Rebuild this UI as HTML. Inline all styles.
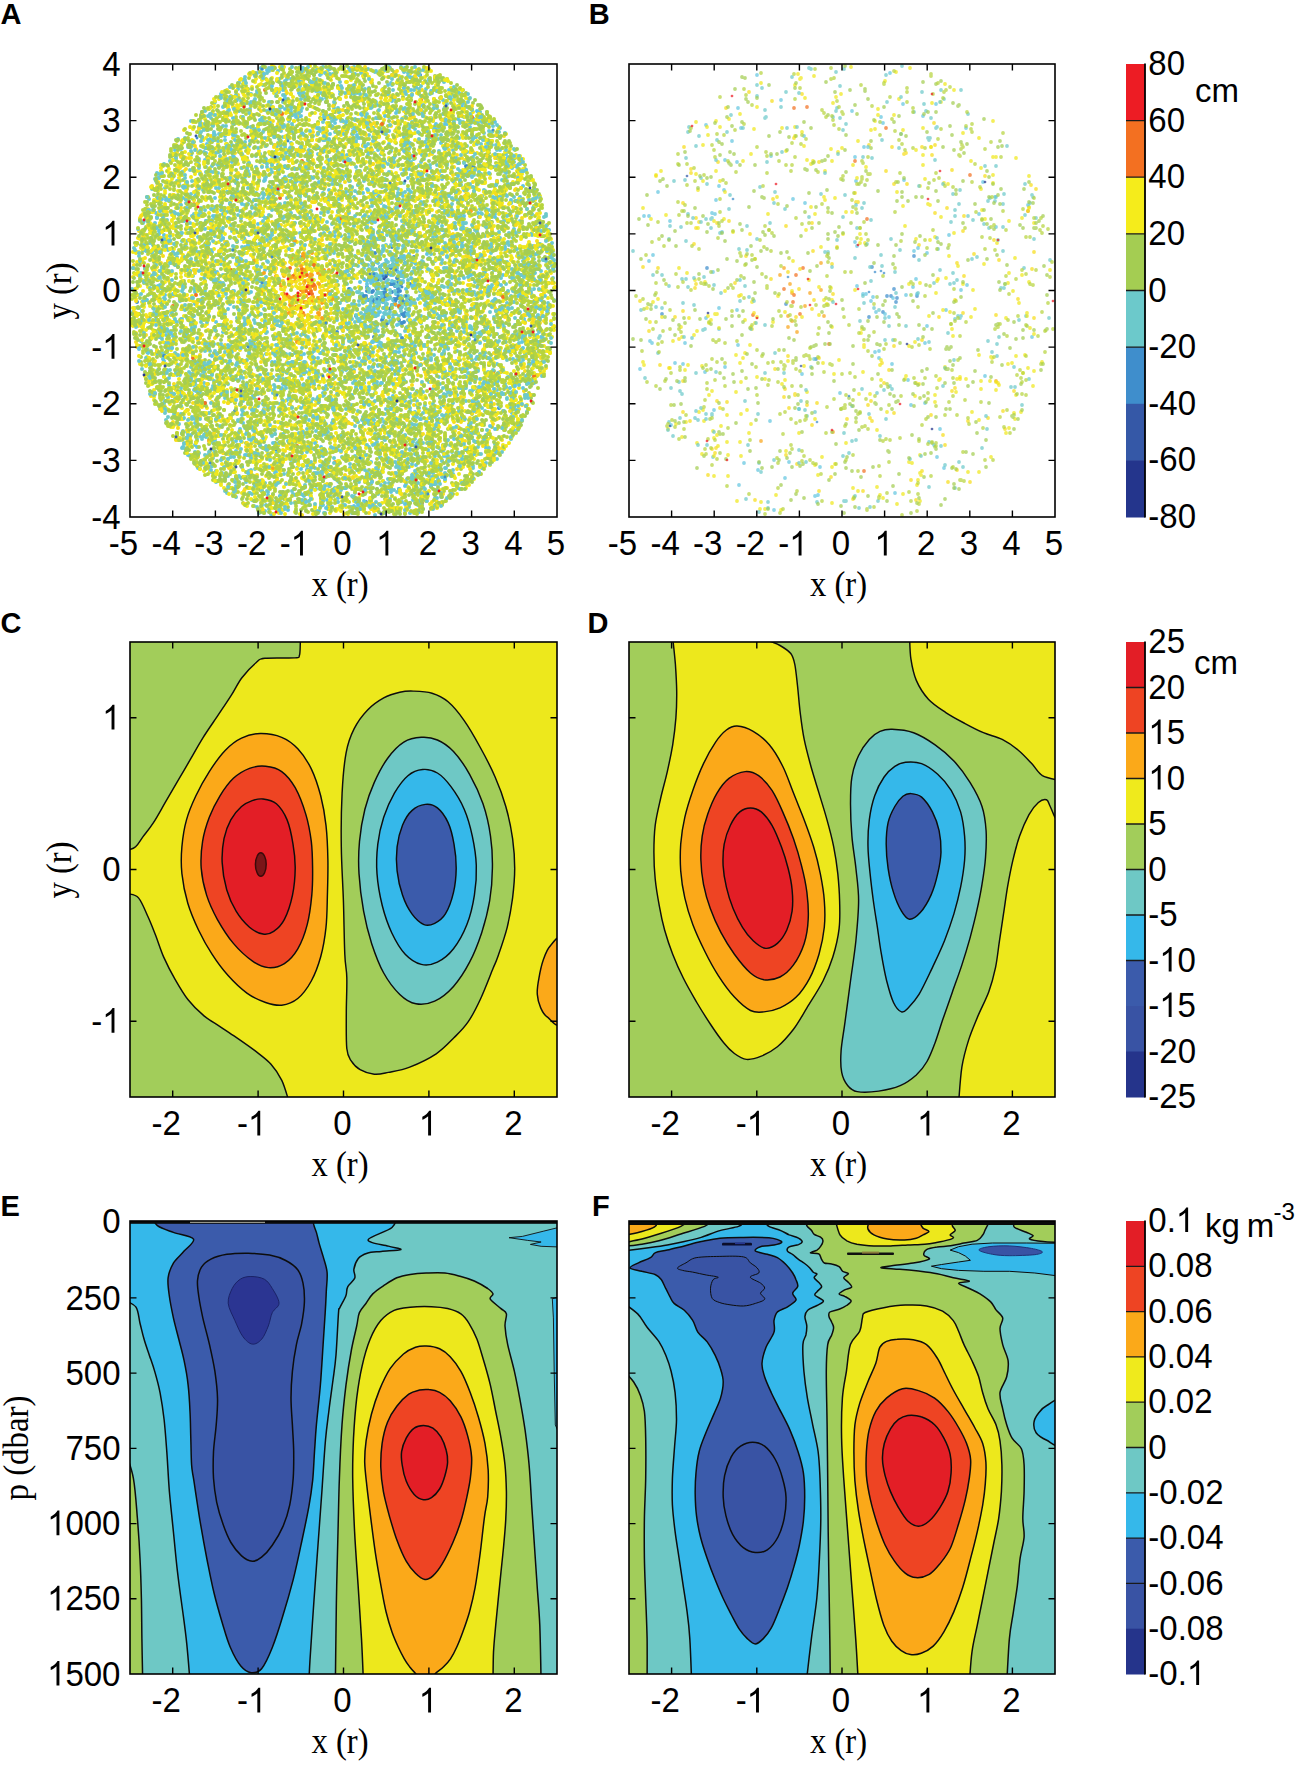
<!DOCTYPE html>
<html><head><meta charset="utf-8"><title>figure</title>
<style>html,body{margin:0;padding:0;background:#fff}svg{display:block}text{fill:#000}</style>
</head><body>
<svg width="1299" height="1769" viewBox="0 0 1299 1769">
<rect width="1299" height="1769" fill="#fff"/>
<filter id="sb" x="-2%" y="-2%" width="104%" height="104%"><feGaussianBlur stdDeviation="0.55"/></filter><g filter="url(#sb)"><path d="M265,90h0m156,10h0m-119,61h0m-22,37h0m-73,58h0m83,12h0m19,1h0m-78,1h0m72,0h0m-24,13h0m97,2h0m-61,2h0m-4,4h0m1,3h0m-3,5h0m2,2h0m-20,2h0m-118,3h0m123,1h0m-1,1h0m6,4h0m2,1h0m67,43h0m-168,23h0m257,49h0m-162,18h0m125,57h0" stroke="#F37021" stroke-width="4.0" stroke-linecap="round" fill="none"/>
<path d="M448,116h0m-79,6h0m-77,136h0m13,5h0m-2,7h0m21,0h0m5,0h0m-11,3h0m-7,1h0m1,1h0m24,0h0m-60,1h0m8,0h0m17,0h0m-1,3h0m9,2h0m-18,2h0m13,0h0m9,2h0m-32,1h0m27,0h0m7,1h0m-19,9h0m10,0h0m7,1h0m5,1h0m2,2h0m-7,1h0m-9,1h0m2,0h0m18,0h0m-16,1h0m14,0h0m-30,2h0m-6,8h0m32,0h0m1,0h0m-15,2h0m15,0h0m-10,1h0m19,1h0m-103,4h0m95,2h0m113,3h0m-141,17h0m-19,21h0m62,98h0" stroke="#F9A51C" stroke-width="4.0" stroke-linecap="round" fill="none"/>
<path d="M324,119h0m72,11h0m-115,53h0m112,5h0m-70,20h0m-104,18h0m179,19h0m-6,2h0m-17,6h0m39,4h0m-10,1h0m-5,1h0m6,4h0m-32,2h0m7,2h0m21,7h0m-27,2h0m10,2h0m10,4h0m4,0h0m-8,2h0m2,0h0m18,0h0m-15,2h0m-28,1h0m10,2h0m-10,2h0m33,0h0m-28,1h0m10,1h0m1,2h0m-17,1h0m0,1h0m28,2h0m2,0h0m14,0h0m-42,1h0m33,2h0m3,0h0m-9,2h0m-4,4h0m-35,8h0m26,4h0m22,2h0m17,0h0m-84,10h0m37,5h0m36,1h0m89,70h0m-100,81h0m-33,13h0" stroke="#3F8ECC" stroke-width="4.0" stroke-linecap="round" fill="none"/>
<path d="M303,68h0m41,0h0m5,0h0m56,0h0m-77,2h0m-25,1h0m4,0h0m-50,2h0m76,1h0m22,0h0m59,3h0m-171,3h0m42,5h0m44,1h0m32,0h0m-21,5h0m92,0h0m-128,6h0m22,1h0m69,1h0m56,0h0m-40,1h0m-157,1h0m-2,2h0m128,2h0m-92,1h0m135,0h0m35,0h0m4,0h0m-182,2h0m129,0h0m-170,3h0m62,0h0m39,0h0m-39,5h0m-3,1h0m38,2h0m122,0h0m16,0h0m-214,1h0m173,1h0m46,0h0m-245,3h0m96,0h0m117,0h0m-228,3h0m251,0h0m-138,1h0m168,0h0m-244,1h0m133,2h0m-98,1h0m1,1h0m65,2h0m-132,1h0m88,0h0m-30,1h0m-33,4h0m191,2h0m-234,1h0m156,1h0m-114,1h0m89,0h0m-47,1h0m75,0h0m44,0h0m96,0h0m-216,1h0m-115,2h0m44,0h0m73,0h0m135,0h0m73,0h0m-132,2h0m-186,1h0m78,1h0m47,0h0m-116,1h0m99,0h0m160,0h0m-55,1h0m-108,1h0m153,0h0m56,0h0m12,0h0m-300,1h0m262,1h0m35,0h0m-300,1h0m275,2h0m-146,2h0m12,1h0m163,1h0m-290,1h0m148,1h0m63,0h0m82,0h0m-155,3h0m114,0h0m-2,1h0m12,2h0m-11,1h0m-185,2h0m-126,1h0m124,1h0m60,0h0m99,0h0m-235,1h0m52,0h0m260,0h0m-222,1h0m200,0h0m-225,1h0m-93,2h0m253,0h0m37,1h0m54,1h0m-141,1h0m-198,1h0m145,2h0m80,0h0m-68,2h0m-18,1h0m-17,1h0m-67,1h0m139,1h0m25,0h0m66,0h0m68,0h0m-40,1h0m23,0h0m-337,1h0m32,0h0m17,0h0m42,1h0m-108,1h0m130,0h0m32,1h0m53,2h0m-44,2h0m81,3h0m-256,1h0m268,1h0m-39,1h0m-235,2h0m46,1h0m61,2h0m32,0h0m89,0h0m-21,1h0m-223,4h0m44,0h0m279,1h0m-308,1h0m234,0h0m-131,1h0m55,0h0m0,2h0m225,2h0m-210,1h0m128,0h0m10,0h0m-3,1h0m86,0h0m-167,3h0m63,1h0m-281,1h0m57,0h0m181,0h0m-67,1h0m6,0h0m50,0h0m52,0h0m-142,1h0m91,1h0m50,0h0m71,0h0m-133,1h0m-210,1h0m214,0h0m14,0h0m8,1h0m67,2h0m-245,1h0m127,0h0m-202,1h0m138,0h0m-67,1h0m146,1h0m151,0h0m-151,2h0m13,0h0m20,0h0m-163,5h0m115,2h0m176,0h0m-139,2h0m87,0h0m-78,1h0m-31,1h0m22,0h0m-16,2h0m-164,1h0m166,0h0m176,0h0m-158,1h0m-157,1h0m115,0h0m14,0h0m14,0h0m38,0h0m127,1h0m-31,1h0m38,0h0m-166,1h0m59,1h0m-79,1h0m34,1h0m49,0h0m-67,1h0m9,0h0m21,0h0m-31,1h0m-1,1h0m-5,1h0m16,0h0m110,0h0m-103,1h0m-196,2h0m150,0h0m-93,2h0m139,1h0m3,0h0m-30,1h0m4,0h0m9,0h0m17,0h0m-32,1h0m67,0h0m19,0h0m-90,1h0m11,0h0m21,2h0m-245,1h0m335,0h0m-122,1h0m16,0h0m16,0h0m93,0h0m-35,2h0m-224,1h0m111,0h0m108,0h0m-236,1h0m35,0h0m179,1h0m-68,1h0m-224,1h0m283,1h0m-218,2h0m36,0h0m183,0h0m8,0h0m-28,1h0m16,0h0m-51,1h0m19,0h0m64,1h0m-73,1h0m25,0h0m5,0h0m38,0h0m47,0h0m-297,1h0m168,0h0m79,0h0m8,0h0m-255,1h0m253,0h0m-48,1h0m-14,1h0m-251,2h0m208,1h0m182,1h0m-392,2h0m247,0h0m-2,1h0m0,0h0m-207,2h0m218,0h0m141,0h0m-180,1h0m26,0h0m45,0h0m55,1h0m-288,1h0m205,0h0m34,0h0m97,1h0m-113,2h0m107,0h0m-327,1h0m25,0h0m194,0h0m-145,1h0m97,0h0m59,0h0m-161,1h0m-8,4h0m112,0h0m93,0h0m-265,1h0m280,0h0m-94,2h0m30,0h0m-185,1h0m252,1h0m-300,1h0m222,0h0m49,0h0m67,1h0m-164,1h0m19,0h0m-185,2h0m161,0h0m100,1h0m-124,1h0m35,0h0m21,1h0m114,0h0m-111,1h0m-205,1h0m112,0h0m104,0h0m-176,1h0m24,0h0m154,1h0m-14,1h0m160,0h0m-151,1h0m128,0h0m-196,1h0m-173,1h0m204,0h0m46,3h0m143,0h0m-172,1h0m-210,1h0m59,0h0m50,0h0m38,0h0m64,3h0m-50,1h0m195,1h0m4,1h0m-353,1h0m108,1h0m249,1h0m-242,1h0m20,0h0m198,0h0m25,0h0m12,0h0m-321,1h0m25,1h0m140,0h0m-9,2h0m31,0h0m-233,2h0m143,0h0m44,0h0m-39,1h0m135,0h0m3,0h0m9,0h0m-147,1h0m160,0h0m-39,1h0m59,3h0m-222,1h0m110,0h0m-22,1h0m30,1h0m-77,1h0m41,0h0m-164,1h0m238,1h0m67,0h0m-310,1h0m178,0h0m170,0h0m-251,1h0m213,0h0m-327,1h0m55,0h0m61,0h0m41,1h0m187,0h0m-319,4h0m108,0h0m54,0h0m141,0h0m-264,1h0m-33,1h0m312,0h0m-239,1h0m95,0h0m-176,1h0m66,0h0m152,0h0m54,0h0m-112,1h0m-99,1h0m140,0h0m50,0h0m-47,1h0m-221,2h0m132,0h0m-20,1h0m18,0h0m100,1h0m39,0h0m-178,3h0m14,0h0m9,0h0m-4,3h0m215,0h0m0,0h0m-60,1h0m-176,1h0m55,1h0m91,1h0m-167,1h0m172,0h0m97,1h0m-79,2h0m-30,1h0m11,0h0m-203,3h0m210,0h0m40,0h0m2,1h0m49,2h0m-192,2h0m6,0h0m109,3h0m-43,2h0m122,1h0m-38,1h0m-289,1h0m278,0h0m-274,3h0m125,1h0m-81,1h0m5,1h0m138,0h0m-181,1h0m18,1h0m204,1h0m57,1h0m-118,2h0m-119,1h0m45,0h0m-87,2h0m22,0h0m74,0h0m28,0h0m-13,1h0m28,0h0m-122,2h0m124,0h0m159,0h0m-311,1h0m112,1h0m20,0h0m8,0h0m117,0h0m14,0h0m-212,3h0m38,1h0m161,0h0m-164,2h0m142,0h0m-33,1h0m-162,2h0m144,1h0m27,0h0m49,0h0m-219,4h0m53,0h0m41,0h0m87,1h0m-211,1h0m284,0h0m-104,1h0m-162,2h0m217,1h0m46,0h0m-257,1h0m92,1h0m56,0h0m45,0h0m7,1h0m-98,3h0m59,3h0m16,8h0m12,2h0m-128,1h0m108,0h0m-156,1h0m-2,1h0m108,3h0m-3,1h0m16,0h0m18,0h0m-92,2h0m47,0h0m86,0h0m-115,2h0m91,3h0m-61,1h0m64,3h0m31,0h0m-161,1h0m26,0h0m106,0h0m-75,1h0m65,1h0" stroke="#62C6E0" stroke-width="4.0" stroke-linecap="round" fill="none"/>
<path d="M272,66h0m57,1h0m5,2h0m-43,3h0m12,0h0m44,0h0m-61,4h0m102,1h0m-107,1h0m72,0h0m-36,1h0m-14,2h0m25,4h0m-17,1h0m0,0h0m-67,3h0m77,0h0m113,0h0m-12,1h0m-5,3h0m-179,2h0m226,0h0m-233,1h0m159,0h0m33,1h0m-106,4h0m117,4h0m-65,1h0m27,0h0m-161,2h0m153,0h0m-101,2h0m53,0h0m46,1h0m-52,1h0m-52,1h0m4,0h0m-8,1h0m52,1h0m-33,1h0m137,2h0m53,1h0m-103,1h0m-90,1h0m-100,1h0m255,0h0m-247,2h0m76,0h0m137,0h0m54,0h0m-105,1h0m-16,1h0m28,0h0m-125,1h0m41,0h0m21,1h0m-81,2h0m21,1h0m94,1h0m-122,1h0m9,0h0m195,1h0m-102,1h0m-41,1h0m102,0h0m-109,1h0m184,0h0m37,0h0m-238,1h0m73,0h0m60,1h0m-78,1h0m-135,1h0m168,0h0m148,2h0m7,0h0m-130,1h0m-94,1h0m35,0h0m21,1h0m125,0h0m-227,3h0m124,1h0m11,0h0m-62,1h0m91,0h0m-188,1h0m210,0h0m49,0h0m3,0h0m-296,1h0m21,0h0m222,0h0m-247,2h0m146,0h0m41,0h0m97,0h0m-121,1h0m8,0h0m-155,2h0m273,0h0m-117,1h0m-15,2h0m127,0h0m46,0h0m-229,1h0m37,0h0m66,0h0m76,0h0m-204,1h0m273,0h0m-304,1h0m133,0h0m22,0h0m46,1h0m-198,1h0m30,0h0m247,0h0m-214,1h0m33,0h0m65,0h0m72,0h0m-277,1h0m101,0h0m17,1h0m183,0h0m-247,1h0m74,0h0m100,0h0m68,0h0m-91,1h0m55,0h0m80,0h0m-253,1h0m110,0h0m134,0h0m-298,1h0m120,0h0m31,0h0m100,0h0m-260,1h0m264,0h0m-95,2h0m-111,1h0m114,0h0m62,0h0m-93,1h0m-120,1h0m73,0h0m135,0h0m28,0h0m-102,1h0m129,2h0m-113,2h0m-178,1h0m106,0h0m159,0h0m18,0h0m-325,1h0m165,0h0m-160,1h0m54,0h0m114,0h0m112,0h0m97,1h0m-243,1h0m225,0h0m-166,1h0m110,2h0m-1,1h0m-20,1h0m3,0h0m25,0h0m-279,1h0m-18,2h0m63,0h0m85,0h0m20,0h0m35,0h0m109,0h0m-279,1h0m120,0h0m26,1h0m-44,3h0m156,0h0m-281,1h0m312,0h0m17,1h0m17,0h0m-117,1h0m116,0h0m-264,3h0m11,0h0m119,2h0m-204,1h0m176,0h0m53,0h0m-249,1h0m50,0h0m82,0h0m155,0h0m63,1h0m-110,1h0m-21,1h0m31,1h0m32,0h0m62,0h0m-259,1h0m189,0h0m48,0h0m41,1h0m-303,1h0m84,1h0m176,0h0m-168,1h0m27,0h0m152,0h0m-55,1h0m-189,1h0m180,0h0m-167,1h0m212,1h0m-306,1h0m67,0h0m61,0h0m13,0h0m-84,2h0m28,0h0m194,0h0m26,0h0m-210,1h0m12,0h0m168,0h0m84,0h0m-120,1h0m-130,1h0m33,0h0m-100,1h0m74,0h0m45,0h0m80,0h0m-150,1h0m-19,1h0m64,0h0m144,0h0m-308,1h0m-2,1h0m404,0h0m-225,1h0m-54,1h0m231,0h0m-61,1h0m-193,1h0m26,0h0m275,0h0m-269,1h0m-52,1h0m286,0h0m-345,2h0m256,0h0m82,0h0m-213,1h0m19,0h0m241,0h0m-230,1h0m-166,1h0m337,0h0m20,0h0m17,0h0m-335,1h0m357,0h0m-289,1h0m39,0h0m162,0h0m-206,1h0m34,0h0m55,0h0m67,2h0m-109,1h0m139,1h0m53,6h0m-220,1h0m24,0h0m162,0h0m-305,1h0m319,0h0m-267,1h0m67,0h0m205,0h0m67,0h0m-270,1h0m14,0h0m149,0h0m12,0h0m-179,1h0m203,0h0m-313,1h0m23,1h0m146,0h0m-31,2h0m45,0h0m-194,1h0m28,0h0m16,0h0m123,0h0m-24,1h0m10,0h0m-97,1h0m261,0h0m30,0h0m-45,1h0m-172,1h0m12,0h0m28,0h0m157,0h0m-342,1h0m87,0h0m80,0h0m37,0h0m-53,1h0m16,0h0m-172,1h0m136,2h0m-127,1h0m27,1h0m135,1h0m-14,1h0m205,0h0m-43,1h0m-272,2h0m317,0h0m-212,1h0m7,0h0m28,0h0m223,0h0m-235,1h0m-173,1h0m18,0h0m5,0h0m322,0h0m-283,1h0m127,0h0m190,1h0m-288,1h0m94,0h0m149,1h0m39,0h0m36,0h0m-222,1h0m4,1h0m178,0h0m-331,1h0m11,0h0m61,1h0m39,0h0m46,1h0m-140,2h0m305,0h0m25,0h0m-290,1h0m71,0h0m193,0h0m-344,1h0m140,0h0m29,0h0m224,1h0m-361,3h0m116,0h0m187,0h0m48,0h0m-246,3h0m10,0h0m-7,1h0m170,0h0m-184,1h0m6,0h0m215,1h0m-361,1h0m26,0h0m82,0h0m87,0h0m123,0h0m-246,2h0m298,0h0m-372,1h0m207,0h0m139,0h0m-203,1h0m258,1h0m-226,1h0m155,0h0m-251,1h0m112,0h0m122,0h0m61,0h0m-225,1h0m176,0h0m85,0h0m-402,1h0m96,0h0m307,0h0m-248,1h0m14,0h0m229,0h0m-263,1h0m22,0h0m-140,1h0m82,0h0m2,0h0m291,0h0m-168,1h0m-56,1h0m-36,1h0m18,0h0m-84,2h0m40,1h0m-112,2h0m49,0h0m128,0h0m100,0h0m20,0h0m-264,1h0m155,0h0m-178,1h0m28,0h0m188,0h0m163,1h0m-228,1h0m217,0h0m28,0h0m-86,1h0m-305,1h0m158,0h0m135,0h0m-191,1h0m53,0h0m136,0h0m-145,1h0m-87,1h0m329,0h0m-125,1h0m-105,1h0m132,0h0m-293,1h0m103,0h0m11,0h0m60,0h0m67,0h0m-96,1h0m226,0h0m-275,1h0m37,0h0m-49,2h0m22,0h0m5,0h0m224,1h0m49,0h0m-304,1h0m45,0h0m212,1h0m-69,1h0m84,0h0m-324,1h0m94,0h0m4,0h0m-74,1h0m62,0h0m30,0h0m73,0h0m78,0h0m-278,1h0m58,0h0m303,1h0m-377,1h0m90,0h0m50,0h0m22,0h0m3,0h0m100,0h0m37,0h0m75,0h0m-215,1h0m56,0h0m168,0h0m-270,2h0m31,0h0m131,0h0m26,0h0m-192,1h0m26,0h0m29,0h0m-153,1h0m50,0h0m212,0h0m-4,1h0m43,0h0m-257,1h0m189,0h0m-204,1h0m86,0h0m206,0h0m-292,1h0m36,1h0m66,0h0m252,0h0m-387,1h0m55,0h0m119,0h0m27,0h0m52,0h0m65,0h0m-95,1h0m21,0h0m-182,1h0m304,0h0m-171,1h0m80,0h0m107,1h0m-390,1h0m4,0h0m84,0h0m11,0h0m2,0h0m-79,1h0m245,0h0m8,0h0m21,0h0m23,0h0m-246,1h0m42,1h0m190,0h0m-186,1h0m10,0h0m147,1h0m54,0h0m-332,2h0m251,0h0m132,2h0m-358,1h0m353,0h0m-340,1h0m172,0h0m39,0h0m81,2h0m27,0h0m-300,1h0m231,0h0m50,0h0m-122,1h0m130,0h0m-319,1h0m118,0h0m-125,1h0m137,0h0m31,0h0m69,0h0m-217,3h0m265,0h0m-123,1h0m72,0h0m107,0h0m-359,1h0m282,0h0m47,0h0m-234,2h0m115,0h0m43,1h0m-104,1h0m-128,1h0m319,0h0m-279,1h0m-19,1h0m35,0h0m284,0h0m1,0h0m-223,1h0m204,0h0m-179,1h0m99,0h0m-83,1h0m14,0h0m-143,1h0m43,0h0m161,1h0m-87,1h0m4,0h0m170,0h0m-318,1h0m89,0h0m19,0h0m52,0h0m6,0h0m-179,1h0m314,1h0m-20,1h0m-278,1h0m22,3h0m113,0h0m-62,1h0m242,0h0m-270,1h0m98,0h0m-103,1h0m258,0h0m30,1h0m-333,1h0m184,0h0m44,0h0m-223,3h0m252,0h0m-143,1h0m14,0h0m98,1h0m35,2h0m-247,1h0m137,1h0m-69,1h0m179,0h0m-228,1h0m41,0h0m78,0h0m-112,2h0m41,0h0m62,2h0m47,0h0m38,0h0m31,0h0m-245,1h0m177,0h0m-33,1h0m-153,1h0m192,0h0m20,1h0m50,0h0m-99,1h0m-60,1h0m10,1h0m75,1h0m-49,1h0m181,1h0m-260,1h0m264,0h0m-30,1h0m-130,1h0m130,0h0m-187,1h0m108,1h0m12,0h0m29,1h0m-221,1h0m172,1h0m86,0h0m-169,1h0m43,1h0m41,1h0m-191,1h0m194,0h0m10,0h0m43,1h0m-127,2h0m153,0h0m-78,1h0m42,0h0m-106,1h0m77,2h0m-172,1h0m62,0h0m60,0h0m-124,1h0m42,0h0m166,1h0m20,0h0m-40,1h0m-25,3h0m38,0h0m-173,2h0m88,0h0m93,0h0m-85,2h0m65,0h0m-156,3h0m174,2h0m-13,1h0m2,0h0m-107,1h0m-90,1h0m195,1h0m-118,1h0m85,0h0m1,1h0m56,0h0m-202,1h0m165,1h0m-78,1h0m103,0h0m16,0h0m-66,2h0m16,1h0m1,0h0m41,0h0m-195,2h0m168,3h0m-107,2h0m12,0h0m-26,1h0m79,2h0m-90,1h0m26,0h0m62,0h0m-57,1h0m14,1h0m108,1h0m-6,1h0m-15,1h0m-47,3h0m-25,1h0m-42,1h0" stroke="#F6DD1B" stroke-width="4.0" stroke-linecap="round" fill="none"/>
<path d="M310,66h0m-36,1h0m43,1h0m25,1h0m15,0h0m-85,1h0m88,0h0m57,0h0m-54,1h0m42,0h0m14,0h0m6,0h0m-88,1h0m46,0h0m-134,2h0m6,1h0m8,0h0m1,0h0m130,1h0m5,0h0m-112,1h0m82,0h0m56,0h0m-163,1h0m10,0h0m-16,1h0m40,0h0m2,1h0m33,0h0m20,0h0m21,0h0m-50,1h0m91,1h0m-129,1h0m20,1h0m-45,1h0m177,0h0m-201,1h0m4,0h0m43,0h0m-30,1h0m41,0h0m48,0h0m59,0h0m-82,1h0m87,0h0m46,0h0m-93,1h0m58,0h0m-68,1h0m0,0h0m60,1h0m-160,1h0m26,1h0m58,1h0m14,0h0m-16,1h0m94,0h0m38,1h0m-235,1h0m66,0h0m38,0h0m8,1h0m47,0h0m80,0h0m-252,1h0m5,0h0m8,0h0m130,0h0m-57,1h0m85,0h0m13,0h0m22,0h0m-130,1h0m64,0h0m5,0h0m88,0h0m-60,1h0m38,0h0m19,1h0m-230,1h0m240,0h0m-217,1h0m62,0h0m-55,1h0m22,0h0m189,0h0m4,0h0m-245,1h0m19,0h0m80,0h0m-85,1h0m45,0h0m-39,1h0m228,0h0m-256,1h0m131,0h0m10,1h0m-123,1h0m45,0h0m121,0h0m75,0h0m8,0h0m-243,1h0m85,0h0m69,0h0m22,0h0m42,0h0m5,0h0m-160,1h0m28,0h0m37,0h0m-148,1h0m122,0h0m33,0h0m-140,1h0m55,0h0m100,0h0m109,0h0m-287,1h0m49,0h0m12,0h0m75,0h0m12,0h0m75,0h0m65,0h0m-122,1h0m81,0h0m32,0h0m4,1h0m-215,1h0m39,0h0m-115,1h0m100,0h0m73,0h0m-152,1h0m51,0h0m78,0h0m-135,1h0m109,0h0m9,0h0m50,0h0m-138,1h0m68,0h0m45,0h0m113,0h0m-110,1h0m26,0h0m49,0h0m-149,1h0m1,0h0m162,0h0m13,0h0m-267,1h0m147,0h0m35,0h0m41,0h0m19,0h0m-33,1h0m41,0h0m-247,1h0m11,0h0m97,0h0m127,0h0m-70,1h0m24,0h0m116,0h0m-269,1h0m2,0h0m27,0h0m14,0h0m123,0h0m-54,1h0m34,0h0m4,0h0m47,0h0m-171,1h0m68,0h0m17,0h0m71,0h0m37,0h0m-222,1h0m3,0h0m81,0h0m51,0h0m24,0h0m121,0h0m-235,1h0m70,0h0m149,0h0m-212,1h0m119,0h0m50,0h0m43,0h0m-205,1h0m51,0h0m14,1h0m58,0h0m36,0h0m-257,1h0m66,0h0m34,0h0m155,0h0m43,0h0m-282,1h0m53,0h0m11,0h0m60,0h0m62,0h0m26,0h0m-24,1h0m65,0h0m21,0h0m-93,1h0m-122,1h0m213,0h0m15,0h0m0,0h0m-308,1h0m36,0h0m45,0h0m223,0h0m-310,1h0m27,0h0m204,0h0m-199,1h0m147,0h0m88,0h0m1,0h0m44,0h0m19,0h0m-329,1h0m2,0h0m125,0h0m-89,1h0m31,0h0m80,0h0m176,0h0m-226,1h0m91,0h0m14,0h0m48,0h0m80,0h0m-314,1h0m24,0h0m76,0h0m57,0h0m66,0h0m1,0h0m-161,1h0m41,0h0m82,0h0m-197,1h0m32,0h0m141,0h0m37,0h0m-110,1h0m58,0h0m134,0h0m-52,1h0m18,0h0m-131,1h0m114,0h0m3,0h0m-247,1h0m31,0h0m212,0h0m-88,1h0m70,0h0m36,0h0m-252,1h0m95,0h0m103,0h0m63,0h0m-179,1h0m84,0h0m87,0h0m67,0h0m12,0h0m-350,1h0m58,0h0m158,0h0m76,0h0m-236,1h0m8,0h0m284,0h0m-243,1h0m88,0h0m15,0h0m93,0h0m-255,1h0m9,0h0m86,0h0m92,0h0m46,0h0m47,0h0m-273,1h0m46,0h0m120,0h0m-231,1h0m4,0h0m14,0h0m231,0h0m-131,1h0m115,0h0m18,0h0m99,0h0m-225,1h0m-76,1h0m31,0h0m6,0h0m74,0h0m187,0h0m-277,1h0m149,0h0m21,0h0m79,0h0m-288,1h0m2,0h0m16,0h0m129,0h0m124,0h0m-279,1h0m13,0h0m83,0h0m44,0h0m26,0h0m-188,1h0m84,0h0m72,0h0m5,0h0m91,0h0m7,0h0m58,0h0m-308,1h0m4,0h0m6,1h0m35,0h0m21,0h0m169,0h0m27,0h0m54,0h0m-308,1h0m4,0h0m18,0h0m131,0h0m86,0h0m-187,1h0m0,0h0m210,0h0m21,0h0m-22,1h0m-261,1h0m31,0h0m123,0h0m116,0h0m31,0h0m10,0h0m-286,2h0m327,0h0m-364,1h0m138,0h0m108,0h0m-255,1h0m28,0h0m67,0h0m118,0h0m4,0h0m15,0h0m123,0h0m-316,1h0m16,0h0m4,1h0m30,0h0m7,0h0m176,0h0m97,0h0m-357,1h0m15,0h0m29,0h0m30,0h0m6,0h0m43,0h0m96,0h0m-185,1h0m46,0h0m140,0h0m32,0h0m-215,1h0m1,0h0m18,0h0m4,0h0m45,0h0m38,0h0m108,0h0m34,0h0m54,0h0m-283,1h0m108,0h0m54,0h0m81,0h0m31,0h0m-301,1h0m58,0h0m105,0h0m133,0h0m-187,1h0m3,0h0m40,0h0m67,0h0m88,0h0m-348,1h0m20,0h0m89,0h0m17,0h0m201,0h0m9,0h0m11,0h0m-192,1h0m55,0h0m11,0h0m4,0h0m116,0h0m-252,1h0m240,0h0m-220,1h0m21,0h0m88,0h0m11,0h0m12,0h0m34,0h0m40,0h0m12,0h0m-311,1h0m61,0h0m153,0h0m113,0h0m-187,1h0m75,0h0m17,0h0m-236,1h0m121,0h0m146,0h0m91,0h0m-304,1h0m22,0h0m96,0h0m56,0h0m22,0h0m15,0h0m9,0h0m34,1h0m41,0h0m-365,1h0m112,0h0m76,0h0m103,0h0m14,0h0m72,0h0m4,0h0m-304,1h0m231,0h0m-198,1h0m7,0h0m0,0h0m80,0h0m25,0h0m102,0h0m-150,1h0m174,0h0m-305,1h0m50,0h0m41,0h0m101,0h0m9,0h0m63,0h0m-186,1h0m74,0h0m189,0h0m1,0h0m-374,1h0m31,0h0m24,0h0m115,0h0m7,0h0m88,0h0m105,0h0m-188,1h0m153,0h0m5,0h0m-237,1h0m86,0h0m89,0h0m49,0h0m3,0h0m-347,1h0m74,0h0m36,0h0m15,0h0m106,0h0m139,0h0m9,0h0m-298,1h0m95,0h0m86,0h0m19,0h0m3,0h0m-251,1h0m42,0h0m79,0h0m47,0h0m21,0h0m-38,1h0m49,0h0m29,0h0m48,0h0m36,0h0m27,0h0m-338,1h0m73,0h0m22,0h0m104,0h0m158,0h0m-397,1h0m217,0h0m13,0h0m12,0h0m121,0h0m-364,1h0m30,0h0m26,0h0m329,0h0m-341,1h0m48,0h0m10,0h0m5,0h0m88,0h0m3,0h0m27,0h0m103,0h0m20,0h0m-291,1h0m103,0h0m78,0h0m23,0h0m76,0h0m8,0h0m-347,1h0m17,0h0m6,0h0m56,0h0m49,0h0m44,0h0m-172,1h0m24,0h0m86,0h0m54,0h0m31,0h0m14,0h0m4,0h0m29,0h0m33,0h0m29,0h0m60,0h0m34,0h0m-375,1h0m9,0h0m96,0h0m12,0h0m26,0h0m101,0h0m-235,1h0m56,0h0m26,0h0m34,0h0m57,1h0m128,0h0m42,0h0m-365,1h0m18,0h0m44,0h0m8,0h0m41,0h0m193,0h0m-303,1h0m12,0h0m24,0h0m6,0h0m147,0h0m64,0h0m116,0h0m-300,1h0m22,0h0m26,0h0m40,0h0m59,0h0m15,0h0m27,0h0m-215,1h0m173,0h0m94,0h0m59,0h0m-355,1h0m100,0h0m28,0h0m31,0h0m126,0h0m39,0h0m12,0h0m35,0h0m-361,1h0m15,0h0m18,0h0m-22,1h0m25,0h0m138,0h0m75,0h0m43,0h0m57,0h0m-332,1h0m102,0h0m9,0h0m64,0h0m169,0h0m-208,1h0m220,0h0m-388,1h0m63,0h0m22,0h0m30,0h0m174,0h0m15,0h0m-278,1h0m64,0h0m41,0h0m148,0h0m93,0h0m9,0h0m7,0h0m-354,1h0m63,0h0m15,0h0m12,0h0m126,0h0m3,0h0m44,0h0m-284,1h0m21,0h0m74,0h0m85,0h0m27,0h0m2,0h0m13,0h0m12,0h0m85,0h0m-325,1h0m24,0h0m2,0h0m186,0h0m3,0h0m142,0h0m-365,1h0m20,0h0m24,0h0m98,0h0m37,0h0m-200,1h0m326,0h0m30,0h0m-354,1h0m204,0h0m31,0h0m176,0h0m-382,1h0m150,0h0m37,0h0m120,0h0m-222,1h0m214,0h0m11,0h0m17,0h0m-332,1h0m55,0h0m25,0h0m53,0h0m232,0h0m-227,1h0m158,0h0m33,0h0m14,0h0m-361,1h0m18,0h0m27,0h0m85,0h0m173,0h0m29,0h0m-219,1h0m59,0h0m4,0h0m8,0h0m100,0h0m98,0h0m-109,1h0m38,0h0m-310,1h0m47,0h0m30,0h0m32,0h0m31,0h0m156,0h0m12,0h0m2,0h0m66,0h0m2,0h0m10,0h0m-376,1h0m65,0h0m38,0h0m184,0h0m-272,1h0m83,0h0m181,0h0m62,0h0m-223,1h0m57,0h0m61,0h0m-239,1h0m130,0h0m120,0h0m-273,1h0m195,0h0m119,0h0m6,0h0m94,0h0m-386,1h0m41,0h0m117,0h0m78,0h0m104,0h0m37,0h0m-314,1h0m256,0h0m70,0h0m-380,1h0m72,0h0m160,0h0m81,0h0m-206,1h0m32,0h0m29,0h0m173,0h0m6,0h0m-310,1h0m283,0h0m-166,1h0m125,0h0m-152,1h0m20,0h0m175,0h0m-310,1h0m23,0h0m91,0h0m2,0h0m183,0h0m9,0h0m8,0h0m13,0h0m-371,1h0m174,0h0m84,0h0m87,0h0m-294,1h0m22,0h0m77,0h0m24,0h0m185,0h0m6,0h0m9,0h0m-321,1h0m91,0h0m31,0h0m164,0h0m-254,1h0m78,0h0m24,0h0m36,0h0m55,0h0m-226,1h0m9,0h0m0,0h0m81,0h0m26,0h0m111,0h0m110,0h0m11,1h0m-333,1h0m18,0h0m82,0h0m119,0h0m43,0h0m64,0h0m-305,1h0m41,0h0m46,0h0m3,0h0m100,0h0m18,0h0m40,0h0m-170,1h0m160,0h0m29,0h0m-179,1h0m122,0h0m-279,1h0m47,0h0m96,0h0m30,0h0m37,0h0m58,0h0m11,0h0m15,0h0m-113,1h0m4,0h0m123,0h0m4,0h0m75,0h0m-401,1h0m27,0h0m9,0h0m125,0h0m245,0h0m-349,1h0m102,0h0m54,0h0m134,0h0m33,0h0m-313,1h0m2,0h0m127,0h0m145,0h0m13,0h0m-341,1h0m301,0h0m74,0h0m-352,1h0m111,0h0m5,0h0m24,0h0m132,0h0m2,0h0m-304,1h0m336,0h0m40,0h0m-373,1h0m80,0h0m-4,1h0m69,0h0m32,0h0m34,0h0m74,0h0m94,0h0m-384,1h0m40,0h0m81,0h0m21,0h0m-126,1h0m55,0h0m18,0h0m37,0h0m57,0h0m164,0h0m-257,1h0m70,0h0m9,0h0m120,0h0m25,0h0m91,0h0m-360,1h0m70,1h0m266,0h0m-390,1h0m124,0h0m2,0h0m30,0h0m146,0h0m80,0h0m-249,1h0m-12,1h0m37,0h0m215,0h0m-340,1h0m18,0h0m37,1h0m74,0h0m237,0h0m-396,1h0m27,0h0m43,0h0m10,0h0m40,0h0m194,0h0m5,0h0m37,0h0m48,0h0m-226,1h0m17,0h0m95,0h0m37,1h0m24,0h0m-284,1h0m256,0h0m21,0h0m-350,1h0m23,0h0m9,0h0m310,0h0m53,0h0m-340,1h0m26,0h0m60,0h0m10,0h0m-56,1h0m42,0h0m61,0h0m176,0h0m-354,1h0m1,0h0m81,0h0m209,0h0m30,0h0m27,0h0m43,0h0m-412,1h0m153,0h0m222,0h0m-358,1h0m156,0h0m6,0h0m30,0h0m100,0h0m23,0h0m73,0h0m-212,1h0m77,0h0m97,0h0m-341,1h0m108,0h0m223,0h0m20,0h0m-241,1h0m7,0h0m15,0h0m45,0h0m93,0h0m54,0h0m58,0h0m-230,1h0m129,0h0m48,0h0m-289,1h0m6,0h0m3,0h0m57,0h0m59,0h0m-142,1h0m12,0h0m151,0h0m190,0h0m6,0h0m9,0h0m-353,1h0m78,0h0m71,0h0m-106,1h0m69,0h0m12,0h0m210,0h0m11,0h0m-289,1h0m184,0h0m10,0h0m26,0h0m-253,1h0m233,0h0m9,0h0m-270,1h0m144,0h0m93,0h0m45,0h0m21,0h0m44,1h0m-303,1h0m20,0h0m36,0h0m171,0h0m36,0h0m17,0h0m-160,1h0m118,0h0m-331,1h0m54,0h0m66,0h0m5,0h0m77,0h0m64,0h0m-275,1h0m47,0h0m97,0h0m-107,1h0m83,0h0m51,0h0m19,0h0m-61,1h0m9,0h0m57,0h0m4,0h0m172,0h0m14,0h0m-358,1h0m159,0h0m144,0h0m9,0h0m24,0h0m-367,1h0m36,0h0m93,0h0m73,0h0m194,0h0m-339,1h0m115,0h0m2,0h0m14,0h0m29,0h0m189,0h0m12,0h0m-378,1h0m8,0h0m58,0h0m226,0h0m-308,1h0m93,0h0m46,0h0m236,0h0m-325,1h0m144,0h0m-133,1h0m76,0h0m18,0h0m34,0h0m104,0h0m26,0h0m14,0h0m-349,1h0m151,0h0m27,0h0m134,0h0m-169,1h0m10,0h0m17,0h0m30,0h0m5,0h0m186,0h0m-389,1h0m148,0h0m22,1h0m93,0h0m122,0h0m23,0h0m-398,1h0m71,0h0m185,0h0m145,0h0m-397,1h0m251,0h0m96,0h0m-335,1h0m25,0h0m133,0h0m160,0h0m20,0h0m-262,1h0m48,0h0m10,0h0m58,0h0m55,0h0m50,0h0m16,0h0m-281,1h0m307,0h0m-184,1h0m145,0h0m50,0h0m28,0h0m-221,1h0m102,0h0m-238,1h0m133,0h0m15,0h0m70,0h0m122,0h0m22,0h0m-307,1h0m192,0h0m31,0h0m39,0h0m27,0h0m-341,1h0m44,0h0m58,0h0m139,0h0m84,0h0m8,0h0m-177,1h0m106,0h0m79,0h0m-362,1h0m4,0h0m16,0h0m99,0h0m15,0h0m84,0h0m52,0h0m8,0h0m85,0h0m8,0h0m-226,1h0m101,0h0m62,0h0m11,0h0m-287,2h0m103,0h0m153,0h0m4,0h0m-192,1h0m22,0h0m19,0h0m109,0h0m22,0h0m69,0h0m4,0h0m-379,1h0m57,0h0m14,0h0m11,0h0m36,0h0m3,0h0m54,0h0m113,0h0m66,0h0m52,0h0m-406,1h0m82,0h0m47,0h0m52,0h0m148,0h0m18,0h0m-295,1h0m311,0h0m-315,1h0m204,0h0m127,0h0m31,0h0m-400,1h0m9,0h0m14,0h0m12,0h0m24,0h0m71,0h0m46,0h0m203,0h0m-341,1h0m6,0h0m348,0h0m-13,1h0m23,0h0m-388,1h0m23,0h0m243,0h0m122,0h0m-396,1h0m113,0h0m237,0h0m-335,1h0m55,0h0m74,0h0m184,0h0m29,0h0m-324,1h0m97,0h0m105,0h0m79,0h0m-321,1h0m18,0h0m55,0h0m69,0h0m95,0h0m139,0h0m-225,1h0m190,0h0m-107,1h0m32,0h0m31,0h0m20,0h0m29,0h0m-180,1h0m92,1h0m-251,1h0m92,0h0m47,0h0m120,0h0m43,0h0m-212,1h0m30,0h0m195,0h0m25,0h0m42,0h0m-370,1h0m177,0h0m19,0h0m73,0h0m89,0h0m-35,1h0m-297,1h0m273,0h0m-239,1h0m31,0h0m128,0h0m57,0h0m-127,1h0m56,0h0m92,0h0m3,0h0m37,0h0m19,0h0m-345,1h0m211,0h0m9,1h0m-241,1h0m239,0h0m32,0h0m13,0h0m74,0h0m-282,1h0m132,0h0m91,0h0m49,0h0m-323,1h0m106,0h0m11,0h0m76,0h0m96,0h0m37,0h0m-354,1h0m33,0h0m133,0h0m167,0h0m-232,1h0m120,0h0m96,0h0m-325,1h0m4,0h0m210,0h0m8,0h0m119,0h0m24,0h0m0,0h0m-264,1h0m49,0h0m173,0h0m-262,1h0m1,0h0m25,0h0m28,0h0m29,0h0m22,0h0m2,0h0m71,0h0m42,0h0m-275,1h0m38,0h0m23,0h0m23,0h0m59,0h0m45,0h0m56,0h0m114,0h0m-136,1h0m19,0h0m78,0h0m42,0h0m2,0h0m-319,1h0m122,0h0m59,0h0m-212,1h0m128,0h0m19,0h0m9,0h0m25,0h0m86,0h0m88,0h0m-298,1h0m42,0h0m72,0h0m34,0h0m111,0h0m31,0h0m-316,1h0m101,0h0m126,0h0m37,0h0m60,0h0m-297,1h0m23,0h0m3,0h0m249,0h0m-256,1h0m64,0h0m52,0h0m156,0h0m-353,1h0m57,0h0m24,0h0m128,0h0m85,0h0m-234,1h0m131,0h0m58,0h0m47,0h0m-215,1h0m267,0h0m-354,1h0m73,0h0m23,0h0m22,0h0m90,0h0m-139,1h0m141,0h0m119,0h0m-143,1h0m66,0h0m14,0h0m58,0h0m12,0h0m-318,1h0m11,0h0m43,0h0m117,0h0m77,0h0m71,0h0m25,0h0m-295,1h0m124,0h0m43,0h0m76,0h0m20,0h0m2,0h0m11,0h0m-289,1h0m29,0h0m45,0h0m100,0h0m151,0h0m-42,1h0m20,0h0m14,0h0m-371,1h0m152,0h0m39,0h0m75,0h0m11,0h0m33,0h0m24,0h0m-278,1h0m7,0h0m114,0h0m67,0h0m34,0h0m-264,1h0m19,0h0m80,0h0m117,0h0m39,0h0m67,0h0m1,0h0m-308,1h0m109,0h0m159,0h0m32,0h0m30,0h0m3,0h0m-314,1h0m32,0h0m51,0h0m197,0h0m-253,1h0m163,0h0m-141,1h0m15,0h0m7,0h0m34,0h0m85,0h0m38,0h0m-260,1h0m178,0h0m171,0h0m-355,1h0m0,0h0m288,0h0m9,0h0m10,0h0m56,0h0m-204,1h0m14,0h0m107,0h0m63,0h0m-326,1h0m55,0h0m63,0h0m31,0h0m34,0h0m144,0h0m3,0h0m3,0h0m-307,1h0m35,0h0m69,0h0m38,0h0m164,0h0m-351,1h0m93,0h0m194,0h0m-101,1h0m164,0h0m-327,2h0m252,0h0m15,0h0m-249,1h0m7,0h0m8,0h0m43,0h0m29,0h0m98,0h0m30,0h0m80,0h0m-314,1h0m22,0h0m60,0h0m113,0h0m12,0h0m-216,1h0m110,0h0m53,0h0m38,0h0m25,0h0m35,0h0m26,0h0m17,0h0m35,0h0m-266,1h0m44,0h0m4,0h0m220,0h0m-172,1h0m160,0h0m-298,1h0m190,0h0m-213,1h0m60,0h0m40,0h0m21,0h0m86,0h0m-133,1h0m64,0h0m43,0h0m-148,1h0m5,0h0m5,0h0m39,0h0m58,0h0m21,0h0m88,0h0m9,0h0m51,0h0m26,0h0m-257,1h0m8,0h0m10,0h0m22,0h0m43,0h0m0,0h0m46,0h0m49,0h0m31,0h0m-279,1h0m75,0h0m73,0h0m-54,1h0m23,0h0m27,0h0m40,0h0m-168,1h0m44,0h0m57,0h0m7,0h0m76,0h0m23,0h0m94,0h0m-296,1h0m69,0h0m37,0h0m110,0h0m9,0h0m13,0h0m70,0h0m-349,1h0m32,0h0m8,0h0m62,0h0m2,0h0m20,0h0m32,0h0m6,0h0m55,0h0m40,0h0m11,0h0m19,0h0m-239,1h0m60,0h0m56,0h0m1,0h0m135,0h0m-139,1h0m84,0h0m57,0h0m-278,1h0m37,0h0m94,0h0m39,0h0m42,0h0m-167,1h0m63,0h0m69,0h0m83,0h0m18,0h0m-264,1h0m114,0h0m-65,1h0m122,0h0m60,0h0m-144,1h0m50,0h0m25,0h0m-128,1h0m99,0h0m9,0h0m104,0h0m14,0h0m-270,1h0m20,0h0m5,0h0m192,0h0m-150,1h0m28,0h0m192,0h0m-79,1h0m33,0h0m-200,1h0m222,0h0m26,0h0m-306,1h0m118,0h0m35,1h0m30,0h0m38,0h0m59,0h0m23,0h0m-243,1h0m12,0h0m62,0h0m153,0h0m-97,1h0m28,0h0m98,0h0m-208,1h0m148,0h0m49,0h0m-182,1h0m30,0h0m98,0h0m70,0h0m-314,1h0m155,0h0m54,0h0m33,0h0m-208,1h0m129,0h0m118,0h0m18,0h0m-223,1h0m22,0h0m18,0h0m80,0h0m-109,1h0m14,0h0m32,0h0m182,0h0m-221,1h0m21,0h0m-54,1h0m17,0h0m52,0h0m71,0h0m78,0h0m7,0h0m2,0h0m-225,1h0m21,0h0m59,0h0m9,0h0m74,0h0m-201,1h0m108,0h0m-94,1h0m49,0h0m81,0h0m33,0h0m17,0h0m36,0h0m30,0h0m-284,1h0m3,0h0m236,0h0m31,0h0m16,0h0m-210,1h0m39,0h0m58,0h0m23,0h0m67,0h0m-246,1h0m33,0h0m42,0h0m138,0h0m45,0h0m-172,1h0m10,0h0m120,0h0m11,0h0m-212,1h0m40,0h0m90,0h0m5,0h0m3,0h0m114,0h0m-271,1h0m75,0h0m60,1h0m1,0h0m53,0h0m90,0h0m-227,1h0m115,1h0m19,0h0m94,0h0m-252,1h0m43,0h0m6,0h0m97,0h0m76,0h0m11,0h0m-250,1h0m53,0h0m41,0h0m46,0h0m83,0h0m53,0h0m-264,1h0m35,0h0m10,0h0m108,0h0m89,0h0m-198,2h0m7,1h0m61,0h0m95,0h0m-172,1h0m12,0h0m1,0h0m99,0h0m52,0h0m-221,1h0m13,0h0m32,0h0m126,0h0m62,0h0m3,0h0m-208,1h0m3,0h0m16,0h0m121,0h0m-50,1h0m-105,1h0m4,0h0m48,0h0m11,0h0m133,0h0m14,0h0m32,0h0m-15,1h0m8,0h0m-239,1h0m53,0h0m38,0h0m110,0h0m-68,1h0m25,0h0m62,0h0m-97,1h0m23,0h0m35,0h0m17,0h0m-107,1h0m39,0h0m78,0h0m50,0h0m3,0h0m-241,2h0m60,0h0m4,0h0m126,0h0m4,0h0m18,0h0m-191,1h0m-33,2h0m241,0h0m-241,1h0m171,0h0m62,0h0m3,0h0m9,0h0m-198,1h0m32,0h0m56,0h0m-97,1h0m3,0h0m62,0h0m84,0h0m-184,1h0m13,0h0m11,0h0m197,0h0m21,0h0m-144,2h0m6,0h0m112,0h0m-75,1h0m74,0h0m-203,1h0m134,0h0m-137,1h0m101,0h0m13,0h0m40,0h0m32,0h0m-112,1h0m-34,1h0m10,0h0m3,0h0m62,0h0m57,1h0m-124,1h0m78,1h0m36,0h0m-74,1h0m-53,1h0m9,0h0m24,0h0m22,1h0m31,0h0m43,0h0m-12,1h0m-113,1h0m88,0h0m9,0h0m-27,2h0m38,0h0m-40,1h0m34,0h0m17,0h0m42,0h0m-87,1h0m75,0h0m-159,1h0m18,0h0m115,0h0m-57,1h0m62,0h0m-63,1h0m49,0h0m8,0h0m-58,1h0m28,0h0m36,0h0m-141,1h0m36,0h0m60,1h0m-7,1h0" stroke="#F0E81A" stroke-width="4.0" stroke-linecap="round" fill="none"/>
<path d="M300,67h0m8,0h0m46,0h0m4,0h0m43,0h0m-139,2h0m8,0h0m13,0h0m47,0h0m38,0h0m-51,1h0m48,0h0m-96,1h0m46,0h0m-48,2h0m23,0h0m46,0h0m25,0h0m-40,1h0m-1,1h0m72,0h0m16,1h0m-129,3h0m8,0h0m4,0h0m138,0h0m1,1h0m-145,1h0m25,0h0m30,1h0m86,0h0m18,0h0m-163,1h0m11,0h0m41,1h0m-70,1h0m129,0h0m-84,1h0m113,0h0m-111,1h0m28,0h0m78,0h0m38,0h0m-85,1h0m35,0h0m30,0h0m-196,1h0m45,0h0m136,0h0m7,0h0m23,1h0m-18,1h0m6,0h0m13,0h0m-171,1h0m-22,1h0m64,0h0m24,0h0m6,0h0m6,0h0m75,0h0m-131,1h0m39,0h0m11,0h0m79,0h0m-194,1h0m49,0h0m92,0h0m-147,2h0m76,0h0m57,1h0m-108,1h0m46,0h0m21,0h0m121,1h0m-71,1h0m88,0h0m-232,1h0m98,0h0m44,0h0m64,2h0m13,0h0m-146,1h0m-57,1h0m27,0h0m11,1h0m184,0h0m-164,1h0m32,0h0m4,0h0m67,0h0m-155,1h0m157,1h0m14,0h0m-216,1h0m62,0h0m3,0h0m30,0h0m23,0h0m25,0h0m74,0h0m56,1h0m2,0h0m-270,2h0m86,0h0m147,0h0m-150,1h0m69,0h0m-154,1h0m121,0h0m-39,1h0m36,0h0m7,0h0m56,0h0m75,0h0m-253,1h0m51,0h0m189,1h0m-235,1h0m67,0h0m51,0h0m21,0h0m4,0h0m-96,1h0m26,0h0m52,0h0m-18,1h0m42,0h0m47,0h0m10,0h0m47,0h0m13,0h0m-214,1h0m1,0h0m202,0h0m-190,1h0m88,0h0m85,0h0m35,0h0m-205,1h0m62,0h0m94,0h0m-217,1h0m188,0h0m-160,1h0m36,0h0m6,0h0m59,0h0m3,1h0m18,0h0m36,1h0m6,0h0m40,1h0m18,0h0m-192,1h0m19,0h0m20,0h0m33,0h0m-139,1h0m81,0h0m40,0h0m4,0h0m160,0h0m-181,1h0m130,0h0m36,0h0m21,0h0m-286,1h0m2,0h0m199,0h0m-205,1h0m154,0h0m42,0h0m30,0h0m7,0h0m14,0h0m-185,1h0m190,0h0m30,0h0m-185,1h0m61,0h0m58,0h0m-246,1h0m70,0h0m105,0h0m121,0h0m-303,1h0m32,0h0m69,0h0m50,0h0m106,0h0m-210,1h0m82,0h0m16,0h0m2,0h0m16,0h0m-123,1h0m132,0h0m6,0h0m86,0h0m48,0h0m-245,1h0m111,0h0m132,1h0m1,0h0m-211,1h0m111,0h0m39,0h0m53,0h0m-288,1h0m39,0h0m42,0h0m11,0h0m168,0h0m2,0h0m37,0h0m4,0h0m-267,1h0m48,0h0m8,0h0m46,0h0m117,0h0m19,0h0m-279,1h0m37,1h0m33,0h0m27,0h0m159,0h0m3,0h0m9,0h0m-275,1h0m56,0h0m72,1h0m69,0h0m75,0h0m-253,1h0m97,0h0m40,0h0m54,0h0m48,0h0m-240,1h0m1,0h0m4,0h0m15,0h0m29,0h0m27,0h0m192,0h0m-251,1h0m158,0h0m35,0h0m-236,1h0m145,0h0m63,0h0m94,0h0m31,0h0m-273,1h0m114,0h0m21,0h0m54,0h0m4,0h0m86,0h0m-240,1h0m140,0h0m-138,1h0m3,0h0m176,0h0m20,0h0m-241,1h0m224,0h0m40,0h0m-88,1h0m6,0h0m10,0h0m75,0h0m-116,1h0m7,0h0m18,0h0m105,0h0m-343,1h0m200,0h0m-106,1h0m121,0h0m26,0h0m10,0h0m93,0h0m-206,1h0m139,0h0m-283,1h0m50,0h0m7,0h0m167,0h0m91,0h0m-201,1h0m22,0h0m130,0h0m7,0h0m4,0h0m43,0h0m-272,1h0m105,0h0m81,0h0m21,0h0m64,0h0m29,0h0m3,0h0m-309,1h0m61,0h0m126,0h0m99,0h0m2,0h0m-252,1h0m5,0h0m40,0h0m25,0h0m0,0h0m12,0h0m128,0h0m-181,1h0m30,0h0m2,0h0m5,0h0m98,0h0m52,0h0m-268,1h0m276,0h0m-272,1h0m16,0h0m38,0h0m30,0h0m64,0h0m118,0h0m6,0h0m40,0h0m-300,1h0m7,0h0m219,0h0m47,0h0m-322,1h0m120,0h0m110,1h0m15,0h0m-76,1h0m148,0h0m-304,1h0m133,0h0m126,0h0m-184,1h0m21,0h0m26,0h0m215,0h0m-242,1h0m31,0h0m34,0h0m201,0h0m-195,1h0m49,0h0m69,0h0m-122,1h0m1,0h0m-177,1h0m21,0h0m87,0h0m85,0h0m15,0h0m-63,1h0m71,0h0m82,0h0m-248,1h0m198,0h0m-98,1h0m172,0h0m35,0h0m-352,1h0m224,0h0m111,0h0m-182,2h0m196,0h0m-345,1h0m51,0h0m32,0h0m-96,1h0m123,0h0m76,0h0m16,0h0m-164,1h0m264,0h0m17,0h0m51,0h0m-317,1h0m55,0h0m82,0h0m98,0h0m32,0h0m43,0h0m-300,1h0m10,0h0m34,0h0m13,0h0m89,0h0m53,0h0m-171,1h0m102,0h0m44,0h0m-211,1h0m108,0h0m137,0h0m-177,1h0m15,0h0m25,0h0m30,0h0m177,0h0m-237,1h0m79,0h0m134,0h0m-182,1h0m39,0h0m15,0h0m34,0h0m53,0h0m-154,1h0m40,0h0m47,0h0m94,0h0m-319,1h0m110,0h0m204,0h0m-226,1h0m134,0h0m1,0h0m7,0h0m-83,1h0m102,0h0m60,0h0m-162,1h0m-11,1h0m52,0h0m14,0h0m57,0h0m122,0h0m-282,1h0m56,0h0m102,0h0m16,0h0m-241,1h0m75,0h0m-95,1h0m143,0h0m136,0h0m7,0h0m-294,1h0m62,0h0m9,1h0m1,0h0m58,0h0m-48,1h0m67,0h0m88,0h0m90,0h0m6,0h0m-281,1h0m0,0h0m8,0h0m276,0h0m-72,1h0m41,0h0m12,0h0m-299,1h0m3,0h0m53,0h0m284,0h0m-256,1h0m133,0h0m56,0h0m43,0h0m-293,1h0m57,0h0m162,0h0m48,0h0m21,0h0m13,0h0m-332,1h0m106,0h0m11,0h0m85,0h0m124,0h0m37,0h0m-209,1h0m116,0h0m113,0h0m-389,1h0m17,0h0m195,0h0m110,0h0m65,0h0m-316,1h0m92,0h0m64,0h0m-217,2h0m29,0h0m16,0h0m51,1h0m147,0h0m110,0h0m-372,1h0m223,0h0m120,0h0m-348,1h0m21,0h0m36,0h0m100,0h0m155,0h0m48,0h0m-272,2h0m304,0h0m-359,1h0m25,0h0m63,0h0m11,0h0m44,0h0m92,0h0m31,0h0m-287,2h0m35,1h0m10,0h0m19,0h0m108,0h0m87,0h0m-195,1h0m17,0h0m28,0h0m175,0h0m36,0h0m-243,1h0m157,0h0m-117,1h0m243,0h0m-334,1h0m119,0h0m49,0h0m62,0h0m98,0h0m-246,1h0m205,0h0m48,0h0m15,0h0m7,0h0m-289,1h0m71,0h0m153,0h0m59,0h0m-362,1h0m45,0h0m203,0h0m67,0h0m38,0h0m-325,1h0m203,0h0m32,0h0m-282,1h0m11,0h0m68,0h0m26,0h0m9,0h0m210,0h0m25,0h0m-258,1h0m135,0h0m84,0h0m-309,1h0m37,0h0m89,0h0m-91,1h0m20,0h0m185,0h0m-108,1h0m66,0h0m64,0h0m94,0h0m-358,1h0m26,0h0m18,0h0m1,0h0m357,0h0m-251,1h0m153,0h0m51,0h0m35,0h0m-265,1h0m111,0h0m-180,1h0m27,0h0m86,0h0m59,0h0m0,0h0m34,0h0m14,0h0m107,0h0m-377,1h0m80,0h0m6,0h0m127,0h0m56,0h0m37,0h0m6,0h0m37,0h0m-371,1h0m130,0h0m184,0h0m39,0h0m-342,1h0m20,0h0m106,0h0m219,0h0m26,0h0m1,0h0m-182,1h0m92,0h0m23,0h0m92,0h0m-159,1h0m164,0h0m6,0h0m-416,1h0m20,0h0m42,0h0m77,0h0m104,0h0m-228,1h0m68,0h0m25,0h0m63,0h0m-119,1h0m220,0h0m62,0h0m67,0h0m-339,1h0m79,0h0m115,0h0m2,0h0m-256,1h0m150,0h0m38,0h0m74,0h0m8,0h0m74,0h0m-306,1h0m56,0h0m68,0h0m-62,1h0m138,0h0m52,0h0m68,0h0m30,0h0m25,0h0m-400,1h0m39,0h0m5,1h0m28,0h0m124,0h0m108,0h0m-189,1h0m155,0h0m13,0h0m31,0h0m32,0h0m25,0h0m-333,1h0m49,0h0m149,0h0m24,0h0m11,0h0m84,0h0m-135,1h0m14,0h0m56,0h0m-264,1h0m43,0h0m16,1h0m158,0h0m142,0h0m-369,1h0m80,0h0m90,0h0m20,0h0m194,0h0m-390,1h0m65,0h0m34,0h0m119,0h0m138,0h0m-272,1h0m149,0h0m13,0h0m6,0h0m33,0h0m55,0h0m-340,1h0m1,0h0m206,0h0m46,0h0m5,0h0m118,0h0m-337,1h0m40,0h0m24,0h0m165,0h0m64,0h0m23,0h0m-247,1h0m70,0h0m104,0h0m40,0h0m-267,1h0m42,0h0m66,0h0m20,0h0m53,0h0m-257,1h0m271,0h0m56,0h0m-324,1h0m126,0h0m71,0h0m35,0h0m17,0h0m92,0h0m-345,1h0m46,0h0m37,0h0m153,0h0m10,0h0m17,0h0m-210,1h0m30,0h0m16,0h0m101,0h0m4,0h0m36,0h0m27,0h0m62,0h0m13,0h0m-342,1h0m20,0h0m189,0h0m198,0h0m-270,1h0m237,0h0m39,0h0m-393,1h0m211,0h0m102,0h0m-329,2h0m115,0h0m190,0h0m-54,1h0m-175,1h0m278,0h0m49,0h0m-200,1h0m159,0h0m-323,1h0m36,0h0m176,0h0m4,0h0m93,0h0m-113,1h0m5,1h0m60,0h0m4,0h0m-66,1h0m34,0h0m-284,1h0m32,0h0m19,0h0m11,0h0m6,0h0m150,0h0m180,0h0m4,0h0m-329,2h0m17,0h0m12,0h0m186,0h0m34,0h0m2,0h0m11,0h0m-272,1h0m174,0h0m105,0h0m46,0h0m11,0h0m-282,1h0m176,0h0m8,0h0m66,0h0m26,0h0m6,0h0m-381,1h0m91,0h0m89,0h0m16,0h0m16,0h0m36,0h0m28,0h0m-39,1h0m89,0h0m45,0h0m-367,1h0m26,0h0m180,0h0m128,0h0m23,0h0m34,0h0m-173,1h0m-208,1h0m63,0h0m135,0h0m17,0h0m3,1h0m-235,1h0m94,0h0m152,0h0m161,0h0m-374,1h0m202,0h0m20,0h0m-158,1h0m121,0h0m35,0h0m11,0h0m15,0h0m88,0h0m-249,1h0m242,0h0m41,0h0m-307,1h0m146,0h0m18,0h0m47,0h0m-56,1h0m14,0h0m66,0h0m45,0h0m-276,2h0m157,0h0m-263,1h0m70,0h0m275,0h0m-106,1h0m28,0h0m3,0h0m100,0h0m-152,1h0m8,0h0m6,0h0m61,0h0m-290,1h0m231,0h0m36,0h0m51,0h0m0,0h0m46,0h0m-338,1h0m22,0h0m54,0h0m246,0h0m-336,1h0m292,0h0m-195,1h0m136,0h0m21,0h0m29,0h0m-81,1h0m17,0h0m15,0h0m41,0h0m109,0h0m-289,1h0m119,0h0m6,0h0m56,0h0m10,0h0m-217,1h0m210,0h0m1,0h0m60,0h0m39,0h0m-346,1h0m50,0h0m2,0h0m5,0h0m175,0h0m-144,1h0m85,0h0m-115,1h0m9,0h0m83,0h0m71,0h0m-275,1h0m115,0h0m17,0h0m23,0h0m82,0h0m-193,1h0m30,0h0m38,0h0m100,0h0m10,0h0m111,0h0m29,0h0m30,0h0m-354,1h0m20,0h0m64,0h0m94,0h0m15,0h0m24,0h0m13,0h0m9,0h0m91,0h0m-349,1h0m17,0h0m22,0h0m84,0h0m124,0h0m-260,1h0m64,0h0m20,0h0m161,0h0m29,0h0m102,0h0m-253,1h0m115,0h0m-151,1h0m39,0h0m82,0h0m116,0h0m8,0h0m17,0h0m-222,1h0m184,0h0m-283,1h0m74,0h0m135,0h0m64,0h0m110,0h0m-362,1h0m116,0h0m-140,1h0m2,0h0m239,0h0m52,0h0m36,0h0m-226,1h0m63,0h0m-64,1h0m95,0h0m78,0h0m40,0h0m-319,1h0m83,0h0m254,0h0m21,0h0m-276,1h0m49,0h0m10,0h0m95,0h0m4,0h0m90,0h0m27,0h0m8,0h0m5,0h0m-374,1h0m75,0h0m149,0h0m157,0h0m-292,2h0m277,0h0m-335,1h0m97,0h0m167,0h0m18,0h0m49,0h0m-76,1h0m1,0h0m24,0h0m-217,1h0m4,0h0m49,0h0m-130,1h0m365,0h0m-392,1h0m60,0h0m59,0h0m156,0h0m-181,1h0m141,0h0m14,0h0m-119,1h0m47,0h0m14,0h0m74,0h0m58,0h0m16,0h0m-254,1h0m32,0h0m73,0h0m28,0h0m-192,2h0m56,0h0m37,0h0m13,0h0m39,0h0m195,0h0m36,1h0m-220,1h0m35,0h0m68,0h0m-280,1h0m16,0h0m43,0h0m19,0h0m3,0h0m82,0h0m9,0h0m25,0h0m109,0h0m48,0h0m-338,1h0m58,0h0m7,0h0m161,0h0m2,0h0m80,0h0m-313,1h0m3,0h0m10,0h0m98,0h0m39,0h0m59,0h0m0,0h0m24,0h0m90,0h0m45,0h0m-247,1h0m7,0h0m154,0h0m36,0h0m45,0h0m-116,1h0m4,0h0m21,0h0m-241,1h0m108,0h0m-123,1h0m208,0h0m135,0h0m-375,1h0m213,0h0m33,0h0m104,0h0m-196,1h0m190,0h0m-296,1h0m53,0h0m80,0h0m46,0h0m38,0h0m20,0h0m5,0h0m36,0h0m35,0h0m27,0h0m-310,1h0m180,0h0m52,0h0m77,0h0m-341,1h0m51,0h0m49,0h0m0,0h0m63,0h0m31,0h0m5,0h0m67,0h0m-113,1h0m92,0h0m-288,1h0m22,0h0m31,0h0m142,0h0m186,0h0m-322,1h0m170,0h0m-176,1h0m89,0h0m12,0h0m-103,1h0m251,0h0m-248,1h0m98,0h0m123,1h0m-266,1h0m345,0h0m-353,1h0m28,0h0m137,0h0m18,0h0m-144,1h0m61,0h0m80,0h0m98,0h0m60,0h0m-325,1h0m155,0h0m-125,1h0m12,0h0m17,0h0m46,0h0m48,0h0m215,0h0m-351,1h0m-16,1h0m67,0h0m70,0h0m164,0h0m77,0h0m-333,1h0m109,0h0m121,0h0m13,0h0m14,0h0m42,0h0m-185,2h0m75,0h0m58,0h0m-290,1h0m1,0h0m30,0h0m3,0h0m39,0h0m106,0h0m103,0h0m-234,1h0m47,0h0m34,0h0m3,0h0m57,0h0m-69,1h0m91,0h0m45,0h0m-227,1h0m9,0h0m87,0h0m62,0h0m29,0h0m20,1h0m92,0h0m-317,2h0m21,0h0m15,0h0m54,0h0m-63,1h0m157,0h0m85,0h0m36,0h0m-308,1h0m72,0h0m36,0h0m177,0h0m7,0h0m7,0h0m-278,1h0m17,0h0m201,0h0m20,0h0m41,0h0m-205,1h0m219,0h0m-292,1h0m10,0h0m187,0h0m28,0h0m42,0h0m-223,1h0m183,0h0m-224,1h0m103,0h0m21,0h0m0,0h0m52,0h0m77,0h0m62,0h0m-364,1h0m4,1h0m170,0h0m133,0h0m39,0h0m17,0h0m-346,1h0m156,0h0m-155,1h0m50,0h0m71,0h0m1,0h0m28,0h0m12,0h0m42,0h0m140,0h0m-287,1h0m29,0h0m36,0h0m4,0h0m25,0h0m9,0h0m35,0h0m149,0h0m1,0h0m12,0h0m-122,1h0m87,0h0m-291,2h0m44,0h0m168,0h0m6,0h0m49,0h0m-155,1h0m167,0h0m-273,1h0m6,0h0m199,0h0m43,0h0m-266,1h0m61,0h0m147,0h0m38,0h0m42,0h0m-123,1h0m65,0h0m26,0h0m-227,1h0m88,0h0m31,0h0m17,0h0m126,0h0m-223,1h0m19,0h0m-100,1h0m94,0h0m33,0h0m89,0h0m20,0h0m9,0h0m40,0h0m23,0h0m29,0h0m-259,1h0m122,0h0m12,0h0m40,0h0m8,0h0m-2,1h0m79,0h0m-26,1h0m-106,1h0m113,0h0m35,0h0m-362,1h0m44,0h0m185,0h0m55,0h0m-275,1h0m7,0h0m63,0h0m141,0h0m-143,1h0m18,0h0m-29,1h0m65,0h0m10,0h0m95,0h0m43,0h0m-276,1h0m195,0h0m14,0h0m58,0h0m-251,1h0m57,1h0m27,0h0m114,0h0m38,0h0m19,0h0m21,0h0m49,0h0m-204,1h0m50,0h0m109,0h0m-106,2h0m69,0h0m12,0h0m-127,1h0m20,0h0m32,0h0m73,0h0m-94,1h0m32,0h0m-126,1h0m124,0h0m63,0h0m-231,2h0m116,0h0m148,0h0m-149,1h0m40,0h0m51,0h0m42,0h0m50,0h0m-121,1h0m-107,1h0m243,0h0m-231,1h0m-81,2h0m8,0h0m261,0h0m38,0h0m-336,1h0m20,0h0m8,0h0m31,0h0m35,0h0m34,0h0m70,0h0m58,0h0m45,0h0m-279,1h0m11,0h0m276,0h0m-135,1h0m47,0h0m69,0h0m-164,1h0m183,0h0m-232,1h0m127,0h0m45,0h0m-11,1h0m96,0h0m-331,1h0m52,0h0m128,0h0m43,0h0m-115,1h0m124,0h0m-109,1h0m74,0h0m-193,1h0m91,0h0m4,0h0m69,0h0m69,0h0m6,0h0m-233,1h0m305,0h0m-128,1h0m63,0h0m31,0h0m-195,1h0m10,0h0m-15,1h0m108,0h0m25,0h0m43,0h0m41,0h0m-296,1h0m199,0h0m58,0h0m-198,1h0m24,0h0m12,0h0m15,0h0m-104,1h0m192,0h0m-185,2h0m20,0h0m62,0h0m30,0h0m10,0h0m185,0h0m-303,1h0m0,0h0m103,0h0m136,0h0m-39,1h0m6,0h0m10,0h0m-207,1h0m31,0h0m11,0h0m167,0h0m-97,1h0m27,0h0m8,0h0m93,0h0m14,0h0m-210,1h0m90,0h0m82,0h0m23,0h0m-234,1h0m9,0h0m112,0h0m54,0h0m-97,1h0m203,0h0m3,0h0m-90,1h0m-78,1h0m113,0h0m17,0h0m-232,1h0m22,0h0m28,0h0m21,0h0m13,0h0m14,0h0m-34,1h0m195,0h0m-136,1h0m-41,1h0m29,0h0m-132,1h0m227,0h0m40,0h0m-249,1h0m216,0h0m-233,1h0m90,0h0m18,0h0m9,0h0m26,0h0m123,0h0m-218,1h0m122,0h0m6,0h0m54,0h0m-186,1h0m190,0h0m-192,1h0m87,0h0m-126,1h0m66,0h0m38,1h0m67,0h0m52,0h0m-149,1h0m168,0h0m1,0h0m27,0h0m-53,1h0m23,0h0m-222,1h0m11,0h0m14,0h0m198,0h0m-14,1h0m5,0h0m-206,1h0m5,0h0m175,0h0m-81,1h0m53,0h0m50,0h0m7,0h0m27,0h0m-48,1h0m-164,1h0m78,0h0m17,0h0m-139,1h0m143,0h0m76,0h0m-178,1h0m8,0h0m124,0h0m74,0h0m-57,1h0m28,0h0m2,0h0m-131,1h0m151,0h0m-25,1h0m-62,2h0m20,0h0m28,0h0m-46,1h0m6,0h0m9,0h0m-31,1h0m82,0h0m-212,1h0m67,0h0m86,0h0m-144,1h0m92,0h0m10,0h0m61,0h0m-170,1h0m128,0h0m-103,1h0m41,0h0m55,0h0m30,0h0m37,0h0m-120,1h0m15,0h0m20,1h0m105,2h0m-91,1h0m46,0h0m24,0h0m-162,1h0m13,0h0m40,0h0m54,1h0m62,0h0m-146,1h0m5,0h0m76,0h0m20,0h0m26,0h0m-111,1h0m4,0h0m104,0h0m-153,2h0m16,0h0m0,0h0m14,0h0m67,0h0m75,0h0m17,0h0m-178,2h0m94,0h0m19,0h0m6,0h0m33,0h0m-140,2h0m-4,2h0m52,0h0m82,1h0m20,0h0m-160,1h0m65,0h0m28,0h0m3,0h0m-84,1h0m2,0h0m43,0h0m59,1h0" stroke="#6CC9CB" stroke-width="4.0" stroke-linecap="round" fill="none"/>
<path d="M347,66h0m-72,2h0m21,0h0m35,0h0m59,0h0m-84,1h0m46,0h0m30,0h0m-109,1h0m130,0h0m-91,1h0m-20,1h0m29,0h0m-66,1h0m123,0h0m-124,1h0m163,0h0m-135,1h0m25,0h0m7,0h0m39,0h0m5,0h0m8,0h0m14,0h0m-76,1h0m131,0h0m-153,1h0m107,0h0m51,0h0m-134,1h0m45,0h0m13,0h0m79,0h0m-135,1h0m74,0h0m60,1h0m-150,1h0m67,0h0m66,0h0m12,0h0m-169,1h0m48,0h0m5,0h0m66,0h0m20,0h0m3,0h0m-172,1h0m53,0h0m32,0h0m74,0h0m-131,1h0m21,0h0m9,0h0m37,0h0m85,0h0m10,0h0m-147,1h0m11,0h0m71,0h0m42,0h0m33,0h0m-200,1h0m135,0h0m41,0h0m-87,1h0m-94,1h0m81,0h0m-66,1h0m4,0h0m53,0h0m57,0h0m7,0h0m14,0h0m-57,1h0m49,1h0m8,0h0m22,0h0m34,0h0m-81,1h0m1,0h0m13,0h0m47,0h0m6,0h0m-76,1h0m52,0h0m65,0h0m-102,1h0m21,0h0m77,0h0m-162,1h0m24,0h0m58,0h0m80,0h0m2,0h0m-18,1h0m-227,1h0m2,0h0m38,0h0m49,0h0m43,0h0m16,0h0m36,0h0m46,0h0m-210,1h0m100,0h0m18,0h0m35,0h0m33,0h0m24,0h0m-161,1h0m52,0h0m94,0h0m-174,1h0m26,0h0m113,0h0m-163,1h0m57,0h0m70,0h0m12,0h0m83,0h0m-211,1h0m30,0h0m50,0h0m-102,1h0m4,0h0m18,0h0m8,0h0m92,0h0m118,0h0m8,0h0m-86,1h0m1,0h0m27,0h0m-116,1h0m10,0h0m25,0h0m21,0h0m64,0h0m59,0h0m-187,1h0m53,0h0m13,0h0m109,0h0m-255,1h0m83,0h0m95,0h0m39,0h0m-131,1h0m67,0h0m23,0h0m42,0h0m25,0h0m28,0h0m-223,1h0m48,0h0m10,0h0m155,0h0m-255,1h0m24,0h0m125,0h0m26,0h0m26,0h0m14,0h0m-195,1h0m7,0h0m79,0h0m23,0h0m100,0h0m7,0h0m-251,1h0m133,0h0m64,0h0m18,0h0m45,0h0m-106,1h0m0,0h0m33,0h0m55,0h0m1,1h0m34,0h0m8,0h0m-286,1h0m58,0h0m72,0h0m151,0h0m-231,1h0m89,0h0m119,0h0m22,0h0m-240,1h0m93,0h0m0,0h0m102,0h0m15,0h0m39,0h0m-239,1h0m69,0h0m20,0h0m87,0h0m62,0h0m-199,1h0m83,0h0m68,0h0m11,0h0m-239,1h0m85,0h0m8,0h0m170,0h0m14,0h0m-274,1h0m13,0h0m216,0h0m-226,1h0m15,0h0m11,0h0m-45,1h0m47,0h0m117,0h0m6,0h0m7,0h0m19,0h0m-191,1h0m29,0h0m25,0h0m47,0h0m44,0h0m50,0h0m22,0h0m30,0h0m-240,1h0m1,0h0m102,0h0m67,0h0m39,0h0m-74,1h0m88,0h0m-236,1h0m2,0h0m2,0h0m44,0h0m0,0h0m30,0h0m56,0h0m15,0h0m135,0h0m-279,1h0m17,0h0m115,0h0m90,0h0m2,0h0m16,0h0m9,0h0m29,0h0m-264,1h0m18,0h0m107,0h0m112,0h0m19,0h0m-248,1h0m38,0h0m206,0h0m-99,1h0m14,0h0m22,0h0m-116,1h0m114,0h0m46,0h0m7,0h0m-271,1h0m39,0h0m26,0h0m87,0h0m25,0h0m55,0h0m-230,1h0m44,0h0m38,0h0m32,0h0m35,0h0m134,0h0m33,0h0m-231,1h0m14,0h0m201,0h0m-243,1h0m29,0h0m13,0h0m139,0h0m71,0h0m-223,1h0m24,0h0m-53,1h0m22,0h0m58,0h0m28,0h0m20,0h0m70,0h0m8,0h0m17,0h0m3,0h0m28,0h0m-285,2h0m65,0h0m26,0h0m0,0h0m6,0h0m63,0h0m72,0h0m5,0h0m-143,1h0m99,0h0m35,0h0m29,0h0m33,0h0m-321,1h0m10,0h0m18,0h0m206,0h0m53,0h0m7,0h0m-236,1h0m57,0h0m65,0h0m44,0h0m-158,1h0m102,0h0m1,0h0m81,0h0m12,0h0m-41,1h0m-195,1h0m8,0h0m16,0h0m76,0h0m21,0h0m8,0h0m49,0h0m15,0h0m108,0h0m-332,1h0m40,0h0m36,0h0m97,0h0m0,0h0m24,0h0m69,0h0m43,0h0m-307,1h0m1,0h0m24,0h0m24,0h0m11,0h0m52,0h0m26,0h0m52,0h0m15,0h0m6,0h0m91,0h0m19,0h0m-293,1h0m72,0h0m19,0h0m16,0h0m18,0h0m25,0h0m43,0h0m62,0h0m-178,1h0m37,0h0m32,0h0m-136,1h0m92,0h0m10,0h0m62,0h0m-182,1h0m38,0h0m84,0h0m6,0h0m76,0h0m-213,1h0m73,0h0m8,0h0m24,0h0m192,0h0m-219,1h0m25,0h0m62,0h0m42,0h0m8,0h0m18,0h0m24,0h0m38,0h0m-307,1h0m112,0h0m44,0h0m74,0h0m75,0h0m13,0h0m-326,1h0m128,0h0m146,0h0m54,0h0m-330,1h0m27,0h0m10,0h0m1,0h0m159,0h0m43,0h0m43,0h0m14,0h0m22,0h0m30,0h0m-307,1h0m53,0h0m23,0h0m70,0h0m16,0h0m19,0h0m12,0h0m5,0h0m30,0h0m12,0h0m19,0h0m12,0h0m32,0h0m-235,1h0m51,0h0m62,0h0m7,0h0m-224,1h0m61,0h0m24,0h0m161,0h0m51,0h0m7,0h0m24,0h0m-239,1h0m32,0h0m132,0h0m7,0h0m6,0h0m12,0h0m35,0h0m-245,1h0m22,0h0m61,0h0m43,0h0m65,0h0m29,0h0m14,0h0m-174,1h0m44,0h0m4,0h0m56,0h0m25,0h0m26,0h0m30,0h0m-161,1h0m172,0h0m19,0h0m-297,1h0m158,0h0m110,0h0m-322,1h0m52,0h0m31,0h0m110,0h0m16,0h0m32,0h0m70,0h0m20,0h0m-267,1h0m51,0h0m2,0h0m44,0h0m-54,1h0m32,0h0m3,0h0m69,0h0m37,0h0m12,0h0m19,0h0m25,0h0m3,0h0m-147,1h0m10,0h0m187,0h0m-188,1h0m40,0h0m126,0h0m23,0h0m-212,1h0m118,0h0m-105,1h0m174,0h0m8,0h0m9,0h0m-287,1h0m77,0h0m60,0h0m83,0h0m11,0h0m-240,1h0m43,0h0m5,0h0m9,0h0m18,0h0m20,0h0m67,0h0m72,0h0m8,0h0m36,0h0m-344,1h0m137,0h0m53,0h0m-52,1h0m63,0h0m125,0h0m49,0h0m-256,1h0m27,0h0m7,0h0m46,0h0m-153,1h0m35,0h0m5,0h0m53,0h0m23,0h0m6,0h0m43,0h0m15,0h0m149,0h0m-328,1h0m81,0h0m64,0h0m19,0h0m68,0h0m70,0h0m-322,1h0m36,0h0m25,0h0m115,0h0m106,0h0m-302,1h0m52,0h0m21,0h0m9,0h0m45,0h0m-84,1h0m36,0h0m28,0h0m52,0h0m138,0h0m57,0h0m-350,1h0m135,0h0m1,0h0m92,0h0m6,0h0m13,0h0m83,0h0m-268,1h0m29,0h0m36,0h0m23,0h0m194,0h0m3,0h0m-285,1h0m237,0h0m41,0h0m-333,1h0m18,0h0m13,0h0m176,0h0m3,0h0m29,0h0m23,0h0m-150,1h0m3,0h0m156,0h0m-287,1h0m157,0h0m6,0h0m92,0h0m97,0h0m11,0h0m-284,1h0m36,0h0m23,0h0m28,0h0m114,0h0m88,0h0m-369,1h0m135,0h0m99,0h0m61,0h0m6,0h0m79,0h0m-284,1h0m49,0h0m37,0h0m10,0h0m77,0h0m28,0h0m50,0h0m-300,1h0m8,0h0m8,0h0m9,0h0m45,0h0m255,0h0m-315,1h0m103,0h0m126,0h0m8,0h0m-293,1h0m27,0h0m2,0h0m70,0h0m7,0h0m78,0h0m58,0h0m29,0h0m19,0h0m8,0h0m69,0h0m-347,1h0m46,0h0m81,0h0m139,1h0m28,0h0m-292,1h0m109,0h0m60,0h0m40,0h0m23,0h0m-178,1h0m98,0h0m2,0h0m16,0h0m40,0h0m-204,1h0m7,0h0m18,0h0m60,0h0m5,0h0m49,0h0m72,0h0m63,0h0m21,0h0m-323,1h0m36,0h0m5,0h0m24,0h0m19,0h0m13,0h0m40,0h0m14,0h0m16,0h0m78,0h0m6,0h0m27,0h0m17,0h0m13,0h0m32,0h0m-341,1h0m12,0h0m51,0h0m18,0h0m196,0h0m81,0h0m1,0h0m17,0h0m-386,1h0m7,0h0m98,0h0m14,0h0m8,0h0m150,0h0m18,0h0m69,0h0m-223,1h0m79,0h0m8,0h0m17,0h0m44,0h0m-248,1h0m114,0h0m17,0h0m178,0h0m28,0h0m-291,1h0m26,0h0m78,0h0m107,0h0m15,0h0m40,0h0m-292,1h0m44,0h0m19,0h0m6,0h0m20,0h0m9,0h0m25,0h0m116,0h0m78,0h0m-156,1h0m82,0h0m33,0h0m-247,1h0m267,0h0m12,0h0m-370,1h0m42,0h0m141,0h0m142,0h0m11,0h0m39,0h0m-297,1h0m151,0h0m17,0h0m66,0h0m8,0h0m-235,1h0m28,0h0m79,0h0m75,0h0m82,0h0m-171,1h0m50,0h0m53,0h0m103,0h0m-129,1h0m99,0h0m-355,1h0m36,0h0m17,0h0m159,0h0m-192,1h0m14,0h0m76,0h0m92,0h0m30,0h0m-229,1h0m55,0h0m57,0h0m29,0h0m102,0h0m14,0h0m30,0h0m4,0h0m17,0h0m-247,1h0m32,0h0m51,0h0m52,0h0m3,0h0m0,0h0m41,0h0m56,0h0m17,0h0m31,0h0m-346,1h0m48,0h0m73,0h0m15,0h0m25,0h0m1,0h0m7,0h0m24,0h0m50,0h0m127,0h0m-177,1h0m10,0h0m4,0h0m71,0h0m33,0h0m-120,1h0m2,0h0m106,0h0m43,0h0m-326,1h0m44,0h0m35,0h0m143,0h0m138,0h0m18,0h0m-361,1h0m105,0h0m74,0h0m47,0h0m37,0h0m50,0h0m9,0h0m7,0h0m-366,1h0m152,0h0m21,0h0m18,0h0m24,0h0m31,0h0m30,0h0m20,0h0m99,0h0m-372,1h0m102,0h0m83,0h0m179,0h0m-262,1h0m129,0h0m17,0h0m70,0h0m21,0h0m10,0h0m27,0h0m-328,1h0m13,0h0m27,0h0m27,0h0m39,0h0m6,0h0m14,0h0m159,0h0m-343,1h0m114,0h0m37,0h0m73,0h0m33,0h0m42,0h0m37,0h0m11,0h0m-311,1h0m131,0h0m4,0h0m9,0h0m5,0h0m26,0h0m26,0h0m1,0h0m10,0h0m101,0h0m-350,1h0m15,0h0m17,0h0m25,0h0m52,0h0m13,0h0m128,0h0m57,0h0m62,0h0m12,0h0m-385,1h0m14,0h0m33,0h0m69,0h0m6,0h0m32,0h0m2,0h0m1,0h0m39,0h0m83,1h0m7,0h0m-284,1h0m85,0h0m26,0h0m46,0h0m86,0h0m73,0h0m-316,1h0m38,0h0m65,0h0m154,0h0m23,0h0m80,0h0m-272,1h0m69,0h0m12,0h0m50,0h0m112,0h0m-325,1h0m19,0h0m27,0h0m4,0h0m77,0h0m60,0h0m50,0h0m66,0h0m-170,1h0m18,0h0m0,0h0m82,0h0m6,0h0m1,0h0m23,0h0m39,0h0m9,0h0m48,0h0m-338,1h0m21,0h0m18,0h0m62,0h0m88,0h0m2,0h0m36,0h0m75,0h0m41,0h0m4,0h0m-320,1h0m56,0h0m84,0h0m109,0h0m43,0h0m-224,1h0m71,0h0m118,0h0m85,0h0m-122,1h0m8,0h0m3,0h0m15,0h0m17,0h0m-317,1h0m111,0h0m22,0h0m67,0h0m90,0h0m-278,1h0m73,0h0m27,0h0m37,0h0m103,0h0m70,0h0m38,0h0m-377,1h0m71,0h0m150,0h0m103,0h0m19,0h0m-341,1h0m10,0h0m218,0h0m93,0h0m80,0h0m-357,1h0m27,0h0m68,0h0m63,0h0m35,0h0m30,0h0m31,0h0m106,0h0m-387,1h0m4,0h0m5,0h0m102,0h0m99,0h0m51,0h0m71,0h0m5,0h0m-239,1h0m97,0h0m20,0h0m52,0h0m52,0h0m9,0h0m15,0h0m46,0h0m-395,1h0m24,0h0m34,0h0m2,0h0m43,0h0m154,0h0m22,0h0m23,0h0m34,0h0m64,0h0m-381,1h0m18,0h0m10,0h0m13,0h0m96,0h0m22,0h0m16,0h0m24,0h0m30,0h0m32,0h0m119,0h0m-404,1h0m87,0h0m29,0h0m4,0h0m89,0h0m11,0h0m72,0h0m16,0h0m16,0h0m41,0h0m-273,1h0m35,0h0m175,0h0m25,0h0m4,0h0m51,0h0m-286,1h0m1,0h0m287,0h0m24,0h0m-409,1h0m57,0h0m20,0h0m44,0h0m96,0h0m4,0h0m4,0h0m5,0h0m68,0h0m87,0h0m-316,1h0m107,0h0m20,0h0m4,0h0m47,0h0m70,0h0m65,0h0m8,0h0m-376,1h0m62,0h0m16,0h0m318,0h0m-287,1h0m52,0h0m56,0h0m-152,1h0m41,0h0m28,0h0m34,0h0m32,0h0m54,0h0m13,0h0m17,0h0m-178,1h0m1,0h0m16,0h0m-42,1h0m24,0h0m42,0h0m56,0h0m45,0h0m24,0h0m-269,1h0m12,0h0m83,0h0m21,0h0m-107,1h0m20,0h0m53,0h0m167,0h0m56,0h0m-324,1h0m14,0h0m311,0h0m67,0h0m-361,1h0m79,0h0m3,0h0m87,0h0m82,0h0m106,0h0m1,0h0m21,0h0m-353,1h0m167,0h0m29,0h0m14,0h0m148,0h0m-361,1h0m116,0h0m46,0h0m48,0h0m7,0h0m39,0h0m31,0h0m44,0h0m-361,1h0m47,0h0m179,0h0m6,0h0m73,0h0m3,0h0m37,0h0m14,0h0m-282,1h0m32,0h0m42,0h0m3,0h0m4,0h0m29,0h0m174,0h0m-337,1h0m80,0h0m83,0h0m58,0h0m50,0h0m-323,1h0m72,0h0m13,0h0m66,0h0m85,0h0m46,0h0m33,0h0m38,0h0m36,0h0m-343,1h0m30,0h0m1,0h0m1,0h0m15,0h0m151,0h0m142,0h0m9,0h0m-284,1h0m9,0h0m26,0h0m7,0h0m59,0h0m206,0h0m-365,1h0m39,0h0m113,0h0m45,0h0m32,0h0m23,0h0m7,0h0m59,0h0m8,0h0m-142,1h0m31,0h0m27,0h0m61,0h0m-254,1h0m22,0h0m2,0h0m105,0h0m166,0h0m-380,1h0m73,0h0m10,0h0m110,0h0m8,0h0m106,0h0m1,0h0m58,0h0m6,0h0m-291,1h0m86,0h0m17,0h0m18,0h0m7,0h0m101,0h0m-317,1h0m309,0h0m63,0h0m28,0h0m-412,1h0m33,0h0m61,0h0m-61,1h0m51,0h0m37,0h0m9,0h0m134,0h0m24,0h0m11,0h0m39,0h0m1,0h0m14,0h0m-261,1h0m4,0h0m292,0h0m19,0h0m-357,1h0m21,0h0m10,0h0m2,0h0m63,0h0m64,0h0m171,0h0m-377,1h0m15,0h0m9,0h0m52,0h0m39,0h0m9,0h0m12,0h0m279,0h0m-337,1h0m19,0h0m32,0h0m11,0h0m105,0h0m77,0h0m79,0h0m10,0h0m-371,1h0m7,0h0m160,0h0m32,0h0m11,0h0m30,0h0m30,0h0m50,0h0m19,0h0m-179,1h0m82,0h0m9,0h0m49,0h0m45,0h0m-308,1h0m200,0h0m0,0h0m21,0h0m-251,1h0m223,0h0m20,0h0m-237,1h0m15,0h0m149,0h0m58,0h0m26,0h0m46,0h0m18,0h0m26,0h0m-364,1h0m61,0h0m32,0h0m1,0h0m101,0h0m8,0h0m10,0h0m117,0h0m-332,1h0m109,0h0m152,0h0m28,0h0m11,0h0m5,0h0m21,0h0m12,0h0m-169,1h0m91,0h0m6,0h0m57,0h0m65,0h0m-79,1h0m15,0h0m28,0h0m11,0h0m-93,1h0m38,0h0m-207,1h0m11,0h0m72,0h0m6,0h0m82,0h0m8,0h0m51,0h0m-159,1h0m93,0h0m-221,1h0m26,0h0m172,0h0m20,0h0m-255,1h0m190,0h0m30,0h0m71,0h0m2,0h0m-323,1h0m198,0h0m9,0h0m79,0h0m11,0h0m-257,1h0m22,0h0m160,0h0m9,0h0m-188,1h0m37,0h0m105,0h0m17,0h0m7,0h0m65,0h0m26,0h0m11,0h0m45,0h0m27,0h0m-354,1h0m51,0h0m111,0h0m40,0h0m62,0h0m101,0h0m-374,1h0m80,0h0m23,0h0m116,0h0m77,0h0m2,0h0m85,0h0m1,0h0m-395,1h0m117,0h0m73,0h0m35,0h0m28,0h0m28,0h0m-276,1h0m54,0h0m15,0h0m205,0h0m24,0h0m23,0h0m2,0h0m4,0h0m-208,1h0m63,0h0m115,0h0m38,0h0m-326,1h0m13,0h0m46,0h0m62,0h0m95,0h0m112,0h0m11,0h0m3,0h0m-346,1h0m30,0h0m65,0h0m73,0h0m47,0h0m25,0h0m58,0h0m27,0h0m39,0h0m-385,1h0m15,0h0m7,0h0m22,0h0m96,0h0m59,0h0m63,0h0m78,0h0m60,0h0m3,0h0m-359,1h0m149,0h0m78,0h0m25,0h0m44,0h0m-24,1h0m2,0h0m2,0h0m-261,1h0m5,0h0m134,0h0m107,0h0m53,0h0m30,0h0m4,0h0m-363,1h0m40,0h0m187,0h0m24,0h0m62,0h0m26,0h0m0,0h0m1,0h0m28,0h0m-198,1h0m7,0h0m22,0h0m9,0h0m71,0h0m14,0h0m52,0h0m36,0h0m-409,1h0m37,0h0m15,0h0m7,0h0m2,0h0m24,0h0m10,0h0m6,0h0m163,0h0m10,0h0m115,0h0m-269,1h0m27,0h0m79,0h0m65,0h0m76,0h0m23,0h0m-387,1h0m44,0h0m139,0h0m24,0h0m25,0h0m31,0h0m61,0h0m41,0h0m36,0h0m-393,1h0m6,0h0m11,0h0m55,0h0m43,0h0m7,0h0m36,0h0m125,0h0m-299,1h0m114,0h0m190,0h0m2,0h0m18,0h0m1,0h0m25,0h0m16,0h0m21,0h0m33,0h0m-390,1h0m17,0h0m117,0h0m25,0h0m5,0h0m43,0h0m48,0h0m75,0h0m15,0h0m21,0h0m-364,1h0m23,0h0m351,0h0m-346,1h0m43,0h0m44,0h0m175,0h0m6,0h0m-311,1h0m168,0h0m24,0h0m77,0h0m76,0h0m40,0h0m-398,1h0m136,0h0m99,0h0m61,0h0m-296,1h0m56,0h0m64,0h0m56,0h0m47,0h0m15,0h0m2,0h0m105,0h0m-108,1h0m17,0h0m52,0h0m6,0h0m66,0h0m-235,1h0m121,0h0m50,0h0m1,0h0m81,0h0m-372,1h0m1,0h0m1,0h0m187,0h0m3,0h0m2,0h0m1,0h0m1,0h0m10,0h0m25,0h0m48,0h0m14,0h0m22,0h0m8,0h0m30,0h0m39,0h0m-406,1h0m190,0h0m68,0h0m8,0h0m21,0h0m58,0h0m30,0h0m16,0h0m-311,1h0m45,0h0m12,0h0m19,0h0m12,0h0m58,0h0m9,0h0m32,0h0m11,0h0m49,0h0m11,0h0m-324,1h0m3,0h0m74,0h0m119,0h0m135,0h0m45,0h0m-383,1h0m16,0h0m45,0h0m22,0h0m79,0h0m203,0h0m4,0h0m-361,1h0m190,0h0m7,0h0m31,0h0m70,0h0m82,0h0m-359,1h0m14,0h0m222,0h0m14,0h0m40,0h0m-340,1h0m24,0h0m28,0h0m54,0h0m54,0h0m69,0h0m169,0h0m11,0h0m-374,1h0m15,0h0m26,0h0m137,0h0m50,0h0m54,0h0m-289,1h0m23,0h0m121,0h0m17,0h0m42,0h0m71,0h0m24,0h0m14,0h0m6,0h0m24,0h0m11,0h0m-339,1h0m12,0h0m28,0h0m36,0h0m28,0h0m88,0h0m59,0h0m51,0h0m16,0h0m19,0h0m-363,1h0m50,0h0m9,0h0m56,0h0m15,0h0m99,0h0m81,0h0m24,0h0m27,0h0m-224,1h0m4,0h0m64,0h0m170,0h0m-375,1h0m227,0h0m133,0h0m4,0h0m-224,1h0m83,0h0m19,0h0m104,0h0m29,0h0m16,0h0m-190,1h0m40,0h0m-193,1h0m54,0h0m6,0h0m42,0h0m24,0h0m170,0h0m-258,1h0m54,0h0m236,0h0m-356,1h0m196,0h0m22,0h0m68,0h0m17,0h0m24,0h0m43,0h0m-386,1h0m84,0h0m172,0h0m1,0h0m46,0h0m33,0h0m21,0h0m4,0h0m27,0h0m-381,1h0m9,0h0m190,0h0m25,0h0m3,0h0m-221,1h0m21,0h0m20,0h0m63,0h0m109,0h0m157,0h0m12,0h0m-235,1h0m21,0h0m79,0h0m60,0h0m32,0h0m29,0h0m15,0h0m-320,1h0m16,0h0m10,0h0m5,0h0m93,0h0m117,0h0m6,1h0m57,0h0m9,0h0m-396,1h0m1,0h0m3,0h0m6,0h0m124,0h0m86,0h0m3,0h0m21,0h0m92,0h0m23,0h0m4,0h0m22,0h0m-318,1h0m16,0h0m120,0h0m94,0h0m30,0h0m15,0h0m-337,1h0m98,0h0m32,0h0m141,0h0m-167,1h0m28,0h0m8,0h0m6,0h0m35,0h0m2,0h0m11,0h0m5,0h0m21,0h0m88,0h0m31,0h0m43,0h0m2,0h0m-256,1h0m121,0h0m27,0h0m22,0h0m52,0h0m36,0h0m-397,1h0m16,0h0m8,0h0m66,0h0m20,0h0m58,0h0m41,0h0m48,0h0m72,0h0m53,0h0m10,0h0m-271,1h0m52,0h0m135,0h0m38,0h0m-307,1h0m37,0h0m5,0h0m56,0h0m107,0h0m125,0h0m-360,1h0m20,0h0m35,0h0m10,0h0m27,0h0m38,0h0m62,0h0m35,0h0m16,0h0m35,0h0m18,0h0m14,0h0m59,0h0m-274,1h0m0,0h0m76,0h0m76,0h0m16,0h0m34,0h0m-306,1h0m50,0h0m13,0h0m34,0h0m107,0h0m38,0h0m159,0h0m-276,1h0m7,0h0m69,0h0m50,0h0m9,0h0m43,0h0m12,0h0m18,0h0m55,0h0m-301,1h0m118,0h0m147,0h0m-341,1h0m52,0h0m62,0h0m25,0h0m103,0h0m27,0h0m20,0h0m30,0h0m50,0h0m-310,1h0m7,0h0m76,0h0m59,0h0m3,0h0m4,0h0m13,0h0m29,0h0m36,0h0m-223,1h0m35,0h0m54,0h0m42,0h0m72,0h0m99,0h0m-309,1h0m39,0h0m182,0h0m11,0h0m-281,1h0m37,0h0m1,0h0m21,0h0m0,0h0m7,0h0m58,0h0m177,0h0m-296,1h0m15,0h0m26,0h0m26,0h0m27,0h0m14,0h0m5,0h0m263,0h0m-359,1h0m21,0h0m11,0h0m105,0h0m7,0h0m46,0h0m71,0h0m23,0h0m29,0h0m0,0h0m-349,1h0m76,0h0m19,0h0m24,0h0m17,0h0m5,0h0m64,0h0m25,0h0m69,0h0m18,0h0m39,0h0m-336,1h0m195,0h0m83,0h0m30,0h0m-325,1h0m23,0h0m7,0h0m34,0h0m37,0h0m16,0h0m17,0h0m66,0h0m4,0h0m34,0h0m-64,1h0m27,0h0m15,0h0m107,0h0m64,0h0m-285,1h0m151,0h0m0,0h0m36,0h0m36,0h0m16,0h0m10,0h0m45,0h0m-393,1h0m40,0h0m50,0h0m11,0h0m139,0h0m22,0h0m18,0h0m45,0h0m-286,1h0m82,0h0m51,0h0m38,0h0m82,0h0m50,0h0m14,0h0m26,0h0m-309,1h0m62,0h0m47,0h0m15,0h0m3,0h0m82,0h0m-175,1h0m18,0h0m108,0h0m112,0h0m-228,1h0m1,0h0m142,0h0m79,0h0m15,0h0m9,0h0m7,0h0m-357,1h0m30,0h0m152,0h0m60,0h0m80,0h0m-340,1h0m23,0h0m78,0h0m11,0h0m41,0h0m88,0h0m50,0h0m-150,1h0m17,0h0m53,0h0m3,0h0m155,0h0m-324,1h0m104,0h0m4,0h0m6,0h0m9,0h0m81,0h0m92,0h0m2,0h0m-274,1h0m9,0h0m46,0h0m22,0h0m27,0h0m82,0h0m46,0h0m19,0h0m23,0h0m9,0h0m-324,1h0m72,0h0m13,0h0m84,0h0m132,0h0m-318,1h0m14,0h0m87,0h0m32,0h0m44,0h0m-99,1h0m6,0h0m74,0h0m19,0h0m10,0h0m12,0h0m65,0h0m15,0h0m68,0h0m-345,1h0m42,0h0m14,0h0m23,0h0m71,0h0m41,0h0m128,0h0m-317,1h0m17,0h0m39,0h0m7,0h0m28,0h0m42,0h0m123,0h0m24,0h0m-151,1h0m65,0h0m29,0h0m23,0h0m-226,1h0m219,0h0m84,0h0m30,0h0m-342,1h0m2,0h0m16,0h0m1,0h0m7,0h0m46,0h0m4,0h0m14,0h0m41,0h0m56,0h0m-196,1h0m58,0h0m34,0h0m55,0h0m40,0h0m21,0h0m79,0h0m-210,1h0m163,0h0m6,0h0m24,0h0m-214,1h0m47,0h0m85,0h0m1,0h0m148,0h0m-303,1h0m35,0h0m173,0h0m126,0h0m-235,1h0m40,0h0m14,0h0m28,0h0m105,0h0m-235,1h0m8,0h0m62,0h0m10,0h0m40,0h0m18,0h0m6,0h0m61,0h0m-276,1h0m54,0h0m32,0h0m41,0h0m130,0h0m-265,1h0m162,0h0m30,0h0m30,0h0m-140,1h0m83,0h0m-120,1h0m97,0h0m38,0h0m19,0h0m107,0h0m4,0h0m19,0h0m12,0h0m2,0h0m-308,1h0m47,0h0m81,0h0m32,0h0m151,0h0m-337,1h0m28,0h0m8,0h0m119,0h0m193,0h0m-199,1h0m65,0h0m97,0h0m-313,1h0m146,0h0m96,0h0m-244,1h0m197,0h0m28,0h0m79,0h0m-254,1h0m12,0h0m18,0h0m31,0h0m94,0h0m22,0h0m24,0h0m4,0h0m-217,1h0m-37,1h0m136,0h0m14,0h0m41,0h0m43,0h0m-205,1h0m43,0h0m7,0h0m45,0h0m81,0h0m2,0h0m0,0h0m113,0h0m-289,1h0m46,0h0m12,0h0m-51,1h0m1,0h0m5,0h0m55,0h0m101,0h0m33,0h0m97,0h0m-250,1h0m113,0h0m22,0h0m131,0h0m4,0h0m-258,1h0m46,0h0m25,0h0m15,0h0m37,0h0m58,0h0m65,0h0m-341,1h0m38,0h0m104,0h0m42,0h0m50,0h0m2,0h0m21,0h0m45,0h0m-268,1h0m22,0h0m23,0h0m94,0h0m27,0h0m71,0h0m20,0h0m40,0h0m-243,1h0m96,0h0m8,0h0m122,0h0m-236,1h0m40,0h0m34,0h0m46,0h0m152,0h0m-247,1h0m105,0h0m-145,1h0m62,0h0m106,0h0m81,0h0m36,0h0m-352,1h0m3,0h0m112,0h0m2,0h0m32,0h0m84,0h0m44,0h0m37,0h0m32,0h0m-257,1h0m62,0h0m102,0h0m49,0h0m7,0h0m7,0h0m37,0h0m-309,1h0m182,0h0m42,0h0m-231,1h0m107,0h0m28,0h0m35,0h0m117,0h0m14,0h0m-211,1h0m18,0h0m29,0h0m128,0h0m5,0h0m-207,1h0m141,0h0m4,0h0m14,0h0m-220,1h0m64,0h0m0,0h0m100,0h0m5,0h0m129,0h0m-152,1h0m8,0h0m151,0h0m-245,1h0m18,0h0m27,0h0m-41,1h0m138,0h0m5,0h0m6,0h0m10,0h0m82,0h0m-302,1h0m65,0h0m50,0h0m18,0h0m51,0h0m1,0h0m94,0h0m-265,1h0m205,0h0m16,0h0m24,0h0m-154,1h0m138,0h0m1,0h0m13,0h0m13,0h0m-290,1h0m97,0h0m30,0h0m16,0h0m10,0h0m108,0h0m35,0h0m-258,1h0m8,0h0m102,0h0m13,0h0m23,0h0m55,0h0m-253,1h0m7,0h0m26,0h0m14,0h0m138,0h0m23,0h0m-195,1h0m23,0h0m52,0h0m30,0h0m127,0h0m-98,1h0m81,0h0m6,0h0m23,0h0m14,0h0m-186,1h0m3,0h0m32,0h0m110,0h0m88,0h0m-277,1h0m29,0h0m29,0h0m14,0h0m22,0h0m71,0h0m37,0h0m10,0h0m53,0h0m-273,1h0m7,0h0m3,0h0m191,0h0m-185,1h0m118,0h0m15,0h0m38,0h0m15,0h0m32,0h0m14,0h0m-188,1h0m35,0h0m35,0h0m-106,1h0m17,0h0m0,0h0m48,0h0m58,0h0m64,0h0m11,0h0m64,0h0m9,0h0m-202,1h0m41,0h0m17,0h0m31,0h0m76,0h0m28,0h0m-227,1h0m68,0h0m42,0h0m55,0h0m11,0h0m53,0h0m-308,1h0m68,0h0m22,0h0m30,0h0m77,0h0m7,0h0m-183,1h0m10,0h0m31,0h0m74,0h0m36,0h0m80,0h0m-225,1h0m15,0h0m20,0h0m126,0h0m-192,1h0m47,0h0m165,0h0m20,0h0m12,0h0m45,0h0m-184,1h0m29,0h0m82,0h0m-186,1h0m145,0h0m97,0h0m-267,1h0m8,0h0m62,0h0m27,0h0m204,0h0m-25,1h0m2,0h0m3,0h0m18,0h0m-174,1h0m48,0h0m61,0h0m0,0h0m63,0h0m-265,1h0m45,0h0m62,0h0m15,0h0m7,0h0m17,0h0m49,0h0m7,0h0m66,0h0m0,0h0m-285,1h0m110,0h0m11,0h0m60,0h0m28,0h0m37,0h0m13,0h0m3,0h0m-250,1h0m19,0h0m110,0h0m132,0h0m-231,1h0m33,0h0m42,0h0m170,0h0m-291,1h0m1,0h0m162,0h0m2,0h0m13,0h0m98,0h0m-109,1h0m16,0h0m-156,1h0m7,0h0m7,0h0m40,0h0m21,0h0m10,0h0m41,0h0m38,0h0m7,0h0m41,0h0m-232,1h0m103,0h0m2,0h0m71,0h0m97,0h0m-272,1h0m104,0h0m90,0h0m22,0h0m9,0h0m1,0h0m-112,1h0m100,0h0m-223,1h0m6,0h0m123,0h0m5,0h0m8,0h0m20,0h0m41,0h0m38,0h0m-133,1h0m15,0h0m7,0h0m30,0h0m9,0h0m30,0h0m-168,1h0m15,1h0m43,0h0m32,0h0m30,0h0m-52,1h0m4,0h0m38,0h0m75,0h0m-167,1h0m13,0h0m31,0h0m180,0h0m4,0h0m-225,1h0m15,0h0m69,0h0m31,0h0m-147,1h0m6,0h0m171,0h0m24,0h0m-206,1h0m21,0h0m7,0h0m3,0h0m4,0h0m112,0h0m105,0h0m-253,2h0m23,0h0m55,0h0m16,0h0m14,0h0m49,0h0m19,0h0m23,0h0m-191,1h0m128,0h0m44,0h0m21,0h0m15,0h0m35,0h0m5,0h0m-253,1h0m1,0h0m72,0h0m16,0h0m66,0h0m25,0h0m15,0h0m-45,1h0m72,0h0m23,0h0m-192,1h0m159,0h0m39,0h0m-239,1h0m10,0h0m4,0h0m11,0h0m20,0h0m36,0h0m61,0h0m41,0h0m-97,1h0m2,0h0m-80,2h0m10,0h0m58,0h0m16,0h0m25,0h0m4,0h0m3,0h0m33,0h0m45,0h0m7,0h0m-207,1h0m1,0h0m80,0h0m61,0h0m-139,1h0m61,0h0m25,0h0m14,0h0m43,0h0m88,0h0m-205,1h0m72,0h0m121,0h0m-191,1h0m138,0h0m-120,1h0m1,0h0m2,0h0m96,0h0m8,0h0m-105,1h0m49,0h0m86,0h0m-172,1h0m52,0h0m8,0h0m16,0h0m2,0h0m24,0h0m58,0h0m7,0h0m41,0h0m-80,1h0m49,0h0m-163,1h0m123,0h0m-122,1h0m16,1h0m45,0h0m50,0h0m-124,1h0m37,0h0m111,0h0m-105,1h0m15,0h0m65,0h0m1,0h0m-115,1h0m46,1h0m1,0h0m-21,1h0m14,0h0m6,0h0m56,0h0m8,0h0m41,0h0m3,0h0m5,0h0m-85,1h0m49,0h0m19,0h0m44,0h0m-166,1h0m133,0h0m-131,2h0m10,0h0m-18,1h0m6,0h0m146,0h0m9,0h0m2,0h0m-105,1h0m95,0h0m-111,1h0m85,1h0m20,0h0m-156,1h0m17,0h0m37,0h0m-19,1h0m109,1h0" stroke="#A4CD52" stroke-width="4.0" stroke-linecap="round" fill="none"/>
<path d="M360,67h0m-87,1h0m139,0h0m-122,1h0m23,0h0m38,0h0m4,0h0m7,0h0m44,0h0m23,0h0m-110,1h0m38,0h0m7,0h0m-52,1h0m68,0h0m7,0h0m23,0h0m10,0h0m8,0h0m-138,1h0m2,0h0m53,0h0m49,0h0m-131,1h0m28,1h0m10,0h0m52,0h0m29,0h0m-48,1h0m30,0h0m63,0h0m13,0h0m-131,1h0m33,0h0m4,0h0m6,0h0m43,0h0m43,0h0m-150,1h0m10,0h0m51,0h0m-100,1h0m104,0h0m82,0h0m-169,1h0m31,0h0m7,0h0m26,0h0m27,0h0m78,0h0m-142,1h0m-16,1h0m43,0h0m92,0h0m-167,1h0m24,0h0m41,0h0m-14,1h0m65,0h0m11,0h0m28,0h0m-157,1h0m117,0h0m43,0h0m15,0h0m-148,1h0m44,0h0m2,0h0m84,0h0m-154,1h0m92,0h0m11,0h0m3,0h0m-95,1h0m59,0h0m3,0h0m-51,1h0m3,0h0m44,0h0m120,0h0m6,0h0m1,0h0m-176,1h0m11,0h0m7,0h0m27,0h0m14,0h0m22,0h0m52,0h0m-30,1h0m94,0h0m-161,1h0m10,0h0m36,0h0m97,0h0m13,0h0m-229,1h0m160,0h0m-48,2h0m37,0h0m34,0h0m7,0h0m33,0h0m-228,1h0m99,0h0m10,0h0m43,0h0m17,0h0m53,0h0m-188,1h0m75,0h0m76,0h0m-193,1h0m9,0h0m8,0h0m178,0h0m30,0h0m-193,1h0m67,0h0m38,0h0m87,0h0m-143,1h0m65,0h0m45,0h0m62,0h0m-172,1h0m30,1h0m101,0h0m-182,1h0m170,0h0m18,0h0m2,0h0m-101,1h0m22,0h0m-38,1h0m38,0h0m53,0h0m-168,1h0m48,0h0m9,0h0m2,0h0m8,0h0m-91,1h0m92,0h0m61,0h0m1,1h0m20,0h0m9,0h0m18,0h0m26,0h0m-175,1h0m199,0h0m-260,1h0m183,0h0m0,0h0m21,0h0m20,0h0m23,0h0m24,0h0m-207,1h0m46,0h0m29,0h0m40,0h0m38,0h0m27,0h0m-240,1h0m37,0h0m128,0h0m10,0h0m26,0h0m17,0h0m8,0h0m14,0h0m-218,1h0m38,0h0m53,0h0m-114,1h0m11,0h0m0,0h0m124,0h0m15,0h0m12,0h0m32,0h0m18,0h0m12,0h0m22,0h0m-201,1h0m15,0h0m140,0h0m35,0h0m-219,1h0m25,0h0m22,0h0m160,0h0m5,0h0m6,0h0m-58,1h0m23,0h0m1,0h0m11,0h0m36,0h0m3,0h0m0,0h0m-226,1h0m169,0h0m79,0h0m5,0h0m-266,1h0m13,0h0m18,0h0m15,0h0m0,0h0m61,0h0m120,0h0m28,0h0m12,0h0m-274,1h0m7,0h0m26,0h0m196,0h0m10,0h0m-153,1h0m40,0h0m111,0h0m30,0h0m-201,1h0m66,0h0m50,0h0m22,0h0m74,0h0m-276,1h0m2,0h0m98,0h0m153,0h0m-189,1h0m47,0h0m54,0h0m34,0h0m68,0h0m-277,1h0m35,0h0m21,0h0m40,0h0m0,0h0m104,0h0m-202,1h0m52,0h0m30,0h0m17,0h0m44,0h0m115,0h0m0,0h0m22,0h0m-174,1h0m54,0h0m22,0h0m17,0h0m2,0h0m-213,1h0m7,0h0m6,0h0m236,0h0m46,0h0m10,0h0m-296,1h0m72,0h0m5,0h0m8,0h0m45,0h0m147,0h0m-248,1h0m114,0h0m96,0h0m-222,1h0m5,0h0m198,0h0m49,0h0m-174,1h0m29,0h0m20,0h0m35,0h0m57,0h0m-242,1h0m72,0h0m27,0h0m30,0h0m71,0h0m13,0h0m19,0h0m25,0h0m9,0h0m9,0h0m-272,1h0m70,0h0m0,0h0m5,0h0m15,0h0m28,0h0m42,0h0m5,0h0m18,0h0m64,0h0m-224,1h0m21,0h0m13,0h0m4,0h0m9,0h0m82,0h0m25,0h0m23,0h0m8,0h0m-200,1h0m0,0h0m34,0h0m9,0h0m4,0h0m15,0h0m31,0h0m92,0h0m7,0h0m37,0h0m-216,1h0m39,0h0m18,0h0m34,0h0m67,0h0m29,0h0m23,0h0m16,0h0m44,0h0m-289,1h0m92,0h0m13,0h0m39,0h0m-144,1h0m60,0h0m172,0h0m21,0h0m-116,1h0m25,0h0m3,0h0m66,1h0m55,0h0m-311,1h0m7,0h0m9,0h0m28,0h0m183,0h0m31,0h0m57,0h0m5,0h0m-287,1h0m1,0h0m86,0h0m-19,1h0m29,0h0m89,0h0m9,0h0m103,0h0m-316,1h0m35,0h0m12,0h0m24,0h0m22,0h0m22,0h0m46,0h0m71,0h0m4,0h0m30,0h0m7,0h0m-291,1h0m15,0h0m91,0h0m0,0h0m22,0h0m8,0h0m65,0h0m38,0h0m39,0h0m-243,1h0m224,0h0m14,0h0m19,0h0m-290,1h0m67,0h0m18,0h0m40,0h0m56,0h0m23,0h0m66,0h0m11,0h0m34,0h0m-190,1h0m79,0h0m7,0h0m84,0h0m-300,1h0m43,0h0m23,0h0m86,0h0m148,0h0m-241,1h0m9,0h0m65,0h0m183,0h0m2,0h0m26,0h0m-344,1h0m75,0h0m97,0h0m83,0h0m39,0h0m17,0h0m-270,1h0m1,0h0m16,0h0m83,0h0m102,0h0m-214,1h0m231,0h0m-256,1h0m133,0h0m1,0h0m-136,1h0m8,0h0m129,0h0m40,0h0m4,0h0m30,0h0m98,0h0m15,0h0m6,0h0m-288,1h0m28,0h0m39,0h0m129,0h0m13,0h0m-163,1h0m33,0h0m17,0h0m16,0h0m162,0h0m-280,1h0m21,0h0m17,0h0m75,0h0m15,0h0m33,0h0m64,0h0m33,0h0m36,0h0m-305,1h0m45,0h0m79,0h0m36,0h0m5,0h0m124,0h0m34,0h0m-245,1h0m60,0h0m40,0h0m5,0h0m139,0h0m-305,1h0m8,0h0m104,0h0m71,0h0m53,0h0m22,0h0m-295,1h0m13,0h0m37,0h0m42,0h0m31,0h0m62,0h0m29,0h0m55,0h0m10,0h0m32,0h0m24,0h0m-220,1h0m42,0h0m109,0h0m15,0h0m37,0h0m-315,1h0m7,0h0m8,0h0m136,0h0m1,0h0m1,0h0m3,0h0m134,0h0m16,0h0m-288,1h0m148,0h0m51,0h0m4,0h0m67,0h0m32,0h0m5,0h0m19,0h0m-362,1h0m155,0h0m1,0h0m24,0h0m49,0h0m48,0h0m-235,1h0m22,0h0m157,0h0m38,0h0m63,0h0m4,0h0m1,0h0m2,0h0m-217,1h0m4,0h0m15,0h0m36,0h0m36,0h0m60,0h0m-217,1h0m43,0h0m50,0h0m2,0h0m162,0h0m34,0h0m-325,1h0m172,0h0m18,0h0m60,0h0m12,0h0m-270,1h0m111,0h0m24,0h0m22,0h0m121,0h0m-103,1h0m8,0h0m68,0h0m45,0h0m9,0h0m-49,1h0m11,0h0m36,0h0m15,0h0m-314,1h0m121,0h0m15,0h0m34,0h0m117,0h0m32,0h0m24,0h0m-274,1h0m29,0h0m58,0h0m84,0h0m70,0h0m-320,1h0m3,0h0m8,0h0m63,0h0m14,0h0m101,0h0m25,0h0m47,0h0m25,0h0m-133,1h0m48,0h0m59,0h0m25,0h0m83,0h0m-301,1h0m108,0h0m19,0h0m-138,1h0m124,0h0m39,0h0m18,0h0m120,0h0m-322,1h0m21,0h0m19,0h0m40,0h0m34,0h0m20,0h0m64,0h0m44,0h0m38,0h0m-296,1h0m51,0h0m14,0h0m37,0h0m3,0h0m55,0h0m39,0h0m32,0h0m49,0h0m68,0h0m-363,1h0m13,0h0m106,0h0m95,0h0m38,0h0m44,0h0m-274,1h0m25,0h0m14,0h0m174,0h0m18,0h0m30,0h0m7,0h0m79,0h0m-311,1h0m72,0h0m26,0h0m13,0h0m35,0h0m43,0h0m19,0h0m16,0h0m-227,1h0m2,0h0m66,0h0m104,0h0m99,0h0m2,0h0m12,0h0m24,0h0m-369,1h0m23,0h0m5,0h0m95,0h0m151,0h0m60,0h0m-293,1h0m6,0h0m3,0h0m82,0h0m152,0h0m21,0h0m-313,1h0m152,0h0m37,0h0m97,0h0m15,0h0m22,0h0m35,0h0m-356,1h0m2,0h0m5,0h0m9,0h0m4,0h0m13,0h0m114,0h0m12,0h0m33,0h0m75,0h0m9,0h0m13,0h0m-269,1h0m35,0h0m42,0h0m16,0h0m5,0h0m3,0h0m25,0h0m136,0h0m93,0h0m-333,1h0m197,0h0m63,0h0m18,0h0m-265,1h0m35,0h0m41,0h0m96,0h0m39,0h0m105,0h0m-283,1h0m20,0h0m34,0h0m7,0h0m42,0h0m69,0h0m31,0h0m29,0h0m22,0h0m-310,1h0m52,0h0m11,0h0m82,0h0m78,0h0m17,0h0m78,0h0m-334,1h0m110,0h0m59,0h0m6,0h0m77,0h0m44,0h0m-167,1h0m198,0h0m6,0h0m26,0h0m-382,1h0m1,0h0m9,0h0m65,0h0m17,0h0m2,0h0m101,0h0m45,0h0m77,0h0m5,0h0m10,0h0m-166,1h0m1,0h0m33,0h0m50,0h0m83,0h0m6,0h0m-281,1h0m43,0h0m67,0h0m16,0h0m57,0h0m23,0h0m7,0h0m34,0h0m71,0h0m-189,1h0m72,0h0m29,0h0m71,0h0m-190,1h0m20,0h0m13,0h0m1,0h0m12,0h0m65,0h0m20,0h0m36,0h0m-323,1h0m11,0h0m70,0h0m29,0h0m4,0h0m62,0h0m-182,1h0m7,0h0m173,0h0m38,0h0m2,0h0m73,0h0m63,0h0m-319,1h0m218,0h0m27,0h0m-289,1h0m112,0h0m15,0h0m21,0h0m82,0h0m58,0h0m58,0h0m49,0h0m-330,1h0m199,0h0m6,0h0m9,0h0m18,0h0m3,0h0m25,0h0m8,0h0m21,0h0m33,0h0m2,0h0m-374,1h0m42,0h0m4,0h0m74,0h0m11,0h0m111,0h0m89,0h0m-308,1h0m39,0h0m13,0h0m42,0h0m46,0h0m190,0h0m27,0h0m-397,1h0m152,0h0m25,0h0m5,0h0m17,0h0m39,0h0m-140,1h0m47,0h0m51,0h0m135,0h0m17,0h0m-345,1h0m12,0h0m3,0h0m38,0h0m13,0h0m148,0h0m23,0h0m101,0h0m-253,1h0m48,0h0m86,0h0m22,0h0m26,0h0m13,0h0m89,0h0m-274,1h0m62,0h0m75,0h0m39,0h0m23,0h0m4,0h0m17,0h0m40,0h0m28,0h0m-327,1h0m52,0h0m4,0h0m28,0h0m18,0h0m1,0h0m91,0h0m-240,1h0m16,0h0m46,0h0m92,0h0m12,0h0m131,0h0m31,0h0m23,0h0m-361,1h0m102,0h0m35,0h0m3,0h0m109,0h0m89,0h0m49,0h0m-311,1h0m106,0h0m42,0h0m38,0h0m121,0h0m-380,1h0m225,0h0m6,0h0m81,0h0m25,0h0m-208,1h0m65,0h0m118,0h0m1,0h0m33,0h0m-336,1h0m36,0h0m12,0h0m69,0h0m3,0h0m53,0h0m22,0h0m30,0h0m88,0h0m-308,1h0m46,0h0m217,0h0m-206,1h0m95,0h0m30,0h0m0,0h0m62,0h0m106,0h0m-305,1h0m9,0h0m4,0h0m21,0h0m127,0h0m20,0h0m130,0h0m11,0h0m-328,1h0m14,0h0m54,0h0m31,0h0m61,0h0m18,0h0m63,0h0m-292,1h0m113,0h0m47,0h0m4,0h0m36,0h0m38,0h0m31,0h0m62,0h0m6,0h0m56,0h0m-392,1h0m4,0h0m79,0h0m38,0h0m85,0h0m29,0h0m28,0h0m10,0h0m57,0h0m-339,1h0m3,0h0m164,0h0m160,0h0m25,0h0m30,0h0m-274,1h0m9,0h0m108,0h0m44,0h0m9,0h0m63,0h0m11,0h0m27,0h0m12,0h0m-382,1h0m26,0h0m51,0h0m29,0h0m106,0h0m135,0h0m42,0h0m2,0h0m-403,1h0m17,0h0m4,0h0m70,0h0m70,0h0m135,0h0m38,0h0m-333,1h0m77,0h0m40,0h0m49,0h0m37,0h0m63,0h0m28,0h0m54,0h0m-301,1h0m62,0h0m6,0h0m47,0h0m5,0h0m102,0h0m106,0h0m18,0h0m-243,1h0m2,0h0m56,0h0m26,0h0m41,0h0m68,0h0m-236,1h0m141,0h0m6,0h0m60,0h0m69,0h0m-374,1h0m28,0h0m158,0h0m13,0h0m52,0h0m21,0h0m47,0h0m19,0h0m22,0h0m-336,1h0m112,0h0m20,0h0m19,0h0m74,0h0m22,0h0m46,0h0m-240,1h0m132,0h0m19,0h0m56,0h0m33,0h0m-322,1h0m56,0h0m148,0h0m20,0h0m-149,1h0m32,0h0m16,0h0m243,0h0m-348,1h0m34,0h0m60,0h0m23,0h0m10,0h0m81,0h0m9,0h0m165,0h0m0,0h0m-356,1h0m9,0h0m53,0h0m41,0h0m72,0h0m126,0h0m23,0h0m-374,1h0m49,0h0m36,0h0m88,0h0m56,0h0m98,0h0m-332,1h0m16,0h0m16,0h0m23,0h0m3,0h0m21,0h0m11,0h0m33,0h0m9,0h0m50,0h0m95,0h0m55,0h0m33,0h0m-316,1h0m19,0h0m109,0h0m6,0h0m12,0h0m75,0h0m7,0h0m18,0h0m65,0h0m-312,1h0m7,0h0m254,0h0m103,0h0m-373,1h0m74,0h0m77,0h0m107,0h0m18,0h0m2,0h0m-217,1h0m75,0h0m23,0h0m209,0h0m1,0h0m-349,1h0m75,0h0m5,0h0m25,0h0m30,0h0m103,0h0m39,0h0m47,0h0m17,0h0m-316,1h0m1,0h0m55,0h0m101,0h0m118,0h0m6,0h0m-346,1h0m6,0h0m47,0h0m108,0h0m6,0h0m14,0h0m106,0h0m12,0h0m-44,1h0m3,0h0m97,0h0m10,0h0m21,0h0m-392,1h0m8,0h0m116,0h0m154,0h0m-267,1h0m17,0h0m62,0h0m85,0h0m148,0h0m32,0h0m-357,1h0m76,0h0m19,0h0m191,0h0m-244,1h0m26,0h0m70,0h0m12,0h0m7,0h0m57,0h0m55,0h0m34,0h0m83,0h0m-382,1h0m113,0h0m25,0h0m5,0h0m3,0h0m179,0h0m5,0h0m25,0h0m-302,1h0m142,0h0m29,0h0m31,0h0m-223,1h0m53,0h0m87,0h0m112,0h0m35,0h0m-152,1h0m60,0h0m89,0h0m75,0h0m-387,1h0m45,0h0m82,0h0m200,0h0m19,0h0m-329,1h0m1,0h0m4,0h0m3,0h0m43,0h0m19,0h0m30,0h0m0,0h0m104,0h0m-66,1h0m48,0h0m154,0h0m5,0h0m-269,1h0m24,0h0m6,0h0m166,0h0m31,0h0m17,0h0m13,0h0m-341,1h0m1,0h0m52,0h0m45,0h0m16,0h0m33,0h0m104,0h0m17,0h0m52,0h0m-309,1h0m23,0h0m148,0h0m49,0h0m2,0h0m55,0h0m20,0h0m4,0h0m23,0h0m-333,1h0m47,0h0m43,0h0m239,0h0m11,0h0m-263,1h0m93,0h0m12,0h0m36,0h0m23,0h0m62,0h0m26,0h0m11,0h0m21,0h0m-395,1h0m19,0h0m118,0h0m-125,1h0m93,0h0m18,0h0m239,0h0m14,0h0m10,0h0m-325,1h0m32,0h0m1,0h0m1,0h0m6,0h0m25,0h0m60,0h0m19,0h0m31,0h0m116,0h0m1,0h0m-317,1h0m21,0h0m83,0h0m11,0h0m130,0h0m38,0h0m14,0h0m-304,1h0m88,0h0m55,0h0m23,0h0m33,0h0m138,0h0m25,0h0m-390,1h0m208,0h0m39,0h0m86,0h0m67,0h0m-358,1h0m94,0h0m119,0h0m118,0h0m23,0h0m-187,1h0m77,0h0m12,0h0m67,0h0m7,0h0m7,0h0m8,0h0m-333,1h0m36,0h0m148,0h0m61,0h0m14,0h0m-239,1h0m242,0h0m44,0h0m16,0h0m7,0h0m24,0h0m-311,1h0m59,0h0m51,0h0m3,0h0m189,0h0m-331,1h0m73,0h0m138,0h0m75,0h0m65,0h0m-395,1h0m1,0h0m80,0h0m218,0h0m35,0h0m22,0h0m16,0h0m4,0h0m-288,1h0m250,0h0m28,0h0m13,0h0m-355,1h0m170,0h0m106,0h0m64,0h0m-377,1h0m36,0h0m88,0h0m61,0h0m79,0h0m39,0h0m95,0h0m-379,1h0m7,0h0m0,0h0m61,0h0m-58,1h0m72,0h0m30,0h0m196,0h0m63,0h0m-314,1h0m0,0h0m24,0h0m79,0h0m193,0h0m-360,1h0m59,0h0m49,0h0m150,0h0m17,0h0m2,0h0m49,0h0m-268,1h0m33,0h0m9,0h0m79,0h0m80,0h0m23,0h0m116,0h0m-313,1h0m2,0h0m269,0h0m-221,1h0m0,0h0m95,0h0m136,0h0m20,0h0m-384,1h0m17,0h0m3,0h0m66,0h0m100,0h0m146,0h0m-328,1h0m50,0h0m11,0h0m25,0h0m168,0h0m-198,1h0m20,0h0m260,0h0m23,0h0m-367,1h0m53,0h0m27,0h0m23,0h0m5,0h0m208,0h0m-336,1h0m42,0h0m82,0h0m11,0h0m55,0h0m121,0h0m56,0h0m-322,1h0m30,0h0m69,0h0m20,0h0m34,0h0m18,0h0m-74,1h0m20,0h0m216,0h0m15,0h0m5,0h0m-349,1h0m30,0h0m16,0h0m29,0h0m45,0h0m15,0h0m4,0h0m24,0h0m19,0h0m46,0h0m29,0h0m112,0h0m-397,1h0m5,0h0m45,0h0m140,0h0m161,0h0m10,0h0m23,0h0m-358,1h0m63,0h0m19,0h0m161,0h0m40,0h0m7,0h0m39,0h0m-311,1h0m15,0h0m35,0h0m28,0h0m163,0h0m-231,1h0m24,0h0m33,0h0m199,0h0m31,0h0m26,0h0m2,0h0m6,0h0m7,0h0m-81,1h0m-312,1h0m125,0h0m215,0h0m-128,1h0m59,0h0m31,0h0m10,0h0m24,0h0m48,0h0m-386,1h0m70,0h0m34,0h0m89,0h0m2,0h0m12,0h0m4,0h0m168,0h0m-349,1h0m72,0h0m47,0h0m125,0h0m14,0h0m70,0h0m48,0h0m2,0h0m-387,1h0m46,0h0m36,0h0m8,0h0m5,0h0m17,0h0m17,0h0m42,0h0m44,0h0m5,0h0m33,0h0m45,0h0m-238,1h0m15,0h0m190,0h0m29,0h0m15,0h0m1,0h0m-226,1h0m251,0h0m6,0h0m25,0h0m6,0h0m13,0h0m-199,1h0m18,0h0m100,0h0m31,0h0m-341,1h0m33,0h0m55,0h0m40,0h0m129,0h0m-248,1h0m42,0h0m15,0h0m113,0h0m5,0h0m4,0h0m169,0h0m-375,1h0m12,0h0m102,0h0m39,0h0m36,0h0m48,0h0m171,0h0m7,0h0m-411,1h0m15,0h0m61,0h0m50,0h0m16,0h0m62,0h0m183,0h0m3,0h0m-330,1h0m38,0h0m51,0h0m53,0h0m6,0h0m152,0h0m3,0h0m16,0h0m-300,1h0m59,0h0m61,0h0m91,0h0m20,0h0m18,0h0m74,0h0m-356,1h0m3,0h0m89,0h0m82,0h0m119,0h0m16,0h0m33,0h0m1,0h0m14,0h0m-414,1h0m33,0h0m2,0h0m39,0h0m214,0h0m29,0h0m105,0h0m-374,1h0m89,0h0m33,0h0m28,0h0m94,0h0m17,0h0m-167,1h0m26,0h0m58,0h0m127,0h0m-311,1h0m65,0h0m95,0h0m31,0h0m68,0h0m-164,1h0m46,0h0m9,0h0m18,0h0m139,0h0m-317,1h0m62,0h0m1,0h0m17,0h0m22,0h0m22,0h0m187,0h0m43,0h0m2,0h0m17,0h0m-405,1h0m45,0h0m14,0h0m4,0h0m127,0h0m49,0h0m11,0h0m127,0h0m-244,1h0m90,0h0m-192,1h0m18,0h0m58,0h0m199,0h0m-224,1h0m9,0h0m65,0h0m78,0h0m6,0h0m-135,1h0m8,0h0m27,0h0m70,0h0m22,0h0m112,0h0m75,0h0m-352,1h0m50,0h0m115,0h0m66,0h0m116,0h0m-406,1h0m2,0h0m13,0h0m35,0h0m16,0h0m44,0h0m93,0h0m11,0h0m75,0h0m63,0h0m14,0h0m25,0h0m-397,1h0m26,0h0m204,0h0m11,0h0m-195,1h0m57,0h0m1,0h0m17,0h0m24,0h0m55,0h0m41,0h0m43,0h0m105,0h0m-268,1h0m31,0h0m17,0h0m34,0h0m103,0h0m41,0h0m8,0h0m31,0h0m30,0h0m-392,1h0m29,0h0m189,0h0m44,0h0m31,0h0m53,0h0m30,0h0m-382,1h0m70,0h0m19,0h0m92,0h0m141,0h0m-126,1h0m10,0h0m60,0h0m10,0h0m72,0h0m13,0h0m1,0h0m-148,1h0m44,0h0m34,0h0m59,0h0m9,0h0m-345,1h0m78,0h0m9,0h0m2,0h0m22,0h0m22,0h0m24,0h0m51,0h0m86,0h0m23,0h0m21,0h0m20,0h0m21,0h0m-342,1h0m93,0h0m12,0h0m67,0h0m29,0h0m72,0h0m-242,1h0m55,0h0m24,0h0m106,0h0m20,0h0m-270,1h0m12,0h0m24,0h0m34,0h0m233,0h0m33,0h0m43,0h0m-311,1h0m100,0h0m50,0h0m115,0h0m-358,1h0m24,0h0m49,0h0m18,0h0m18,0h0m11,0h0m2,0h0m89,0h0m81,0h0m3,0h0m4,0h0m0,0h0m51,0h0m38,0h0m3,0h0m-300,1h0m128,0h0m71,0h0m-296,1h0m1,0h0m28,0h0m100,0h0m56,0h0m70,0h0m0,0h0m-198,1h0m12,0h0m25,0h0m25,0h0m48,0h0m165,0h0m3,0h0m-306,1h0m180,0h0m12,0h0m7,0h0m81,0h0m47,0h0m5,0h0m31,0h0m-124,1h0m115,0h0m6,0h0m3,0h0m-369,1h0m23,0h0m108,0h0m43,0h0m55,0h0m22,0h0m2,0h0m100,0h0m15,0h0m-342,1h0m8,0h0m53,0h0m106,0h0m-79,1h0m25,0h0m9,0h0m47,0h0m1,0h0m186,0h0m-326,1h0m103,0h0m194,0h0m5,0h0m22,0h0m-244,1h0m26,0h0m66,0h0m70,0h0m6,0h0m-284,1h0m28,0h0m126,0h0m13,0h0m115,0h0m79,0h0m-382,1h0m68,0h0m19,0h0m9,0h0m19,0h0m204,0h0m25,0h0m37,0h0m3,0h0m-346,1h0m204,0h0m16,0h0m59,0h0m8,0h0m33,0h0m-241,1h0m52,0h0m63,0h0m30,0h0m14,0h0m34,0h0m32,0h0m0,0h0m0,0h0m-322,1h0m56,0h0m95,0h0m89,0h0m-245,1h0m228,0h0m39,0h0m103,0h0m-364,1h0m6,0h0m21,0h0m21,0h0m25,0h0m183,0h0m-289,1h0m5,0h0m86,0h0m78,0h0m10,0h0m87,0h0m11,0h0m112,0h0m-388,1h0m162,0h0m6,0h0m73,0h0m26,0h0m-225,1h0m2,0h0m38,0h0m54,0h0m7,0h0m2,0h0m65,0h0m117,0h0m-331,1h0m12,0h0m2,0h0m6,0h0m106,0h0m217,0h0m-160,1h0m139,0h0m-254,1h0m25,0h0m106,0h0m86,0h0m70,0h0m-317,1h0m98,0h0m63,0h0m90,0h0m49,0h0m-319,1h0m40,0h0m56,0h0m73,0h0m11,0h0m1,0h0m110,0h0m22,0h0m54,0h0m-318,1h0m74,0h0m52,0h0m22,0h0m28,0h0m8,0h0m13,0h0m20,0h0m-206,1h0m1,0h0m6,0h0m33,0h0m31,0h0m2,0h0m83,0h0m17,0h0m14,0h0m-173,1h0m145,0h0m4,0h0m141,0h0m-280,1h0m60,0h0m55,0h0m10,0h0m70,0h0m-258,1h0m105,0h0m13,0h0m29,0h0m95,0h0m63,0h0m53,0h0m-327,1h0m3,0h0m21,0h0m36,0h0m1,0h0m4,0h0m121,0h0m133,0h0m-348,1h0m162,0h0m106,0h0m64,0h0m17,0h0m-165,1h0m19,0h0m73,0h0m-261,1h0m16,0h0m251,0h0m-303,1h0m42,0h0m22,0h0m37,0h0m19,0h0m145,0h0m23,0h0m21,0h0m21,0h0m28,0h0m-372,1h0m34,0h0m14,0h0m63,0h0m30,0h0m70,0h0m105,0h0m17,0h0m-333,1h0m64,0h0m2,0h0m31,0h0m78,0h0m2,0h0m44,0h0m-186,1h0m79,0h0m23,0h0m2,0h0m38,0h0m11,0h0m0,0h0m50,0h0m42,0h0m5,0h0m27,0h0m27,0h0m11,0h0m11,0h0m13,0h0m-347,1h0m8,0h0m26,0h0m128,0h0m155,0h0m30,0h0m-319,1h0m90,0h0m10,0h0m81,0h0m64,0h0m33,0h0m-231,1h0m34,0h0m91,0h0m44,0h0m13,0h0m23,0h0m-276,1h0m82,0h0m31,0h0m141,0h0m8,0h0m46,0h0m22,0h0m-356,1h0m5,0h0m60,0h0m86,0h0m22,0h0m133,0h0m-295,1h0m5,0h0m11,0h0m74,0h0m79,0h0m11,0h0m135,0h0m-314,1h0m29,0h0m4,0h0m101,0h0m3,0h0m20,0h0m76,0h0m51,0h0m46,0h0m-334,1h0m41,0h0m77,0h0m103,0h0m63,0h0m30,0h0m1,0h0m-311,1h0m11,0h0m25,0h0m157,0h0m22,0h0m-233,1h0m94,0h0m148,0h0m23,0h0m22,0h0m38,0h0m-323,1h0m97,0h0m32,0h0m42,0h0m30,0h0m5,0h0m95,0h0m46,0h0m10,0h0m18,0h0m-374,1h0m51,0h0m21,0h0m140,0h0m68,0h0m63,0h0m7,0h0m9,0h0m-324,1h0m86,0h0m201,0h0m7,0h0m15,0h0m12,0h0m14,0h0m6,0h0m-359,1h0m18,0h0m11,0h0m11,0h0m30,0h0m1,0h0m38,0h0m12,0h0m27,0h0m179,0h0m-306,1h0m103,0h0m82,0h0m112,0h0m-327,1h0m229,0h0m23,0h0m18,0h0m7,0h0m15,0h0m22,0h0m7,0h0m-256,1h0m54,0h0m24,0h0m20,0h0m-165,1h0m41,0h0m63,0h0m149,0h0m35,0h0m48,0h0m-295,1h0m89,0h0m55,0h0m55,0h0m56,0h0m-301,1h0m62,0h0m83,0h0m61,0h0m8,0h0m4,0h0m18,0h0m-157,1h0m83,0h0m30,0h0m42,0h0m73,0h0m38,0h0m18,0h0m14,0h0m-376,1h0m200,0h0m15,0h0m101,0h0m48,0h0m-325,1h0m44,0h0m17,0h0m97,0h0m131,0h0m-202,1h0m55,0h0m97,0h0m16,0h0m20,0h0m30,0h0m25,0h0m-364,1h0m3,0h0m33,0h0m94,0h0m13,0h0m71,0h0m-203,1h0m20,0h0m1,0h0m50,0h0m96,0h0m34,0h0m23,0h0m27,0h0m68,0h0m-332,1h0m57,0h0m177,0h0m58,0h0m-265,1h0m37,0h0m230,0h0m19,0h0m-302,1h0m3,0h0m20,0h0m4,0h0m155,0h0m43,0h0m52,0h0m20,0h0m35,0h0m-198,1h0m16,0h0m133,0h0m34,0h0m-180,1h0m26,0h0m48,0h0m30,0h0m89,0h0m-264,1h0m8,0h0m25,0h0m24,0h0m77,0h0m12,0h0m6,0h0m83,0h0m-242,1h0m44,0h0m66,0h0m52,0h0m2,0h0m13,0h0m116,0h0m-328,1h0m27,0h0m32,0h0m25,0h0m5,0h0m34,0h0m112,0h0m22,0h0m71,0h0m-232,1h0m171,0h0m14,0h0m35,0h0m11,0h0m-202,1h0m22,0h0m23,0h0m8,0h0m32,0h0m24,0h0m70,0h0m-227,1h0m185,0h0m16,0h0m34,0h0m-291,1h0m45,0h0m136,0h0m18,0h0m17,0h0m-222,2h0m138,0h0m30,0h0m0,0h0m32,0h0m64,0h0m39,0h0m-192,1h0m4,0h0m61,0h0m58,0h0m64,0h0m4,0h0m-321,1h0m7,0h0m28,0h0m31,0h0m89,0h0m123,0h0m11,0h0m-306,1h0m27,0h0m33,0h0m74,0h0m70,0h0m128,0h0m-275,1h0m18,0h0m52,0h0m29,0h0m140,0h0m33,0h0m13,0h0m-220,1h0m33,0h0m141,0h0m-152,1h0m-116,1h0m90,0h0m156,0h0m49,0h0m21,0h0m-127,1h0m40,0h0m0,0h0m73,0h0m7,0h0m-305,1h0m10,0h0m194,0h0m22,0h0m-176,1h0m32,0h0m73,0h0m24,0h0m68,0h0m16,0h0m-286,1h0m52,0h0m164,0h0m72,0h0m1,0h0m1,0h0m43,0h0m-306,1h0m28,0h0m118,0h0m-173,1h0m27,0h0m9,0h0m5,0h0m117,0h0m22,0h0m98,0h0m4,0h0m-288,1h0m51,0h0m10,0h0m53,0h0m9,0h0m75,0h0m20,0h0m10,0h0m10,0h0m6,0h0m6,0h0m35,0h0m-266,1h0m53,0h0m67,0h0m14,0h0m11,0h0m118,0h0m32,0h0m-305,1h0m68,0h0m37,0h0m66,0h0m25,0h0m17,0h0m4,0h0m28,0h0m9,0h0m71,0h0m-283,1h0m74,0h0m124,0h0m70,0h0m-201,1h0m68,0h0m2,0h0m34,0h0m11,0h0m3,0h0m7,0h0m49,0h0m-278,1h0m6,0h0m86,0h0m73,0h0m47,0h0m82,0h0m-298,1h0m9,0h0m32,0h0m30,0h0m0,0h0m33,0h0m17,0h0m83,0h0m96,0h0m-296,1h0m28,0h0m61,0h0m50,0h0m97,0h0m42,0h0m-218,1h0m33,0h0m25,0h0m112,0h0m76,0h0m-280,1h0m22,0h0m147,0h0m99,0h0m-263,1h0m38,0h0m18,0h0m114,0h0m52,0h0m-224,1h0m73,0h0m8,0h0m3,0h0m6,0h0m49,0h0m79,0h0m-220,1h0m52,0h0m3,0h0m38,0h0m1,0h0m110,0h0m-217,1h0m17,0h0m134,0h0m61,0h0m-187,1h0m153,0h0m8,0h0m74,0h0m22,0h0m-151,1h0m50,0h0m10,0h0m1,0h0m-100,1h0m36,0h0m135,0h0m2,0h0m20,0h0m-266,1h0m30,0h0m106,0h0m72,0h0m5,0h0m60,0h0m-243,1h0m14,0h0m50,0h0m60,0h0m21,0h0m18,0h0m62,0h0m-262,1h0m40,0h0m110,0h0m27,0h0m13,0h0m-112,1h0m2,0h0m51,0h0m-109,1h0m51,0h0m40,0h0m100,0h0m23,0h0m19,0h0m-228,1h0m18,0h0m8,0h0m4,0h0m21,0h0m51,0h0m95,0h0m50,0h0m-162,1h0m21,0h0m27,0h0m5,0h0m40,0h0m3,0h0m23,0h0m37,0h0m-275,1h0m69,0h0m4,0h0m25,0h0m148,0h0m-262,1h0m113,0h0m55,0h0m43,0h0m42,0h0m19,0h0m-160,1h0m152,0h0m-257,1h0m11,0h0m45,0h0m71,0h0m74,0h0m33,0h0m26,0h0m-263,1h0m9,0h0m23,0h0m34,0h0m27,0h0m72,0h0m38,0h0m24,0h0m-112,1h0m24,0h0m104,0h0m-244,1h0m106,0h0m83,0h0m43,0h0m4,0h0m3,0h0m23,0h0m10,0h0m16,0h0m-243,1h0m22,0h0m47,0h0m19,0h0m30,0h0m18,0h0m-170,1h0m136,0h0m77,0h0m-162,1h0m7,0h0m60,0h0m4,0h0m131,0h0m-179,1h0m25,0h0m33,0h0m6,0h0m-14,1h0m0,0h0m7,0h0m35,0h0m8,0h0m22,0h0m-78,1h0m103,0h0m-216,1h0m141,0h0m35,0h0m6,0h0m4,0h0m3,0h0m0,0h0m49,0h0m-243,1h0m13,0h0m5,0h0m115,0h0m140,0h0m-276,1h0m66,1h0m38,0h0m20,0h0m100,0h0m6,0h0m1,0h0m10,0h0m-12,1h0m-157,1h0m66,0h0m21,0h0m4,0h0m0,0h0m12,0h0m20,0h0m20,0h0m47,0h0m-147,1h0m26,0h0m45,0h0m8,0h0m3,0h0m20,0h0m1,0h0m-210,1h0m69,0h0m75,0h0m10,0h0m-145,1h0m194,0h0m0,0h0m23,0h0m28,0h0m-230,1h0m38,0h0m1,0h0m4,0h0m18,0h0m67,0h0m41,0h0m9,0h0m7,0h0m0,1h0m30,0h0m-189,1h0m1,0h0m67,0h0m15,0h0m70,0h0m5,1h0m2,0h0m-185,1h0m27,0h0m65,0h0m127,1h0m-228,1h0m20,0h0m4,0h0m17,0h0m75,0h0m21,0h0m1,0h0m24,0h0m23,0h0m32,0h0m12,0h0m-188,1h0m41,0h0m41,0h0m6,0h0m-36,1h0m39,0h0m-86,1h0m175,0h0m-212,1h0m97,0h0m20,0h0m11,0h0m59,0h0m-176,1h0m6,0h0m8,0h0m23,0h0m13,0h0m6,0h0m6,0h0m29,0h0m-76,1h0m58,0h0m64,0h0m-89,1h0m23,0h0m98,0h0m-138,1h0m1,0h0m111,0h0m22,0h0m38,0h0m-209,1h0m29,0h0m81,0h0m1,0h0m97,0h0m-120,1h0m90,0h0m-165,1h0m75,0h0m14,0h0m13,0h0m1,0h0m26,0h0m-113,1h0m7,0h0m56,0h0m12,0h0m52,0h0m21,0h0m26,0h0m-191,1h0m116,0h0m18,0h0m1,0h0m16,0h0m14,0h0m6,0h0m20,0h0m-142,1h0m45,0h0m88,0h0m5,0h0m1,0h0m-200,1h0m19,0h0m24,0h0m18,0h0m83,1h0m49,0h0m6,1h0m-136,1h0m-2,1h0m37,0h0m8,0h0m11,0h0m77,0h0m-134,1h0m39,0h0m32,0h0m16,0h0m7,0h0m-116,1h0m15,0h0m65,0h0m17,0h0m19,0h0m-12,2h0m29,0h0m1,0h0m-68,2h0m58,0h0m-11,1h0" stroke="#B7D43E" stroke-width="4.0" stroke-linecap="round" fill="none"/>
<path d="M282,114h0m129,1h0m61,2h0m-90,7h0m-164,95h0m123,0h0m-38,38h0m11,8h0m-12,4h0m5,6h0m-14,1h0m20,8h0m1,1h0m-6,1h0m4,0h0m-11,4h0m5,1h0m3,2h0m-25,1h0m-88,1h0m307,2h0m-104,9h0m-85,2h0m-121,50h0m300,15h0m41,3h0m-329,27h0" stroke="#F37021" stroke-width="4.0" stroke-linecap="round" fill="none"/>
<path d="M420,75h0m46,91h0m7,1h0m-82,101h0m-2,5h0m-3,3h0m11,2h0m-28,1h0m7,0h0m3,0h0m22,5h0m-52,5h0m49,0h0m-25,2h0m12,1h0m7,0h0m-9,1h0m-19,3h0m22,0h0m14,1h0m-22,1h0m5,0h0m15,0h0m-24,2h0m5,0h0m-6,1h0m-236,1h0m246,0h0m23,1h0m-14,2h0m-2,4h0m15,4h0m-3,1h0m2,2h0m-21,2h0m16,2h0m3,3h0m0,15h0m-238,18h0m71,55h0m41,38h0" stroke="#3F8ECC" stroke-width="4.0" stroke-linecap="round" fill="none"/>
<path d="M194,204h0m277,7h0m-164,28h0m-12,2h0m9,5h0m8,7h0m-9,1h0m1,3h0m-49,4h0m51,1h0m-23,4h0m18,0h0m4,4h0m27,2h0m-68,1h0m57,2h0m-18,1h0m-12,1h0m19,0h0m-15,1h0m0,3h0m10,0h0m4,0h0m-20,3h0m30,0h0m-15,4h0m6,0h0m-8,1h0m13,0h0m-12,2h0m-42,1h0m42,0h0m26,0h0m0,1h0m-29,2h0m-14,1h0m3,1h0m5,0h0m10,0h0m-13,1h0m28,0h0m14,1h0m-75,1h0m137,4h0m-105,1h0m11,4h0m19,0h0m-31,4h0m11,3h0m22,2h0m-18,7h0m-4,2h0m42,0h0m-52,1h0m7,14h0m-88,99h0m64,27h0" stroke="#F9A51C" stroke-width="4.0" stroke-linecap="round" fill="none"/>
<path d="M365,67h0m-13,1h0m5,0h0m70,0h0m-65,2h0m2,0h0m33,1h0m-32,1h0m31,0h0m-29,2h0m-117,1h0m142,0h0m-60,1h0m83,0h0m-15,2h0m16,0h0m-176,2h0m62,1h0m69,1h0m43,1h0m-10,6h0m-118,2h0m116,0h0m-124,1h0m46,0h0m-37,1h0m62,0h0m35,0h0m-93,1h0m55,3h0m49,0h0m-14,1h0m60,0h0m-79,2h0m-132,1h0m190,2h0m-187,1h0m-5,2h0m105,0h0m139,0h0m-124,2h0m-5,2h0m78,0h0m-160,1h0m143,0h0m-124,1h0m58,0h0m-39,1h0m-96,2h0m23,0h0m26,0h0m209,0h0m-47,2h0m-86,1h0m83,0h0m-184,1h0m135,0h0m47,0h0m41,0h0m-8,1h0m-169,1h0m85,0h0m35,1h0m-33,1h0m14,0h0m91,0h0m-248,1h0m82,0h0m99,0h0m-70,1h0m43,0h0m20,1h0m-108,2h0m10,0h0m-94,1h0m-15,1h0m142,0h0m-2,1h0m19,0h0m-30,1h0m-44,2h0m97,1h0m130,0h0m-285,1h0m293,0h0m-100,1h0m-171,1h0m57,0h0m104,0h0m-127,1h0m38,0h0m114,1h0m-157,1h0m139,1h0m-61,2h0m-65,1h0m173,0h0m-253,1h0m70,0h0m98,0h0m66,0h0m-155,1h0m71,0h0m141,0h0m-186,1h0m-104,1h0m101,1h0m34,0h0m41,0h0m77,0h0m-146,1h0m27,0h0m4,0h0m-99,2h0m13,0h0m72,1h0m30,0h0m82,0h0m-207,2h0m262,0h0m8,0h0m-314,1h0m5,1h0m309,0h0m-287,1h0m12,0h0m289,0h0m-275,1h0m79,0h0m189,0h0m-303,1h0m26,0h0m64,0h0m151,2h0m-133,1h0m66,0h0m-68,1h0m33,0h0m55,0h0m-163,1h0m285,0h0m-123,1h0m-212,1h0m-2,1h0m8,0h0m185,1h0m54,1h0m-187,2h0m37,0h0m164,0h0m-179,1h0m193,1h0m12,0h0m53,1h0m-150,1h0m147,0h0m-98,1h0m105,0h0m-290,1h0m167,0h0m-75,1h0m-109,1h0m282,0h0m-152,1h0m128,0h0m-315,1h0m20,1h0m60,0h0m159,0h0m30,0h0m-219,1h0m-11,2h0m85,0h0m59,1h0m180,0h0m-216,1h0m-36,1h0m246,0h0m-329,1h0m32,0h0m247,0h0m-162,1h0m27,1h0m10,0h0m155,0h0m-272,1h0m113,0h0m160,0h0m-323,1h0m109,0h0m183,1h0m7,0h0m9,0h0m-56,1h0m-238,1h0m230,0h0m118,0h0m-209,1h0m30,0h0m23,0h0m-67,3h0m3,0h0m65,0h0m58,0h0m-240,1h0m70,0h0m30,0h0m183,0h0m-206,1h0m86,1h0m159,0h0m-189,1h0m171,0h0m-242,1h0m24,0h0m26,0h0m203,0h0m-332,1h0m47,0h0m1,0h0m135,0h0m31,0h0m0,0h0m-151,1h0m159,2h0m64,0h0m-30,1h0m50,1h0m-141,1h0m153,0h0m38,0h0m-280,1h0m-116,1h0m161,0h0m178,1h0m42,1h0m-11,2h0m-239,2h0m74,0h0m197,0h0m-251,1h0m-144,2h0m133,0h0m13,0h0m222,0h0m-90,1h0m23,0h0m-278,1h0m156,0h0m149,0h0m-265,1h0m309,0h0m16,0h0m-322,1h0m105,0h0m173,0h0m13,0h0m-354,1h0m185,0h0m-197,1h0m196,0h0m34,0h0m98,0h0m-226,1h0m-44,1h0m254,2h0m37,1h0m-208,1h0m-119,1h0m337,0h0m-354,1h0m131,0h0m38,0h0m17,0h0m127,0h0m-268,1h0m87,0h0m46,0h0m43,0h0m172,1h0m-330,1h0m128,0h0m115,0h0m-284,1h0m5,0h0m112,0h0m170,0h0m-133,1h0m-52,1h0m199,1h0m8,0h0m60,0h0m-36,1h0m-329,2h0m-12,1h0m95,0h0m179,0h0m-213,1h0m222,0h0m11,0h0m36,0h0m19,0h0m-244,4h0m222,0h0m-322,1h0m303,0h0m2,0h0m-215,1h0m19,0h0m-127,1h0m10,0h0m27,0h0m133,1h0m-173,1h0m11,0h0m372,0h0m-357,1h0m53,0h0m109,0h0m-188,1h0m157,0h0m51,0h0m10,0h0m-199,1h0m124,0h0m185,0h0m-336,2h0m163,1h0m170,0h0m9,0h0m-192,1h0m-8,1h0m-130,1h0m337,0h0m17,0h0m16,0h0m-361,1h0m39,0h0m102,0h0m21,0h0m-132,1h0m90,1h0m-80,1h0m11,0h0m6,0h0m88,0h0m-82,1h0m39,0h0m28,1h0m258,0h0m-188,1h0m-179,2h0m102,0h0m42,0h0m166,0h0m-184,1h0m6,1h0m124,0h0m37,0h0m14,0h0m-200,1h0m28,0h0m11,0h0m210,0h0m-240,1h0m4,0h0m201,1h0m55,0h0m-269,1h0m17,0h0m-104,1h0m140,0h0m132,0h0m-164,2h0m25,0h0m100,0h0m-166,1h0m36,0h0m2,0h0m193,1h0m-247,1h0m80,0h0m-6,1h0m128,0h0m-217,1h0m38,1h0m188,0h0m71,0h0m-231,1h0m24,1h0m219,0h0m-356,1h0m236,0h0m104,0h0m-241,1h0m37,0h0m-165,1h0m77,0h0m43,0h0m35,0h0m225,0h0m-347,1h0m97,0h0m-100,1h0m-50,1h0m28,0h0m160,0h0m-128,1h0m86,0h0m14,0h0m5,0h0m152,0h0m-256,1h0m31,0h0m78,0h0m-25,1h0m191,1h0m36,1h0m-236,1h0m14,1h0m8,0h0m201,0h0m-314,1h0m111,0h0m21,0h0m112,0h0m-254,2h0m312,0h0m-349,1h0m167,0h0m-94,1h0m75,1h0m-131,1h0m21,0h0m119,0h0m8,0h0m9,0h0m159,0h0m57,0h0m2,0h0m16,0h0m-395,2h0m169,0h0m140,0h0m8,0h0m11,0h0m30,0h0m-187,1h0m-9,1h0m224,0h0m-368,2h0m84,0h0m284,0h0m-207,1h0m174,0h0m-347,1h0m71,0h0m80,0h0m39,0h0m95,0h0m46,0h0m41,0h0m-278,1h0m44,0h0m25,0h0m-182,1h0m9,0h0m162,0h0m145,0h0m-312,1h0m134,0h0m90,0h0m176,0h0m-237,2h0m157,0h0m-193,1h0m39,0h0m236,0h0m-197,1h0m118,4h0m-259,1h0m-66,1h0m317,0h0m-199,1h0m24,0h0m150,0h0m-228,1h0m15,0h0m-17,2h0m82,0h0m23,0h0m-133,1h0m358,0h0m-392,1h0m31,0h0m92,0h0m-57,1h0m97,0h0m10,0h0m56,0h0m5,1h0m-203,1h0m5,0h0m53,0h0m260,0h0m9,0h0m-207,1h0m16,0h0m56,0h0m-222,1h0m276,0h0m2,0h0m6,0h0m96,0h0m-330,1h0m158,0h0m-35,1h0m79,0h0m-154,1h0m-78,1h0m71,0h0m150,0h0m51,0h0m-65,1h0m-182,1h0m312,0h0m2,1h0m-280,2h0m133,0h0m-11,1h0m-154,1h0m79,0h0m38,0h0m240,0h0m-386,3h0m47,0h0m42,0h0m82,1h0m-30,1h0m10,0h0m141,0h0m-277,1h0m137,1h0m170,0h0m-298,1h0m162,0h0m89,0h0m94,1h0m-137,1h0m153,1h0m-76,1h0m-39,2h0m5,0h0m6,0h0m64,0h0m-74,1h0m-221,1h0m123,1h0m210,0h0m-319,1h0m111,0h0m44,1h0m119,0h0m6,0h0m-147,1h0m22,0h0m150,0h0m-304,1h0m82,0h0m97,0h0m85,0h0m30,0h0m-217,3h0m-96,1h0m51,0h0m142,0h0m-187,1h0m128,0h0m28,0h0m-214,1h0m263,0h0m75,0h0m-53,1h0m-177,1h0m2,0h0m11,0h0m43,0h0m-96,1h0m85,0h0m44,0h0m117,1h0m-167,2h0m183,0h0m11,0h0m34,0h0m-342,2h0m271,0h0m77,2h0m-357,1h0m13,0h0m197,0h0m-148,1h0m226,0h0m-244,2h0m242,0h0m-227,1h0m257,0h0m-312,1h0m219,0h0m-13,1h0m-155,1h0m216,0h0m29,0h0m-275,1h0m324,1h0m-321,1h0m108,0h0m-59,2h0m32,0h0m23,0h0m141,0h0m16,0h0m-301,1h0m358,0h0m-331,1h0m305,0h0m-143,1h0m99,0h0m61,0h0m-273,2h0m235,0h0m9,1h0m-186,1h0m40,0h0m-38,2h0m-66,1h0m239,0h0m-289,1h0m8,0h0m148,0h0m160,0h0m-151,1h0m61,0h0m40,0h0m-219,1h0m11,0h0m74,0h0m141,1h0m7,0h0m-112,1h0m80,0h0m-262,1h0m185,0h0m141,0h0m-55,1h0m-76,2h0m11,0h0m-195,1h0m123,1h0m-94,1h0m175,0h0m107,1h0m-312,2h0m37,0h0m154,0h0m91,0h0m-36,1h0m-143,3h0m5,0h0m5,0h0m188,1h0m5,0h0m-293,1h0m145,0h0m-159,1h0m326,0h0m-37,1h0m-209,1h0m137,0h0m82,0h0m-228,1h0m11,0h0m-71,1h0m161,0h0m-99,2h0m38,0h0m142,0h0m54,0h0m-237,1h0m5,0h0m125,0h0m5,0h0m1,0h0m61,1h0m56,1h0m-253,1h0m48,0h0m-43,1h0m42,1h0m26,0h0m-96,1h0m162,0h0m-151,2h0m254,0h0m2,0h0m-279,1h0m1,0h0m193,0h0m-207,1h0m56,0h0m240,1h0m-145,2h0m77,0h0m-187,1h0m188,0h0m-144,1h0m184,0h0m-69,1h0m-194,1h0m94,0h0m-25,1h0m132,0h0m79,0h0m-155,2h0m141,2h0m-190,2h0m-29,1h0m56,1h0m20,0h0m67,1h0m47,0h0m-161,1h0m69,2h0m26,0h0m-22,1h0m-58,1h0m-18,1h0m127,1h0m-77,3h0m-53,2h0m-1,1h0m83,2h0m105,0h0m-217,2h0m93,0h0m-1,1h0m88,0h0m-153,5h0m52,0h0m64,0h0m-1,3h0m46,2h0m-159,1h0m167,0h0m-196,1h0m128,0h0m34,3h0m-42,1h0m27,0h0m-20,1h0m-108,1h0m114,0h0m-3,1h0" stroke="#F6DD1B" stroke-width="4.0" stroke-linecap="round" fill="none"/>
<path d="M389,67h0m-128,1h0m46,1h0m-40,1h0m11,1h0m126,1h0m-140,2h0m155,0h0m28,5h0m-203,1h0m0,2h0m57,0h0m90,1h0m-119,3h0m11,0h0m58,0h0m63,2h0m-121,2h0m128,0h0m-93,1h0m-42,1h0m23,1h0m-78,1h0m30,0h0m161,1h0m-81,1h0m-46,2h0m34,0h0m135,1h0m-138,1h0m76,1h0m-177,1h0m208,3h0m-200,2h0m62,2h0m192,2h0m-81,2h0m-35,1h0m24,2h0m-89,1h0m171,0h0m-234,1h0m198,0h0m15,2h0m-255,1h0m155,1h0m149,0h0m-225,1h0m65,0h0m101,1h0m9,0h0m-26,2h0m-102,2h0m2,1h0m27,0h0m88,0h0m2,0h0m-228,1h0m148,1h0m-54,2h0m-88,1h0m116,0h0m14,0h0m62,1h0m70,2h0m-126,3h0m-149,1h0m132,0h0m-96,2h0m54,0h0m119,0h0m22,1h0m-67,2h0m62,0h0m-109,1h0m168,0h0m-256,2h0m178,0h0m90,0h0m-266,1h0m251,0h0m-158,1h0m79,0h0m-198,2h0m75,2h0m18,0h0m114,1h0m-179,1h0m287,2h0m-213,1h0m21,0h0m-97,2h0m-34,2h0m50,0h0m270,1h0m-293,2h0m70,2h0m114,0h0m-5,1h0m122,0h0m-37,3h0m-317,1h0m200,0h0m94,0h0m-124,1h0m69,0h0m31,1h0m16,0h0m9,0h0m-294,1h0m235,1h0m110,0h0m-281,1h0m28,1h0m153,0h0m-99,2h0m-114,3h0m-20,2h0m209,1h0m-116,2h0m90,0h0m96,0h0m68,1h0m-156,1h0m-13,1h0m-167,1h0m177,0h0m-141,2h0m147,0h0m70,0h0m51,1h0m-209,1h0m-129,1h0m92,1h0m257,0h0m-75,1h0m85,0h0m-43,1h0m33,1h0m-281,1h0m12,0h0m97,0h0m-118,1h0m204,0h0m-238,3h0m209,0h0m-248,3h0m92,0h0m238,2h0m-255,1h0m149,0h0m12,0h0m-192,2h0m21,0h0m2,0h0m249,0h0m-78,1h0m109,0h0m-338,1h0m30,2h0m129,0h0m-110,1h0m116,0h0m51,0h0m-33,1h0m28,0h0m7,0h0m-164,1h0m280,0h0m-289,1h0m252,0h0m-175,3h0m152,0h0m-151,1h0m31,0h0m151,0h0m-324,1h0m67,0h0m168,1h0m-214,1h0m52,0h0m330,0h0m-168,3h0m23,2h0m-173,2h0m21,0h0m26,0h0m17,0h0m7,0h0m89,0h0m35,0h0m44,4h0m-49,1h0m-204,1h0m47,0h0m4,0h0m-124,1h0m112,0h0m143,0h0m121,0h0m-307,1h0m335,0h0m-354,1h0m59,0h0m199,1h0m61,1h0m-361,1h0m24,0h0m-16,1h0m305,0h0m-284,1h0m39,0h0m253,0h0m-84,2h0m46,0h0m-61,2h0m38,0h0m-177,1h0m220,0h0m-54,1h0m-152,1h0m121,1h0m24,0h0m9,0h0m105,0h0m-103,2h0m-35,1h0m53,0h0m102,3h0m-166,1h0m0,1h0m-161,3h0m157,0h0m50,0h0m-36,1h0m-146,1h0m185,0h0m85,0h0m-111,1h0m17,1h0m80,0h0m-126,1h0m36,0h0m22,0h0m127,0h0m-151,1h0m-134,1h0m166,0h0m53,0h0m-249,1h0m149,0h0m10,0h0m1,1h0m41,0h0m124,0h0m-173,1h0m4,0h0m1,0h0m20,0h0m-32,1h0m-140,1h0m194,2h0m87,0h0m26,0h0m-369,1h0m229,0h0m25,0h0m-28,3h0m22,0h0m-55,1h0m116,0h0m-41,1h0m12,0h0m-195,1h0m109,0h0m136,0h0m-111,1h0m51,0h0m-255,1h0m176,0h0m47,0h0m124,0h0m-355,1h0m54,1h0m163,0h0m19,0h0m117,0h0m7,0h0m-2,1h0m-133,1h0m-19,1h0m7,0h0m10,0h0m45,0h0m62,0h0m46,1h0m-147,1h0m-133,1h0m115,0h0m7,0h0m24,0h0m-36,1h0m78,0h0m-287,1h0m56,0h0m12,0h0m124,0h0m195,1h0m-179,1h0m166,1h0m-152,1h0m-156,1h0m36,0h0m110,0h0m166,0h0m-40,1h0m-134,1h0m181,0h0m-88,1h0m-87,1h0m12,0h0m23,1h0m-242,1h0m199,0h0m14,0h0m-184,1h0m15,0h0m200,0h0m-26,1h0m6,0h0m-24,1h0m-183,1h0m267,1h0m-307,1h0m33,0h0m184,0h0m128,1h0m-346,1h0m104,1h0m-24,1h0m176,0h0m-27,2h0m-209,1h0m270,0h0m-194,1h0m-78,1h0m370,2h0m-358,1h0m16,1h0m73,0h0m-94,1h0m371,0h0m-364,1h0m103,0h0m265,1h0m-53,3h0m56,0h0m-403,1h0m231,1h0m1,0h0m102,0h0m30,0h0m17,0h0m-357,1h0m247,0h0m68,0h0m-230,1h0m175,1h0m-43,1h0m18,0h0m15,0h0m12,0h0m19,0h0m-223,1h0m180,0h0m-264,1h0m33,0h0m273,0h0m78,0h0m-384,1h0m273,0h0m-136,1h0m6,2h0m117,0h0m-251,1h0m172,0h0m96,0h0m-233,2h0m221,0h0m-192,1h0m50,0h0m26,2h0m-125,1h0m313,0h0m-246,2h0m45,1h0m258,1h0m-83,1h0m-59,1h0m-185,1h0m102,1h0m61,0h0m-169,2h0m192,0h0m75,0h0m-139,1h0m71,1h0m46,0h0m-157,2h0m122,0h0m-43,1h0m28,0h0m93,0h0m-311,1h0m83,0h0m188,0h0m49,0h0m-293,1h0m249,0h0m-284,2h0m22,1h0m307,2h0m-190,1h0m176,0h0m-144,1h0m41,0h0m148,0h0m-219,1h0m-116,1h0m321,1h0m-36,1h0m-282,1h0m164,0h0m149,0h0m13,0h0m-266,1h0m24,0h0m43,0h0m1,0h0m169,0h0m-220,1h0m173,0h0m23,1h0m-238,1h0m11,0h0m-64,1h0m323,0h0m-280,1h0m281,0h0m-171,6h0m-167,1h0m307,0h0m-108,3h0m150,3h0m-243,1h0m62,0h0m0,1h0m-10,1h0m-6,7h0m100,0h0m45,0h0m1,0h0m-67,2h0m-87,1h0m14,0h0m39,0h0m6,0h0m-35,2h0m106,0h0m-196,1h0m-47,3h0m187,0h0m86,0h0m21,0h0m-250,3h0m255,0h0m-13,1h0m-179,2h0m98,0h0m-79,3h0m67,1h0m65,3h0m-203,1h0m-15,1h0m5,0h0m52,1h0m-20,1h0m42,0h0m117,0h0m-83,1h0m26,0h0m-180,1h0m37,0h0m-49,2h0m172,1h0m99,0h0m32,0h0m-76,1h0m56,0h0m-244,2h0m274,1h0m-261,1h0m165,1h0m74,0h0m-286,1h0m59,0h0m22,0h0m-19,1h0m152,0h0m-21,2h0m-153,1h0m-2,3h0m190,3h0m-204,1h0m30,1h0m156,0h0m48,1h0m-145,1h0m6,1h0m-59,3h0m27,0h0m13,0h0m41,2h0m88,0h0m15,2h0m13,2h0m-73,3h0m-43,4h0m76,0h0m-70,2h0m9,0h0m-109,1h0m81,0h0m19,0h0m125,0h0m-95,1h0m-64,4h0m121,0h0m29,0h0m-183,1h0m12,1h0m24,0h0m38,1h0m-31,1h0m53,3h0m-58,1h0m99,2h0m-47,1h0m-37,1h0m33,0h0m-28,2h0m59,5h0m25,0h0" stroke="#62C6E0" stroke-width="4.0" stroke-linecap="round" fill="none"/>
<path d="M280,67h0m4,0h0m58,1h0m83,0h0m-81,1h0m-46,1h0m63,0h0m-52,1h0m10,0h0m30,0h0m82,0h0m-178,1h0m69,0h0m4,0h0m-49,1h0m52,1h0m37,0h0m44,0h0m-47,2h0m-103,1h0m124,0h0m51,0h0m-106,1h0m-88,1h0m36,0h0m130,0h0m40,0h0m-185,1h0m5,0h0m10,0h0m168,0h0m-30,1h0m33,0h0m-193,1h0m65,0h0m26,0h0m1,0h0m50,0h0m-153,1h0m57,0h0m122,0h0m-162,1h0m154,0h0m-103,1h0m8,0h0m35,0h0m-59,1h0m33,0h0m30,1h0m-21,1h0m-91,1h0m29,0h0m4,0h0m23,0h0m37,0h0m18,0h0m79,0h0m23,0h0m-233,1h0m98,0h0m57,0h0m80,0h0m-226,1h0m39,0h0m-53,1h0m147,0h0m-126,1h0m84,0h0m27,0h0m95,0h0m-158,1h0m40,0h0m72,0h0m-159,1h0m0,0h0m7,0h0m67,0h0m-73,1h0m116,0h0m89,0h0m-215,1h0m80,0h0m15,0h0m-13,1h0m69,0h0m-106,1h0m60,0h0m63,0h0m31,0h0m-190,1h0m146,0h0m64,0h0m-239,1h0m74,1h0m79,0h0m53,0h0m43,0h0m-220,1h0m56,0h0m80,0h0m-139,1h0m63,0h0m79,0h0m36,0h0m-193,1h0m146,0h0m37,0h0m-170,1h0m119,0h0m-98,1h0m13,0h0m26,0h0m90,0h0m70,0h0m-249,1h0m28,0h0m131,0h0m24,0h0m-27,1h0m98,0h0m-166,1h0m35,1h0m77,0h0m-123,1h0m2,0h0m162,0h0m-215,1h0m-23,1h0m5,0h0m33,0h0m59,0h0m161,0h0m8,0h0m-265,1h0m17,0h0m79,0h0m33,0h0m106,0h0m-245,1h0m136,0h0m-114,1h0m16,0h0m97,0h0m126,0h0m-96,1h0m12,0h0m22,0h0m27,0h0m-225,1h0m77,0h0m6,0h0m33,0h0m155,1h0m2,0h0m-80,1h0m35,0h0m35,0h0m21,0h0m-296,1h0m39,1h0m173,0h0m-87,1h0m45,0h0m54,0h0m33,0h0m-246,1h0m68,1h0m57,0h0m22,0h0m8,0h0m60,0h0m-161,1h0m106,0h0m67,0h0m22,0h0m30,0h0m-157,1h0m17,0h0m2,0h0m3,0h0m0,0h0m49,0h0m-39,1h0m10,0h0m4,0h0m-100,1h0m35,0h0m91,0h0m29,0h0m23,0h0m-199,1h0m48,0h0m135,0h0m59,0h0m-219,1h0m125,0h0m11,0h0m-120,1h0m125,0h0m51,0h0m-92,1h0m31,0h0m7,0h0m-95,1h0m87,0h0m1,0h0m57,0h0m-209,2h0m126,0h0m-173,1h0m117,0h0m140,0h0m-162,1h0m33,0h0m-151,1h0m9,0h0m120,0h0m78,0h0m12,0h0m49,0h0m33,0h0m2,0h0m-293,1h0m43,0h0m98,0h0m6,0h0m10,0h0m100,0h0m42,0h0m-207,1h0m110,0h0m35,0h0m-98,1h0m45,0h0m-151,1h0m66,0h0m54,0h0m25,0h0m53,0h0m5,0h0m32,0h0m-106,1h0m3,0h0m65,0h0m51,0h0m25,0h0m-259,1h0m73,1h0m139,0h0m30,0h0m-245,1h0m12,2h0m28,0h0m9,0h0m198,0h0m-256,1h0m63,0h0m60,0h0m115,0h0m-225,1h0m28,0h0m31,0h0m27,0h0m118,0h0m18,0h0m25,0h0m17,0h0m-323,1h0m88,0h0m6,0h0m5,0h0m61,0h0m40,0h0m-209,1h0m16,0h0m21,0h0m49,0h0m20,0h0m81,0h0m15,0h0m34,0h0m-112,1h0m156,0h0m40,0h0m7,0h0m16,0h0m-303,1h0m29,0h0m200,0h0m78,0h0m-275,1h0m270,0h0m-339,1h0m7,0h0m39,0h0m60,0h0m37,0h0m28,0h0m95,0h0m62,0h0m-321,1h0m60,0h0m3,0h0m253,0h0m-326,1h0m98,0h0m21,0h0m-44,1h0m21,0h0m-65,1h0m3,0h0m119,0h0m32,0h0m3,0h0m18,0h0m15,0h0m-101,1h0m54,0h0m-143,1h0m34,0h0m94,0h0m52,0h0m11,0h0m18,0h0m12,0h0m59,0h0m24,0h0m-311,1h0m53,0h0m30,0h0m55,0h0m70,0h0m81,0h0m11,0h0m2,0h0m-317,1h0m80,0h0m10,0h0m9,0h0m8,0h0m81,0h0m71,0h0m-19,1h0m20,0h0m69,0h0m-350,1h0m119,0h0m23,0h0m9,0h0m64,0h0m115,0h0m14,0h0m-336,1h0m113,0h0m191,0h0m9,0h0m14,0h0m27,0h0m-291,1h0m36,0h0m183,0h0m34,0h0m33,0h0m-357,1h0m174,0h0m130,0h0m-265,1h0m191,0h0m0,0h0m-222,1h0m76,0h0m83,0h0m10,0h0m2,0h0m56,0h0m123,0h0m-338,1h0m14,0h0m141,0h0m8,0h0m12,0h0m23,0h0m143,0h0m-278,1h0m10,0h0m1,0h0m161,0h0m-82,1h0m35,0h0m-178,1h0m185,0h0m61,0h0m25,0h0m21,0h0m38,0h0m-349,2h0m56,0h0m71,0h0m2,0h0m0,0h0m72,0h0m26,0h0m13,0h0m23,0h0m18,0h0m65,1h0m2,0h0m13,0h0m-338,1h0m93,0h0m-118,1h0m16,0h0m19,0h0m117,0h0m54,0h0m79,1h0m27,0h0m3,0h0m-282,1h0m1,0h0m120,0h0m4,0h0m30,1h0m99,0h0m2,0h0m8,0h0m-301,1h0m92,0h0m18,0h0m65,0h0m54,0h0m32,0h0m-276,1h0m52,0h0m98,0h0m171,0h0m0,0h0m-203,1h0m23,0h0m60,0h0m111,0h0m42,0h0m-275,1h0m157,0h0m52,0h0m38,0h0m27,0h0m-296,1h0m15,0h0m178,0h0m78,0h0m-314,1h0m167,0h0m44,0h0m-182,1h0m157,0h0m133,0h0m19,0h0m-338,1h0m105,0h0m6,0h0m84,0h0m33,0h0m31,0h0m68,0h0m-247,1h0m190,0h0m22,0h0m11,0h0m-270,1h0m41,0h0m5,0h0m179,0h0m-50,1h0m20,0h0m27,0h0m115,0h0m5,0h0m-365,1h0m31,0h0m14,0h0m149,0h0m17,0h0m-48,1h0m47,0h0m82,0h0m-242,1h0m161,0h0m80,0h0m34,0h0m-343,1h0m37,0h0m12,0h0m31,0h0m35,0h0m19,0h0m30,0h0m171,0h0m1,0h0m0,0h0m-168,1h0m27,0h0m36,0h0m27,0h0m-194,1h0m258,0h0m16,0h0m5,0h0m-204,1h0m107,0h0m35,0h0m61,0h0m11,0h0m20,0h0m-365,1h0m232,0h0m6,0h0m-131,1h0m25,0h0m32,0h0m109,0h0m7,0h0m3,0h0m20,0h0m32,0h0m-190,1h0m23,0h0m34,0h0m59,0h0m109,0h0m0,0h0m-238,1h0m114,0h0m47,0h0m-282,1h0m268,0h0m31,0h0m-212,1h0m22,0h0m-51,1h0m-69,1h0m133,0h0m8,0h0m102,0h0m18,0h0m1,0h0m19,0h0m18,0h0m-314,1h0m3,0h0m6,0h0m104,0h0m187,0h0m-254,1h0m13,0h0m320,0h0m-304,1h0m157,0h0m38,0h0m7,0h0m-254,1h0m89,0h0m-59,1h0m114,0h0m74,0h0m15,0h0m17,0h0m28,0h0m1,0h0m64,0h0m9,0h0m-329,1h0m2,0h0m49,0h0m84,0h0m208,0h0m-365,1h0m7,0h0m112,0h0m16,0h0m41,0h0m46,0h0m-248,1h0m41,0h0m129,0h0m115,0h0m56,0h0m-166,1h0m33,0h0m57,0h0m6,0h0m87,0h0m3,0h0m30,0h0m-271,1h0m75,0h0m93,0h0m11,0h0m-218,1h0m38,0h0m20,0h0m22,0h0m5,0h0m8,0h0m21,0h0m41,0h0m30,0h0m-254,1h0m91,0h0m43,0h0m60,0h0m9,0h0m60,0h0m68,0h0m27,0h0m-344,1h0m37,0h0m77,0h0m171,0h0m-265,1h0m22,0h0m92,0h0m144,0h0m-167,1h0m168,0h0m41,0h0m-307,1h0m28,0h0m122,0h0m21,0h0m-209,1h0m24,0h0m147,0h0m60,0h0m-75,1h0m89,0h0m8,0h0m-235,1h0m31,0h0m54,0h0m283,0h0m-178,1h0m14,0h0m35,0h0m-244,1h0m176,0h0m65,0h0m-253,1h0m84,0h0m136,0h0m23,0h0m27,0h0m-195,1h0m26,0h0m248,0h0m40,0h0m-272,1h0m262,0h0m6,0h0m12,0h0m-328,1h0m20,0h0m186,0h0m30,0h0m83,0h0m0,0h0m-282,1h0m2,0h0m49,0h0m100,0h0m114,0h0m-355,1h0m76,0h0m66,0h0m3,0h0m40,0h0m123,0h0m0,0h0m4,0h0m-211,1h0m44,0h0m193,0h0m17,0h0m-337,1h0m10,0h0m60,0h0m25,0h0m54,0h0m170,0h0m-319,1h0m257,0h0m-278,1h0m51,0h0m145,0h0m-160,1h0m280,0h0m0,0h0m-109,1h0m58,0h0m31,0h0m-323,1h0m56,0h0m36,0h0m37,0h0m58,0h0m23,0h0m68,0h0m124,0h0m4,0h0m-239,1h0m75,0h0m7,0h0m135,0h0m-373,1h0m8,0h0m70,0h0m59,0h0m135,0h0m8,0h0m11,0h0m-297,1h0m65,0h0m46,0h0m19,0h0m10,0h0m23,0h0m46,0h0m16,0h0m60,0h0m60,0h0m16,0h0m26,0h0m2,0h0m-387,1h0m10,0h0m17,0h0m15,0h0m29,0h0m63,0h0m259,0h0m8,0h0m-379,1h0m78,0h0m6,0h0m43,0h0m144,0h0m5,0h0m112,0h0m-402,1h0m70,0h0m36,0h0m69,0h0m23,0h0m91,0h0m-301,1h0m345,0h0m-348,1h0m45,0h0m8,0h0m58,0h0m50,0h0m61,0h0m-42,1h0m-143,1h0m10,0h0m14,0h0m5,0h0m49,0h0m226,0h0m-207,1h0m186,0h0m45,0h0m-38,1h0m35,0h0m-298,1h0m122,0h0m190,0h0m-369,1h0m34,0h0m293,0h0m58,0h0m-347,1h0m76,0h0m58,0h0m98,0h0m23,0h0m-259,1h0m105,0h0m17,0h0m8,0h0m32,0h0m76,0h0m63,0h0m-341,1h0m158,0h0m40,0h0m17,0h0m49,0h0m151,0h0m-373,1h0m27,0h0m41,0h0m10,0h0m163,0h0m29,0h0m-232,1h0m19,0h0m117,0h0m156,0h0m-361,1h0m47,0h0m31,0h0m55,0h0m174,0h0m14,0h0m-244,1h0m125,0h0m147,0h0m21,0h0m-361,1h0m72,0h0m36,0h0m52,0h0m148,0h0m-280,1h0m69,0h0m66,0h0m15,0h0m103,0h0m24,0h0m91,0h0m-328,1h0m47,0h0m2,0h0m2,0h0m32,0h0m0,0h0m3,0h0m198,0h0m-298,1h0m312,0h0m-360,1h0m25,0h0m124,0h0m-174,1h0m51,0h0m46,0h0m11,0h0m270,0h0m-276,1h0m122,0h0m74,0h0m-301,1h0m14,0h0m7,0h0m75,0h0m68,0h0m133,0h0m-261,1h0m15,0h0m20,0h0m120,0h0m152,0h0m9,0h0m19,0h0m35,0h0m-352,1h0m3,0h0m17,0h0m20,0h0m18,0h0m30,0h0m22,0h0m27,0h0m4,0h0m15,0h0m88,0h0m115,0h0m-324,1h0m99,0h0m208,0h0m-321,1h0m3,0h0m88,0h0m21,0h0m27,0h0m8,0h0m62,0h0m-260,1h0m92,0h0m12,0h0m14,0h0m269,0h0m-232,1h0m11,0h0m-143,1h0m60,0h0m4,0h0m43,0h0m40,0h0m89,0h0m4,0h0m11,0h0m-294,1h0m66,0h0m64,0h0m144,0h0m-210,1h0m108,0h0m214,0h0m23,0h0m-119,1h0m118,0h0m-306,1h0m28,0h0m62,0h0m139,0h0m-147,1h0m9,0h0m12,0h0m144,0h0m-340,1h0m211,0h0m137,0h0m59,0h0m-418,1h0m20,0h0m17,0h0m73,0h0m56,0h0m124,0h0m-208,1h0m45,0h0m17,0h0m56,0h0m7,0h0m76,0h0m12,0h0m20,0h0m92,0h0m-277,1h0m7,0h0m10,0h0m137,0h0m64,0h0m18,0h0m-305,1h0m70,0h0m-46,1h0m54,0h0m-140,1h0m39,0h0m41,0h0m267,0h0m17,0h0m23,0h0m-360,1h0m98,0h0m8,0h0m13,0h0m177,0h0m39,0h0m-318,1h0m7,0h0m84,0h0m33,0h0m179,0h0m43,0h0m16,0h0m-319,1h0m107,1h0m-1,1h0m-109,1h0m47,0h0m28,0h0m54,0h0m125,0h0m62,0h0m-338,1h0m66,0h0m20,0h0m15,0h0m167,0h0m-307,1h0m34,0h0m78,0h0m65,0h0m152,0h0m-346,1h0m22,0h0m63,0h0m11,0h0m16,0h0m177,0h0m10,0h0m-297,1h0m23,0h0m52,0h0m91,0h0m21,0h0m89,0h0m27,1h0m26,0h0m-260,1h0m65,0h0m136,0h0m34,0h0m-298,1h0m11,0h0m100,0h0m39,0h0m-156,1h0m12,0h0m96,0h0m32,0h0m19,0h0m2,0h0m62,0h0m63,0h0m-297,1h0m1,0h0m135,0h0m9,0h0m2,0h0m17,0h0m17,0h0m42,0h0m-222,1h0m57,0h0m91,0h0m31,0h0m18,0h0m-137,1h0m26,0h0m-62,1h0m51,0h0m73,0h0m153,0h0m71,0h0m-248,1h0m15,0h0m38,0h0m15,0h0m191,0h0m-298,1h0m133,0h0m147,0h0m-361,1h0m12,0h0m403,0h0m-119,1h0m8,0h0m69,0h0m-349,1h0m77,0h0m63,0h0m-141,1h0m1,0h0m63,1h0m15,0h0m68,0h0m53,0h0m89,0h0m26,0h0m-286,1h0m11,0h0m1,0h0m69,0h0m31,0h0m-144,1h0m69,0h0m118,0h0m49,0h0m16,0h0m9,0h0m28,0h0m40,0h0m-355,1h0m15,0h0m7,0h0m16,0h0m12,0h0m43,0h0m23,0h0m40,0h0m155,0h0m-294,1h0m24,0h0m58,0h0m55,0h0m135,0h0m102,0h0m-379,1h0m52,0h0m256,0h0m67,0h0m-383,1h0m1,0h0m139,0h0m33,0h0m31,0h0m-172,1h0m194,0h0m104,0h0m-333,1h0m10,0h0m62,0h0m93,0h0m1,0h0m255,0h0m-412,1h0m87,0h0m1,0h0m228,0h0m42,0h0m53,0h0m-369,1h0m2,0h0m103,0h0m20,0h0m135,0h0m23,0h0m24,0h0m-249,1h0m52,0h0m25,0h0m10,0h0m-183,1h0m168,0h0m6,0h0m108,0h0m113,0h0m-329,1h0m52,0h0m22,0h0m22,0h0m158,0h0m76,0h0m-388,1h0m7,0h0m96,0h0m52,0h0m49,0h0m131,0h0m-262,1h0m4,0h0m30,0h0m93,0h0m117,0h0m-328,1h0m9,0h0m84,0h0m16,0h0m4,0h0m19,0h0m175,0h0m73,0h0m-360,1h0m94,0h0m69,0h0m-171,1h0m78,0h0m101,0h0m9,0h0m10,0h0m44,0h0m9,0h0m-162,1h0m71,0h0m15,0h0m119,0h0m64,0h0m25,0h0m-386,1h0m312,0h0m24,0h0m-306,1h0m206,0h0m-246,1h0m87,0h0m57,0h0m132,0h0m-86,1h0m110,0h0m-279,1h0m104,0h0m70,0h0m18,0h0m103,0h0m-224,1h0m45,0h0m85,0h0m163,0h0m4,0h0m-294,1h0m28,0h0m69,0h0m68,0h0m94,0h0m-359,1h0m104,0h0m98,0h0m88,0h0m-222,1h0m39,0h0m263,0h0m-132,1h0m66,0h0m-295,1h0m54,0h0m77,0h0m19,0h0m72,0h0m29,0h0m58,0h0m80,0h0m-114,1h0m63,0h0m-244,1h0m28,0h0m6,0h0m116,0h0m15,0h0m-87,1h0m182,0h0m10,0h0m3,0h0m34,0h0m-357,1h0m138,0h0m196,0h0m-165,1h0m8,0h0m183,0h0m-19,1h0m-360,1h0m2,0h0m20,0h0m118,0h0m66,0h0m65,0h0m96,0h0m-399,1h0m122,0h0m25,0h0m11,0h0m51,0h0m25,0h0m69,0h0m59,0h0m-335,1h0m11,0h0m19,0h0m59,0h0m124,0h0m64,0h0m-294,1h0m31,0h0m90,0h0m18,0h0m22,0h0m104,0h0m45,0h0m44,0h0m-157,1h0m34,1h0m-42,1h0m27,0h0m-144,1h0m103,0h0m17,0h0m12,0h0m17,0h0m39,0h0m46,0h0m12,0h0m-291,1h0m25,0h0m11,0h0m90,0h0m59,0h0m1,0h0m47,0h0m80,0h0m27,0h0m21,0h0m-397,1h0m107,0h0m55,0h0m142,0h0m97,0h0m-253,1h0m55,0h0m116,0h0m-313,1h0m41,0h0m120,0h0m36,0h0m-128,1h0m31,0h0m65,0h0m31,0h0m197,0h0m-332,1h0m70,0h0m256,0h0m-272,1h0m36,0h0m46,0h0m62,0h0m5,0h0m6,0h0m28,0h0m6,0h0m-210,1h0m244,0h0m-272,1h0m88,0h0m138,0h0m106,0h0m-393,1h0m31,0h0m14,0h0m49,0h0m37,0h0m31,0h0m56,0h0m-193,1h0m194,0h0m83,0h0m36,0h0m29,0h0m16,0h0m-296,1h0m33,0h0m19,0h0m19,0h0m140,0h0m44,0h0m-319,1h0m313,0h0m-87,1h0m43,0h0m56,0h0m-335,1h0m31,0h0m100,0h0m19,0h0m32,0h0m9,0h0m99,0h0m-226,1h0m33,0h0m62,0h0m34,0h0m18,0h0m4,0h0m23,0h0m119,0h0m-375,1h0m7,0h0m26,0h0m23,0h0m87,0h0m51,0h0m156,0h0m39,0h0m-309,1h0m28,0h0m69,0h0m1,0h0m-35,1h0m3,0h0m5,0h0m11,0h0m1,0h0m92,0h0m-176,1h0m83,0h0m16,0h0m76,0h0m67,0h0m-138,1h0m180,0h0m-360,1h0m3,0h0m41,0h0m103,0h0m101,0h0m-105,1h0m37,0h0m-130,1h0m2,0h0m42,0h0m151,0h0m-176,1h0m60,0h0m54,0h0m33,0h0m108,0h0m-300,1h0m50,0h0m8,0h0m21,0h0m67,0h0m53,0h0m14,0h0m9,0h0m79,0h0m15,0h0m30,0h0m-313,1h0m43,0h0m-29,1h0m28,0h0m44,0h0m8,0h0m67,0h0m24,0h0m123,0h0m-296,1h0m24,0h0m243,0h0m-102,1h0m-205,1h0m13,0h0m19,0h0m4,0h0m20,0h0m30,0h0m46,0h0m34,0h0m32,0h0m0,0h0m-207,1h0m15,0h0m125,0h0m29,0h0m5,0h0m-111,1h0m13,0h0m172,0h0m27,0h0m28,0h0m-276,1h0m41,0h0m83,0h0m15,0h0m61,0h0m17,0h0m8,0h0m4,0h0m30,0h0m-15,1h0m80,0h0m-276,1h0m31,0h0m-99,1h0m65,0h0m5,0h0m150,0h0m78,0h0m12,0h0m-332,1h0m155,0h0m202,0h0m-276,1h0m21,0h0m60,0h0m183,0h0m22,0h0m-347,1h0m9,0h0m41,0h0m81,0h0m64,0h0m33,0h0m-136,1h0m16,0h0m-80,1h0m171,0h0m34,0h0m11,0h0m100,0h0m-206,1h0m69,0h0m106,0h0m-206,1h0m44,0h0m36,1h0m77,0h0m11,0h0m23,0h0m16,0h0m-306,1h0m73,0h0m24,0h0m29,0h0m29,0h0m37,0h0m-207,1h0m122,0h0m37,0h0m26,0h0m143,0h0m34,0h0m-315,1h0m180,0h0m-208,1h0m123,0h0m110,0h0m14,0h0m7,0h0m25,0h0m14,0h0m-106,1h0m53,0h0m-220,1h0m166,0h0m42,0h0m33,0h0m11,0h0m-269,1h0m71,0h0m24,0h0m32,0h0m41,0h0m56,0h0m20,0h0m21,0h0m60,0h0m-22,1h0m4,0h0m18,0h0m-335,2h0m161,0h0m29,0h0m31,0h0m1,0h0m-222,1h0m2,0h0m49,0h0m93,0h0m13,0h0m93,0h0m29,0h0m-247,1h0m182,0h0m33,0h0m0,0h0m33,0h0m59,0h0m-293,1h0m97,0h0m64,0h0m67,0h0m11,0h0m-23,1h0m-163,1h0m94,0h0m-51,1h0m-133,1h0m155,0h0m34,0h0m-87,1h0m1,0h0m4,0h0m5,0h0m10,0h0m123,0h0m49,0h0m-252,1h0m18,0h0m2,0h0m17,0h0m76,0h0m55,0h0m59,0h0m60,0h0m-344,1h0m80,0h0m154,0h0m14,0h0m-173,1h0m144,0h0m37,0h0m20,0h0m1,0h0m17,0h0m4,0h0m2,0h0m40,0h0m-192,1h0m48,0h0m52,0h0m-165,1h0m136,1h0m-166,1h0m15,0h0m22,0h0m46,0h0m-121,1h0m71,0h0m4,0h0m73,0h0m12,0h0m37,0h0m43,0h0m50,0h0m-279,1h0m82,0h0m13,0h0m86,0h0m50,0h0m40,0h0m-252,2h0m17,0h0m15,0h0m91,0h0m92,0h0m12,0h0m57,1h0m10,0h0m-332,1h0m31,0h0m4,0h0m103,0h0m30,0h0m13,0h0m110,0h0m12,0h0m10,0h0m-263,1h0m35,0h0m48,1h0m28,0h0m117,0h0m-197,1h0m29,0h0m4,0h0m-84,1h0m14,0h0m75,0h0m112,0h0m-215,1h0m106,0h0m61,0h0m88,0h0m9,0h0m49,0h0m-230,1h0m102,0h0m-142,1h0m44,0h0m75,0h0m-167,1h0m103,0h0m14,0h0m95,0h0m40,0h0m9,0h0m21,0h0m33,0h0m-274,1h0m152,0h0m81,0h0m-251,1h0m6,0h0m1,0h0m145,0h0m88,0h0m-162,1h0m1,0h0m37,0h0m18,0h0m-25,1h0m70,0h0m1,0h0m29,0h0m-203,1h0m100,0h0m166,0h0m-185,1h0m10,0h0m35,0h0m146,0h0m-305,1h0m47,0h0m24,0h0m143,0h0m27,0h0m6,0h0m35,0h0m2,0h0m21,0h0m-297,1h0m210,0h0m-175,1h0m137,0h0m27,0h0m5,0h0m-35,1h0m4,0h0m66,0h0m26,0h0m-190,1h0m-18,1h0m1,0h0m46,0h0m64,0h0m47,0h0m-129,1h0m5,0h0m148,0h0m-157,1h0m81,0h0m56,0h0m23,0h0m57,0h0m-267,1h0m32,0h0m1,0h0m23,0h0m15,0h0m22,0h0m63,0h0m79,0h0m-209,1h0m-47,1h0m32,0h0m0,0h0m199,0h0m-240,1h0m25,0h0m12,0h0m65,1h0m4,0h0m7,1h0m95,0h0m7,0h0m51,1h0m17,0h0m-224,1h0m127,0h0m-183,1h0m67,0h0m30,0h0m33,0h0m-87,1h0m37,0h0m69,0h0m81,0h0m-220,1h0m81,0h0m17,0h0m67,0h0m27,0h0m-43,1h0m24,0h0m-49,1h0m43,0h0m-161,1h0m82,0h0m21,0h0m151,0h0m-193,1h0m79,1h0m98,0h0m-210,1h0m58,1h0m10,0h0m24,0h0m119,0h0m-144,1h0m99,0h0m23,0h0m-6,1h0m-212,1h0m48,0h0m102,0h0m18,0h0m78,0h0m-82,1h0m53,0h0m-170,1h0m24,0h0m3,1h0m10,0h0m123,0h0m-97,1h0m128,0h0m16,0h0m-55,1h0m-130,1h0m105,0h0m-157,1h0m18,0h0m104,0h0m-92,1h0m40,0h0m34,0h0m2,0h0m-28,1h0m5,0h0m10,0h0m75,0h0m-146,1h0m70,0h0m83,0h0m22,0h0m-167,1h0m120,0h0m-140,1h0m158,0h0m-171,1h0m15,0h0m62,0h0m151,0h0m-96,1h0m-50,1h0m111,0h0m6,0h0m13,0h0m-186,1h0m15,0h0m71,0h0m83,0h0m-54,1h0m-119,1h0m35,0h0m26,0h0m-51,1h0m4,0h0m65,0h0m106,0h0m-94,1h0m5,0h0m-10,1h0m45,1h0m-136,1h0m41,0h0m143,0h0m9,0h0m-1,1h0m-191,1h0m23,0h0m72,0h0m-70,2h0m43,0h0m78,0h0m5,0h0m3,0h0m-71,1h0m6,0h0m-59,1h0m6,0h0m106,0h0m17,0h0m1,0h0m-66,1h0m-71,1h0m9,1h0m51,0h0m-56,1h0m11,0h0m15,0h0m0,0h0m13,0h0" stroke="#F0E81A" stroke-width="4.0" stroke-linecap="round" fill="none"/>
<path d="M263,66h0m19,1h0m10,0h0m31,0h0m92,0h0m-146,1h0m3,0h0m10,0h0m123,0h0m-55,2h0m35,0h0m38,0h0m-121,1h0m49,0h0m25,0h0m43,0h0m-44,1h0m-50,1h0m83,0h0m-78,1h0m89,1h0m-164,1h0m-10,1h0m18,0h0m147,0h0m-147,1h0m138,0h0m11,0h0m-96,1h0m53,0h0m23,0h0m-147,1h0m54,1h0m12,1h0m1,0h0m1,0h0m-74,1h0m7,0h0m79,0h0m-36,1h0m65,1h0m34,0h0m-88,1h0m-70,1h0m112,1h0m-43,1h0m52,0h0m14,0h0m-93,1h0m121,0h0m21,0h0m-157,1h0m59,0h0m121,0h0m-32,1h0m-101,1h0m155,0h0m-158,1h0m53,0h0m6,0h0m26,0h0m2,0h0m18,0h0m62,0h0m-185,1h0m18,0h0m65,0h0m-90,1h0m145,0h0m33,0h0m-4,1h0m-229,1h0m249,0h0m-243,2h0m3,0h0m7,0h0m4,1h0m10,1h0m4,0h0m14,0h0m2,0h0m12,0h0m51,0h0m42,0h0m92,0h0m-5,1h0m-219,1h0m6,0h0m127,1h0m-153,1h0m149,0h0m-82,1h0m178,0h0m-98,1h0m63,0h0m3,0h0m-203,1h0m57,0h0m112,0h0m41,0h0m-215,1h0m45,0h0m105,0h0m18,0h0m75,0h0m-244,1h0m179,0h0m-127,1h0m11,0h0m48,0h0m148,0h0m-238,1h0m50,0h0m-88,1h0m65,0h0m91,0h0m46,0h0m9,0h0m48,0h0m-255,1h0m109,0h0m99,1h0m-180,1h0m81,0h0m7,0h0m35,0h0m40,0h0m73,0h0m2,0h0m-218,1h0m113,0h0m3,0h0m-32,1h0m8,0h0m47,0h0m-203,1h0m1,1h0m132,0h0m11,0h0m117,0h0m26,0h0m-219,1h0m187,0h0m9,0h0m11,0h0m-241,1h0m28,0h0m106,0h0m93,0h0m17,0h0m-272,1h0m87,0h0m-92,1h0m190,0h0m20,0h0m87,0h0m-284,1h0m0,0h0m13,0h0m106,0h0m161,0h0m-246,1h0m36,0h0m156,0h0m-120,1h0m49,0h0m-114,1h0m22,0h0m47,0h0m58,0h0m-177,1h0m55,0h0m32,1h0m19,0h0m71,0h0m46,0h0m62,0h0m-288,1h0m62,0h0m155,0h0m74,0h0m-174,2h0m35,0h0m33,0h0m-186,1h0m33,0h0m71,0h0m131,0h0m-221,1h0m22,0h0m88,0h0m-122,1h0m72,0h0m83,0h0m47,0h0m71,0h0m-210,1h0m23,0h0m6,0h0m64,0h0m101,0h0m-273,1h0m233,0h0m8,0h0m11,0h0m35,0h0m-265,1h0m5,0h0m22,0h0m94,0h0m119,0h0m35,0h0m-203,1h0m93,0h0m-180,1h0m213,0h0m19,0h0m-57,2h0m109,0h0m-196,1h0m122,0h0m1,0h0m-177,1h0m1,0h0m38,0h0m-75,1h0m54,0h0m56,0h0m126,0h0m30,0h0m2,0h0m-254,1h0m7,0h0m233,1h0m69,0h0m-319,1h0m94,0h0m72,0h0m136,0h0m9,0h0m-315,1h0m30,0h0m12,0h0m200,1h0m-147,1h0m-44,1h0m68,0h0m185,0h0m-197,1h0m44,0h0m119,0h0m-241,1h0m36,0h0m258,0h0m5,0h0m-343,1h0m109,0h0m-109,1h0m159,0h0m59,0h0m-195,1h0m28,0h0m39,0h0m18,0h0m64,0h0m0,1h0m2,0h0m34,0h0m89,0h0m-129,1h0m146,0h0m-96,1h0m112,0h0m17,0h0m-274,1h0m209,0h0m6,0h0m-197,1h0m240,0h0m13,0h0m-302,1h0m54,0h0m175,0h0m-162,1h0m98,0h0m8,0h0m106,0h0m11,0h0m-252,1h0m6,0h0m44,0h0m50,0h0m161,0h0m-318,1h0m89,0h0m11,0h0m-20,1h0m196,1h0m-115,1h0m81,0h0m0,0h0m80,0h0m3,0h0m-342,1h0m90,0h0m117,0h0m116,0h0m-343,1h0m56,0h0m28,0h0m127,0h0m133,0h0m-347,1h0m41,0h0m49,0h0m170,0h0m2,0h0m-236,1h0m242,0h0m-138,1h0m34,0h0m23,0h0m-35,1h0m18,0h0m13,0h0m91,0h0m39,0h0m-314,1h0m27,0h0m45,0h0m83,0h0m52,0h0m-210,1h0m74,0h0m194,0h0m-39,1h0m2,0h0m74,0h0m42,0h0m-310,1h0m93,0h0m1,0h0m5,0h0m59,0h0m103,0h0m-266,1h0m108,0h0m-59,1h0m96,1h0m5,0h0m133,0h0m38,0h0m-168,1h0m18,0h0m103,0h0m35,0h0m-218,1h0m154,0h0m-249,1h0m88,0h0m24,0h0m57,0h0m121,0h0m-274,1h0m20,0h0m179,1h0m10,0h0m-22,1h0m42,0h0m106,0h0m-60,1h0m-247,1h0m17,0h0m102,0h0m59,0h0m6,0h0m31,0h0m14,0h0m-193,1h0m88,0h0m47,0h0m-135,1h0m1,1h0m36,0h0m50,0h0m22,0h0m103,0h0m-280,1h0m38,0h0m73,0h0m9,0h0m82,0h0m110,0h0m-360,1h0m264,0h0m82,0h0m21,0h0m-356,1h0m8,0h0m26,0h0m71,0h0m5,0h0m184,0h0m43,0h0m41,0h0m4,0h0m-201,1h0m117,0h0m77,0h0m-364,1h0m17,0h0m70,0h0m185,0h0m88,0h0m-12,1h0m5,0h0m-120,1h0m19,0h0m59,0h0m-294,1h0m44,0h0m71,0h0m-21,1h0m172,0h0m-207,1h0m40,1h0m87,0h0m12,0h0m2,1h0m12,0h0m20,0h0m-240,1h0m23,0h0m51,0h0m153,0h0m37,0h0m91,0h0m-322,1h0m208,0h0m108,0h0m-378,1h0m4,0h0m68,0h0m51,0h0m180,0h0m-292,1h0m40,0h0m111,0h0m86,0h0m18,0h0m30,0h0m-117,1h0m10,0h0m54,0h0m23,0h0m14,0h0m19,0h0m-273,1h0m116,0h0m30,0h0m28,0h0m132,0h0m-303,1h0m354,0h0m14,0h0m-347,1h0m39,0h0m69,0h0m141,0h0m5,0h0m-98,1h0m26,0h0m19,0h0m107,0h0m10,0h0m-233,1h0m16,0h0m64,0h0m95,0h0m-296,1h0m52,0h0m14,0h0m12,0h0m0,0h0m24,0h0m18,0h0m27,0h0m147,0h0m4,0h0m-123,1h0m101,1h0m-295,1h0m258,0h0m102,0h0m-177,1h0m176,0h0m34,0h0m-361,1h0m14,0h0m105,0h0m143,0h0m28,0h0m-188,1h0m54,0h0m12,0h0m42,0h0m21,0h0m56,0h0m26,0h0m-72,1h0m55,0h0m-118,1h0m49,0h0m31,0h0m21,0h0m91,0h0m-179,1h0m18,0h0m48,0h0m4,0h0m26,0h0m23,0h0m-329,1h0m66,0h0m98,0h0m2,0h0m-106,1h0m297,0h0m-115,1h0m43,0h0m2,0h0m24,0h0m-246,1h0m34,0h0m156,0h0m107,0h0m-184,1h0m43,0h0m92,0h0m7,0h0m22,0h0m-317,1h0m142,0h0m6,0h0m104,0h0m-275,1h0m247,0h0m-134,1h0m100,0h0m15,0h0m29,0h0m76,0h0m-223,1h0m167,0h0m19,0h0m-106,1h0m25,0h0m78,0h0m-217,1h0m136,0h0m-207,1h0m151,0h0m63,0h0m19,0h0m-176,1h0m46,0h0m127,0h0m-225,1h0m1,0h0m12,0h0m31,0h0m24,0h0m126,0h0m183,0h0m-178,1h0m38,0h0m3,0h0m45,0h0m-245,1h0m165,0h0m65,0h0m6,0h0m-271,1h0m52,0h0m68,0h0m36,0h0m40,0h0m121,0h0m-347,1h0m149,0h0m12,0h0m157,0h0m47,0h0m-343,1h0m217,0h0m20,0h0m60,0h0m-256,1h0m157,0h0m93,0h0m14,0h0m20,0h0m-93,1h0m-109,1h0m41,0h0m54,0h0m145,0h0m-394,1h0m57,0h0m19,0h0m22,0h0m92,0h0m5,0h0m185,0h0m-369,1h0m35,0h0m15,0h0m221,0h0m54,0h0m-311,1h0m212,0h0m18,0h0m-251,1h0m39,0h0m156,0h0m108,0h0m49,0h0m47,0h0m-363,1h0m256,0h0m105,0h0m-185,1h0m130,0h0m49,0h0m23,0h0m-106,1h0m72,0h0m-334,1h0m365,0h0m-171,1h0m1,0h0m21,0h0m123,0h0m-350,1h0m50,0h0m180,0h0m9,0h0m80,0h0m41,0h0m-141,1h0m49,0h0m13,0h0m21,0h0m67,0h0m11,0h0m-414,1h0m76,0h0m21,0h0m9,0h0m227,0h0m73,0h0m-278,1h0m186,0h0m10,0h0m-294,1h0m193,0h0m42,0h0m17,0h0m77,0h0m-146,1h0m31,0h0m9,0h0m131,0h0m-368,1h0m19,0h0m160,0h0m185,0h0m9,0h0m6,0h0m-278,1h0m115,0h0m14,0h0m4,0h0m1,0h0m3,0h0m-216,1h0m243,0h0m-288,1h0m12,0h0m129,0h0m90,0h0m33,0h0m23,0h0m24,0h0m1,0h0m103,0h0m-175,1h0m3,0h0m52,0h0m84,0h0m41,0h0m-366,1h0m195,0h0m88,0h0m-310,1h0m12,0h0m27,0h0m342,0h0m-308,1h0m3,0h0m176,0h0m-258,1h0m104,0h0m132,0h0m127,0h0m1,0h0m17,0h0m-380,1h0m104,0h0m215,0h0m-125,1h0m89,0h0m83,0h0m-369,1h0m249,0h0m50,0h0m48,0h0m-233,1h0m111,0h0m27,0h0m64,0h0m56,0h0m-365,1h0m98,0h0m195,0h0m49,0h0m11,0h0m-264,1h0m31,0h0m180,0h0m20,0h0m55,0h0m-386,1h0m24,0h0m41,0h0m3,0h0m154,0h0m11,0h0m7,0h0m20,0h0m71,0h0m-222,1h0m3,0h0m77,0h0m-193,1h0m271,0h0m60,0h0m-252,1h0m20,0h0m22,0h0m135,0h0m51,1h0m-291,1h0m64,0h0m227,0h0m69,0h0m-325,1h0m66,0h0m136,0h0m45,0h0m-259,1h0m82,0h0m111,0h0m101,0h0m12,0h0m-339,1h0m11,0h0m200,0h0m8,1h0m170,0h0m-316,1h0m167,0h0m98,0h0m-306,1h0m213,0h0m64,0h0m49,0h0m5,0h0m-156,1h0m2,0h0m19,0h0m93,0h0m10,0h0m-102,1h0m2,0h0m9,0h0m38,0h0m-287,1h0m43,0h0m42,0h0m104,0h0m46,1h0m30,1h0m2,0h0m12,0h0m12,0h0m1,0h0m-97,1h0m-144,1h0m1,0h0m73,0h0m110,0h0m13,0h0m18,0h0m21,0h0m14,0h0m-277,1h0m211,0h0m55,0h0m-285,1h0m53,0h0m178,0h0m-234,1h0m59,0h0m145,0h0m12,0h0m134,0h0m-114,1h0m27,0h0m-66,1h0m72,0h0m3,0h0m20,0h0m99,0h0m-203,1h0m21,0h0m27,0h0m7,0h0m24,0h0m-225,1h0m73,0h0m101,0h0m33,0h0m14,0h0m19,0h0m-48,1h0m50,0h0m-262,1h0m69,0h0m136,0h0m105,0h0m17,0h0m49,0h0m7,0h0m-276,1h0m96,0h0m33,0h0m101,0h0m6,0h0m4,0h0m-358,1h0m317,0h0m-296,1h0m10,0h0m54,0h0m99,0h0m30,0h0m18,0h0m72,0h0m-91,1h0m34,0h0m95,0h0m-149,1h0m24,0h0m19,0h0m44,0h0m86,0h0m-348,1h0m102,0h0m87,0h0m-229,1h0m24,0h0m69,0h0m36,0h0m124,0h0m11,0h0m132,0h0m-154,1h0m19,0h0m49,0h0m11,0h0m-260,1h0m182,0h0m24,0h0m46,0h0m85,0h0m13,0h0m-179,1h0m117,0h0m56,0h0m-180,1h0m82,0h0m32,0h0m44,0h0m25,0h0m-365,1h0m177,0h0m8,0h0m179,0h0m-390,1h0m7,0h0m8,0h0m229,0h0m1,0h0m21,0h0m-274,1h0m134,0h0m3,0h0m112,0h0m-189,1h0m119,0h0m-38,1h0m93,0h0m144,0h0m-172,1h0m156,0h0m48,0h0m-395,1h0m88,0h0m33,0h0m88,0h0m77,0h0m10,0h0m-172,1h0m104,0h0m86,0h0m5,0h0m-339,1h0m38,0h0m21,0h0m20,0h0m126,0h0m25,0h0m41,0h0m91,0h0m6,0h0m-312,1h0m272,0h0m6,0h0m-137,1h0m15,0h0m101,0h0m37,0h0m-294,1h0m23,0h0m35,0h0m201,0h0m-283,1h0m13,0h0m194,0h0m20,0h0m69,1h0m17,0h0m58,0h0m-395,1h0m16,0h0m137,0h0m7,1h0m145,0h0m32,0h0m-98,1h0m27,0h0m65,1h0m48,0h0m-364,1h0m149,0h0m121,0h0m17,0h0m-249,1h0m138,0h0m208,0h0m8,0h0m-389,1h0m79,0h0m33,0h0m202,0h0m-123,1h0m132,0h0m-195,1h0m59,0h0m0,0h0m150,0h0m-84,1h0m83,0h0m-330,1h0m135,0h0m78,0h0m70,0h0m68,0h0m32,0h0m-346,1h0m4,0h0m12,0h0m31,0h0m91,0h0m104,0h0m-219,1h0m49,0h0m59,0h0m88,0h0m17,0h0m1,0h0m4,0h0m-22,1h0m19,0h0m-250,1h0m16,0h0m46,0h0m116,0h0m-134,1h0m4,0h0m61,0h0m97,0h0m-252,1h0m21,0h0m280,0h0m-114,1h0m23,0h0m141,0h0m1,0h0m-294,1h0m10,0h0m130,0h0m99,0h0m65,0h0m-136,1h0m-180,1h0m56,0h0m46,0h0m174,0h0m-252,1h0m69,0h0m79,0h0m77,0h0m-264,1h0m8,0h0m42,0h0m47,0h0m66,0h0m5,1h0m65,0h0m60,0h0m13,0h0m-171,1h0m164,0h0m-257,1h0m149,0h0m62,0h0m58,0h0m-145,1h0m81,0h0m98,1h0m-384,1h0m194,0h0m29,0h0m3,0h0m30,0h0m-197,1h0m12,0h0m83,0h0m11,0h0m1,0h0m9,0h0m13,0h0m70,0h0m147,0h0m-348,1h0m8,0h0m4,0h0m29,0h0m51,0h0m2,0h0m44,0h0m64,0h0m13,0h0m-261,1h0m78,0h0m-50,1h0m58,0h0m124,0h0m60,0h0m109,0h0m-147,1h0m-191,1h0m66,0h0m94,0h0m22,0h0m9,0h0m-39,1h0m109,0h0m-310,1h0m67,0h0m80,0h0m174,0h0m-293,1h0m176,0h0m147,0h0m-210,1h0m92,0h0m103,0h0m-274,1h0m40,0h0m43,0h0m15,0h0m3,0h0m1,0h0m36,0h0m-175,1h0m9,0h0m140,0h0m152,0h0m30,0h0m-307,1h0m10,1h0m11,0h0m-63,1h0m377,0h0m-285,1h0m38,0h0m56,0h0m33,0h0m3,0h0m2,0h0m72,0h0m-295,1h0m93,0h0m66,0h0m-99,1h0m26,0h0m27,0h0m20,0h0m192,0h0m5,0h0m-202,1h0m2,0h0m124,0h0m112,0h0m-229,1h0m117,0h0m128,0h0m-83,1h0m-135,1h0m156,0h0m18,0h0m-269,1h0m9,0h0m146,0h0m19,0h0m47,0h0m43,0h0m22,0h0m22,0h0m-281,1h0m28,0h0m20,0h0m9,0h0m74,0h0m142,0h0m-188,1h0m-85,1h0m29,0h0m81,0h0m13,0h0m137,0h0m-325,1h0m105,0h0m157,0h0m18,0h0m3,0h0m-268,2h0m173,0h0m103,1h0m-301,1h0m56,0h0m221,0h0m68,0h0m-361,1h0m261,0h0m35,0h0m59,0h0m-336,1h0m163,0h0m107,0h0m47,0h0m11,0h0m-56,1h0m79,0h0m2,0h0m-346,1h0m0,0h0m63,0h0m202,0h0m-36,1h0m30,0h0m45,0h0m-96,1h0m118,0h0m21,0h0m-215,1h0m4,0h0m74,0h0m116,0h0m-271,1h0m99,0h0m-52,1h0m92,0h0m99,0h0m-155,1h0m44,0h0m78,0h0m-277,1h0m139,0h0m188,0h0m-329,1h0m56,0h0m22,0h0m23,0h0m259,0h0m-153,1h0m25,0h0m31,0h0m-244,1h0m77,0h0m9,0h0m251,0h0m8,0h0m-234,2h0m-127,1h0m181,0h0m45,0h0m83,0h0m-308,1h0m76,0h0m10,0h0m3,0h0m24,0h0m55,0h0m182,0h0m-253,1h0m95,0h0m101,0h0m15,0h0m30,0h0m14,0h0m-254,1h0m171,0h0m92,0h0m-246,1h0m142,0h0m-58,1h0m72,1h0m5,0h0m4,0h0m-133,1h0m103,0h0m-224,1h0m27,0h0m86,0h0m208,0h0m-83,1h0m-238,1h0m3,0h0m5,0h0m16,0h0m101,0h0m148,0h0m12,0h0m-311,1h0m22,0h0m50,0h0m95,0h0m32,0h0m9,0h0m24,0h0m124,0h0m-284,1h0m19,1h0m110,0h0m17,0h0m42,0h0m-231,1h0m86,0h0m190,0h0m-292,1h0m185,0h0m5,0h0m43,0h0m-142,1h0m145,0h0m3,0h0m18,0h0m82,0h0m-298,1h0m135,0h0m50,0h0m-153,1h0m204,0h0m-211,1h0m257,0h0m-195,1h0m20,0h0m89,0h0m18,0h0m-235,1h0m8,0h0m46,0h0m215,0h0m19,0h0m-304,1h0m71,0h0m62,0h0m161,0h0m-238,1h0m8,0h0m81,0h0m147,0h0m-293,1h0m117,0h0m89,0h0m-142,1h0m29,0h0m8,0h0m43,0h0m145,0h0m-283,1h0m16,0h0m17,0h0m71,0h0m113,0h0m-201,1h0m68,0h0m69,0h0m120,0h0m-260,1h0m5,0h0m124,0h0m181,0h0m-324,1h0m66,0h0m10,0h0m209,0h0m-270,1h0m47,0h0m235,0h0m-99,1h0m63,0h0m-192,1h0m218,0h0m-125,1h0m64,0h0m17,0h0m29,0h0m17,0h0m-263,1h0m66,0h0m149,0h0m-244,1h0m280,0h0m-204,1h0m113,0h0m44,0h0m29,0h0m4,0h0m-35,1h0m-107,1h0m23,0h0m-147,1h0m79,0h0m70,0h0m156,0h0m-175,1h0m-47,1h0m143,0h0m18,0h0m-192,1h0m86,0h0m19,0h0m-132,1h0m193,0h0m50,0h0m-222,1h0m25,0h0m204,0h0m-201,1h0m223,0h0m-276,1h0m161,0h0m38,0h0m7,0h0m-88,1h0m95,0h0m17,0h0m-204,1h0m3,0h0m146,0h0m-129,1h0m-23,1h0m134,0h0m37,0h0m9,0h0m54,0h0m-241,1h0m49,0h0m150,0h0m-219,1h0m94,0h0m117,0h0m37,0h0m-61,1h0m7,0h0m-193,1h0m1,0h0m131,0h0m73,0h0m24,0h0m-73,1h0m54,0h0m78,0h0m-164,1h0m0,0h0m71,0h0m-185,1h0m95,0h0m13,0h0m140,0h0m-191,1h0m60,0h0m67,0h0m-131,1h0m46,0h0m65,0h0m24,0h0m3,0h0m42,0h0m-234,2h0m146,0h0m8,0h0m88,0h0m-38,1h0m-93,1h0m45,0h0m-51,1h0m2,0h0m58,0h0m20,0h0m33,0h0m16,0h0m34,0h0m-157,1h0m90,1h0m-43,1h0m6,0h0m-9,1h0m47,0h0m-68,1h0m66,0h0m62,0h0m-248,1h0m182,0h0m5,0h0m-179,1h0m76,1h0m-74,1h0m11,0h0m93,0h0m-61,1h0m107,0h0m33,0h0m44,0h0m-176,1h0m83,0h0m71,0h0m-164,1h0m105,0h0m50,0h0m-195,1h0m19,0h0m70,0h0m-97,1h0m112,0h0m-36,1h0m42,0h0m78,0h0m-100,1h0m101,0h0m-114,1h0m30,0h0m50,0h0m3,0h0m-159,1h0m27,0h0m5,0h0m67,0h0m-66,1h0m-18,1h0m171,0h0m20,0h0m-138,2h0m49,1h0m-116,1h0m0,0h0m118,0h0m87,0h0m-4,1h0m10,0h0m-136,1h0m-9,1h0m7,1h0m14,0h0m95,0h0m9,0h0m-89,1h0m-23,2h0m104,0h0m-153,1h0m44,0h0m11,0h0m2,0h0m22,0h0m28,0h0m7,0h0m42,0h0m-168,1h0m115,0h0m72,0h0m-156,1h0m47,0h0m38,0h0m-14,1h0m-71,1h0m75,0h0m73,0h0m-154,1h0m126,0h0m-48,2h0m-93,1h0m17,0h0m44,0h0" stroke="#6CC9CB" stroke-width="4.0" stroke-linecap="round" fill="none"/>
<path d="M358,66h0m-95,1h0m78,0h0m83,0h0m-125,1h0m89,0h0m13,0h0m-95,1h0m16,0h0m17,0h0m0,0h0m23,0h0m44,0h0m13,0h0m-136,1h0m52,0h0m18,0h0m13,0h0m5,0h0m33,0h0m-69,1h0m38,0h0m15,0h0m-128,1h0m155,0h0m12,0h0m-177,1h0m34,0h0m5,1h0m90,0h0m-52,1h0m9,1h0m8,0h0m10,0h0m-52,1h0m100,0h0m35,0h0m-138,1h0m38,0h0m46,0h0m23,0h0m15,0h0m1,0h0m-108,1h0m25,0h0m74,0h0m-160,2h0m149,0h0m10,0h0m23,0h0m-163,1h0m84,0h0m53,0h0m4,0h0m19,1h0m6,0h0m13,0h0m-166,1h0m4,0h0m4,0h0m7,0h0m93,0h0m11,0h0m13,0h0m-152,1h0m41,0h0m-17,1h0m2,1h0m3,0h0m30,0h0m25,0h0m27,0h0m9,0h0m43,0h0m-143,1h0m22,0h0m2,0h0m2,0h0m21,0h0m108,0h0m20,0h0m-141,1h0m121,0h0m-181,1h0m32,0h0m7,0h0m19,0h0m12,0h0m105,0h0m-209,1h0m17,0h0m3,0h0m63,0h0m46,0h0m3,0h0m2,0h0m25,0h0m17,0h0m-175,1h0m213,0h0m2,0h0m-181,1h0m69,0h0m102,0h0m25,0h0m-149,1h0m11,1h0m52,0h0m15,0h0m13,0h0m63,0h0m4,0h0m-239,1h0m231,0h0m-130,1h0m-65,1h0m47,0h0m45,0h0m-123,1h0m12,0h0m122,0h0m93,0h0m-103,1h0m18,0h0m38,0h0m16,0h0m-197,1h0m5,0h0m29,0h0m107,0h0m38,0h0m27,0h0m10,0h0m-216,1h0m145,0h0m6,0h0m58,0h0m-227,1h0m42,0h0m4,0h0m27,0h0m17,0h0m-77,1h0m18,0h0m17,0h0m147,0h0m2,0h0m21,0h0m-162,1h0m101,0h0m1,0h0m-126,1h0m7,0h0m5,0h0m24,0h0m30,0h0m43,0h0m22,0h0m12,0h0m9,0h0m57,0h0m-198,1h0m155,0h0m-202,1h0m109,1h0m35,0h0m48,0h0m71,0h0m-227,1h0m32,0h0m1,0h0m11,0h0m50,0h0m-102,1h0m128,1h0m103,0h0m20,0h0m-267,1h0m3,0h0m45,0h0m162,0h0m30,0h0m-214,1h0m80,0h0m25,0h0m27,0h0m41,0h0m-223,1h0m136,0h0m135,0h0m-247,1h0m168,0h0m64,0h0m1,0h0m24,0h0m-108,1h0m28,0h0m43,0h0m31,0h0m-270,1h0m16,0h0m32,0h0m16,0h0m12,0h0m29,0h0m42,0h0m44,0h0m-149,1h0m186,0h0m65,0h0m-295,1h0m24,0h0m1,0h0m59,0h0m81,0h0m52,0h0m70,0h0m-280,1h0m10,0h0m18,0h0m3,0h0m1,0h0m6,0h0m35,0h0m123,0h0m23,0h0m-229,1h0m30,0h0m21,0h0m114,0h0m60,0h0m0,0h0m3,0h0m5,0h0m-222,1h0m6,0h0m24,0h0m31,0h0m83,0h0m61,0h0m51,0h0m12,0h0m-229,1h0m1,0h0m12,0h0m2,0h0m39,0h0m60,0h0m81,0h0m-169,1h0m37,0h0m43,0h0m134,0h0m-268,1h0m27,0h0m69,0h0m35,0h0m89,0h0m17,0h0m8,0h0m4,0h0m-260,1h0m61,1h0m20,0h0m3,0h0m66,0h0m22,0h0m5,0h0m-199,1h0m23,0h0m87,0h0m53,0h0m57,0h0m21,0h0m49,0h0m2,0h0m-206,1h0m5,0h0m3,0h0m8,0h0m82,0h0m18,0h0m0,0h0m17,0h0m79,0h0m-242,1h0m28,0h0m37,0h0m30,0h0m47,0h0m84,0h0m15,0h0m-257,1h0m9,0h0m2,0h0m53,0h0m65,0h0m9,0h0m15,0h0m46,0h0m59,0h0m-209,1h0m190,0h0m-274,1h0m156,0h0m18,0h0m87,0h0m28,0h0m-258,1h0m24,0h0m177,0h0m55,0h0m14,0h0m-244,1h0m11,0h0m153,0h0m82,0h0m-255,1h0m51,0h0m195,0h0m-296,1h0m187,0h0m1,0h0m11,0h0m70,0h0m9,0h0m-146,1h0m24,0h0m25,0h0m37,0h0m30,0h0m-198,1h0m2,0h0m103,0h0m22,0h0m-12,1h0m76,0h0m-175,1h0m224,0h0m-214,1h0m16,0h0m22,0h0m26,0h0m6,0h0m49,0h0m37,0h0m38,0h0m33,0h0m13,0h0m6,0h0m-203,1h0m-119,1h0m57,0h0m97,0h0m35,0h0m24,0h0m21,0h0m10,0h0m-251,1h0m20,0h0m28,0h0m88,0h0m26,0h0m109,0h0m-249,1h0m122,0h0m19,0h0m46,0h0m-167,1h0m13,0h0m-8,1h0m181,0h0m47,0h0m5,0h0m-178,1h0m143,0h0m46,0h0m-248,1h0m125,0h0m12,0h0m5,0h0m30,0h0m27,0h0m-189,1h0m38,0h0m237,0h0m-327,1h0m46,0h0m111,0h0m68,0h0m32,0h0m15,0h0m-213,1h0m16,0h0m106,0h0m117,0h0m0,0h0m31,0h0m-259,1h0m21,0h0m28,0h0m94,0h0m70,0h0m16,0h0m-199,1h0m19,0h0m108,0h0m-225,1h0m103,0h0m71,0h0m0,0h0m45,0h0m35,0h0m2,0h0m-152,1h0m54,0h0m37,0h0m36,0h0m85,0h0m-302,1h0m160,0h0m80,0h0m7,0h0m14,0h0m60,0h0m-324,1h0m30,0h0m115,0h0m23,0h0m110,0h0m-216,1h0m7,0h0m94,0h0m4,0h0m139,0h0m2,0h0m6,0h0m-328,1h0m43,0h0m266,0h0m0,0h0m-319,1h0m55,0h0m286,0h0m-277,1h0m119,0h0m120,0h0m29,0h0m-328,1h0m73,0h0m61,0h0m29,0h0m-106,1h0m48,0h0m20,0h0m91,0h0m17,0h0m13,0h0m6,0h0m13,0h0m-196,1h0m34,0h0m174,0h0m47,0h0m-305,1h0m30,0h0m52,0h0m192,0h0m-211,1h0m149,0h0m113,0h0m-344,1h0m48,0h0m109,0h0m38,0h0m126,0h0m3,0h0m6,0h0m-327,1h0m145,0h0m36,0h0m13,0h0m71,0h0m-236,1h0m9,0h0m38,0h0m29,0h0m61,0h0m13,0h0m22,0h0m56,0h0m17,0h0m-104,1h0m58,0h0m68,0h0m53,0h0m-304,1h0m24,0h0m11,0h0m72,0h0m58,0h0m4,0h0m-211,1h0m20,0h0m7,0h0m55,0h0m27,0h0m3,0h0m56,0h0m9,0h0m3,0h0m16,0h0m26,0h0m9,0h0m56,0h0m-299,1h0m5,0h0m36,0h0m7,0h0m132,0h0m49,0h0m86,0h0m20,0h0m5,0h0m-295,1h0m24,0h0m68,0h0m3,0h0m8,0h0m20,0h0m2,0h0m55,0h0m49,0h0m84,0h0m-187,1h0m94,0h0m-228,1h0m48,0h0m32,0h0m17,0h0m70,0h0m10,0h0m29,0h0m15,0h0m6,0h0m14,0h0m38,0h0m-274,1h0m16,0h0m51,0h0m18,0h0m53,0h0m19,0h0m9,0h0m6,0h0m10,0h0m28,0h0m7,0h0m24,0h0m-253,1h0m0,0h0m183,0h0m97,0h0m25,0h0m-222,1h0m10,0h0m185,0h0m3,0h0m-305,1h0m39,0h0m43,0h0m102,0h0m11,1h0m98,0h0m67,0h0m-375,1h0m61,0h0m4,0h0m154,0h0m3,0h0m13,0h0m47,0h0m-263,1h0m43,0h0m119,0h0m21,0h0m0,0h0m18,0h0m28,0h0m-241,1h0m129,0h0m24,0h0m183,0h0m-299,1h0m49,0h0m26,0h0m16,0h0m65,0h0m33,0h0m34,0h0m-221,1h0m37,0h0m258,0h0m-346,1h0m154,0h0m26,0h0m96,0h0m21,0h0m14,0h0m52,0h0m-338,1h0m30,0h0m87,0h0m10,0h0m108,0h0m4,0h0m0,0h0m79,0h0m4,0h0m30,0h0m-324,1h0m15,0h0m1,0h0m17,0h0m4,0h0m40,0h0m58,0h0m146,0h0m47,0h0m-354,1h0m16,0h0m80,0h0m22,0h0m60,0h0m70,0h0m13,0h0m43,0h0m38,0h0m-279,1h0m8,0h0m98,0h0m20,0h0m-210,1h0m60,0h0m34,0h0m3,0h0m47,0h0m17,0h0m151,0h0m2,0h0m54,0h0m-355,1h0m1,0h0m6,0h0m109,0h0m124,0h0m76,0h0m-301,1h0m13,0h0m71,0h0m56,0h0m44,0h0m83,0h0m17,0h0m7,0h0m-320,1h0m33,0h0m120,0h0m2,0h0m51,0h0m26,0h0m-96,1h0m68,0h0m35,0h0m142,0h0m-360,1h0m55,0h0m13,0h0m51,0h0m76,0h0m4,0h0m4,0h0m29,0h0m62,0h0m-274,1h0m11,0h0m47,0h0m212,0h0m-326,1h0m117,0h0m9,0h0m247,0h0m-252,1h0m25,0h0m67,0h0m120,0h0m16,0h0m28,0h0m-371,1h0m202,0h0m43,0h0m4,0h0m20,0h0m-249,1h0m6,0h0m144,0h0m17,0h0m69,0h0m1,0h0m75,0h0m4,0h0m-222,1h0m19,0h0m3,0h0m68,0h0m94,0h0m14,0h0m-180,1h0m15,0h0m2,0h0m8,0h0m42,0h0m28,0h0m28,0h0m10,0h0m26,0h0m99,0h0m-382,1h0m9,0h0m78,0h0m24,0h0m23,0h0m47,0h0m49,0h0m0,0h0m31,0h0m-224,1h0m21,0h0m59,0h0m-133,1h0m144,0h0m92,0h0m1,0h0m38,0h0m30,0h0m85,0h0m-345,1h0m90,0h0m25,0h0m40,0h0m5,0h0m15,0h0m14,0h0m21,0h0m5,0h0m36,0h0m74,0h0m-365,1h0m35,0h0m127,0h0m29,0h0m45,0h0m12,0h0m26,0h0m7,0h0m18,0h0m-260,1h0m0,0h0m44,0h0m49,0h0m94,0h0m78,0h0m6,0h0m1,0h0m10,0h0m50,0h0m-140,1h0m14,0h0m82,0h0m-314,1h0m6,0h0m38,0h0m41,0h0m41,0h0m18,0h0m167,0h0m53,0h0m-323,1h0m39,0h0m39,0h0m36,0h0m15,0h0m42,0h0m41,0h0m90,0h0m-318,1h0m-2,1h0m51,0h0m115,0h0m-200,1h0m38,0h0m28,0h0m3,0h0m145,0h0m51,0h0m4,0h0m43,0h0m-242,1h0m3,0h0m136,0h0m45,0h0m56,0h0m-74,1h0m-179,1h0m9,0h0m85,0h0m9,0h0m111,0h0m8,0h0m30,0h0m19,0h0m58,0h0m-360,1h0m25,0h0m231,0h0m71,0h0m46,0h0m-387,1h0m7,0h0m28,0h0m5,0h0m3,0h0m41,0h0m2,0h0m17,0h0m29,0h0m42,0h0m10,0h0m38,0h0m105,0h0m45,0h0m0,0h0m-385,1h0m119,0h0m151,0h0m14,0h0m-280,1h0m66,0h0m72,0h0m22,0h0m32,0h0m42,0h0m25,0h0m118,0h0m13,0h0m-343,1h0m42,0h0m3,0h0m23,0h0m56,0h0m207,0h0m9,0h0m-402,1h0m0,0h0m14,0h0m173,0h0m23,0h0m84,0h0m5,0h0m71,0h0m-267,1h0m39,0h0m39,0h0m33,0h0m9,0h0m-192,1h0m32,0h0m17,0h0m68,0h0m62,0h0m6,0h0m165,0h0m-377,1h0m34,0h0m76,0h0m98,0h0m96,0h0m58,0h0m9,0h0m-358,1h0m148,0h0m0,0h0m2,0h0m82,0h0m40,0h0m-257,1h0m50,0h0m44,0h0m17,0h0m9,0h0m203,0h0m-350,1h0m68,0h0m3,0h0m69,0h0m57,0h0m95,0h0m55,0h0m6,0h0m28,0h0m26,0h0m-403,1h0m146,0h0m8,0h0m24,0h0m7,0h0m98,0h0m16,0h0m20,0h0m2,0h0m0,0h0m-225,1h0m88,0h0m117,0h0m29,0h0m6,0h0m58,0h0m3,0h0m-366,1h0m41,0h0m65,0h0m23,0h0m53,0h0m59,0h0m22,0h0m-286,1h0m79,0h0m42,0h0m27,0h0m8,0h0m69,0h0m48,0h0m45,0h0m3,0h0m74,0h0m-405,1h0m14,0h0m168,0h0m138,0h0m-282,1h0m53,0h0m27,0h0m42,0h0m31,0h0m126,0h0m8,0h0m21,0h0m8,0h0m-236,1h0m19,0h0m156,0h0m3,0h0m38,0h0m16,0h0m-349,1h0m101,0h0m3,0h0m28,0h0m128,0h0m6,0h0m10,0h0m4,0h0m61,0h0m-350,1h0m40,0h0m31,0h0m153,0h0m57,0h0m68,0h0m18,0h0m-309,1h0m60,0h0m167,0h0m54,0h0m-249,1h0m65,0h0m103,0h0m4,0h0m26,0h0m7,0h0m56,0h0m24,0h0m-309,1h0m58,0h0m12,0h0m121,0h0m52,0h0m7,0h0m33,0h0m-343,1h0m58,0h0m118,0h0m32,0h0m24,0h0m140,0h0m15,0h0m22,0h0m-365,1h0m4,0h0m56,0h0m88,0h0m145,0h0m6,0h0m16,0h0m49,0h0m-360,1h0m53,0h0m57,0h0m14,0h0m5,0h0m48,0h0m-189,1h0m15,0h0m40,0h0m19,0h0m0,0h0m95,0h0m16,0h0m4,0h0m55,0h0m69,0h0m-301,1h0m11,0h0m1,0h0m6,0h0m18,0h0m48,0h0m5,0h0m18,0h0m34,0h0m26,0h0m29,0h0m127,0h0m13,0h0m-346,1h0m28,0h0m101,0h0m13,0h0m142,0h0m65,0h0m-337,1h0m1,0h0m78,0h0m98,0h0m160,0h0m-337,1h0m12,0h0m6,0h0m48,0h0m112,0h0m151,0h0m-367,1h0m235,0h0m70,0h0m67,0h0m-253,1h0m78,0h0m32,0h0m24,0h0m98,0h0m-347,1h0m28,0h0m138,0h0m18,0h0m159,0h0m37,0h0m-370,1h0m3,0h0m54,0h0m39,0h0m47,0h0m104,0h0m103,0h0m29,0h0m-374,1h0m12,0h0m109,0h0m7,0h0m231,0h0m-242,1h0m120,0h0m54,0h0m8,0h0m-340,1h0m72,0h0m13,0h0m57,0h0m6,0h0m169,0h0m19,0h0m-267,1h0m133,0h0m169,0h0m20,0h0m8,0h0m-388,1h0m53,0h0m102,0h0m44,0h0m117,0h0m3,0h0m31,0h0m-266,1h0m78,0h0m159,0h0m-267,1h0m26,0h0m21,0h0m26,0h0m67,0h0m201,0h0m7,0h0m-392,1h0m168,0h0m5,0h0m227,0h0m-400,1h0m35,0h0m13,0h0m120,0h0m20,0h0m131,0h0m58,0h0m-384,1h0m92,0h0m83,0h0m73,0h0m55,0h0m43,0h0m-155,1h0m131,0h0m46,0h0m-368,1h0m20,0h0m18,0h0m49,0h0m7,0h0m41,0h0m80,0h0m32,0h0m14,0h0m58,0h0m30,0h0m30,0h0m-279,1h0m185,0h0m8,0h0m6,0h0m11,0h0m-311,1h0m20,0h0m2,0h0m64,0h0m54,0h0m36,0h0m2,0h0m7,0h0m21,0h0m8,0h0m30,0h0m32,0h0m19,0h0m67,0h0m-340,1h0m22,0h0m22,0h0m29,0h0m123,0h0m72,0h0m25,0h0m67,0h0m-384,1h0m179,0h0m93,0h0m67,0h0m29,0h0m-323,1h0m25,0h0m17,0h0m14,0h0m7,0h0m37,0h0m148,0h0m-290,1h0m103,0h0m84,0h0m115,0h0m27,0h0m52,0h0m15,0h0m-396,1h0m88,0h0m2,0h0m13,0h0m119,0h0m2,0h0m125,0h0m35,0h0m15,0h0m-393,1h0m11,0h0m4,0h0m57,0h0m47,0h0m57,0h0m23,0h0m-212,1h0m14,0h0m82,0h0m76,0h0m34,0h0m151,0h0m35,0h0m-386,1h0m188,0h0m143,0h0m42,0h0m-207,1h0m20,0h0m3,0h0m144,0h0m4,0h0m-302,1h0m151,0h0m93,0h0m23,0h0m56,0h0m6,0h0m28,0h0m7,0h0m-370,1h0m17,0h0m65,0h0m27,0h0m197,0h0m1,0h0m-302,1h0m21,0h0m47,0h0m36,0h0m61,0h0m-207,1h0m81,0h0m70,0h0m37,0h0m48,0h0m81,0h0m26,0h0m45,0h0m20,0h0m-349,1h0m18,0h0m14,0h0m11,0h0m168,0h0m66,0h0m-312,1h0m6,0h0m50,0h0m3,0h0m325,0h0m-349,1h0m8,0h0m233,0h0m13,0h0m1,1h0m18,0h0m44,0h0m15,0h0m-379,1h0m26,0h0m68,0h0m14,0h0m182,0h0m63,0h0m-369,1h0m32,0h0m36,0h0m58,0h0m9,0h0m-59,1h0m21,0h0m8,0h0m20,0h0m89,0h0m88,0h0m81,0h0m-367,1h0m2,0h0m9,0h0m302,0h0m-309,1h0m47,0h0m12,0h0m32,0h0m25,0h0m1,0h0m64,0h0m1,0h0m87,0h0m31,0h0m15,0h0m3,0h0m-340,1h0m2,0h0m103,0h0m212,0h0m-293,1h0m24,0h0m32,0h0m19,0h0m12,0h0m54,0h0m209,0h0m9,0h0m19,0h0m-399,1h0m121,0h0m9,0h0m6,0h0m33,0h0m-160,1h0m10,0h0m26,0h0m28,0h0m3,0h0m138,0h0m51,0h0m28,0h0m36,0h0m18,0h0m41,0h0m-391,1h0m89,0h0m39,0h0m-62,1h0m51,0h0m44,0h0m29,0h0m26,0h0m87,0h0m76,0h0m14,0h0m-278,1h0m28,0h0m41,0h0m116,0h0m5,0h0m91,0h0m-298,1h0m23,0h0m27,0h0m17,0h0m66,0h0m76,0h0m92,0h0m-239,1h0m219,0h0m6,0h0m-191,1h0m81,0h0m55,0h0m73,0h0m-392,1h0m100,0h0m210,0h0m8,0h0m33,0h0m56,0h0m-273,1h0m30,0h0m12,0h0m222,0h0m-359,1h0m172,0h0m74,0h0m36,0h0m13,0h0m-286,1h0m20,0h0m58,0h0m69,0h0m49,0h0m49,0h0m48,0h0m41,0h0m-350,1h0m19,0h0m58,0h0m28,0h0m66,0h0m172,0h0m26,0h0m-66,1h0m-335,1h0m51,0h0m31,0h0m18,0h0m39,0h0m138,0h0m24,0h0m8,0h0m63,0h0m-263,1h0m41,0h0m102,0h0m60,0h0m27,0h0m-318,1h0m2,0h0m1,0h0m22,0h0m32,0h0m113,0h0m108,0h0m0,0h0m35,0h0m-317,1h0m79,0h0m111,0h0m102,0h0m25,0h0m77,0h0m-289,1h0m20,0h0m248,0h0m-48,1h0m-260,1h0m52,0h0m35,0h0m60,0h0m17,0h0m35,0h0m42,0h0m-265,1h0m38,0h0m44,0h0m67,0h0m76,0h0m40,0h0m-124,1h0m25,0h0m31,0h0m84,0h0m-343,1h0m5,0h0m9,0h0m5,0h0m5,0h0m25,0h0m16,0h0m4,0h0m162,0h0m24,0h0m90,0h0m25,0h0m37,0h0m-413,1h0m4,0h0m327,0h0m54,0h0m-384,1h0m135,0h0m220,0h0m9,0h0m20,0h0m20,0h0m-406,1h0m49,0h0m107,0h0m26,0h0m12,0h0m57,0h0m9,0h0m58,0h0m27,0h0m69,0h0m-378,1h0m3,0h0m126,0h0m116,0h0m3,0h0m40,0h0m31,0h0m33,0h0m-385,1h0m17,0h0m67,0h0m82,0h0m197,0h0m2,0h0m-317,1h0m48,0h0m20,0h0m79,0h0m79,0h0m4,0h0m20,0h0m31,0h0m11,0h0m64,0h0m-364,1h0m158,0h0m13,0h0m8,0h0m68,0h0m13,0h0m97,0h0m-381,1h0m140,0h0m58,0h0m79,0h0m4,0h0m-273,1h0m65,0h0m10,0h0m257,0h0m13,0h0m43,0h0m-371,1h0m75,0h0m5,0h0m32,0h0m5,0h0m41,0h0m23,0h0m12,0h0m18,0h0m164,0h0m-390,1h0m50,0h0m46,0h0m27,0h0m42,0h0m67,0h0m20,0h0m9,0h0m23,0h0m-235,1h0m32,0h0m63,0h0m45,0h0m1,0h0m2,0h0m15,0h0m21,0h0m26,0h0m78,0h0m-244,1h0m30,0h0m112,0h0m53,0h0m-269,1h0m17,0h0m8,0h0m49,0h0m29,0h0m75,0h0m100,0h0m7,0h0m36,0h0m-144,1h0m94,0h0m48,0h0m-336,1h0m31,0h0m100,0h0m43,0h0m84,0h0m-76,1h0m-203,1h0m130,0h0m66,0h0m4,0h0m18,0h0m4,0h0m75,0h0m7,0h0m44,0h0m-311,1h0m6,0h0m82,0h0m20,0h0m134,0h0m16,0h0m36,0h0m48,0h0m-327,1h0m54,0h0m42,0h0m115,1h0m2,0h0m9,0h0m32,0h0m33,0h0m12,0h0m3,0h0m-342,1h0m44,0h0m20,0h0m130,0h0m85,0h0m15,0h0m21,0h0m24,0h0m3,0h0m19,0h0m21,0h0m-371,1h0m126,0h0m4,0h0m12,0h0m146,0h0m2,0h0m24,0h0m-302,1h0m4,0h0m112,0h0m5,0h0m62,0h0m114,0h0m24,0h0m-257,1h0m0,0h0m125,0h0m167,0h0m-381,1h0m19,0h0m187,0h0m45,0h0m61,0h0m28,0h0m-344,1h0m90,0h0m11,0h0m44,0h0m54,0h0m103,0h0m-220,1h0m7,0h0m5,0h0m27,0h0m244,0h0m39,0h0m-370,1h0m6,0h0m7,0h0m13,0h0m129,0h0m3,0h0m38,0h0m56,0h0m11,0h0m25,0h0m-201,1h0m73,0h0m18,0h0m27,0h0m139,0h0m-378,1h0m24,0h0m0,0h0m90,0h0m147,0h0m35,0h0m100,0h0m-373,1h0m117,0h0m15,0h0m58,0h0m54,0h0m45,0h0m-312,1h0m87,0h0m28,0h0m3,0h0m17,0h0m78,0h0m173,0h0m6,0h0m-281,1h0m104,0h0m56,0h0m17,0h0m68,0h0m-312,1h0m66,0h0m74,0h0m31,0h0m37,0h0m14,0h0m-177,1h0m54,0h0m58,0h0m107,0h0m75,0h0m10,0h0m-336,1h0m36,0h0m108,0h0m10,0h0m143,0h0m1,0h0m50,0h0m-374,1h0m76,0h0m91,0h0m23,0h0m104,0h0m75,0h0m-390,1h0m99,0h0m46,0h0m27,0h0m211,0h0m-389,1h0m39,0h0m78,0h0m3,0h0m1,0h0m177,0h0m-300,1h0m81,0h0m289,0h0m-342,1h0m28,0h0m77,0h0m-106,1h0m19,0h0m31,0h0m29,0h0m14,0h0m31,0h0m169,0h0m19,0h0m-303,1h0m6,0h0m65,0h0m28,0h0m20,0h0m74,0h0m81,0h0m-313,1h0m13,0h0m37,0h0m6,0h0m58,0h0m35,0h0m25,0h0m111,0h0m41,0h0m31,0h0m2,0h0m33,0h0m-306,1h0m77,0h0m106,0h0m62,0h0m-296,1h0m19,0h0m13,0h0m18,0h0m2,0h0m0,0h0m32,0h0m39,0h0m237,0h0m-386,1h0m45,0h0m32,0h0m169,0h0m143,0h0m-359,1h0m131,0h0m12,0h0m108,0h0m86,0h0m-365,1h0m28,0h0m19,0h0m24,0h0m4,0h0m5,0h0m16,0h0m2,0h0m32,0h0m21,0h0m26,0h0m5,0h0m52,0h0m-100,1h0m14,0h0m116,0h0m48,0h0m-315,1h0m59,0h0m1,0h0m11,0h0m270,0h0m38,0h0m-284,1h0m19,0h0m35,0h0m42,0h0m38,0h0m30,0h0m76,0h0m47,0h0m-385,1h0m31,0h0m189,0h0m25,0h0m13,0h0m7,0h0m35,0h0m44,0h0m-295,1h0m30,0h0m115,0h0m34,0h0m4,0h0m74,0h0m-137,1h0m69,0h0m36,0h0m25,0h0m0,0h0m49,0h0m34,0h0m-296,1h0m83,0h0m147,0h0m28,0h0m2,0h0m-283,1h0m60,0h0m93,0h0m26,0h0m95,0h0m29,0h0m-183,1h0m10,0h0m49,0h0m1,0h0m137,0h0m-294,1h0m48,0h0m93,0h0m74,0h0m24,0h0m23,0h0m6,0h0m2,0h0m27,0h0m0,0h0m-369,1h0m5,0h0m18,0h0m76,0h0m25,0h0m22,0h0m65,0h0m41,0h0m-257,1h0m133,0h0m8,0h0m138,0h0m13,0h0m12,0h0m42,0h0m2,0h0m13,0h0m-364,1h0m25,0h0m49,0h0m31,0h0m11,0h0m135,0h0m39,0h0m6,0h0m-263,1h0m80,0h0m2,0h0m24,0h0m7,0h0m33,0h0m6,0h0m18,0h0m6,0h0m-180,1h0m126,0h0m-160,1h0m12,0h0m91,0h0m43,0h0m81,0h0m11,0h0m74,0h0m28,0h0m16,0h0m-347,1h0m21,0h0m9,0h0m15,0h0m92,0h0m15,0h0m154,0h0m-302,1h0m1,0h0m35,0h0m10,0h0m44,0h0m49,0h0m138,0h0m100,0h0m-367,1h0m14,0h0m1,0h0m77,0h0m29,0h0m11,0h0m2,0h0m44,0h0m26,0h0m30,0h0m42,0h0m42,0h0m-318,1h0m61,0h0m7,0h0m29,0h0m0,0h0m31,0h0m-59,1h0m63,0h0m124,0h0m36,0h0m-199,1h0m11,0h0m6,0h0m19,0h0m49,0h0m71,0h0m13,0h0m23,0h0m38,0h0m-305,1h0m70,0h0m19,0h0m25,0h0m167,0h0m-263,1h0m34,0h0m174,0h0m6,0h0m43,0h0m7,0h0m-304,1h0m57,0h0m21,0h0m38,0h0m64,0h0m26,0h0m-213,1h0m87,0h0m48,0h0m15,0h0m170,0h0m5,0h0m30,0h0m-338,1h0m2,0h0m114,0h0m86,0h0m27,0h0m0,0h0m38,0h0m43,0h0m-327,1h0m16,0h0m74,0h0m51,0h0m63,0h0m30,0h0m32,0h0m50,0h0m11,0h0m7,0h0m-315,1h0m19,0h0m47,0h0m135,0h0m78,0h0m25,1h0m-227,1h0m141,0h0m52,0h0m3,0h0m17,0h0m30,0h0m-325,1h0m134,0h0m53,0h0m20,0h0m59,0h0m21,0h0m25,0h0m-238,1h0m11,0h0m6,0h0m5,0h0m5,0h0m7,0h0m23,0h0m29,0h0m91,0h0m-270,1h0m31,0h0m30,0h0m2,0h0m55,0h0m168,0h0m-185,1h0m26,0h0m2,0h0m53,0h0m56,0h0m55,0h0m43,0h0m22,0h0m-339,1h0m94,0h0m54,0h0m2,0h0m2,0h0m14,0h0m48,0h0m21,0h0m61,0h0m-161,1h0m122,0h0m43,0h0m-277,1h0m76,0h0m55,0h0m24,0h0m22,0h0m84,0h0m-239,1h0m67,0h0m10,0h0m26,0h0m18,0h0m134,0h0m39,0h0m15,0h0m-359,1h0m30,0h0m74,0h0m34,0h0m11,0h0m2,0h0m22,0h0m12,0h0m79,0h0m-264,1h0m24,0h0m3,0h0m61,0h0m0,0h0m50,0h0m125,0h0m30,0h0m-109,1h0m86,0h0m14,0h0m33,0h0m32,0h0m-323,1h0m184,0h0m50,0h0m32,0h0m26,0h0m-285,1h0m31,0h0m49,0h0m54,0h0m2,0h0m8,0h0m19,0h0m7,0h0m64,0h0m54,0h0m2,0h0m-294,1h0m112,0h0m60,0h0m35,0h0m29,0h0m28,0h0m21,0h0m-303,1h0m81,0h0m26,0h0m114,0h0m47,0h0m9,0h0m49,0h0m-289,1h0m110,0h0m120,0h0m17,0h0m27,0h0m-316,1h0m22,0h0m72,0h0m4,0h0m20,0h0m95,0h0m65,0h0m-276,1h0m94,0h0m12,0h0m20,0h0m85,0h0m6,0h0m64,0h0m51,0h0m4,0h0m-305,1h0m52,0h0m97,0h0m23,0h0m20,0h0m69,0h0m26,0h0m-298,1h0m0,0h0m27,0h0m9,0h0m23,0h0m12,0h0m53,0h0m13,0h0m7,0h0m75,0h0m67,0h0m-316,1h0m84,0h0m4,0h0m5,0h0m43,0h0m208,0h0m-334,1h0m109,0h0m79,0h0m28,0h0m111,0h0m13,0h0m-268,1h0m6,0h0m33,0h0m25,0h0m3,0h0m55,0h0m21,0h0m28,0h0m1,0h0m4,0h0m-195,1h0m20,0h0m14,0h0m145,0h0m17,0h0m-258,1h0m2,0h0m27,0h0m86,0h0m77,0h0m69,0h0m-236,1h0m13,0h0m139,0h0m74,0h0m9,0h0m71,0h0m-244,1h0m37,0h0m18,0h0m12,0h0m197,0h0m-327,1h0m21,0h0m69,0h0m44,0h0m0,0h0m59,0h0m46,0h0m30,0h0m16,0h0m-288,1h0m27,0h0m31,0h0m18,0h0m5,0h0m53,0h0m47,0h0m10,0h0m102,0h0m-242,1h0m45,0h0m67,0h0m56,0h0m3,0h0m8,0h0m10,0h0m37,0h0m-283,1h0m12,0h0m6,0h0m17,0h0m43,0h0m134,0h0m81,0h0m33,0h0m-332,1h0m55,0h0m69,0h0m0,0h0m5,0h0m13,0h0m44,0h0m48,0h0m34,0h0m-209,1h0m23,0h0m72,0h0m16,0h0m4,0h0m66,0h0m71,0h0m2,0h0m-283,1h0m23,0h0m32,0h0m58,0h0m118,0h0m-265,1h0m43,0h0m33,0h0m35,0h0m5,0h0m13,0h0m36,0h0m65,0h0m33,0h0m9,0h0m25,0h0m-189,1h0m20,0h0m6,0h0m96,0h0m76,0h0m28,0h0m-270,1h0m59,0h0m3,0h0m27,0h0m47,0h0m14,0h0m58,0h0m-92,1h0m56,0h0m20,0h0m10,0h0m62,0h0m-322,1h0m32,0h0m45,0h0m138,0h0m7,0h0m3,0h0m-64,1h0m4,0h0m-64,1h0m70,0h0m45,0h0m40,0h0m43,0h0m-245,1h0m225,0h0m-107,1h0m51,0h0m49,0h0m28,0h0m-247,1h0m16,0h0m28,0h0m17,0h0m18,0h0m101,0h0m-208,1h0m25,0h0m7,0h0m19,0h0m20,0h0m20,0h0m22,0h0m-125,1h0m45,0h0m165,0h0m31,0h0m22,0h0m-192,1h0m11,0h0m2,0h0m68,0h0m5,0h0m27,0h0m7,0h0m4,0h0m-114,1h0m34,0h0m82,0h0m34,0h0m2,0h0m1,0h0m31,0h0m18,0h0m-228,1h0m78,0h0m169,0h0m-272,1h0m57,0h0m38,0h0m135,0h0m37,0h0m-291,1h0m22,0h0m8,0h0m73,0h0m63,0h0m84,0h0m27,0h0m11,0h0m-251,1h0m2,0h0m34,0h0m49,0h0m10,0h0m28,0h0m18,0h0m16,0h0m31,0h0m13,0h0m11,0h0m16,0h0m36,0h0m-262,1h0m87,0h0m2,0h0m54,0h0m28,0h0m3,0h0m-218,1h0m83,0h0m110,0h0m85,0h0m-275,1h0m73,0h0m10,0h0m125,0h0m-211,1h0m14,0h0m146,0h0m43,0h0m-199,1h0m27,0h0m76,0h0m43,0h0m108,0h0m2,0h0m19,0h0m-281,1h0m14,0h0m7,0h0m71,0h0m7,0h0m92,0h0m19,0h0m13,0h0m-116,1h0m85,0h0m8,0h0m20,0h0m6,0h0m53,0h0m-234,1h0m14,0h0m55,0h0m51,0h0m11,0h0m55,0h0m-225,1h0m78,0h0m33,0h0m51,0h0m59,0h0m6,0h0m1,0h0m-85,1h0m52,0h0m7,0h0m-204,1h0m5,0h0m169,0h0m103,0h0m-224,1h0m8,0h0m70,0h0m154,0h0m-265,1h0m62,0h0m78,0h0m-75,1h0m65,0h0m19,0h0m-108,1h0m20,0h0m60,0h0m19,0h0m48,0h0m-179,1h0m10,0h0m31,0h0m14,0h0m39,0h0m166,0h0m-78,1h0m27,0h0m4,0h0m-174,1h0m47,0h0m27,0h0m96,0h0m3,0h0m14,0h0m-161,1h0m131,0h0m51,0h0m-250,1h0m47,0h0m21,0h0m61,0h0m-37,1h0m24,0h0m30,0h0m24,0h0m11,0h0m20,0h0m55,0h0m-196,1h0m7,0h0m112,0h0m47,0h0m-234,1h0m23,0h0m18,0h0m21,0h0m45,0h0m12,0h0m42,0h0m44,0h0m34,0h0m-85,1h0m105,0h0m-218,1h0m15,0h0m52,0h0m18,1h0m21,0h0m-128,1h0m15,0h0m-28,1h0m104,0h0m0,0h0m148,0h0m-221,1h0m127,1h0m79,0h0m-196,1h0m30,0h0m3,0h0m21,0h0m6,0h0m31,0h0m17,0h0m56,0h0m34,0h0m-201,1h0m15,0h0m24,0h0m23,0h0m-80,1h0m82,0h0m-10,1h0m28,0h0m50,0h0m27,0h0m-147,1h0m34,0h0m17,0h0m51,0h0m38,0h0m-152,1h0m18,0h0m81,0h0m4,0h0m22,0h0m61,0h0m-29,1h0m3,0h0m38,0h0m-75,1h0m64,0h0m-158,1h0m22,0h0m103,0h0m-154,1h0m6,0h0m1,0h0m42,0h0m71,0h0m60,0h0m-173,1h0m35,0h0m29,0h0m106,0h0m-96,1h0m-103,1h0m26,0h0m31,0h0m31,0h0m50,0h0m14,0h0m38,0h0m-163,1h0m84,0h0m58,0h0m1,0h0m8,0h0m-143,1h0m11,0h0m43,0h0m20,0h0m58,0h0m12,0h0m0,0h0m13,0h0m-137,1h0m55,0h0m70,0h0m-158,1h0m89,0h0m88,0h0m-169,1h0m123,0h0m29,0h0m-118,1h0m99,0h0m2,0h0m-152,1h0m13,0h0m21,0h0m39,0h0m1,0h0m6,0h0m3,0h0m4,0h0m54,1h0m29,0h0m0,0h0m-173,1h0m121,0h0m22,0h0m-135,1h0m26,0h0m17,0h0m46,0h0m21,0h0m59,0h0m-2,1h0m-145,1h0m78,0h0m22,0h0m9,0h0m48,0h0m-68,1h0m36,0h0m7,0h0m-72,1h0m54,0h0m-39,1h0m61,0h0m-103,1h0m41,0h0m9,0h0m56,0h0m8,0h0m-158,1h0m52,0h0m67,0h0m31,0h0m-98,1h0m42,0h0m59,0h0" stroke="#B7D43E" stroke-width="4.0" stroke-linecap="round" fill="none"/>
<path d="M315,66h0m71,0h0m-121,1h0m61,0h0m4,0h0m77,0h0m-86,1h0m22,0h0m41,0h0m1,0h0m-104,1h0m25,0h0m28,0h0m9,0h0m40,0h0m9,1h0m-80,1h0m97,0h0m-112,1h0m2,0h0m9,0h0m8,0h0m96,0h0m-101,1h0m25,0h0m82,0h0m-130,2h0m9,0h0m17,0h0m51,0h0m31,0h0m-140,1h0m5,0h0m32,1h0m58,0h0m-57,1h0m34,0h0m55,0h0m47,0h0m7,0h0m-166,1h0m167,0h0m-118,1h0m78,0h0m17,0h0m2,0h0m-52,1h0m55,0h0m10,0h0m-151,1h0m160,0h0m-166,1h0m13,0h0m93,0h0m-141,1h0m78,0h0m12,0h0m-96,1h0m87,0h0m14,0h0m71,0h0m53,0h0m-152,1h0m27,0h0m-90,1h0m52,0h0m60,1h0m54,0h0m-116,1h0m97,0h0m0,0h0m67,0h0m-184,1h0m41,0h0m39,0h0m100,0h0m-88,1h0m90,0h0m-227,1h0m9,0h0m106,0h0m12,0h0m15,0h0m17,0h0m3,0h0m-123,1h0m58,0h0m-76,1h0m149,0h0m29,0h0m-171,1h0m69,0h0m1,0h0m-65,1h0m17,0h0m26,0h0m29,0h0m90,0h0m33,0h0m-100,1h0m72,0h0m-68,1h0m-134,1h0m6,0h0m82,0h0m22,0h0m19,0h0m2,0h0m13,0h0m92,0h0m-156,1h0m3,0h0m167,0h0m-159,1h0m4,0h0m143,0h0m-209,1h0m18,0h0m6,0h0m33,0h0m15,0h0m46,0h0m24,0h0m-164,1h0m10,0h0m73,0h0m32,0h0m104,0h0m9,0h0m-228,1h0m60,0h0m10,0h0m0,0h0m62,0h0m20,0h0m-55,1h0m19,0h0m6,0h0m126,0h0m-255,1h0m30,0h0m8,0h0m24,0h0m42,0h0m51,0h0m13,0h0m31,0h0m13,0h0m44,0h0m-130,1h0m5,0h0m3,0h0m65,0h0m45,0h0m-265,1h0m91,0h0m20,0h0m45,0h0m35,0h0m51,0h0m1,0h0m7,0h0m5,0h0m22,0h0m-152,1h0m79,0h0m-161,1h0m17,0h0m180,0h0m-226,1h0m59,0h0m18,0h0m51,0h0m1,0h0m40,0h0m-185,1h0m41,0h0m36,0h0m0,0h0m129,0h0m-182,1h0m1,0h0m85,0h0m106,0h0m-127,1h0m145,0h0m-182,1h0m156,0h0m-206,1h0m-3,1h0m88,0h0m90,0h0m15,0h0m73,0h0m-185,1h0m98,0h0m26,0h0m-125,1h0m71,0h0m-126,1h0m29,0h0m102,0h0m58,0h0m16,0h0m37,0h0m3,0h0m-278,1h0m196,0h0m60,0h0m-241,1h0m25,0h0m238,0h0m13,0h0m-244,1h0m6,0h0m149,0h0m97,0h0m-227,1h0m189,0h0m-248,1h0m97,0h0m112,0h0m2,0h0m49,0h0m13,0h0m-271,1h0m45,0h0m17,0h0m27,0h0m33,0h0m109,0h0m43,0h0m-250,1h0m107,0h0m5,0h0m69,0h0m10,0h0m27,0h0m4,0h0m4,0h0m7,0h0m18,0h0m-210,1h0m50,0h0m76,0h0m5,0h0m-193,1h0m55,0h0m25,0h0m4,0h0m185,0h0m-273,1h0m94,0h0m59,0h0m109,0h0m-214,1h0m20,0h0m100,0h0m12,0h0m50,0h0m6,0h0m-65,1h0m69,0h0m50,0h0m-159,1h0m39,0h0m-116,1h0m142,0h0m3,0h0m23,0h0m17,0h0m7,0h0m13,0h0m39,0h0m-211,1h0m178,0h0m-272,1h0m106,0h0m127,0h0m24,0h0m44,0h0m-221,1h0m114,0h0m35,0h0m-215,1h0m4,0h0m135,0h0m9,0h0m79,0h0m39,0h0m-295,1h0m109,0h0m40,0h0m107,0h0m4,0h0m-269,1h0m2,0h0m92,0h0m78,0h0m1,0h0m99,0h0m-259,1h0m49,0h0m3,0h0m11,0h0m29,0h0m38,0h0m45,0h0m145,0h0m-278,1h0m27,0h0m74,0h0m17,0h0m73,0h0m11,0h0m20,0h0m-190,1h0m8,0h0m69,0h0m93,0h0m72,0h0m-221,1h0m95,0h0m33,0h0m-223,1h0m48,0h0m30,0h0m68,0h0m42,0h0m54,0h0m-254,1h0m150,0h0m129,0h0m-282,1h0m15,0h0m1,0h0m22,0h0m132,0h0m8,0h0m38,0h0m30,0h0m86,0h0m-296,1h0m44,0h0m60,0h0m23,0h0m49,0h0m94,0h0m16,0h0m2,0h0m-217,1h0m115,0h0m10,0h0m8,0h0m103,0h0m-339,1h0m251,0h0m-195,1h0m55,0h0m2,0h0m143,0h0m-105,1h0m24,0h0m37,0h0m-158,1h0m58,0h0m81,0h0m18,0h0m60,0h0m-244,1h0m19,0h0m192,0h0m25,0h0m6,0h0m-277,1h0m6,0h0m80,0h0m119,0h0m-123,1h0m12,0h0m18,0h0m23,0h0m2,0h0m4,0h0m16,0h0m50,0h0m-67,1h0m10,0h0m14,0h0m0,0h0m5,0h0m96,0h0m55,0h0m20,0h0m-297,1h0m229,0h0m35,0h0m34,0h0m-328,1h0m53,0h0m72,0h0m10,0h0m66,0h0m7,0h0m32,0h0m19,0h0m26,0h0m-271,1h0m1,0h0m28,0h0m7,0h0m102,0h0m155,0h0m-282,1h0m12,0h0m15,0h0m85,0h0m71,0h0m65,0h0m12,0h0m13,0h0m-295,1h0m50,0h0m24,0h0m36,0h0m14,0h0m97,0h0m33,0h0m-232,1h0m11,0h0m151,0h0m-185,1h0m28,0h0m100,0h0m8,0h0m43,0h0m47,0h0m-248,1h0m4,0h0m17,0h0m4,0h0m34,0h0m114,0h0m5,0h0m58,0h0m4,0h0m23,0h0m20,0h0m-247,1h0m28,0h0m61,0h0m29,0h0m17,0h0m146,0h0m1,0h0m-104,1h0m39,0h0m7,0h0m47,0h0m36,0h0m-313,1h0m26,0h0m195,0h0m-199,1h0m77,0h0m5,0h0m50,0h0m66,0h0m-237,1h0m60,0h0m103,0h0m73,0h0m-218,1h0m14,0h0m38,0h0m9,1h0m1,0h0m2,0h0m6,0h0m76,0h0m-159,1h0m124,0h0m17,0h0m-151,1h0m201,0h0m32,0h0m94,0h0m-253,1h0m1,0h0m141,0h0m77,0h0m14,0h0m-273,1h0m17,0h0m83,0h0m19,0h0m25,0h0m17,0h0m0,0h0m63,0h0m39,0h0m44,0h0m2,0h0m-260,1h0m23,0h0m22,0h0m56,0h0m40,0h0m35,0h0m14,0h0m19,0h0m-238,1h0m117,0h0m-186,1h0m42,0h0m130,0h0m36,0h0m49,0h0m43,0h0m69,0h0m-369,1h0m166,0h0m65,0h0m36,0h0m2,0h0m-191,1h0m25,0h0m21,0h0m55,0h0m84,0h0m88,0h0m-288,1h0m54,0h0m7,0h0m23,0h0m4,0h0m15,0h0m160,0h0m-325,1h0m15,0h0m35,0h0m31,0h0m9,0h0m68,0h0m45,0h0m158,0h0m-347,1h0m102,0h0m8,0h0m33,0h0m11,0h0m12,0h0m38,0h0m45,0h0m0,0h0m7,0h0m50,0h0m51,0h0m-324,1h0m4,0h0m3,0h0m40,0h0m61,0h0m17,0h0m131,0h0m75,0h0m-337,1h0m40,0h0m31,0h0m38,0h0m43,0h0m24,0h0m12,0h0m103,0h0m2,0h0m17,0h0m-231,1h0m26,0h0m124,0h0m16,0h0m57,0h0m34,0h0m-291,1h0m8,0h0m145,0h0m22,0h0m-185,1h0m30,0h0m159,0h0m6,1h0m-185,1h0m70,0h0m72,0h0m38,0h0m31,0h0m79,0h0m-324,1h0m21,0h0m5,0h0m16,0h0m38,0h0m70,0h0m76,0h0m51,0h0m4,0h0m-262,1h0m4,0h0m99,0h0m59,0h0m33,0h0m-177,1h0m24,0h0m54,0h0m69,0h0m117,0h0m7,0h0m17,0h0m5,0h0m-385,1h0m32,0h0m259,0h0m67,0h0m-348,1h0m125,0h0m28,0h0m77,0h0m-204,1h0m7,0h0m13,0h0m27,0h0m72,0h0m40,0h0m15,0h0m16,0h0m28,0h0m5,0h0m15,0h0m33,0h0m-289,1h0m4,0h0m32,0h0m23,0h0m16,0h0m62,0h0m9,0h0m23,0h0m105,0h0m-268,1h0m177,0h0m9,0h0m76,0h0m37,0h0m25,0h0m-276,1h0m1,0h0m22,0h0m7,0h0m225,0h0m21,0h0m-313,1h0m10,0h0m162,0h0m72,0h0m107,0h0m-270,1h0m4,0h0m249,0h0m-301,1h0m83,0h0m153,0h0m10,0h0m25,0h0m30,0h0m4,0h0m-368,1h0m15,0h0m13,0h0m0,0h0m349,0h0m-343,1h0m1,0h0m37,0h0m16,0h0m32,0h0m12,0h0m43,0h0m6,0h0m23,0h0m42,0h0m1,0h0m20,0h0m-274,1h0m3,0h0m62,0h0m199,0h0m-226,1h0m31,0h0m11,0h0m62,0h0m45,0h0m-174,1h0m2,0h0m10,0h0m78,0h0m68,0h0m25,0h0m9,0h0m109,0h0m37,0h0m5,0h0m-307,1h0m55,0h0m153,0h0m14,0h0m51,0h0m60,0h0m-380,1h0m32,0h0m46,0h0m5,0h0m39,0h0m1,0h0m0,0h0m28,0h0m35,0h0m1,0h0m157,0h0m11,0h0m30,0h0m-368,1h0m71,0h0m174,0h0m80,0h0m-266,1h0m20,0h0m128,0h0m39,0h0m47,0h0m28,0h0m-347,1h0m2,0h0m2,0h0m151,0h0m169,0h0m60,0h0m2,0h0m-297,1h0m13,0h0m9,0h0m104,0h0m51,0h0m82,0h0m17,0h0m-365,1h0m145,0h0m-73,1h0m54,0h0m9,0h0m1,0h0m13,0h0m-143,1h0m34,0h0m8,0h0m94,0h0m17,0h0m39,0h0m80,0h0m18,0h0m62,0h0m-214,1h0m8,0h0m1,0h0m33,0h0m21,0h0m31,0h0m54,0h0m19,0h0m-278,1h0m6,0h0m46,0h0m3,0h0m73,0h0m64,0h0m4,0h0m3,0h0m19,0h0m116,0h0m-372,1h0m23,0h0m-15,1h0m34,0h0m94,0h0m11,0h0m80,0h0m73,0h0m99,0h0m-262,1h0m39,0h0m46,0h0m62,0h0m22,0h0m0,0h0m38,0h0m29,0h0m30,0h0m-338,1h0m30,0h0m15,0h0m50,0h0m33,0h0m21,0h0m120,0h0m-287,1h0m17,0h0m29,0h0m40,0h0m2,0h0m89,0h0m44,0h0m78,0h0m-211,1h0m-115,1h0m21,0h0m22,0h0m31,0h0m16,0h0m2,0h0m2,0h0m13,0h0m113,0h0m126,0h0m-339,1h0m11,0h0m65,0h0m144,0h0m15,0h0m7,0h0m27,0h0m19,0h0m68,0h0m-369,1h0m114,0h0m59,0h0m-182,1h0m57,0h0m110,0h0m11,0h0m3,0h0m116,0h0m60,0h0m25,0h0m-283,1h0m39,0h0m54,0h0m25,0h0m22,0h0m1,0h0m18,0h0m29,0h0m14,0h0m24,0h0m64,0h0m4,0h0m-345,1h0m48,0h0m5,0h0m13,0h0m28,0h0m27,0h0m65,0h0m14,0h0m6,0h0m9,0h0m59,0h0m77,0h0m-374,1h0m44,0h0m6,0h0m1,0h0m44,0h0m91,0h0m17,0h0m35,0h0m79,0h0m-346,1h0m37,0h0m10,0h0m20,0h0m48,0h0m134,0h0m-143,1h0m110,0h0m116,0h0m5,0h0m-321,1h0m50,0h0m61,0h0m11,0h0m4,0h0m5,0h0m117,0h0m10,0h0m44,0h0m47,0h0m3,0h0m-370,1h0m17,0h0m224,0h0m11,0h0m16,0h0m37,0h0m13,0h0m17,0h0m5,0h0m30,0h0m-267,1h0m159,0h0m108,0h0m-358,1h0m60,0h0m152,0h0m11,0h0m10,0h0m9,0h0m6,0h0m2,0h0m-259,1h0m32,0h0m27,0h0m8,0h0m77,0h0m6,0h0m183,0h0m-333,1h0m9,0h0m51,0h0m146,0h0m45,0h0m9,0h0m15,0h0m14,0h0m19,0h0m-300,1h0m4,0h0m135,0h0m71,0h0m34,0h0m74,0h0m-306,1h0m31,0h0m55,0h0m63,0h0m64,0h0m47,0h0m62,0h0m-232,1h0m93,0h0m15,0h0m75,0h0m-80,1h0m40,0h0m25,0h0m63,0h0m2,0h0m-344,1h0m81,0h0m70,0h0m44,0h0m31,0h0m4,0h0m5,0h0m32,0h0m58,0h0m21,0h0m12,0h0m31,0h0m-189,1h0m2,0h0m5,0h0m64,0h0m131,0h0m-267,1h0m70,0h0m28,0h0m1,0h0m14,0h0m27,0h0m52,0h0m-286,1h0m2,0h0m23,0h0m1,0h0m42,0h0m69,0h0m11,0h0m35,0h0m132,0h0m35,0h0m-337,1h0m124,0h0m18,0h0m90,0h0m3,0h0m25,0h0m91,0h0m3,0h0m-324,1h0m35,0h0m81,0h0m0,0h0m37,0h0m58,0h0m2,0h0m23,0h0m35,0h0m-348,1h0m8,0h0m37,0h0m13,0h0m73,0h0m33,0h0m66,0h0m1,0h0m24,0h0m53,0h0m3,0h0m34,0h0m34,0h0m25,0h0m-288,1h0m35,0h0m10,0h0m70,0h0m18,0h0m33,0h0m80,0h0m20,0h0m3,0h0m5,0h0m3,0h0m-333,1h0m32,0h0m2,0h0m34,0h0m74,0h0m22,0h0m29,0h0m67,0h0m6,0h0m44,0h0m9,0h0m13,0h0m-369,1h0m83,0h0m14,0h0m11,0h0m51,0h0m9,0h0m3,0h0m9,0h0m41,0h0m61,0h0m-265,1h0m43,0h0m30,0h0m9,0h0m23,0h0m261,0h0m-400,1h0m50,0h0m24,0h0m31,0h0m120,0h0m17,0h0m-183,1h0m45,0h0m49,0h0m41,0h0m20,0h0m154,0h0m23,0h0m-390,1h0m4,0h0m37,0h0m153,0h0m64,0h0m81,0h0m-354,1h0m72,0h0m86,0h0m28,0h0m41,0h0m2,0h0m11,0h0m50,0h0m9,0h0m-289,1h0m183,0h0m14,0h0m6,0h0m44,0h0m78,0h0m13,0h0m-249,1h0m123,0h0m39,0h0m56,0h0m33,0h0m49,0h0m-351,1h0m3,0h0m7,0h0m32,0h0m202,0h0m118,0h0m-297,1h0m99,0h0m68,0h0m68,0h0m12,0h0m35,0h0m-375,1h0m14,0h0m16,0h0m16,0h0m77,0h0m47,0h0m12,0h0m31,0h0m51,0h0m72,0h0m-359,1h0m3,0h0m54,0h0m19,0h0m83,0h0m22,0h0m46,0h0m2,0h0m19,0h0m42,0h0m36,0h0m52,0h0m6,0h0m-373,1h0m37,0h0m57,0h0m105,0h0m116,0h0m0,0h0m26,0h0m44,0h0m-378,1h0m23,0h0m70,0h0m174,0h0m41,0h0m40,0h0m45,0h0m-384,1h0m38,0h0m2,0h0m198,0h0m16,0h0m66,0h0m7,0h0m1,0h0m34,0h0m-388,1h0m136,0h0m113,0h0m117,0h0m32,0h0m3,0h0m-336,1h0m23,0h0m72,0h0m35,0h0m20,0h0m53,0h0m44,0h0m80,0h0m4,0h0m-82,1h0m62,0h0m10,0h0m26,0h0m-381,1h0m43,0h0m21,0h0m38,0h0m93,0h0m80,0h0m17,0h0m8,0h0m64,0h0m-84,1h0m18,0h0m7,0h0m38,0h0m-350,1h0m27,0h0m54,0h0m16,0h0m83,0h0m52,0h0m17,0h0m69,0h0m20,0h0m47,0h0m-342,1h0m28,0h0m25,0h0m149,0h0m-243,1h0m56,0h0m178,0h0m8,0h0m73,0h0m20,0h0m44,0h0m-287,1h0m72,0h0m34,0h0m93,0h0m37,0h0m4,0h0m35,0h0m1,0h0m7,0h0m-363,1h0m343,0h0m-308,1h0m30,0h0m19,0h0m18,0h0m98,0h0m67,0h0m-180,1h0m152,0h0m2,0h0m69,0h0m-346,1h0m10,0h0m43,0h0m249,0h0m36,0h0m5,0h0m11,0h0m26,0h0m-387,1h0m4,0h0m94,0h0m290,0h0m-175,1h0m55,0h0m126,0h0m-380,1h0m4,0h0m228,0h0m-184,1h0m11,0h0m17,0h0m208,0h0m106,0h0m-399,1h0m16,0h0m18,0h0m211,0h0m36,0h0m-220,1h0m20,0h0m33,0h0m-98,1h0m64,0h0m48,0h0m95,0h0m154,0h0m6,0h0m-351,1h0m30,0h0m28,0h0m-61,1h0m32,0h0m259,0h0m61,0h0m-329,1h0m79,0h0m79,0h0m171,0h0m-170,1h0m58,0h0m109,0h0m12,0h0m21,0h0m-413,1h0m66,0h0m151,0h0m125,0h0m28,0h0m-301,1h0m230,0h0m5,0h0m49,0h0m-341,1h0m22,0h0m14,0h0m24,0h0m51,0h0m83,0h0m45,0h0m57,0h0m28,0h0m17,0h0m62,0h0m-406,2h0m376,0h0m-266,1h0m22,0h0m67,0h0m16,0h0m121,0h0m26,0h0m14,0h0m21,0h0m-274,1h0m134,0h0m48,0h0m27,0h0m-325,1h0m2,0h0m28,0h0m4,0h0m85,0h0m65,0h0m47,0h0m73,0h0m-240,1h0m138,0h0m115,0h0m30,0h0m55,0h0m-380,1h0m29,0h0m25,0h0m29,0h0m243,0h0m-298,1h0m16,0h0m120,0h0m206,0h0m-377,1h0m9,0h0m38,0h0m0,0h0m71,0h0m225,0h0m-348,1h0m15,0h0m12,0h0m2,0h0m24,0h0m30,0h0m210,0h0m-244,1h0m36,0h0m90,0h0m148,0h0m37,0h0m-384,1h0m38,0h0m28,0h0m33,0h0m78,0h0m125,0h0m91,0h0m1,0h0m-359,1h0m26,0h0m2,0h0m18,0h0m119,0h0m54,0h0m-234,1h0m29,0h0m92,0h0m38,0h0m40,0h0m6,0h0m76,0h0m-265,1h0m91,0h0m88,0h0m118,0h0m60,0h0m-374,1h0m189,0h0m6,0h0m-26,1h0m116,0h0m2,0h0m11,0h0m-291,1h0m42,0h0m223,0h0m22,0h0m68,0h0m-387,1h0m110,0h0m127,0h0m-216,1h0m20,0h0m20,0h0m72,0h0m72,0h0m82,0h0m78,0h0m-242,1h0m-46,1h0m5,0h0m71,0h0m61,0h0m16,0h0m5,0h0m2,0h0m-227,1h0m80,0h0m115,0h0m80,0h0m55,0h0m67,0h0m-268,1h0m175,0h0m38,0h0m-23,1h0m-326,1h0m0,0h0m251,0h0m-250,1h0m23,0h0m157,0h0m60,0h0m17,0h0m42,0h0m20,0h0m22,0h0m4,0h0m1,0h0m15,0h0m5,0h0m-362,1h0m41,0h0m134,0h0m96,0h0m3,0h0m64,0h0m28,0h0m-346,1h0m7,0h0m158,0h0m57,0h0m3,0h0m78,0h0m46,0h0m30,0h0m-404,1h0m88,0h0m18,0h0m19,0h0m42,0h0m10,0h0m-110,1h0m61,0h0m38,0h0m55,0h0m30,0h0m41,0h0m-277,1h0m32,0h0m33,0h0m26,0h0m19,0h0m39,0h0m26,0h0m188,0h0m-222,1h0m168,0h0m81,0h0m-301,1h0m44,0h0m237,0h0m-346,1h0m11,0h0m3,0h0m6,0h0m56,0h0m4,0h0m72,0h0m215,0h0m-301,1h0m43,0h0m49,0h0m39,0h0m80,0h0m32,0h0m33,0h0m17,0h0m-346,1h0m24,0h0m34,0h0m120,0h0m18,0h0m1,0h0m48,0h0m11,0h0m41,0h0m24,0h0m7,0h0m14,0h0m-335,1h0m32,0h0m170,0h0m42,0h0m88,0h0m-390,1h0m178,0h0m136,0h0m18,0h0m76,0h0m-404,1h0m4,0h0m10,0h0m63,0h0m1,0h0m14,0h0m48,0h0m34,0h0m81,0h0m33,0h0m121,0h0m-365,1h0m89,0h0m59,0h0m50,0h0m120,0h0m10,0h0m-368,1h0m24,0h0m61,0h0m10,0h0m21,0h0m166,0h0m52,0h0m22,0h0m19,0h0m-384,1h0m34,0h0m89,0h0m84,0h0m7,0h0m26,0h0m43,0h0m25,0h0m-287,1h0m86,0h0m15,0h0m17,0h0m162,0h0m11,0h0m-309,1h0m43,0h0m40,0h0m66,0h0m56,0h0m54,0h0m59,0h0m80,0h0m8,0h0m-397,1h0m38,0h0m52,0h0m83,0h0m74,0h0m3,0h0m19,0h0m117,0h0m-349,1h0m47,0h0m2,0h0m34,0h0m137,0h0m12,0h0m15,0h0m22,0h0m12,0h0m10,0h0m1,0h0m28,0h0m27,0h0m-332,1h0m61,0h0m22,0h0m43,0h0m79,0h0m17,0h0m70,0h0m-348,1h0m7,0h0m61,0h0m36,0h0m0,1h0m69,0h0m68,0h0m2,0h0m7,0h0m12,0h0m2,0h0m12,0h0m68,0h0m-298,1h0m24,0h0m71,0h0m203,0h0m4,0h0m50,0h0m-385,1h0m9,0h0m41,0h0m45,0h0m98,0h0m-127,1h0m42,0h0m26,0h0m35,0h0m66,0h0m137,0h0m5,0h0m-347,1h0m23,0h0m41,0h0m31,0h0m46,0h0m13,0h0m25,0h0m26,0h0m1,0h0m22,0h0m21,0h0m-289,1h0m42,0h0m32,0h0m34,0h0m27,0h0m78,0h0m9,0h0m43,0h0m85,0h0m-295,1h0m144,0h0m153,0h0m-339,1h0m61,0h0m76,0h0m54,0h0m110,0h0m10,0h0m26,0h0m-303,1h0m0,0h0m91,0h0m24,0h0m2,0h0m-124,1h0m52,0h0m44,0h0m84,0h0m18,0h0m21,0h0m44,0h0m55,0h0m-344,1h0m69,0h0m8,0h0m98,0h0m17,0h0m165,1h0m15,0h0m-303,1h0m7,0h0m260,0h0m10,0h0m26,0h0m-364,1h0m87,0h0m90,0h0m36,0h0m102,0h0m-296,1h0m28,0h0m221,0h0m43,0h0m-280,1h0m128,0h0m6,0h0m196,0h0m-334,1h0m146,0h0m107,0h0m43,0h0m57,0h0m-283,1h0m0,0h0m69,0h0m16,0h0m76,0h0m1,0h0m-107,1h0m37,0h0m28,0h0m8,0h0m3,0h0m20,0h0m65,0h0m31,0h0m-256,1h0m109,0h0m24,0h0m48,0h0m20,0h0m-288,1h0m103,0h0m4,0h0m7,0h0m20,0h0m77,0h0m30,0h0m56,0h0m18,0h0m-298,1h0m14,0h0m208,0h0m24,0h0m62,0h0m52,0h0m-318,1h0m114,0h0m89,0h0m19,0h0m20,0h0m58,0h0m-378,1h0m77,0h0m32,0h0m46,0h0m34,0h0m9,0h0m68,0h0m14,0h0m3,0h0m42,0h0m67,0h0m-337,1h0m30,0h0m28,0h0m26,0h0m12,0h0m44,0h0m79,0h0m14,0h0m80,0h0m-343,1h0m18,0h0m73,0h0m13,0h0m72,0h0m38,0h0m17,0h0m11,0h0m85,0h0m-261,1h0m154,0h0m133,0h0m-378,1h0m7,0h0m24,0h0m197,0h0m50,0h0m48,0h0m-315,1h0m37,0h0m32,0h0m137,0h0m15,0h0m-230,1h0m6,0h0m240,0h0m11,0h0m88,0h0m14,0h0m5,0h0m7,0h0m5,0h0m-358,1h0m23,0h0m98,0h0m77,0h0m44,0h0m104,0h0m-313,1h0m33,0h0m21,0h0m37,0h0m42,0h0m13,0h0m8,0h0m24,0h0m32,0h0m-260,1h0m54,0h0m10,0h0m41,0h0m87,0h0m6,0h0m3,0h0m9,0h0m15,0h0m52,0h0m30,0h0m16,0h0m36,0h0m-357,1h0m31,0h0m37,0h0m88,0h0m92,0h0m10,0h0m86,0h0m14,0h0m-367,1h0m39,0h0m177,0h0m2,0h0m20,0h0m87,0h0m46,0h0m6,0h0m6,0h0m-363,1h0m24,0h0m9,0h0m34,0h0m84,0h0m100,0h0m10,0h0m7,0h0m56,0h0m27,0h0m-362,1h0m4,0h0m79,0h0m74,0h0m77,0h0m136,0h0m-282,1h0m41,0h0m58,0h0m17,0h0m116,0h0m61,0h0m-376,1h0m25,0h0m35,0h0m64,0h0m7,0h0m162,0h0m12,0h0m-136,1h0m74,0h0m35,0h0m94,0h0m-342,1h0m53,0h0m98,0h0m125,0h0m-81,1h0m39,0h0m107,0h0m-252,1h0m98,0h0m70,0h0m83,0h0m-315,1h0m30,0h0m78,0h0m22,0h0m-150,1h0m46,0h0m144,0h0m27,0h0m73,0h0m-296,1h0m60,0h0m58,0h0m50,0h0m32,0h0m18,0h0m119,0h0m-376,1h0m15,0h0m42,0h0m3,0h0m35,0h0m17,0h0m93,0h0m-99,1h0m75,0h0m55,0h0m46,0h0m76,0h0m-301,1h0m156,0h0m98,0h0m-301,1h0m43,0h0m53,0h0m152,0h0m-133,1h0m14,0h0m49,0h0m92,0h0m7,0h0m97,0h0m-333,1h0m26,0h0m-42,1h0m144,0h0m31,0h0m119,0h0m15,0h0m-300,1h0m4,0h0m20,0h0m135,0h0m10,0h0m38,0h0m-210,1h0m60,0h0m17,0h0m111,0h0m19,0h0m78,0h0m45,0h0m-338,1h0m33,0h0m103,0h0m10,0h0m7,0h0m42,0h0m7,0h0m59,0h0m19,0h0m20,0h0m-328,1h0m11,0h0m6,0h0m125,0h0m-108,1h0m7,0h0m2,0h0m43,0h0m62,0h0m63,0h0m22,0h0m21,0h0m34,0h0m89,0h0m-351,1h0m21,0h0m75,0h0m59,0h0m12,0h0m33,0h0m-219,1h0m79,0h0m153,0h0m26,0h0m-260,1h0m27,0h0m31,0h0m46,0h0m66,0h0m14,0h0m3,0h0m54,0h0m2,0h0m-244,1h0m21,0h0m141,0h0m85,0h0m74,0h0m-289,1h0m300,0h0m-271,1h0m129,0h0m-113,1h0m44,0h0m48,0h0m12,0h0m10,0h0m-82,1h0m111,0h0m53,0h0m-119,1h0m3,0h0m72,0h0m9,0h0m-104,1h0m67,0h0m93,0h0m14,0h0m1,0h0m2,0h0m35,0h0m-304,1h0m32,0h0m28,0h0m12,0h0m29,0h0m190,0h0m24,0h0m11,0h0m-344,1h0m37,0h0m107,0h0m53,0h0m37,0h0m-213,1h0m124,0h0m36,0h0m57,0h0m-164,1h0m109,0h0m-193,1h0m2,0h0m126,0h0m77,0h0m54,0h0m-255,1h0m20,0h0m11,0h0m98,0h0m118,0h0m87,0h0m-332,1h0m63,0h0m53,0h0m68,0h0m50,0h0m80,0h0m-79,1h0m23,0h0m9,0h0m36,0h0m25,0h0m-75,1h0m26,0h0m-281,1h0m34,0h0m30,0h0m7,0h0m6,0h0m45,0h0m6,0h0m86,0h0m56,0h0m-281,1h0m116,0h0m58,0h0m46,0h0m9,0h0m4,0h0m-227,1h0m14,0h0m212,0h0m6,0h0m100,0h0m-306,1h0m19,0h0m6,0h0m93,0h0m9,0h0m18,0h0m50,0h0m-205,1h0m23,0h0m33,0h0m3,0h0m114,0h0m137,0h0m-311,1h0m10,0h0m25,0h0m162,0h0m20,0h0m67,0h0m-225,1h0m1,0h0m3,0h0m72,0h0m53,0h0m39,0h0m-208,1h0m22,0h0m69,0h0m34,0h0m61,0h0m24,0h0m35,0h0m-248,1h0m11,0h0m60,0h0m52,0h0m76,0h0m36,0h0m26,0h0m-196,1h0m2,0h0m149,0h0m-236,1h0m138,0h0m4,0h0m18,0h0m46,0h0m52,0h0m-248,1h0m17,0h0m97,0h0m84,0h0m9,0h0m-218,1h0m67,0h0m43,0h0m86,0h0m33,0h0m23,0h0m20,0h0m-173,1h0m29,0h0m10,0h0m79,0h0m34,0h0m80,0h0m-317,1h0m66,0h0m30,0h0m18,0h0m18,0h0m16,0h0m35,0h0m125,0h0m-292,1h0m73,0h0m99,0h0m88,0h0m12,0h0m15,0h0m-261,1h0m2,0h0m4,0h0m40,0h0m33,0h0m25,0h0m126,0h0m3,0h0m0,0h0m-239,1h0m45,0h0m44,0h0m8,0h0m19,0h0m28,0h0m56,0h0m25,0h0m-158,1h0m59,0h0m87,0h0m-55,1h0m-86,1h0m97,0h0m1,0h0m80,0h0m-223,1h0m87,0h0m2,0h0m6,0h0m6,0h0m109,0h0m-255,1h0m69,0h0m146,0h0m4,0h0m13,0h0m-209,1h0m116,0h0m25,0h0m28,0h0m49,0h0m6,0h0m-16,1h0m-246,1h0m218,0h0m-230,1h0m27,0h0m59,0h0m4,0h0m14,0h0m0,0h0m10,0h0m14,0h0m84,0h0m17,0h0m59,0h0m-151,1h0m46,0h0m36,0h0m-220,1h0m111,0h0m19,0h0m97,0h0m-166,1h0m50,0h0m55,0h0m6,0h0m12,0h0m-130,1h0m61,0h0m16,0h0m54,0h0m65,0h0m26,0h0m-267,1h0m37,0h0m30,0h0m118,0h0m76,0h0m-230,1h0m57,0h0m122,0h0m12,0h0m17,0h0m-236,1h0m12,0h0m39,0h0m65,0h0m32,0h0m148,0h0m6,0h0m-244,1h0m114,0h0m69,0h0m14,0h0m3,0h0m-194,1h0m38,0h0m19,0h0m104,0h0m3,0h0m-69,1h0m55,0h0m6,0h0m-162,1h0m130,0h0m14,0h0m-120,1h0m67,0h0m86,0h0m-232,1h0m93,0h0m69,0h0m50,0h0m41,0h0m-204,1h0m140,0h0m78,0h0m-274,1h0m6,0h0m26,0h0m150,0h0m32,0h0m10,0h0m26,0h0m26,0h0m3,0h0m17,0h0m-277,1h0m61,0h0m18,0h0m32,0h0m55,0h0m85,0h0m-263,1h0m26,0h0m8,0h0m124,0h0m89,0h0m-207,1h0m25,1h0m26,0h0m1,0h0m38,0h0m57,0h0m19,0h0m-202,1h0m185,0h0m-169,1h0m68,0h0m35,0h0m94,0h0m-157,1h0m23,0h0m74,0h0m-6,1h0m80,0h0m17,0h0m-77,1h0m6,0h0m46,0h0m-198,1h0m43,0h0m157,0h0m-196,1h0m145,0h0m-104,1h0m60,0h0m47,0h0m1,0h0m1,0h0m66,0h0m32,0h0m-254,1h0m103,0h0m47,0h0m26,0h0m65,0h0m2,0h0m-212,1h0m2,0h0m17,0h0m17,0h0m13,0h0m11,0h0m11,0h0m55,0h0m-131,1h0m46,0h0m38,0h0m74,0h0m-188,1h0m5,0h0m20,0h0m46,0h0m58,0h0m67,0h0m-170,1h0m10,0h0m59,0h0m22,0h0m20,0h0m-132,1h0m33,0h0m55,0h0m10,0h0m78,0h0m-162,1h0m51,0h0m65,0h0m38,0h0m17,0h0m5,0h0m11,0h0m46,0h0m-132,1h0m38,0h0m89,0h0m-137,1h0m11,0h0m15,0h0m35,0h0m72,0h0m2,0h0m-153,2h0m35,0h0m37,0h0m32,0h0m-178,1h0m26,0h0m41,0h0m33,0h0m24,0h0m-60,1h0m40,0h0m-109,1h0m20,0h0m41,0h0m91,0h0m36,0h0m12,0h0m29,0h0m-236,1h0m188,0h0m21,0h0m-147,1h0m11,0h0m1,0h0m112,0h0m7,0h0m-48,1h0m56,1h0m-183,1h0m29,0h0m33,0h0m30,0h0m29,0h0m62,0h0m14,0h0m-193,1h0m115,0h0m46,0h0m26,0h0m15,0h0m-217,1h0m52,0h0m43,0h0m6,0h0m41,0h0m10,0h0m64,0h0m-76,1h0m69,0h0m-86,1h0m94,0h0m-208,1h0m27,0h0m29,0h0m1,0h0m56,0h0m-92,1h0m25,0h0m71,0h0m64,0h0m-169,1h0m16,0h0m73,0h0m-66,1h0m145,0h0m-12,1h0m29,0h0m-169,1h0m92,0h0m31,0h0m23,0h0m-135,1h0m28,0h0m83,0h0m-131,1h0m6,0h0m8,2h0m45,0h0m12,0h0m-74,1h0m99,0h0m-99,1h0m43,0h0m5,0h0m46,0h0m67,0h0m-123,1h0m10,0h0m25,0h0m56,0h0m5,0h0m-123,1h0m110,0h0m10,0h0m9,0h0m-80,1h0m35,0h0m3,0h0m10,0h0m-41,1h0m57,0h0m14,0h0m4,0h0" stroke="#A4CD52" stroke-width="4.0" stroke-linecap="round" fill="none"/>
<path d="M270,109h0m5,48h0m156,91h0m-185,42h0m225,45h0m-327,40h0m253,26h0m-186,48h0m170,65h0" stroke="#24358C" stroke-width="2.88" stroke-linecap="round" fill="none"/>
<path d="M244,107h0m207,3h0m-203,27h0m166,19h0m-69,6h0m-67,27h0m-89,13h0m211,4h0m-256,14h0m43,1h0m290,39h0m-333,6h0m168,14h0m-32,19h0m135,69h0m-86,9h0m101,12h0m-171,10h0m39,18h0m26,60h0m92,3h0m-57,14h0" stroke="#ED1C24" stroke-width="2.88" stroke-linecap="round" fill="none"/>
<path d="M415,102h0m17,34h0m-234,71h0m119,2h0m-174,64h0m345,8h0m-163,14h0m197,37h0m11,0h0m-296,58h0m294,11h0m-239,55h0m-16,56h0" stroke="#ED1C24" stroke-width="2.88" stroke-linecap="round" fill="none"/>
<path d="M305,104h0m122,67h0m-199,13h0m8,16h0m294,3h0m-152,17h0m162,15h0m-238,38h0m35,0h0m-37,4h0m-12,2h0m19,8h0m-9,6h0m-11,1h0m22,0h0m-11,2h0m0,4h0m3,8h0m227,1h0m-384,37h0m186,23h0m186,5h0m-111,71h0m34,46h0m-76,1h0m-96,6h0" stroke="#ED1C24" stroke-width="2.88" stroke-linecap="round" fill="none"/>
<path d="M283,100h0m163,6h0m-64,26h0m-186,4h0m209,45h0m125,7h0m10,35h0m-345,10h0m63,0h0m-96,7h0m384,19h0m-160,18h0m-2,2h0m147,47h0m-173,19h0m-193,21h0m76,25h0m-65,46h0m240,10h0m-180,20h0m106,30h0" stroke="#3558A7" stroke-width="2.88" stroke-linecap="round" fill="none"/>
<path d="M262,69h0m231,61h0m-296,8h0m91,3h0m102,42h0m-157,67h0m39,7h0m124,13h0m-26,4h0m4,0h0m9,2h0m-121,7h0m132,1h0m8,3h0m-17,2h0m13,3h0m0,4h0m8,0h0m-29,3h0m18,1h0m1,1h0m7,0h0m-77,22h0m61,1h0m88,16h0m-227,7h0m75,29h0m-46,19h0m-36,1h0m119,62h0m-150,5h0m235,14h0m-17,17h0" stroke="#3F8ECC" stroke-width="2.88" stroke-linecap="round" fill="none"/></g>
<g filter="url(#sb)"><path d="M807,107h0m-13,1h0m92,20h0m-31,33h0m115,14h0m58,36h0m-161,8h0m-64,49h0m-7,7h0m-12,14h0m10,6h0m-1,7h0m7,12h0m-47,1h0m76,29h0m35,127h0" stroke="#F37021" stroke-width="3.8" stroke-linecap="round" fill="none" opacity="0.72"/>
<path d="M914,256h0m-42,11h0m-165,1h0m187,21h0m-7,7h0m4,0h0m26,0h0m-20,2h0m-1,4h0m-110,2h0m97,8h0m-221,2h0m207,3h0m-53,42h0" stroke="#3F8ECC" stroke-width="3.8" stroke-linecap="round" fill="none" opacity="0.72"/>
<path d="M821,263h0m-37,5h0m-4,7h0m10,9h0m31,6h0m-29,3h0m18,0h0m-5,13h0m-17,10h0m36,0h0m-32,5h0m-4,6h0m9,5h0m199,49h0m-163,51h0m-72,9h0" stroke="#F9A51C" stroke-width="3.8" stroke-linecap="round" fill="none" opacity="0.72"/>
<path d="M749,92h0m53,2h0m-30,7h0m-46,7h0m208,15h0m-140,15h0m75,7h0m66,0h0m-251,2h0m208,0h0m30,0h0m9,0h0m-25,6h0m-2,1h0m28,1h0m-214,7h0m101,0h0m-128,7h0m261,1h0m-66,1h0m-195,2h0m-35,3h0m329,0h0m-91,8h0m13,0h0m124,1h0m5,4h0m-181,4h0m-82,6h0m83,3h0m2,0h0m-175,1h0m346,4h0m-82,1h0m-12,5h0m29,3h0m-268,2h0m33,3h0m-30,1h0m18,1h0m95,0h0m-26,3h0m-90,2h0m267,3h0m-213,3h0m244,6h0m-300,4h0m225,1h0m-82,2h0m-24,4h0m221,1h0m-60,2h0m-228,2h0m253,4h0m-42,3h0m-125,1h0m-189,3h0m15,1h0m142,1h0m232,0h0m-244,3h0m176,4h0m-193,3h0m167,0h0m-203,4h0m-39,1h0m-1,4h0m104,1h0m34,5h0m-94,2h0m279,3h0m-204,1h0m141,0h0m-315,1h0m172,8h0m-129,2h0m71,2h0m209,0h0m33,2h0m-321,2h0m121,0h0m143,0h0m95,1h0m-282,11h0m-103,2h0m30,8h0m243,1h0m-28,6h0m-106,10h0m31,2h0m63,5h0m-222,2h0m9,3h0m106,1h0m114,1h0m71,9h0m-277,2h0m201,2h0m32,0h0m82,0h0m-43,5h0m-170,1h0m167,2h0m62,0h0m-219,3h0m0,1h0m-11,2h0m-67,4h0m154,0h0m-144,1h0m90,1h0m-10,2h0m61,0h0m-148,3h0m69,0h0m214,3h0m-320,1h0m211,1h0m37,2h0m-61,3h0m118,0h0m-141,1h0m-157,2h0m182,0h0m96,0h0m-156,4h0m193,4h0m-62,6h0m2,10h0m-229,3h0m-4,1h0m3,4h0m71,2h0m11,9h0m160,6h0m-35,1h0m-214,4h0m123,2h0m80,3h0m37,2h0m22,0h0m-151,9h0m44,0h0m-10,8h0m-98,1h0m161,0h0" stroke="#F6DD1B" stroke-width="3.8" stroke-linecap="round" fill="none" opacity="0.72"/>
<path d="M890,73h0m-133,2h0m24,25h0m122,4h0m33,0h0m-198,4h0m114,3h0m71,5h0m-90,1h0m48,0h0m2,6h0m-177,2h0m35,3h0m225,0h0m-162,8h0m-72,5h0m132,6h0m4,0h0m-13,10h0m-130,3h0m12,2h0m167,18h0m-48,1h0m127,1h0m-264,4h0m5,4h0m-66,2h0m338,5h0m-203,2h0m-77,1h0m89,3h0m223,2h0m-316,8h0m3,1h0m264,0h0m-335,2h0m5,0h0m21,5h0m326,6h0m-274,5h0m227,3h0m-94,7h0m2,4h0m61,2h0m20,1h0m-24,2h0m13,2h0m-274,2h0m-4,6h0m64,11h0m203,7h0m-176,1h0m227,5h0m-110,1h0m56,1h0m48,3h0m-98,4h0m3,0h0m51,0h0m-11,1h0m-33,2h0m20,1h0m-22,3h0m-152,7h0m18,2h0m209,0h0m-70,2h0m9,2h0m141,2h0m-137,1h0m-183,1h0m221,8h0m-208,3h0m313,8h0m-382,4h0m2,2h0m33,0h0m240,0h0m-187,2h0m141,6h0m-4,1h0m4,6h0m-204,5h0m8,1h0m209,0h0m-167,3h0m-85,2h0m65,3h0m97,2h0m183,2h0m-77,4h0m-68,13h0m85,10h0m-14,2h0m-59,1h0m-53,3h0m-85,1h0m56,11h0m-99,4h0m269,4h0m-6,16h0m-221,12h0m224,0h0m-148,5h0m-45,1h0m76,4h0m124,1h0m-186,2h0m27,8h0m-46,7h0m156,8h0m-77,2h0m-3,1h0m-41,14h0" stroke="#62C6E0" stroke-width="3.8" stroke-linecap="round" fill="none" opacity="0.72"/>
<path d="M851,67h0m59,1h0m-14,4h0m-98,2h0m16,2h0m-13,2h0m-1,1h0m85,2h0m-124,2h0m184,1h0m-150,1h0m159,5h0m-113,4h0m-5,3h0m-31,1h0m94,1h0m42,3h0m-108,1h0m99,0h0m-175,4h0m121,2h0m-138,5h0m138,1h0m16,0h0m-165,4h0m-13,2h0m159,0h0m118,0h0m-297,1h0m11,5h0m13,0h0m75,0h0m-13,1h0m141,0h0m-169,1h0m121,0h0m-4,1h0m32,0h0m-101,2h0m161,1h0m-255,2h0m87,1h0m184,2h0m-121,3h0m-155,4h0m101,1h0m127,1h0m-89,1h0m-11,1h0m85,1h0m-130,1h0m52,1h0m-87,2h0m172,1h0m70,2h0m3,0h0m20,1h0m-209,2h0m-64,1h0m70,0h0m19,0h0m139,0h0m-160,3h0m42,1h0m70,0h0m-57,2h0m115,1h0m-320,3h0m55,0h0m109,0h0m-129,3h0m-40,1h0m337,0h0m36,1h0m-172,2h0m68,1h0m-222,2h0m17,0h0m224,2h0m49,0h0m-45,1h0m-28,2h0m61,3h0m-283,1h0m27,2h0m172,0h0m-120,5h0m47,0h0m11,1h0m-10,2h0m103,4h0m2,1h0m-27,1h0m-92,1h0m-168,1h0m386,0h0m-47,2h0m46,1h0m-182,1h0m6,0h0m-84,2h0m47,0h0m-149,1h0m275,2h0m81,1h0m-371,1h0m73,0h0m261,0h0m-271,2h0m295,0h0m25,2h0m-129,3h0m-207,2h0m162,0h0m-91,2h0m37,0h0m-73,2h0m221,1h0m-111,1h0m17,0h0m75,3h0m-74,2h0m55,0h0m14,1h0m-70,3h0m5,0h0m132,0h0m-176,4h0m128,9h0m66,2h0m-260,1h0m38,2h0m191,3h0m-26,2h0m-279,2h0m371,2h0m-363,3h0m322,0h0m13,2h0m-76,3h0m-251,2h0m114,0h0m128,1h0m-232,1h0m324,0h0m-109,1h0m88,0h0m-99,1h0m54,0h0m-144,3h0m12,1h0m24,2h0m118,0h0m-248,1h0m67,0h0m221,0h0m-77,2h0m-195,2h0m37,1h0m-120,3h0m166,1h0m8,0h0m-179,2h0m99,0h0m267,1h0m-192,1h0m-180,4h0m328,1h0m-32,1h0m-158,2h0m165,0h0m77,1h0m-312,1h0m2,0h0m102,1h0m-111,1h0m221,0h0m98,0h0m-365,1h0m95,0h0m45,0h0m169,0h0m-282,1h0m317,0h0m-295,2h0m34,0h0m-95,2h0m123,0h0m-64,1h0m46,0h0m196,1h0m-270,3h0m70,0h0m81,0h0m-113,1h0m311,0h0m-168,1h0m90,0h0m-255,2h0m164,2h0m173,1h0m-340,1h0m259,1h0m-271,1h0m-9,4h0m242,1h0m-165,3h0m114,0h0m45,1h0m-45,1h0m-119,6h0m-9,2h0m243,0h0m46,0h0m-9,1h0m-25,1h0m-248,1h0m249,0h0m-153,2h0m42,0h0m-93,1h0m-145,1h0m399,0h0m-302,1h0m83,0h0m189,0h0m-4,1h0m-364,1h0m44,0h0m192,0h0m-178,1h0m102,0h0m141,1h0m-275,1h0m358,0h0m-343,2h0m349,1h0m-171,1h0m160,1h0m-189,1h0m72,2h0m-149,1h0m203,0h0m-195,2h0m140,0h0m35,0h0m17,0h0m9,0h0m-181,1h0m96,0h0m58,0h0m42,1h0m9,0h0m-249,1h0m255,0h0m-214,2h0m137,0h0m80,1h0m34,1h0m-52,3h0m15,1h0m-284,1h0m24,1h0m71,0h0m149,0h0m-97,2h0m11,0h0m-161,1h0m226,0h0m81,0h0m-101,1h0m20,6h0m-232,8h0m44,0h0m-48,2h0m188,0h0m85,0h0m49,0h0m-7,1h0m-273,1h0m-14,1h0m88,4h0m200,0h0m-36,1h0m-275,1h0m-18,1h0m-10,2h0m75,0h0m-30,2h0m288,2h0m-341,1h0m209,1h0m-164,1h0m36,2h0m50,0h0m207,0h0m-289,2h0m-35,2h0m32,1h0m13,4h0m13,0h0m-43,1h0m149,0h0m-128,3h0m68,5h0m-84,3h0m26,1h0m192,0h0m-206,1h0m27,0h0m81,1h0m169,0h0m-82,5h0m3,1h0m-77,1h0m-20,1h0m17,2h0m136,5h0m11,0h0m-59,1h0m-102,2h0m103,0h0m-207,1h0m14,0h0m190,4h0m-1,5h0m-40,2h0m-24,1h0m5,3h0m45,3h0m-127,1h0m104,0h0m-26,2h0m29,1h0m-146,3h0m183,0h0m-159,1h0m71,1h0m65,1h0m-137,5h0m5,0h0m16,1h0" stroke="#F0E81A" stroke-width="3.8" stroke-linecap="round" fill="none" opacity="0.72"/>
<path d="M902,66h0m-93,2h0m2,1h0m33,0h0m-8,3h0m50,3h0m-94,2h0m-35,8h0m83,1h0m-78,2h0m179,2h0m20,0h0m-175,2h0m136,0h0m-123,1h0m-42,3h0m144,1h0m43,2h0m-57,3h0m53,0h0m-16,2h0m-143,3h0m56,1h0m-72,2h0m71,1h0m90,0h0m-12,1h0m54,2h0m-237,1h0m35,2h0m-1,1h0m75,0h0m91,0h0m-85,6h0m-157,3h0m108,0h0m140,0h0m-194,1h0m44,0h0m149,0h0m-93,2h0m-155,2h0m39,0h0m174,2h0m-202,2h0m229,2h0m2,0h0m-213,2h0m165,0h0m47,0h0m-233,6h0m311,0h0m-108,2h0m-117,4h0m56,2h0m-67,2h0m92,1h0m-177,1h0m186,0h0m-156,2h0m219,0h0m-168,2h0m218,4h0m11,0h0m-171,7h0m-124,5h0m-16,2h0m-11,1h0m33,3h0m236,0h0m82,0h0m-106,2h0m-159,1h0m200,3h0m-185,2h0m46,2h0m132,0h0m51,0h0m-274,1h0m115,0h0m187,0h0m-37,2h0m38,0h0m-43,1h0m-2,3h0m7,0h0m-221,2h0m90,0h0m166,0h0m-71,1h0m44,0h0m-147,1h0m6,3h0m-133,1h0m56,0h0m170,1h0m-267,4h0m337,1h0m-70,1h0m13,0h0m-159,1h0m34,0h0m-150,1h0m19,0h0m324,0h0m-330,1h0m5,0h0m160,1h0m102,0h0m-272,2h0m250,0h0m-181,1h0m214,1h0m-314,2h0m77,0h0m-66,1h0m322,0h0m-292,1h0m146,0h0m132,0h0m-269,5h0m217,5h0m-268,1h0m88,0h0m134,0h0m143,0h0m-197,1h0m161,0h0m-312,1h0m181,3h0m-128,5h0m8,1h0m153,0h0m-267,1h0m370,0h0m-178,1h0m3,0h0m53,3h0m96,2h0m-122,1h0m117,1h0m-53,1h0m131,0h0m-168,6h0m-50,1h0m38,0h0m154,1h0m0,0h0m-84,2h0m-45,2h0m58,1h0m-300,2h0m9,0h0m42,2h0m-10,1h0m-12,1h0m4,0h0m271,1h0m-86,1h0m63,2h0m20,0h0m-4,1h0m55,0h0m-291,1h0m-45,1h0m76,0h0m-57,1h0m313,1h0m3,0h0m-283,5h0m175,0h0m22,0h0m-55,3h0m-114,1h0m-9,4h0m14,0h0m79,1h0m-150,1h0m181,0h0m-170,2h0m-38,2h0m239,0h0m-233,1h0m212,0h0m-233,2h0m238,0h0m79,6h0m3,0h0m-76,2h0m75,0h0m89,0h0m-94,1h0m64,1h0m-159,1h0m-104,2h0m9,2h0m124,1h0m17,0h0m-201,3h0m46,0h0m-48,1h0m245,3h0m-288,3h0m24,1h0m315,0h0m-340,1h0m33,0h0m226,1h0m-33,1h0m8,0h0m95,1h0m-59,1h0m68,2h0m-5,8h0m-334,1h0m117,0h0m222,3h0m-183,3h0m140,1h0m-143,7h0m203,0h0m-69,1h0m-229,4h0m-20,1h0m69,0h0m19,0h0m-139,5h0m384,1h0m-350,3h0m211,4h0m53,0h0m68,1h0m4,0h0m-344,1h0m191,1h0m30,0h0m-86,1h0m78,0h0m-204,1h0m197,2h0m-195,1h0m63,7h0m56,0h0m221,4h0m-321,3h0m98,1h0m6,1h0m-109,1h0m119,1h0m-109,2h0m6,0h0m46,0h0m111,0h0m-157,1h0m95,1h0m179,0h0m-306,2h0m15,0h0m11,1h0m180,0h0m-188,1h0m-29,2h0m318,7h0m-319,1h0m46,2h0m130,1h0m-171,3h0m207,0h0m-24,4h0m-4,1h0m77,1h0m-231,3h0m9,0h0m41,0h0m193,1h0m41,2h0m-183,2h0m50,3h0m-6,3h0m78,0h0m-11,3h0m-136,1h0m32,2h0m153,0h0m-200,1h0m40,0h0m146,2h0m18,2h0m-202,5h0m168,15h0m26,1h0m-100,8h0m-109,3h0m98,2h0m2,0h0m32,0h0m-110,1h0m49,0h0m53,5h0m-102,1h0m91,0h0m-100,4h0" stroke="#6CC9CB" stroke-width="3.8" stroke-linecap="round" fill="none" opacity="0.72"/>
<path d="M845,66h0m-103,11h0m3,1h0m196,3h0m-115,1h0m97,0h0m-127,1h0m140,1h0m-167,1h0m26,3h0m-60,1h0m130,0h0m-15,1h0m15,1h0m-30,1h0m-78,6h0m-11,1h0m122,0h0m-120,3h0m205,1h0m-98,2h0m104,0h0m-1,1h0m-230,1h0m156,0h0m44,5h0m8,0h0m-79,2h0m67,0h0m-96,1h0m71,1h0m-172,1h0m257,2h0m-110,1h0m-132,2h0m62,0h0m76,0h0m14,0h0m-179,1h0m17,3h0m218,0h0m-139,2h0m-121,3h0m90,1h0m147,0h0m-26,2h0m-55,1h0m106,0h0m-183,1h0m27,0h0m110,0h0m-117,1h0m82,4h0m129,0h0m-281,1h0m242,0h0m-239,2h0m245,0h0m35,2h0m-59,1h0m55,0h0m-127,1h0m-84,2h0m58,0h0m109,0h0m-269,2h0m45,0h0m234,1h0m-230,1h0m37,0h0m6,0h0m-57,1h0m108,1h0m-3,4h0m-3,1h0m-93,2h0m84,0h0m-83,1h0m-51,1h0m52,0h0m9,0h0m15,0h0m50,4h0m2,1h0m9,0h0m50,1h0m121,0h0m-141,1h0m-146,4h0m11,1h0m278,0h0m-282,1h0m197,0h0m-241,1h0m180,1h0m-183,1h0m303,0h0m-65,1h0m131,0h0m-100,1h0m-70,1h0m134,0h0m-128,1h0m-198,1h0m31,2h0m303,1h0m23,0h0m-197,1h0m129,0h0m-202,1h0m124,0h0m58,0h0m-34,1h0m-93,1h0m147,1h0m-309,1h0m351,0h0m-236,2h0m140,0h0m14,0h0m6,0h0m67,0h0m-225,1h0m133,3h0m11,0h0m30,0h0m91,1h0m-35,1h0m39,0h0m-58,1h0m25,0h0m-213,2h0m-38,1h0m67,0h0m37,0h0m-158,1h0m133,0h0m156,2h0m-300,1h0m121,1h0m27,1h0m25,0h0m-169,3h0m15,0h0m340,0h0m-404,3h0m352,0h0m-9,1h0m57,1h0m-320,2h0m100,0h0m32,0h0m112,0h0m73,0h0m-328,1h0m32,0h0m247,0h0m-339,1h0m372,0h0m-181,2h0m-27,1h0m48,0h0m163,0h0m11,0h0m2,0h0m-42,1h0m-252,1h0m27,0h0m-94,1h0m32,1h0m56,0h0m72,0h0m-113,1h0m121,0h0m-15,1h0m74,0h0m-137,1h0m-103,1h0m112,0h0m27,0h0m37,0h0m82,0h0m-92,3h0m-159,1h0m56,1h0m190,1h0m23,0h0m3,2h0m-75,1h0m12,0h0m18,0h0m-220,1h0m75,0h0m197,2h0m-181,1h0m-6,2h0m26,1h0m-6,1h0m27,0h0m-61,1h0m81,0h0m97,1h0m72,0h0m-103,1h0m-65,2h0m-188,1h0m86,0h0m260,0h0m-235,1h0m216,0h0m-231,1h0m137,2h0m-128,1h0m147,0h0m114,1h0m-190,1h0m227,0h0m-287,1h0m-39,3h0m92,1h0m-153,1h0m54,0h0m-12,2h0m234,1h0m114,0h0m-281,2h0m-22,1h0m-80,2h0m73,0h0m17,2h0m209,0h0m36,0h0m-134,1h0m-159,1h0m220,1h0m-24,2h0m-174,1h0m-15,1h0m287,1h0m-170,1h0m-75,2h0m20,0h0m-120,2h0m256,0h0m136,0h0m-170,2h0m84,0h0m-208,2h0m76,0h0m13,1h0m43,1h0m28,0h0m41,1h0m-306,2h0m3,1h0m232,0h0m-232,4h0m192,0h0m-148,1h0m48,1h0m79,1h0m111,1h0m-36,1h0m-165,2h0m7,0h0m-74,1h0m212,0h0m22,0h0m-215,1h0m-38,1h0m54,0h0m26,0h0m47,0h0m-100,1h0m195,1h0m-125,1h0m85,0h0m56,0h0m130,0h0m-329,1h0m26,1h0m240,0h0m47,0h0m-319,1h0m117,0h0m103,0h0m20,0h0m77,0h0m-264,1h0m99,0h0m196,0h0m-165,1h0m-112,1h0m114,1h0m60,0h0m8,0h0m115,0h0m-24,1h0m11,0h0m12,0h0m-217,3h0m175,1h0m-329,1h0m67,0h0m127,1h0m54,1h0m-134,1h0m234,0h0m-390,1h0m383,0h0m-375,1h0m153,0h0m74,0h0m32,3h0m-75,1h0m5,0h0m47,0h0m-61,1h0m64,0h0m-189,1h0m123,0h0m39,0h0m-42,1h0m136,0h0m4,0h0m59,1h0m-64,1h0m3,0h0m-165,1h0m194,0h0m-231,4h0m16,0h0m109,2h0m-76,2h0m164,0h0m-238,1h0m74,1h0m154,1h0m-132,2h0m-66,1h0m101,0h0m190,0h0m-90,1h0m49,0h0m-299,3h0m109,0h0m-101,1h0m67,0h0m149,0h0m19,0h0m2,0h0m-56,1h0m149,0h0m-299,1h0m180,0h0m53,0h0m-255,2h0m13,1h0m79,0h0m66,0h0m113,3h0m-306,1h0m39,0h0m-58,1h0m96,0h0m142,1h0m-227,1h0m8,0h0m149,0h0m-100,1h0m239,0h0m-58,1h0m30,0h0m9,0h0m-31,1h0m98,0h0m-103,1h0m-117,1h0m167,0h0m-184,1h0m104,0h0m-132,1h0m-96,1h0m88,0h0m106,1h0m36,4h0m23,0h0m104,0h0m-123,2h0m30,0h0m-135,1h0m60,1h0m49,3h0m-91,1h0m89,0h0m30,0h0m-207,1h0m39,0h0m117,0h0m114,0h0m-308,1h0m117,0h0m52,0h0m26,0h0m-202,1h0m179,1h0m61,0h0m-119,2h0m46,1h0m40,0h0m11,0h0m54,0h0m4,0h0m72,1h0m-166,1h0m-44,2h0m48,0h0m154,2h0m-2,1h0m-84,1h0m8,0h0m77,0h0m-157,1h0m-146,1h0m308,0h0m-262,1h0m-81,1h0m9,1h0m292,0h0m-297,1h0m57,0h0m110,1h0m168,5h0m-155,1h0m-140,2h0m83,0h0m30,0h0m145,1h0m-257,1h0m3,0h0m189,1h0m-227,2h0m234,2h0m-39,1h0m106,0h0m-54,3h0m-96,1h0m99,3h0m1,2h0m-186,2h0m30,0h0m108,0h0m1,1h0m77,0h0m-246,1h0m70,0h0m141,0h0m-6,1h0m48,0h0m-269,2h0m143,1h0m-60,1h0m122,0h0m-183,1h0m53,1h0m-20,2h0m86,0h0m-42,2h0m-3,2h0m-28,1h0m20,0h0m81,0h0m113,0h0m-289,1h0m65,0h0m84,0h0m106,0h0m4,1h0m-104,2h0m-17,3h0m64,0h0m-38,3h0m63,0h0m-95,3h0m125,4h0m-173,1h0m112,1h0m61,2h0m5,1h0m-163,5h0m72,2h0m-64,2h0m50,0h0m65,0h0m26,1h0m-154,1h0m96,1h0m30,2h0m-99,1h0m123,1h0m-100,1h0m14,1h0m-87,2h0m76,4h0m67,0h0" stroke="#A4CD52" stroke-width="3.8" stroke-linecap="round" fill="none" opacity="0.72"/>
<path d="M831,68h0m-16,1h0m79,2h0m-133,2h0m33,1h0m137,0h0m0,2h0m-97,2h0m-3,1h0m53,4h0m54,0h0m-54,1h0m-23,1h0m89,2h0m-150,1h0m107,0h0m-163,1h0m202,1h0m-39,2h0m37,0h0m-11,2h0m-187,1h0m-26,2h0m170,0h0m53,1h0m-148,1h0m42,2h0m70,1h0m-155,3h0m120,1h0m-33,1h0m74,1h0m-91,2h0m20,2h0m71,0h0m54,0h0m-143,1h0m19,1h0m-11,2h0m-6,1h0m66,2h0m-59,1h0m-89,4h0m228,0h0m-138,1h0m132,1h0m-275,2h0m148,1h0m102,0h0m30,0h0m-236,1h0m160,1h0m77,1h0m31,1h0m-286,1h0m7,1h0m78,0h0m78,0h0m-74,4h0m132,0h0m-39,1h0m92,2h0m-199,1h0m9,1h0m101,0h0m-190,1h0m250,0h0m-205,2h0m206,0h0m-50,1h0m12,0h0m36,1h0m24,0h0m-271,1h0m191,0h0m-139,2h0m-88,2h0m281,1h0m-192,1h0m193,0h0m-245,1h0m80,0h0m73,0h0m133,0h0m-273,4h0m51,0h0m83,0h0m-48,1h0m49,1h0m-185,1h0m9,0h0m288,0h0m-189,1h0m6,0h0m-98,3h0m97,3h0m-55,1h0m82,0h0m-51,1h0m133,0h0m36,0h0m-68,1h0m2,0h0m-166,1h0m139,1h0m19,1h0m77,1h0m-98,1h0m21,0h0m-139,1h0m144,0h0m67,0h0m-239,1h0m166,1h0m35,0h0m76,0h0m-246,1h0m131,1h0m-170,1h0m76,1h0m182,0h0m8,1h0m27,0h0m-52,1h0m-74,5h0m138,4h0m42,1h0m-314,1h0m132,1h0m-174,2h0m100,2h0m44,0h0m-137,1h0m171,4h0m167,0h0m-341,2h0m321,0h0m0,0h0m-283,1h0m108,0h0m67,0h0m81,0h0m-297,3h0m117,3h0m238,0h0m7,0h0m-59,1h0m-260,2h0m-64,1h0m206,0h0m-177,1h0m4,0h0m118,0h0m-7,1h0m192,1h0m-275,1h0m46,0h0m278,0h0m-52,1h0m-26,1h0m83,1h0m-115,1h0m73,0h0m34,0h0m-307,1h0m39,2h0m270,0h0m-176,1h0m116,3h0m44,0h0m4,0h0m-312,1h0m139,0h0m133,0h0m-331,1h0m101,1h0m108,0h0m57,0h0m-24,1h0m-249,1h0m297,3h0m-285,1h0m28,0h0m72,1h0m73,1h0m90,0h0m-228,1h0m238,0h0m48,0h0m10,1h0m-224,1h0m-31,2h0m-94,2h0m106,0h0m-11,1h0m86,0h0m-38,2h0m0,0h0m-34,1h0m73,3h0m224,0h0m-307,3h0m36,1h0m114,2h0m127,2h0m14,0h0m-191,2h0m6,0h0m-175,2h0m86,0h0m264,0h0m-285,2h0m86,0h0m56,0h0m123,0h0m44,1h0m-351,2h0m317,0h0m-333,3h0m228,0h0m-255,1h0m45,0h0m-35,1h0m38,0h0m209,0h0m92,0h0m25,0h0m-299,1h0m302,0h0m-324,1h0m58,0h0m163,0h0m-252,1h0m152,0h0m-97,1h0m34,0h0m187,1h0m-263,1h0m-35,3h0m123,1h0m230,0h0m-373,2h0m289,0h0m-181,2h0m82,0h0m-183,1h0m313,2h0m-169,1h0m-122,1h0m383,0h0m-174,1h0m-58,1h0m10,0h0m2,0h0m-37,1h0m1,0h0m32,0h0m-23,1h0m117,0h0m-274,2h0m215,0h0m-189,1h0m62,1h0m47,0h0m263,1h0m-88,1h0m-164,2h0m-9,1h0m237,0h0m-174,1h0m114,1h0m-167,2h0m217,0h0m-213,1h0m160,0h0m-299,1h0m53,0h0m257,0h0m34,2h0m-248,1h0m97,0h0m177,0h0m-254,1h0m226,1h0m-179,1h0m-166,1h0m17,0h0m9,0h0m316,0h0m58,0h0m-390,2h0m382,0h0m-364,1h0m193,0h0m-15,1h0m-41,1h0m142,2h0m47,0h0m31,0h0m-325,4h0m6,0h0m145,0h0m31,0h0m-158,1h0m-75,1h0m54,0h0m9,1h0m-67,1h0m228,0h0m33,1h0m-7,2h0m-102,1h0m74,1h0m46,0h0m-173,1h0m22,0h0m-137,1h0m226,0h0m-209,1h0m386,0h0m-239,3h0m-44,1h0m42,0h0m5,0h0m217,0h0m-208,1h0m176,0h0m-282,2h0m98,0h0m148,1h0m-165,1h0m-76,1h0m56,0h0m8,0h0m211,0h0m-267,1h0m43,0h0m25,0h0m37,1h0m211,0h0m-335,1h0m78,0h0m48,0h0m-47,1h0m-105,1h0m76,0h0m28,2h0m12,0h0m-116,1h0m27,0h0m245,0h0m68,0h0m-220,1h0m24,1h0m-153,1h0m179,0h0m173,0h0m-181,1h0m175,1h0m-81,1h0m-81,1h0m-109,1h0m168,0h0m11,0h0m28,0h0m68,0h0m-149,1h0m-157,1h0m54,0h0m257,0h0m-361,1h0m-18,1h0m131,0h0m244,0h0m-315,1h0m180,1h0m-119,1h0m-112,1h0m69,0h0m67,0h0m89,0h0m56,2h0m-230,1h0m221,4h0m94,1h0m-265,1h0m41,0h0m48,0h0m180,0h0m-151,1h0m26,0h0m52,0h0m-33,2h0m-86,1h0m32,0h0m62,0h0m-223,1h0m148,0h0m112,0h0m-16,2h0m32,0h0m-310,3h0m174,0h0m44,0h0m47,1h0m-232,1h0m123,0h0m16,1h0m2,0h0m-122,1h0m118,0h0m166,1h0m-222,2h0m75,0h0m-80,2h0m78,0h0m-172,1h0m259,0h0m12,0h0m-151,1h0m194,1h0m-288,1h0m256,0h0m-177,1h0m15,0h0m120,0h0m-254,1h0m133,0h0m-5,1h0m56,1h0m-60,1h0m-128,1h0m301,0h0m-47,1h0m-255,1h0m178,0h0m20,0h0m-190,1h0m187,0h0m142,0h0m-276,1h0m255,0h0m-299,1h0m184,0h0m-42,4h0m184,0h0m-227,1h0m117,4h0m-221,1h0m29,0h0m178,0h0m-171,1h0m35,0h0m140,0h0m-7,1h0m36,0h0m13,1h0m4,1h0m-8,1h0m-137,1h0m145,1h0m-225,2h0m-6,1h0m87,0h0m10,2h0m161,1h0m-257,2h0m147,1h0m-49,1h0m-27,2h0m-60,1h0m93,1h0m36,0h0m139,0h0m8,0h0m-191,1h0m87,1h0m-111,1h0m35,0h0m3,1h0m20,0h0m-124,1h0m167,1h0m74,1h0m-95,4h0m-37,3h0m59,2h0m51,0h0m29,4h0m1,0h0m3,1h0m-46,2h0m-191,3h0m51,2h0m19,3h0m112,1h0m-22,1h0m-138,1h0m169,0h0m-39,3h0m0,1h0m-57,3h0m89,0h0m8,3h0m-45,3h0m-91,2h0m84,0h0m0,1h0m50,1h0m-137,2h0m-15,1h0m137,1h0" stroke="#B7D43E" stroke-width="3.8" stroke-linecap="round" fill="none" opacity="0.72"/>
<path d="M692,126h0m248,45h0m-82,118h0m-101,29h0" stroke="#ED1C24" stroke-width="2.7359999999999998" stroke-linecap="round" fill="none" opacity="0.72"/>
<path d="M985,182h0m-277,131h0m199,31h0m25,85h0" stroke="#24358C" stroke-width="2.7359999999999998" stroke-linecap="round" fill="none" opacity="0.72"/>
<path d="M932,94h0m-156,90h0m152,15h0m70,41h0m55,61h0m-217,3h0m64,100h0m-68,26h0" stroke="#ED1C24" stroke-width="2.7359999999999998" stroke-linecap="round" fill="none" opacity="0.72"/>
<path d="M732,96h0m126,149h0m-50,34h0m2,26h0m-103,136h0m20,19h0" stroke="#ED1C24" stroke-width="2.7359999999999998" stroke-linecap="round" fill="none" opacity="0.72"/>
<path d="M687,176h0m114,190h0m-131,60h0" stroke="#3558A7" stroke-width="2.7359999999999998" stroke-linecap="round" fill="none" opacity="0.72"/>
<path d="M733,199h0m148,72h0m-6,1h0m9,1h0m-96,4h0m81,15h0m-20,104h0m-32,26h0" stroke="#3F8ECC" stroke-width="2.7359999999999998" stroke-linecap="round" fill="none" opacity="0.72"/></g>
<clipPath id="cpC"><rect x="130" y="642" width="427" height="455"/></clipPath><g clip-path="url(#cpC)"><rect x="130" y="642" width="427" height="455" fill="#EDE81C"/><path d="M300.3,633.5C300.3,635.1 300.4,639.5 300.3,643.2C300.1,646.9 300.3,653.1 299.4,655.6C298.5,658 300.7,657.5 295,657.9C289.2,658.3 271.4,657.5 264.9,658.3C258.4,659 259.9,659.4 256,662.7C252.2,665.9 246,672.3 241.9,677.7C237.7,683.2 235.4,688.9 231.2,695.4C227.1,701.9 221.8,709.6 217.1,716.7C212.3,723.8 207.3,730.8 202.9,737.9C198.5,745 194.6,752.1 190.5,759.2C186.4,766.3 182.2,773.3 178.1,780.4C174,787.5 169.9,794.6 165.7,801.7C161.6,808.7 157.2,817 153.3,822.9C149.5,828.8 145.7,833.1 142.7,837.1C139.8,841.1 138,844.7 135.6,846.8C133.3,849 129.7,849.5 128.5,850L121.5,850.8L121.5,626.8L299.9,626.8Z" fill="#A2CD5A" stroke="none"/><path d="M300.3,633.5C300.3,635.1 300.4,639.5 300.3,643.2C300.1,646.9 300.3,653.1 299.4,655.6C298.5,658 300.7,657.5 295,657.9C289.2,658.3 271.4,657.5 264.9,658.3C258.4,659 259.9,659.4 256,662.7C252.2,665.9 246,672.3 241.9,677.7C237.7,683.2 235.4,688.9 231.2,695.4C227.1,701.9 221.8,709.6 217.1,716.7C212.3,723.8 207.3,730.8 202.9,737.9C198.5,745 194.6,752.1 190.5,759.2C186.4,766.3 182.2,773.3 178.1,780.4C174,787.5 169.9,794.6 165.7,801.7C161.6,808.7 157.2,817 153.3,822.9C149.5,828.8 145.7,833.1 142.7,837.1C139.8,841.1 138,844.7 135.6,846.8C133.3,849 129.7,849.5 128.5,850" fill="none" stroke="#0d0d0d" stroke-width="1.45" stroke-linejoin="round"/><path d="M128.3,893.8C130,894.4 135.3,894.1 138.5,897.9C141.8,901.7 145.1,910.3 147.9,916.5C150.8,922.8 153,928.6 155.6,935.3C158.2,942 160.5,949.7 163.6,956.9C166.8,964 170.3,971.1 174.4,978.2C178.5,985.4 183.1,993.5 188.1,999.8C193,1006.1 198.6,1011.4 204,1015.9C209.3,1020.3 214.6,1023 220,1026.6C225.4,1030.2 230.3,1033.4 236.2,1037.4C242,1041.4 249.1,1046.3 254.9,1050.7C260.7,1055.2 266.5,1059.3 271,1064.2C275.5,1069.2 278.8,1074.4 281.8,1080.3C284.7,1086.3 287.4,1096.7 288.5,1100L288.5,1112.2L121.5,1112.2L121.5,893.8Z" fill="#A2CD5A" stroke="none"/><path d="M128.3,893.8C130,894.4 135.3,894.1 138.5,897.9C141.8,901.7 145.1,910.3 147.9,916.5C150.8,922.8 153,928.6 155.6,935.3C158.2,942 160.5,949.7 163.6,956.9C166.8,964 170.3,971.1 174.4,978.2C178.5,985.4 183.1,993.5 188.1,999.8C193,1006.1 198.6,1011.4 204,1015.9C209.3,1020.3 214.6,1023 220,1026.6C225.4,1030.2 230.3,1033.4 236.2,1037.4C242,1041.4 249.1,1046.3 254.9,1050.7C260.7,1055.2 266.5,1059.3 271,1064.2C275.5,1069.2 278.8,1074.4 281.8,1080.3C284.7,1086.3 287.4,1096.7 288.5,1100" fill="none" stroke="#0d0d0d" stroke-width="1.45" stroke-linejoin="round"/><path d="M260.3,733.5C267,733.4 275.5,734.7 281.7,737.3C288,739.8 292.9,743.5 297.8,748.8C302.8,754.1 307.5,761.1 311.3,768.9C315.1,776.8 318.2,786.4 320.7,795.8C323.1,805.2 324.8,814.6 326,825.3C327.2,836.1 327.7,848.6 327.9,860.2C328.1,871.8 327.7,883.9 327.4,895.1C327.1,906.3 327.1,917 326,927.3C324.9,937.6 323.1,947.9 320.7,956.8C318.2,965.8 315.1,974.1 311.3,981C307.5,987.9 302.8,994.4 297.8,998.5C292.9,1002.5 287.1,1004.5 281.7,1005.2C276.4,1005.8 271.5,1004.5 265.6,1002.5C259.8,1000.5 253.1,997.6 246.9,993.1C240.6,988.6 233.9,982.1 228.1,975.6C222.3,969.2 216.9,961.8 212,954.2C207,946.6 202.6,938.5 198.5,930C194.5,921.5 190.6,912.6 187.8,903.2C185,893.8 182.9,883 181.9,873.6C180.9,864.2 181.1,855.7 181.9,846.8C182.7,837.8 184.1,828.4 186.5,819.9C188.8,811.4 192.1,803.8 195.9,795.8C199.7,787.7 204.4,779.2 209.3,771.6C214.2,764 220,755.7 225.4,750.2C230.8,744.6 235.7,740.8 241.5,738.1C247.3,735.3 253.6,733.6 260.3,733.5Z" fill="#FBA919" stroke="#0d0d0d" stroke-width="1.45" stroke-linejoin="round"/><path d="M265.6,766.3C271,766.8 276.8,768 281.7,771.6C286.7,775.2 291.1,780.6 295.2,787.7C299.2,794.9 303.2,805.6 305.9,814.6C308.6,823.5 310.1,832.5 311.3,841.4C312.4,850.4 312.5,859.3 312.6,868.3C312.7,877.2 312.7,885.7 311.8,895.1C310.9,904.5 309.6,915.7 307.2,924.6C304.9,933.6 301.6,942.3 297.8,948.8C294,955.3 289.3,960.4 284.4,963.6C279.5,966.7 273.7,968 268.3,967.6C263,967.1 258,964.9 252.2,960.9C246.4,956.8 239.3,950.4 233.4,943.4C227.6,936.5 221.8,927.3 217.3,919.3C212.9,911.2 209.3,903.6 206.6,895.1C203.9,886.6 201.9,877.2 201.2,868.3C200.6,859.3 201.2,849.9 202.6,841.4C203.9,832.9 206.4,824.9 209.3,817.3C212.2,809.7 216,802.3 220,795.8C224,789.3 228.5,782.9 233.4,778.3C238.4,773.8 244.2,770.4 249.5,768.4C254.9,766.4 260.3,765.7 265.6,766.3Z" fill="#EE4423" stroke="#0d0d0d" stroke-width="1.45" stroke-linejoin="round"/><path d="M263,799C267,799.5 272.4,800.4 276.4,803.8C280.4,807.3 284.3,813.2 287.1,819.9C289.9,826.7 291.7,836.1 293,844.1C294.4,852.2 295.3,859.8 295.2,868.3C295.1,876.8 294.3,886.6 292.5,895.1C290.7,903.6 287.6,913.2 284.4,919.3C281.3,925.3 277.3,928.9 273.7,931.3C270.1,933.8 267,934.7 263,934C258.9,933.4 254,931.1 249.5,927.3C245.1,923.5 239.9,917.5 236.1,911.2C232.3,905 229.1,897.8 226.7,889.7C224.4,881.7 222.6,871.4 222.2,862.9C221.7,854.4 222.6,845.9 224,838.7C225.5,831.6 227.8,825.3 230.8,819.9C233.7,814.6 237.9,809.7 241.5,806.5C245.1,803.3 248.6,801.9 252.2,800.6C255.8,799.4 258.9,798.5 263,799Z" fill="#E31E26" stroke="#0d0d0d" stroke-width="1.45" stroke-linejoin="round"/><path d="M260.8,852.7C262.1,852.7 263.7,854.3 264.6,856.2C265.5,858.1 266.2,861.5 266.2,864.2C266.2,867 265.5,870.8 264.6,872.8C263.7,874.8 262.1,876.3 260.8,876.3C259.6,876.3 257.9,874.8 257.1,872.8C256.2,870.8 255.4,867 255.4,864.2C255.4,861.5 256.2,858.1 257.1,856.2C257.9,854.3 259.6,852.7 260.8,852.7Z" fill="#7A1518" stroke="#3a0a0a" stroke-width="1.45" stroke-linejoin="round"/><path d="M413.2,691.1C418.6,691.3 426.2,691.5 432,693.2C437.8,695 442.8,697.3 448.1,701.8C453.5,706.4 458.9,713 464.2,720.6C469.6,728.2 475.2,738.1 480.3,747.5C485.5,756.9 490.9,767.2 495.1,777C499.4,786.8 502.9,796.2 505.8,806.5C508.8,816.8 511.1,828.4 512.6,838.7C514,849 514.7,858.4 514.7,868.3C514.7,878.1 513.8,888 512.6,897.8C511.3,907.6 509.6,917.5 507.2,927.3C504.7,937.2 500.2,949.9 497.8,956.8C495.4,963.8 495.7,961.8 492.9,968.8C490,975.9 484.6,990.2 480.5,999C476.4,1007.9 472.5,1015.5 468.1,1021.9C463.7,1028.4 459.2,1032.5 453.9,1037.8C448.6,1043.2 443.5,1048.9 436.2,1053.8C428.8,1058.7 417.6,1064 409.7,1067.1C401.7,1070.2 394.3,1071.2 388.4,1072.4C382.5,1073.6 379,1074.7 374.2,1074.2C369.5,1073.8 363.9,1071.9 360.1,1069.7C356.2,1067.5 353.4,1064.4 351.2,1060.9C349,1057.4 347.6,1056.4 346.8,1048.5C346,1040.5 346.3,1024.9 346.3,1013.1C346.3,1001.3 347.1,987.5 346.8,977.6C346.6,967.8 345.3,967 344.8,954.2C344.2,941.3 344,918.4 343.4,900.5C342.8,882.6 341.5,864.7 341.3,846.8C341,828.9 341.3,808.8 342.1,793.1C342.9,777.4 344.1,763.6 346.1,752.8C348.1,742.1 350.6,735.8 354.2,728.7C357.7,721.5 362.7,715 367.6,709.9C372.5,704.7 378.3,700.8 383.7,697.8C389.1,694.9 394.9,693.3 399.8,692.2C404.7,691.1 407.9,690.9 413.2,691.1Z" fill="#A2CD5A" stroke="#0d0d0d" stroke-width="1.45" stroke-linejoin="round"/><path d="M421.3,737.3C426.9,736.9 432,737.6 437.4,740C442.8,742.3 448.1,745.8 453.5,751.5C458.9,757.2 464.7,765.6 469.6,774.3C474.5,783 479.5,793.6 483,803.8C486.5,814.1 489,825.3 490.5,836.1C492.1,846.8 492.6,857.5 492.4,868.3C492.3,879 491.5,889.7 489.7,900.5C487.9,911.2 485,922.4 481.7,932.7C478.3,943 474.3,953.3 469.6,962.2C464.9,971.2 459.3,979.9 453.5,986.4C447.7,992.9 441,998.2 434.7,1001.1C428.4,1004 421.7,1004.9 415.9,1003.8C410.1,1002.7 405.2,999.6 399.8,994.4C394.4,989.3 388.4,981.5 383.7,973C379,964.5 375,953.7 371.6,943.4C368.3,933.1 365.7,922.8 363.6,911.2C361.5,899.6 359.7,885.3 359,873.6C358.3,862 358.5,852.2 359.5,841.4C360.5,830.7 362.4,819.1 364.9,809.2C367.4,799.4 370.5,790.9 374.3,782.4C378.1,773.9 382.8,764.9 387.7,758.2C392.6,751.5 398.2,745.6 403.8,742.1C409.4,738.6 415.7,737.6 421.3,737.3Z" fill="#6EC8C5" stroke="#0d0d0d" stroke-width="1.45" stroke-linejoin="round"/><path d="M422.6,769.5C427.5,769 432.7,770.2 437.4,773C442.1,775.8 446.3,780.4 450.8,786.4C455.3,792.4 460.7,800.9 464.2,809.2C467.8,817.5 470.3,826.7 472.3,836.1C474.3,845.4 476,855.7 476.3,865.6C476.7,875.4 476,885.3 474.4,895.1C472.9,905 470.4,915.7 466.9,924.6C463.4,933.6 458.4,942.5 453.5,948.8C448.6,955.1 442.8,959.6 437.4,962.2C432,964.8 426.6,965.7 421.3,964.4C415.9,963 410.1,959.4 405.2,954.2C400.2,948.9 395.5,940.7 391.7,932.7C387.9,924.6 384.8,915.7 382.3,905.8C379.9,896 377.7,883.9 377,873.6C376.2,863.3 376.7,853.5 377.8,844.1C378.9,834.7 380.9,825.8 383.7,817.3C386.5,808.8 390.4,800 394.4,793.1C398.5,786.2 403.2,779.6 407.9,775.7C412.6,771.7 417.7,769.9 422.6,769.5Z" fill="#35B8EA" stroke="#0d0d0d" stroke-width="1.45" stroke-linejoin="round"/><path d="M425.3,804.4C429.6,803.9 433.6,804.8 437.4,807.9C441.2,810.9 445.3,816.6 448.1,822.6C450.9,828.7 452.7,836.5 454,844.1C455.4,851.7 456.3,860.2 456.2,868.3C456.1,876.3 455.3,884.8 453.5,892.4C451.7,900 448.6,908.8 445.4,913.9C442.3,919 438.3,921.5 434.7,923.3C431.1,925.1 427.8,926.2 424,924.6C420.2,923.1 415.5,918.8 411.9,913.9C408.3,909 404.9,902.3 402.5,895.1C400,888 398,879 397.1,870.9C396.2,862.9 396.2,854.4 397.1,846.8C398,839.2 400,831.4 402.5,825.3C404.9,819.3 408.1,814 411.9,810.6C415.7,807.1 421.1,804.8 425.3,804.4Z" fill="#3B5BAB" stroke="#0d0d0d" stroke-width="1.45" stroke-linejoin="round"/><path d="M560.9,943.4C559.1,931.1 553,943.4 550.1,946.1C547.2,948.8 545.3,954.2 543.4,959.5C541.5,964.9 539.9,972.5 538.9,978.3C537.8,984.1 536.9,989.5 537.3,994.4C537.6,999.4 539,1004 540.7,1007.9C542.4,1011.7 544.1,1015.2 547.5,1017.2C550.8,1019.3 558.6,1032.2 560.9,1019.9C563.1,1007.6 562.7,955.7 560.9,943.4Z" fill="#FBA919" stroke="#0d0d0d" stroke-width="1.45" stroke-linejoin="round"/></g>
<clipPath id="cpD"><rect x="629" y="642" width="426" height="455"/></clipPath><g clip-path="url(#cpD)"><rect x="629" y="642" width="426" height="455" fill="#A2CD5A"/><path d="M672.7,637.4C673.1,641.9 674.7,655.3 675.4,664.3C676,673.2 676.6,682.1 676.7,691.1C676.8,700 676.6,709 675.9,717.9C675.2,726.9 674.1,735.8 672.7,744.8C671.2,753.7 669.3,762.7 667.3,771.6C665.3,780.6 662.6,789.5 660.6,798.5C658.6,807.4 656.3,816.4 655.2,825.3C654.1,834.3 653.9,843.2 653.9,852.2C653.9,861.1 654.3,870.1 655.2,879C656.1,888 657.7,897.3 659.3,905.8C660.8,914.3 662.4,922 664.6,930C666.9,938.1 669.5,946.1 672.7,954.2C675.8,962.2 679.4,970.3 683.4,978.3C687.4,986.4 692.4,994.9 696.8,1002.5C701.3,1010.1 705.8,1017.2 710.3,1024C714.7,1030.7 719.6,1037.8 723.7,1042.7C727.7,1047.7 730.6,1050.7 734.4,1053.5C738.2,1056.3 742,1058.9 746.5,1059.4C751,1059.8 756.1,1058.3 761.3,1056.2C766.4,1054.1 772,1051.2 777.4,1046.8C782.7,1042.3 788.5,1035.8 793.5,1029.3C798.4,1022.8 802,1015.9 806.9,1007.9C811.8,999.8 818.7,989.5 823,981C827.3,972.5 830.2,965.6 832.9,956.8C835.6,948.1 838,938.1 839.1,928.7C840.2,919.3 839.9,909.6 839.6,900.5C839.4,891.3 838.7,882.6 837.8,873.6C836.8,864.7 835.5,855.7 833.7,846.8C831.9,837.8 829.5,828.9 827,819.9C824.6,811 821.7,802.1 819,793.1C816.3,784.2 813.4,775.2 810.9,766.3C808.5,757.3 806,748.4 804.2,739.4C802.4,730.5 801.3,721.5 800.2,712.6C799.1,703.6 798.4,693.8 797.5,685.7C796.6,677.7 795.9,669.6 794.8,664.3C793.7,658.9 793.2,656.6 790.8,653.5C788.3,650.4 783.8,647.7 780,645.5C776.2,643.2 770.7,641.9 768,640.1C765.3,638.3 764.6,635.6 763.9,634.7L763.9,624L672.7,624Z" fill="#EDE81C" stroke="none"/><path d="M672.7,637.4C673.1,641.9 674.7,655.3 675.4,664.3C676,673.2 676.6,682.1 676.7,691.1C676.8,700 676.6,709 675.9,717.9C675.2,726.9 674.1,735.8 672.7,744.8C671.2,753.7 669.3,762.7 667.3,771.6C665.3,780.6 662.6,789.5 660.6,798.5C658.6,807.4 656.3,816.4 655.2,825.3C654.1,834.3 653.9,843.2 653.9,852.2C653.9,861.1 654.3,870.1 655.2,879C656.1,888 657.7,897.3 659.3,905.8C660.8,914.3 662.4,922 664.6,930C666.9,938.1 669.5,946.1 672.7,954.2C675.8,962.2 679.4,970.3 683.4,978.3C687.4,986.4 692.4,994.9 696.8,1002.5C701.3,1010.1 705.8,1017.2 710.3,1024C714.7,1030.7 719.6,1037.8 723.7,1042.7C727.7,1047.7 730.6,1050.7 734.4,1053.5C738.2,1056.3 742,1058.9 746.5,1059.4C751,1059.8 756.1,1058.3 761.3,1056.2C766.4,1054.1 772,1051.2 777.4,1046.8C782.7,1042.3 788.5,1035.8 793.5,1029.3C798.4,1022.8 802,1015.9 806.9,1007.9C811.8,999.8 818.7,989.5 823,981C827.3,972.5 830.2,965.6 832.9,956.8C835.6,948.1 838,938.1 839.1,928.7C840.2,919.3 839.9,909.6 839.6,900.5C839.4,891.3 838.7,882.6 837.8,873.6C836.8,864.7 835.5,855.7 833.7,846.8C831.9,837.8 829.5,828.9 827,819.9C824.6,811 821.7,802.1 819,793.1C816.3,784.2 813.4,775.2 810.9,766.3C808.5,757.3 806,748.4 804.2,739.4C802.4,730.5 801.3,721.5 800.2,712.6C799.1,703.6 798.4,693.8 797.5,685.7C796.6,677.7 795.9,669.6 794.8,664.3C793.7,658.9 793.2,656.6 790.8,653.5C788.3,650.4 783.8,647.7 780,645.5C776.2,643.2 770.7,641.9 768,640.1C765.3,638.3 764.6,635.6 763.9,634.7" fill="none" stroke="#0d0d0d" stroke-width="1.45" stroke-linejoin="round"/><path d="M737.1,726C741.6,726.2 747.8,728.2 753.2,731.4C758.6,734.5 764.4,739 769.3,744.8C774.2,750.6 778.7,758.2 782.7,766.3C786.8,774.3 789.9,784.2 793.5,793.1C797,802.1 800.8,811 804.2,819.9C807.6,828.9 810.9,837.8 813.6,846.8C816.3,855.7 818.5,864.7 820.3,873.6C822.1,882.6 823.7,891.5 824.3,900.5C825,909.4 825.2,918.4 824.3,927.3C823.4,936.3 821.4,945.7 819,954.2C816.5,962.7 813.4,971.2 809.6,978.3C805.8,985.5 801.1,992.2 796.2,997.1C791.2,1002 785.4,1005.4 780,1007.9C774.7,1010.3 768.9,1011.4 763.9,1011.9C759,1012.3 755.4,1013 750.5,1010.5C745.6,1008.1 739.8,1002.9 734.4,997.1C729,991.3 723.2,983.2 718.3,975.6C713.4,968 709.1,960 704.9,951.5C700.6,943 696.2,933.6 692.8,924.6C689.5,915.7 686.8,906.7 684.8,897.8C682.7,888.8 681.4,879.9 680.7,870.9C680.1,862 680.1,853.1 680.7,844.1C681.4,835.2 682.7,826.2 684.8,817.3C686.8,808.3 689.7,799.4 692.8,790.4C695.9,781.5 699.7,771.6 703.5,763.6C707.3,755.5 711.8,747.7 715.6,742.1C719.4,736.5 722.8,732.7 726.4,730C729.9,727.3 732.6,725.8 737.1,726Z" fill="#FBA919" stroke="#0d0d0d" stroke-width="1.45" stroke-linejoin="round"/><path d="M745.2,771.6C750.1,771.2 754.1,772.5 758.6,775.7C763,778.8 768,784.4 772,790.4C776,796.5 779.2,803.8 782.7,811.9C786.3,819.9 790.3,829.8 793.5,838.7C796.6,847.7 799.3,856.6 801.5,865.6C803.8,874.5 805.8,883.5 806.9,892.4C808,901.4 808.7,910.8 808.2,919.3C807.8,927.8 806.7,935.8 804.2,943.4C801.7,951 797.5,959.3 793.5,964.9C789.4,970.5 785,974.5 780,977C775.1,979.4 768.9,980.3 763.9,979.7C759,979 755.4,977.2 750.5,973C745.6,968.7 739.3,960.9 734.4,954.2C729.5,947.5 725,940.3 721,932.7C717,925.1 713.2,916.6 710.3,908.5C707.3,900.5 705.1,892.4 703.5,884.4C702,876.3 701.1,868.3 700.9,860.2C700.6,852.2 701.1,843.7 702.2,836.1C703.3,828.4 705.1,821.7 707.6,814.6C710,807.4 713.4,799.1 717,793.1C720.5,787.1 724.3,781.9 729,778.3C733.7,774.8 740.2,772.1 745.2,771.6Z" fill="#EE4423" stroke="#0d0d0d" stroke-width="1.45" stroke-linejoin="round"/><path d="M750.5,807.9C754.1,807.9 757.7,809 761.3,811.9C764.8,814.8 768.6,819.5 772,825.3C775.3,831.1 778.7,839.6 781.4,846.8C784.1,853.9 786.3,861.1 788.1,868.3C789.9,875.4 791.5,882.6 792.1,889.7C792.8,896.9 793,904.5 792.1,911.2C791.2,917.9 789.2,924.6 786.8,930C784.3,935.4 780.9,940.4 777.4,943.4C773.8,946.5 769.3,948.7 765.3,948.3C761.3,947.8 757,944.2 753.2,940.7C749.4,937.3 745.8,932.7 742.5,927.3C739.1,922 735.8,915.2 733.1,908.5C730.4,901.8 728,894.2 726.4,887.1C724.7,879.9 723.5,872.7 723.1,865.6C722.8,858.4 723,850.8 724.2,844.1C725.4,837.4 727.8,830.7 730.4,825.3C733,819.9 736.4,814.8 739.8,811.9C743.1,809 746.9,807.9 750.5,807.9Z" fill="#E31E26" stroke="#0d0d0d" stroke-width="1.45" stroke-linejoin="round"/><path d="M909.6,637.4C909.8,641 909.8,651.7 910.9,658.9C912,666 913.4,673.6 916.3,680.4C919.2,687.1 923.4,693.8 928.4,699.2C933.3,704.5 939.8,708.5 945.8,712.6C951.8,716.6 958.3,720 964.6,723.3C970.9,726.7 977.1,730 983.4,732.7C989.6,735.4 996.4,736.5 1002.2,739.4C1008,742.3 1013.4,746.1 1018.3,750.2C1023.2,754.2 1027.7,759.3 1031.7,763.6C1035.7,767.8 1038,772.9 1042.4,775.7C1046.9,778.4 1055.9,779.5 1058.5,780.2L1066.6,780.2L1066.6,624L909.6,624Z" fill="#EDE81C" stroke="none"/><path d="M909.6,637.4C909.8,641 909.8,651.7 910.9,658.9C912,666 913.4,673.6 916.3,680.4C919.2,687.1 923.4,693.8 928.4,699.2C933.3,704.5 939.8,708.5 945.8,712.6C951.8,716.6 958.3,720 964.6,723.3C970.9,726.7 977.1,730 983.4,732.7C989.6,735.4 996.4,736.5 1002.2,739.4C1008,742.3 1013.4,746.1 1018.3,750.2C1023.2,754.2 1027.7,759.3 1031.7,763.6C1035.7,767.8 1038,772.9 1042.4,775.7C1046.9,778.4 1055.9,779.5 1058.5,780.2" fill="none" stroke="#0d0d0d" stroke-width="1.45" stroke-linejoin="round"/><path d="M1058.5,824C1057.7,822.4 1055.1,817.6 1053.7,814.6C1052.3,811.6 1051.2,808.4 1050,806C1048.7,803.5 1048.4,800.4 1046.5,799.8C1044.5,799.2 1041.3,800 1038.4,802.5C1035.5,805 1032.1,809 1029,814.6C1025.9,820.2 1022.3,828.4 1019.6,836.1C1016.9,843.7 1014.9,851.7 1012.9,860.2C1010.9,868.7 1009.1,878.1 1007.5,887.1C1006,896 1004.9,905 1003.5,913.9C1002.2,922.8 1000.8,931.8 999.5,940.7C998.1,949.7 997.3,959.1 995.5,967.6C993.7,976.1 991.7,983.7 988.8,991.7C985.8,999.8 981.4,1007.9 978,1015.9C974.7,1024 971.3,1031.6 968.6,1040.1C965.9,1048.6 963.6,1056.6 961.9,1066.9C960.3,1077.2 959.2,1096 958.7,1101.8L958.7,1115.2L1066.6,1115.2L1066.6,824Z" fill="#EDE81C" stroke="none"/><path d="M1058.5,824C1057.7,822.4 1055.1,817.6 1053.7,814.6C1052.3,811.6 1051.2,808.4 1050,806C1048.7,803.5 1048.4,800.4 1046.5,799.8C1044.5,799.2 1041.3,800 1038.4,802.5C1035.5,805 1032.1,809 1029,814.6C1025.9,820.2 1022.3,828.4 1019.6,836.1C1016.9,843.7 1014.9,851.7 1012.9,860.2C1010.9,868.7 1009.1,878.1 1007.5,887.1C1006,896 1004.9,905 1003.5,913.9C1002.2,922.8 1000.8,931.8 999.5,940.7C998.1,949.7 997.3,959.1 995.5,967.6C993.7,976.1 991.7,983.7 988.8,991.7C985.8,999.8 981.4,1007.9 978,1015.9C974.7,1024 971.3,1031.6 968.6,1040.1C965.9,1048.6 963.6,1056.6 961.9,1066.9C960.3,1077.2 959.2,1096 958.7,1101.8" fill="none" stroke="#0d0d0d" stroke-width="1.45" stroke-linejoin="round"/><path d="M892.1,729.2C897.7,729.4 906.4,730.1 913.6,732.7C920.7,735.3 928.4,740.1 935.1,744.8C941.8,749.5 948,754.6 953.9,760.9C959.7,767.2 965.3,774.8 970,782.4C974.7,790 979.4,798.5 982,806.5C984.7,814.6 985.5,822.2 986.1,830.7C986.6,839.2 986.2,848.6 985.5,857.5C984.9,866.5 983.5,875.4 982,884.4C980.6,893.3 978.7,902.3 976.7,911.2C974.7,920.2 972.4,929.1 970,938.1C967.5,947 964.8,956 961.9,964.9C959,973.9 955.6,982.8 952.5,991.7C949.4,1000.7 946,1010.1 943.1,1018.6C940.2,1027.1 937.7,1035.6 935.1,1042.7C932.4,1049.9 930.1,1056.2 927,1061.5C923.9,1066.9 920.7,1070.9 916.3,1075C911.8,1079 906.4,1083 900.2,1085.7C893.9,1088.4 885.9,1090.1 878.7,1091.1C871.5,1092.1 862.4,1092.5 857.2,1091.6C852.1,1090.7 850.4,1088.9 847.8,1085.7C845.2,1082.5 842.8,1078.1 841.7,1072.3C840.5,1066.5 840.5,1059.3 841.1,1050.8C841.7,1042.3 843.6,1032.9 845.1,1021.3C846.7,1009.6 848.7,994.4 850.5,981C852.3,967.6 854.5,954.2 855.9,940.7C857.2,927.3 858.6,912.6 858.6,900.5C858.6,888.4 857,879 855.9,868.3C854.8,857.5 852.7,846.8 851.9,836.1C851,825.3 850.5,813.7 850.5,803.8C850.5,794 850.5,785 851.9,777C853.2,768.9 855.7,761.8 858.6,755.5C861.5,749.3 865.7,743.4 869.3,739.4C872.9,735.4 876.2,733.1 880,731.4C883.8,729.7 886.5,729 892.1,729.2Z" fill="#6EC8C5" stroke="#0d0d0d" stroke-width="1.45" stroke-linejoin="round"/><path d="M905.5,762.2C910,761.8 916.3,761.6 921.6,763.6C927,765.6 932.8,769.8 937.7,774.3C942.7,778.8 947.4,784.2 951.2,790.4C955,796.7 958.3,804.3 960.6,811.9C962.8,819.5 963.9,828 964.6,836.1C965.3,844.1 965.3,851.7 964.6,860.2C963.9,868.7 962.4,878.1 960.6,887.1C958.8,896 956.5,905 953.9,913.9C951.2,922.8 948,931.8 944.5,940.7C940.9,949.7 936.6,958.6 932.4,967.6C928.1,976.5 923,987.7 919,994.4C914.9,1001.1 911.1,1004.9 908.2,1007.9C905.3,1010.8 904,1012.8 901.5,1011.9C899.1,1011 895.9,1007.6 893.5,1002.5C891,997.3 888.8,989.1 886.7,981C884.7,973 882.9,963.1 881.4,954.2C879.8,945.2 878.7,936.3 877.4,927.3C876,918.4 874.5,909.4 873.3,900.5C872.1,891.5 871,882.6 870.1,873.6C869.2,864.7 868.1,855.7 868,846.8C867.8,837.8 868.2,828.4 869.3,819.9C870.4,811.4 872.2,802.9 874.7,795.8C877.1,788.6 880.7,781.9 884.1,777C887.4,772.1 891.2,768.7 894.8,766.3C898.4,763.8 901.1,762.7 905.5,762.2Z" fill="#35B8EA" stroke="#0d0d0d" stroke-width="1.45" stroke-linejoin="round"/><path d="M910.9,793.6C914,793.8 918.1,794.1 921.6,797.1C925.2,800.2 929.5,806.3 932.4,811.9C935.3,817.5 937.7,824 939.1,830.7C940.5,837.4 941.2,845 941,852.2C940.7,859.3 939.4,866.5 937.7,873.6C936.1,880.8 933.9,888.6 931,895.1C928.1,901.6 923.9,908.5 920.3,912.6C916.7,916.6 912.7,919.5 909.6,919.3C906.4,919 904.2,915.7 901.5,911.2C898.8,906.7 895.7,899.6 893.5,892.4C891.2,885.3 889.3,876.3 888.1,868.3C886.9,860.2 886.2,851.7 886.2,844.1C886.2,836.5 886.7,828.9 888.1,822.6C889.5,816.4 892.3,810.9 894.8,806.5C897.3,802.1 900.2,798.5 902.9,796.3C905.5,794.2 907.8,793.5 910.9,793.6Z" fill="#3B5BAB" stroke="#0d0d0d" stroke-width="1.45" stroke-linejoin="round"/></g>
<clipPath id="cpE"><rect x="130" y="1221" width="427" height="453"/></clipPath><g clip-path="url(#cpE)"><rect x="130" y="1221" width="427" height="453" fill="#6EC8C5"/><path d="M125.4,1451.6C126.7,1456.1 131.4,1467.2 133.4,1478.3C135.4,1489.5 136.3,1505.1 137.4,1518.4C138.5,1531.8 139.4,1545.2 140,1558.5C140.7,1571.9 141.1,1585.3 141.4,1598.6C141.7,1612 141.7,1624.9 141.9,1638.7C142.1,1652.5 142.6,1674.4 142.7,1681.5L120,1681.5L120,1451.6Z" fill="#A2CD5A" stroke="none"/><path d="M125.4,1451.6C126.7,1456.1 131.4,1467.2 133.4,1478.3C135.4,1489.5 136.3,1505.1 137.4,1518.4C138.5,1531.8 139.4,1545.2 140,1558.5C140.7,1571.9 141.1,1585.3 141.4,1598.6C141.7,1612 141.7,1624.9 141.9,1638.7C142.1,1652.5 142.6,1674.4 142.7,1681.5" fill="none" stroke="#0d0d0d" stroke-width="1.5" stroke-linejoin="round"/><path d="M125.4,1300.6C127.1,1301.7 133.6,1303.5 136,1307.2C138.5,1311 138.7,1317.9 140,1323.3C141.4,1328.6 142.5,1334 144.1,1339.3C145.6,1344.7 147.6,1350 149.4,1355.4C151.2,1360.7 153,1365.2 154.7,1371.4C156.5,1377.6 158.5,1384.8 160.1,1392.8C161.6,1400.8 163,1409.7 164.1,1419.5C165.2,1429.3 165.9,1439.6 166.8,1451.6C167.7,1463.6 168.3,1478.3 169.4,1491.7C170.6,1505.1 172.1,1518.4 173.4,1531.8C174.8,1545.2 175.9,1558.5 177.5,1571.9C179,1585.3 181.2,1600 182.8,1612C184.4,1624 185.6,1632.5 186.8,1644.1C188,1655.7 189.5,1675.3 190,1681.5L308.5,1690C308.8,1685 309.1,1675 310,1660C310.9,1645 312.7,1619.2 314,1600C315.3,1580.8 316.7,1563.3 318,1545C319.3,1526.7 320.8,1507.5 322,1490C323.2,1472.5 324.3,1453.3 325.5,1440C326.7,1426.7 327.8,1420 329,1410C330.2,1400 331.8,1389.2 333,1380C334.2,1370.8 335.1,1366.2 336,1355C336.9,1343.8 337.9,1320.8 338.5,1313C339.1,1305.2 338.5,1310.9 339.7,1308C340.9,1305.1 344.6,1299.2 345.9,1295.7C347.2,1292.2 346.2,1289.8 347.7,1286.8C349.2,1283.8 353.8,1281 354.8,1278C355.8,1275 353.3,1272.3 353.9,1269.1C354.5,1265.8 356.1,1261.2 358.3,1258.5C360.5,1255.8 363.4,1254.4 367.2,1253.2C371,1252 375.7,1252 381.3,1251.4C386.9,1250.8 399.6,1250.5 400.8,1249.6C402,1248.7 393.8,1247.7 388.4,1246.1C382.9,1244.5 367.5,1243 368.1,1239.9C368.7,1236.8 387.1,1231.7 392,1227.5C396.9,1223.3 396.4,1217.1 397.3,1215L121.5,1208.9L121.5,1300.6Z" fill="#35B8EA"/><path d="M125.4,1300.6C127.1,1301.7 133.6,1303.5 136,1307.2C138.5,1311 138.7,1317.9 140,1323.3C141.4,1328.6 142.5,1334 144.1,1339.3C145.6,1344.7 147.6,1350 149.4,1355.4C151.2,1360.7 153,1365.2 154.7,1371.4C156.5,1377.6 158.5,1384.8 160.1,1392.8C161.6,1400.8 163,1409.7 164.1,1419.5C165.2,1429.3 165.9,1439.6 166.8,1451.6C167.7,1463.6 168.3,1478.3 169.4,1491.7C170.6,1505.1 172.1,1518.4 173.4,1531.8C174.8,1545.2 175.9,1558.5 177.5,1571.9C179,1585.3 181.2,1600 182.8,1612C184.4,1624 185.6,1632.5 186.8,1644.1C188,1655.7 189.5,1675.3 190,1681.5" fill="none" stroke="#0d0d0d" stroke-width="1.5"/><path d="M308.5,1690C308.8,1685 309.1,1675 310,1660C310.9,1645 312.7,1619.2 314,1600C315.3,1580.8 316.7,1563.3 318,1545C319.3,1526.7 320.8,1507.5 322,1490C323.2,1472.5 324.3,1453.3 325.5,1440C326.7,1426.7 327.8,1420 329,1410C330.2,1400 331.8,1389.2 333,1380C334.2,1370.8 335.1,1366.2 336,1355C336.9,1343.8 337.9,1320.8 338.5,1313C339.1,1305.2 338.5,1310.9 339.7,1308C340.9,1305.1 344.6,1299.2 345.9,1295.7C347.2,1292.2 346.2,1289.8 347.7,1286.8C349.2,1283.8 353.8,1281 354.8,1278C355.8,1275 353.3,1272.3 353.9,1269.1C354.5,1265.8 356.1,1261.2 358.3,1258.5C360.5,1255.8 363.4,1254.4 367.2,1253.2C371,1252 375.7,1252 381.3,1251.4C386.9,1250.8 399.6,1250.5 400.8,1249.6C402,1248.7 393.8,1247.7 388.4,1246.1C382.9,1244.5 367.5,1243 368.1,1239.9C368.7,1236.8 387.1,1231.7 392,1227.5C396.9,1223.3 396.4,1217.1 397.3,1215" fill="none" stroke="#0d0d0d" stroke-width="1.5"/><path d="M152.1,1216.3C153,1217.9 153.9,1223 157.4,1225.7C161,1228.4 167.4,1230.2 173.4,1232.4C179.5,1234.6 191.7,1236 193.5,1239.1C195.3,1242.2 187.5,1247.1 184.1,1251.1C180.8,1255.1 176.1,1258.7 173.4,1263.1C170.8,1267.6 168.8,1272.3 168.1,1277.8C167.4,1283.4 168.5,1289.9 169.4,1296.5C170.3,1303.2 171.9,1310.8 173.4,1317.9C175,1325.1 177,1332.2 178.8,1339.3C180.6,1346.4 182.6,1353.1 184.1,1360.7C185.7,1368.3 187.2,1376.3 188.1,1384.8C189.1,1393.2 189.6,1402.6 190,1411.5C190.5,1420.4 190.5,1429.3 190.8,1438.2C191.1,1447.1 191.1,1458 191.6,1465C192.1,1472 192.4,1471.3 193.8,1480.2C195.1,1489.1 197.5,1505.4 199.6,1518.4C201.8,1531.5 204.4,1546.1 206.8,1558.5C209.3,1571 211.4,1582.4 214.1,1593.3C216.7,1604.2 219.9,1615 222.6,1624C225.3,1633.1 227.3,1640.6 230.4,1647.5C233.4,1654.5 237.3,1661.8 240.8,1666C244.3,1670.2 247.7,1672.2 251.2,1672.7C254.7,1673.1 258.1,1672.9 261.6,1668.7C265.1,1664.5 268.8,1656.3 272.3,1647.5C275.8,1638.8 279.3,1627.6 282.7,1616.3C286.2,1605 290.1,1591.5 293.2,1579.6C296.2,1567.8 298.3,1557.6 300.9,1545.4C303.5,1533.2 307,1517.3 308.9,1506.4C310.9,1495.5 311.7,1489.3 312.7,1480.2C313.6,1471.1 313.9,1460.8 314.5,1451.6C315.2,1442.4 315.4,1436 316.4,1424.9C317.4,1413.7 319.3,1398.1 320.4,1384.8C321.5,1371.4 322.3,1356.7 323.1,1344.7C323.9,1332.6 324.7,1321.5 325.2,1312.6C325.8,1303.7 326,1297.9 326.3,1291.2C326.6,1284.5 327.6,1278.3 327.1,1272.5C326.6,1266.7 324.4,1261.3 323.1,1256.4C321.7,1251.5 320.2,1247.1 319.1,1243.1C318,1239.1 317.3,1235.5 316.4,1232.4C315.5,1229.3 314.3,1227.5 313.7,1224.4C313.2,1221.2 313.1,1215.5 312.9,1213.7L312.9,1203L152.1,1203Z" fill="#3B5BAB" stroke="none"/><path d="M152.1,1216.3C153,1217.9 153.9,1223 157.4,1225.7C161,1228.4 167.4,1230.2 173.4,1232.4C179.5,1234.6 191.7,1236 193.5,1239.1C195.3,1242.2 187.5,1247.1 184.1,1251.1C180.8,1255.1 176.1,1258.7 173.4,1263.1C170.8,1267.6 168.8,1272.3 168.1,1277.8C167.4,1283.4 168.5,1289.9 169.4,1296.5C170.3,1303.2 171.9,1310.8 173.4,1317.9C175,1325.1 177,1332.2 178.8,1339.3C180.6,1346.4 182.6,1353.1 184.1,1360.7C185.7,1368.3 187.2,1376.3 188.1,1384.8C189.1,1393.2 189.6,1402.6 190,1411.5C190.5,1420.4 190.5,1429.3 190.8,1438.2C191.1,1447.1 191.1,1458 191.6,1465C192.1,1472 192.4,1471.3 193.8,1480.2C195.1,1489.1 197.5,1505.4 199.6,1518.4C201.8,1531.5 204.4,1546.1 206.8,1558.5C209.3,1571 211.4,1582.4 214.1,1593.3C216.7,1604.2 219.9,1615 222.6,1624C225.3,1633.1 227.3,1640.6 230.4,1647.5C233.4,1654.5 237.3,1661.8 240.8,1666C244.3,1670.2 247.7,1672.2 251.2,1672.7C254.7,1673.1 258.1,1672.9 261.6,1668.7C265.1,1664.5 268.8,1656.3 272.3,1647.5C275.8,1638.8 279.3,1627.6 282.7,1616.3C286.2,1605 290.1,1591.5 293.2,1579.6C296.2,1567.8 298.3,1557.6 300.9,1545.4C303.5,1533.2 307,1517.3 308.9,1506.4C310.9,1495.5 311.7,1489.3 312.7,1480.2C313.6,1471.1 313.9,1460.8 314.5,1451.6C315.2,1442.4 315.4,1436 316.4,1424.9C317.4,1413.7 319.3,1398.1 320.4,1384.8C321.5,1371.4 322.3,1356.7 323.1,1344.7C323.9,1332.6 324.7,1321.5 325.2,1312.6C325.8,1303.7 326,1297.9 326.3,1291.2C326.6,1284.5 327.6,1278.3 327.1,1272.5C326.6,1266.7 324.4,1261.3 323.1,1256.4C321.7,1251.5 320.2,1247.1 319.1,1243.1C318,1239.1 317.3,1235.5 316.4,1232.4C315.5,1229.3 314.3,1227.5 313.7,1224.4C313.2,1221.2 313.1,1215.5 312.9,1213.7" fill="none" stroke="#0d0d0d" stroke-width="1.5" stroke-linejoin="round"/><path d="M248.3,1253.2C255.4,1253.4 263.4,1253.9 269.6,1255.1C275.9,1256.3 281,1258 285.7,1260.5C290.4,1262.9 294.8,1266 297.7,1269.8C300.6,1273.6 301.9,1277.8 303,1283.2C304.2,1288.5 304.6,1295.2 304.4,1301.9C304.2,1308.6 303,1316.2 301.7,1323.3C300.4,1330.4 297.9,1336.6 296.4,1344.7C294.8,1352.7 293.2,1362.5 292.4,1371.4C291.5,1380.3 291,1389.2 291,1398.1C291,1407 291.9,1416 292.4,1424.9C292.8,1433.8 293.6,1442.7 293.7,1451.6C293.8,1460.5 293.8,1469.4 293.2,1478.3C292.5,1487.2 291.4,1497 289.7,1505.1C288,1513.1 285.9,1519.8 283,1526.4C280.1,1533.1 275.9,1540 272.3,1545.2C268.8,1550.3 265,1554.5 261.6,1557.2C258.3,1559.9 255.6,1561.4 252.3,1561.2C248.9,1561 245.1,1559 241.6,1555.9C238,1552.7 234,1547.8 230.9,1542.5C227.8,1537.1 225.2,1530.5 222.9,1523.8C220.5,1517.1 218.3,1510 216.7,1502.4C215.2,1494.8 214.1,1486.8 213.5,1478.3C213,1469.9 213.1,1460.5 213.5,1451.6C214,1442.7 215.5,1433.8 216.2,1424.9C216.9,1416 217.8,1407 217.5,1398.1C217.3,1389.2 216.2,1380.3 214.9,1371.4C213.5,1362.5 211.5,1353.6 209.5,1344.7C207.5,1335.8 204.6,1326 202.8,1317.9C201.1,1309.9 199.7,1302.8 198.8,1296.5C197.9,1290.3 197.1,1285.4 197.5,1280.5C197.9,1275.6 199.3,1270.7 201.5,1267.1C203.7,1263.6 206.6,1261.3 210.9,1259.1C215.1,1257 220.7,1255.3 226.9,1254.3C233.1,1253.3 241.1,1253.1 248.3,1253.2Z" fill="#3953A4" stroke="#0d0d0d" stroke-width="1.5" stroke-linejoin="round"/><path d="M250.9,1276.5C254.9,1276.5 260.7,1277.2 264.3,1279.2C267.9,1281.2 269.9,1284.5 272.3,1288.5C274.8,1292.5 279,1299.2 279,1303.2C279,1307.2 274.1,1308.8 272.3,1312.6C270.5,1316.4 270.1,1321.5 268.3,1326C266.5,1330.4 264.3,1336.3 261.6,1339.3C259,1342.3 255.4,1344.6 252.3,1344.1C249.2,1343.7 245.8,1340.6 242.9,1336.6C240,1332.7 237.4,1326.2 234.9,1320.6C232.5,1315 228.7,1308.6 228.2,1303.2C227.8,1297.9 230.2,1292.5 232.2,1288.5C234.2,1284.5 237.1,1281.2 240.3,1279.2C243.4,1277.2 246.9,1276.5 250.9,1276.5Z" fill="#2B3592" stroke="#1a2266" stroke-width="1.0" stroke-linejoin="round"/><path d="M335.4,1681.5C335.4,1674.4 335.7,1654.8 335.9,1638.7C336.1,1622.7 336.3,1603.1 336.7,1585.3C337,1567.4 337.6,1549.6 338,1531.8C338.5,1514 338.7,1496.2 339.4,1478.3C340,1460.5 340.9,1440.5 342,1424.9C343.1,1409.3 344.5,1397.2 346,1384.8C347.6,1372.3 349.6,1359.8 351.4,1350C353.2,1340.2 355.4,1332.2 356.7,1326C358.1,1319.7 357.8,1316.4 359.4,1312.6C361,1308.8 363.9,1306.3 366.1,1303.2C368.3,1300.1 369.9,1296.8 372.8,1293.9C375.7,1291 379.4,1288.5 383.4,1285.9C387.5,1283.2 392.4,1279.7 396.8,1277.8C401.3,1275.9 405.3,1275.2 410.2,1274.4C415.1,1273.6 420.4,1273.2 426.2,1273C432,1272.8 439.1,1272.4 444.9,1273C450.7,1273.6 456,1275.2 460.9,1276.5C465.8,1277.8 469.8,1279 474.3,1281C478.8,1283 484.5,1286.4 487.7,1288.5C490.8,1290.7 492.6,1292.1 493,1293.9C493.4,1295.7 489,1296.8 490.3,1299.2C491.7,1301.7 498.3,1306.1 501,1308.6C503.7,1311 505.7,1311 506.4,1313.9C507,1316.8 504.8,1320.8 505,1326C505.3,1331.1 506.1,1337.1 507.7,1344.7C509.3,1352.2 512.4,1362.5 514.4,1371.4C516.4,1380.3 517.9,1388.3 519.7,1398.1C521.5,1407.9 523.5,1419.1 525.1,1430.2C526.6,1441.3 528,1452.5 529.1,1465C530.2,1477.4 530.9,1491.7 531.7,1505.1C532.6,1518.4 533.5,1531.8 534.4,1545.2C535.3,1558.5 536.2,1571.9 537.1,1585.3C538,1598.6 539.1,1609.3 539.8,1625.4C540.4,1641.4 540.9,1672.1 541.1,1681.5Z" fill="#A2CD5A" stroke="none"/><path d="M335.4,1681.5C335.4,1674.4 335.7,1654.8 335.9,1638.7C336.1,1622.7 336.3,1603.1 336.7,1585.3C337,1567.4 337.6,1549.6 338,1531.8C338.5,1514 338.7,1496.2 339.4,1478.3C340,1460.5 340.9,1440.5 342,1424.9C343.1,1409.3 344.5,1397.2 346,1384.8C347.6,1372.3 349.6,1359.8 351.4,1350C353.2,1340.2 355.4,1332.2 356.7,1326C358.1,1319.7 357.8,1316.4 359.4,1312.6C361,1308.8 363.9,1306.3 366.1,1303.2C368.3,1300.1 369.9,1296.8 372.8,1293.9C375.7,1291 379.4,1288.5 383.4,1285.9C387.5,1283.2 392.4,1279.7 396.8,1277.8C401.3,1275.9 405.3,1275.2 410.2,1274.4C415.1,1273.6 420.4,1273.2 426.2,1273C432,1272.8 439.1,1272.4 444.9,1273C450.7,1273.6 456,1275.2 460.9,1276.5C465.8,1277.8 469.8,1279 474.3,1281C478.8,1283 484.5,1286.4 487.7,1288.5C490.8,1290.7 492.6,1292.1 493,1293.9C493.4,1295.7 489,1296.8 490.3,1299.2C491.7,1301.7 498.3,1306.1 501,1308.6C503.7,1311 505.7,1311 506.4,1313.9C507,1316.8 504.8,1320.8 505,1326C505.3,1331.1 506.1,1337.1 507.7,1344.7C509.3,1352.2 512.4,1362.5 514.4,1371.4C516.4,1380.3 517.9,1388.3 519.7,1398.1C521.5,1407.9 523.5,1419.1 525.1,1430.2C526.6,1441.3 528,1452.5 529.1,1465C530.2,1477.4 530.9,1491.7 531.7,1505.1C532.6,1518.4 533.5,1531.8 534.4,1545.2C535.3,1558.5 536.2,1571.9 537.1,1585.3C538,1598.6 539.1,1609.3 539.8,1625.4C540.4,1641.4 540.9,1672.1 541.1,1681.5" fill="none" stroke="#0d0d0d" stroke-width="1.5" stroke-linejoin="round"/><path d="M363.4,1681.5C363.1,1674.4 362.4,1654.8 361.5,1638.7C360.6,1622.7 359.2,1603.1 358.1,1585.3C356.9,1567.4 355.5,1549.6 354.6,1531.8C353.7,1514 352.9,1493.9 352.7,1478.3C352.5,1462.7 352.9,1451.6 353.5,1438.2C354.2,1424.9 355.3,1410.2 356.7,1398.1C358.2,1386.1 359.8,1375.9 362.1,1366.1C364.3,1356.2 367,1346.9 370.1,1339.3C373.2,1331.7 376.8,1325.4 380.8,1320.6C384.8,1315.8 389.2,1312.7 394.1,1310.4C399,1308.2 403.9,1307.9 410.2,1307.2C416.4,1306.6 425.3,1306.5 431.5,1306.7C437.8,1306.9 442.7,1307.4 447.6,1308.6C452.5,1309.8 457.4,1311.5 460.9,1313.9C464.5,1316.4 466.3,1319 469,1323.3C471.6,1327.5 474.5,1333.1 477,1339.3C479.4,1345.6 481.4,1353.1 483.7,1360.7C485.9,1368.3 488.3,1376.3 490.3,1384.8C492.3,1393.2 493.9,1402.6 495.7,1411.5C497.5,1420.4 499.5,1429.3 501,1438.2C502.6,1447.1 504.1,1456.1 505,1465C505.9,1473.9 506.2,1482.8 506.4,1491.7C506.5,1500.6 506.3,1509.5 505.8,1518.4C505.4,1527.3 504.5,1536.3 503.7,1545.2C502.9,1554.1 501.9,1563 501,1571.9C500.1,1580.8 499.2,1589.7 498.3,1598.6C497.5,1607.5 496.5,1616.4 495.7,1625.4C494.9,1634.3 494,1642.7 493.5,1652.1C493.1,1661.4 493.1,1676.6 493,1681.5Z" fill="#EDE81C" stroke="none"/><path d="M363.4,1681.5C363.1,1674.4 362.4,1654.8 361.5,1638.7C360.6,1622.7 359.2,1603.1 358.1,1585.3C356.9,1567.4 355.5,1549.6 354.6,1531.8C353.7,1514 352.9,1493.9 352.7,1478.3C352.5,1462.7 352.9,1451.6 353.5,1438.2C354.2,1424.9 355.3,1410.2 356.7,1398.1C358.2,1386.1 359.8,1375.9 362.1,1366.1C364.3,1356.2 367,1346.9 370.1,1339.3C373.2,1331.7 376.8,1325.4 380.8,1320.6C384.8,1315.8 389.2,1312.7 394.1,1310.4C399,1308.2 403.9,1307.9 410.2,1307.2C416.4,1306.6 425.3,1306.5 431.5,1306.7C437.8,1306.9 442.7,1307.4 447.6,1308.6C452.5,1309.8 457.4,1311.5 460.9,1313.9C464.5,1316.4 466.3,1319 469,1323.3C471.6,1327.5 474.5,1333.1 477,1339.3C479.4,1345.6 481.4,1353.1 483.7,1360.7C485.9,1368.3 488.3,1376.3 490.3,1384.8C492.3,1393.2 493.9,1402.6 495.7,1411.5C497.5,1420.4 499.5,1429.3 501,1438.2C502.6,1447.1 504.1,1456.1 505,1465C505.9,1473.9 506.2,1482.8 506.4,1491.7C506.5,1500.6 506.3,1509.5 505.8,1518.4C505.4,1527.3 504.5,1536.3 503.7,1545.2C502.9,1554.1 501.9,1563 501,1571.9C500.1,1580.8 499.2,1589.7 498.3,1598.6C497.5,1607.5 496.5,1616.4 495.7,1625.4C494.9,1634.3 494,1642.7 493.5,1652.1C493.1,1661.4 493.1,1676.6 493,1681.5" fill="none" stroke="#0d0d0d" stroke-width="1.5" stroke-linejoin="round"/><path d="M426.2,1346C430.2,1346.2 435.6,1346.9 439.6,1348.7C443.6,1350.5 446.7,1352.9 450.2,1356.7C453.8,1360.5 457.6,1365.4 460.9,1371.4C464.3,1377.4 467.4,1385.2 470.3,1392.8C473.2,1400.4 475.9,1408.4 478.3,1416.8C480.8,1425.3 483.3,1434.7 485,1443.6C486.6,1452.5 487.7,1461.4 488.2,1470.3C488.6,1479.2 488.3,1489.3 487.7,1497C487,1504.8 485.7,1507.5 484.5,1516.8C483.2,1526.2 481.7,1541.4 480.2,1553.2C478.6,1565 476.9,1577.9 475.1,1587.7C473.3,1597.5 471.5,1604.6 469.5,1612C467.4,1619.4 464.9,1626.3 462.8,1632C460.7,1637.8 459,1642.3 456.9,1646.7C454.9,1651.2 452.7,1655.4 450.5,1658.8C448.3,1662.1 446,1664.4 443.6,1666.8C441.2,1669.2 438.3,1671 436.1,1672.9C433.9,1674.9 432.7,1677.4 430.2,1678.3C427.7,1679.2 423.4,1679.2 420.9,1678.3C418.3,1677.4 416.8,1674.9 415,1672.9C413.1,1671 411.4,1669.2 409.6,1666.8C407.9,1664.4 406.2,1662.1 404.3,1658.8C402.4,1655.4 400.2,1651.2 398.1,1646.7C396.1,1642.3 394,1637.8 392,1632C390,1626.3 387.9,1619.4 386.1,1612C384.3,1604.6 383.1,1597.5 381.3,1587.7C379.5,1577.9 377.2,1565 375.4,1553.2C373.7,1541.4 372,1528 370.6,1516.8C369.2,1505.7 367.9,1495.4 366.9,1486.3C365.9,1477.3 364.9,1469.9 364.7,1462.3C364.6,1454.7 365,1448.9 366.1,1440.9C367.2,1432.9 369.2,1422.6 371.4,1414.2C373.7,1405.7 376.3,1397.7 379.4,1390.1C382.6,1382.5 386.1,1374.7 390.1,1368.7C394.1,1362.7 399.3,1357.6 403.5,1354C407.7,1350.5 411.7,1348.7 415.5,1347.3C419.3,1346 422.2,1345.8 426.2,1346Z" fill="#FBA919" stroke="#0d0d0d" stroke-width="1.5" stroke-linejoin="round"/><path d="M428.9,1389.6C432.2,1389.9 436,1390.4 439.6,1392.3C443.1,1394.1 446.7,1396.7 450.2,1400.8C453.8,1404.9 458,1411.1 460.9,1416.8C463.8,1422.6 465.8,1428.9 467.6,1435.6C469.4,1442.2 471.2,1449.8 471.6,1456.9C472.1,1464.1 471.2,1471.2 470.3,1478.3C469.4,1485.5 467.8,1492.6 466.3,1499.7C464.7,1506.8 463.2,1514 460.9,1521.1C458.7,1528.2 456,1535.4 452.9,1542.5C449.8,1549.6 445.6,1558.3 442.2,1563.9C438.9,1569.4 435.8,1573.3 432.9,1575.9C430,1578.5 427.8,1579.8 424.9,1579.4C422,1578.9 418.6,1576.3 415.5,1573.2C412.4,1570.2 409.3,1566.8 406.2,1561.2C403,1555.6 399.6,1547.4 396.8,1539.8C394,1532.2 391.6,1523.8 389.3,1515.8C387.1,1507.7 384.9,1499.7 383.4,1491.7C382,1483.7 381,1475.7 380.8,1467.6C380.6,1459.6 381,1451.2 382.1,1443.6C383.2,1436 385,1428.4 387.5,1422.2C389.9,1416 393.2,1410.8 396.8,1406.2C400.4,1401.5 405,1396.8 408.8,1394.1C412.6,1391.4 416.2,1390.9 419.5,1390.1C422.9,1389.4 425.5,1389.2 428.9,1389.6Z" fill="#EE4423" stroke="#0d0d0d" stroke-width="1.5" stroke-linejoin="round"/><path d="M423.5,1425.4C426.6,1425.4 430,1426.2 432.9,1428.1C435.8,1430 438.7,1433.2 440.9,1436.9C443.1,1440.6 445.1,1446 446.2,1450.3C447.4,1454.5 447.8,1458.1 447.6,1462.3C447.4,1466.5 446.2,1471.2 444.9,1475.7C443.6,1480.1 441.8,1485.4 439.6,1489C437.3,1492.7 434.2,1495.8 431.5,1497.6C428.9,1499.4 426.4,1500.3 423.5,1499.7C420.6,1499.2 417.1,1497.5 414.2,1494.4C411.3,1491.3 408.2,1485.9 406.2,1481C404.2,1476.1 402.9,1469.9 402.2,1465C401.4,1460.1 400.9,1456.1 401.6,1451.6C402.3,1447.1 404.1,1442.2 406.2,1438.2C408.3,1434.3 411.3,1430.2 414.2,1428.1C417.1,1425.9 420.4,1425.4 423.5,1425.4Z" fill="#E31E26" stroke="#0d0d0d" stroke-width="1.5" stroke-linejoin="round"/><path d="M562.5,1226.5L543.8,1231.1L522.4,1236.4L509,1237.7L527.7,1240.4L541.1,1242L530.4,1244.4L541.1,1246.3L562.5,1247.1Z" fill="#35B8EA" stroke="#0d0d0d" stroke-width="0.9" stroke-linejoin="round"/><path d="M562.5,1296L552.3,1298.7L553.4,1317.9L554.2,1371.4L555.3,1424.9L562.5,1441.4Z" fill="#35B8EA" stroke="#0d0d0d" stroke-width="0.9" stroke-linejoin="round"/><rect x="130" y="1219.8" width="427" height="4" fill="#0a0a0a"/><rect x="190" y="1220.8" width="75" height="2" fill="#b9b9a8"/></g>
<clipPath id="cpF"><rect x="629" y="1221" width="426" height="453"/></clipPath><g clip-path="url(#cpF)"><rect x="629" y="1221" width="426" height="453" fill="#6EC8C5"/><path d="M621.7,1368.7C623.7,1370.9 630.6,1377.6 633.7,1382C636.8,1386.5 638.6,1390.5 640.4,1395.4C642.2,1400.3 643.5,1404.3 644.4,1411.4C645.3,1418.6 645.5,1427 645.7,1438.2C645.9,1449.3 645.9,1464.9 645.7,1478.2C645.5,1491.6 644.6,1505 644.4,1518.3C644.2,1531.7 644.2,1545 644.4,1558.4C644.6,1571.8 645.3,1585.1 645.7,1598.5C646.2,1611.9 646.8,1624.3 647.1,1638.6C647.3,1652.8 647.1,1676.4 647.1,1684L624,1684L624,1368.7Z" fill="#A2CD5A" stroke="none"/><path d="M621.7,1368.7C623.7,1370.9 630.6,1377.6 633.7,1382C636.8,1386.5 638.6,1390.5 640.4,1395.4C642.2,1400.3 643.5,1404.3 644.4,1411.4C645.3,1418.6 645.5,1427 645.7,1438.2C645.9,1449.3 645.9,1464.9 645.7,1478.2C645.5,1491.6 644.6,1505 644.4,1518.3C644.2,1531.7 644.2,1545 644.4,1558.4C644.6,1571.8 645.3,1585.1 645.7,1598.5C646.2,1611.9 646.8,1624.3 647.1,1638.6C647.3,1652.8 647.1,1676.4 647.1,1684" fill="none" stroke="#0d0d0d" stroke-width="1.5" stroke-linejoin="round"/><path d="M691.7,1684C691.4,1676.4 690.6,1650.6 689.8,1638.6C689.1,1626.6 688.3,1620.8 687.1,1611.9C686,1602.9 684.5,1594 683.1,1585.1C681.8,1576.2 680.5,1567.3 679.1,1558.4C677.8,1549.5 676.2,1540.6 675.1,1531.7C674,1522.8 672.9,1513.9 672.4,1505C672,1496.1 672.1,1488 672.4,1478.2C672.8,1468.4 673.9,1456 674.6,1446.2C675.3,1436.4 676.4,1428.4 676.5,1419.4C676.5,1410.5 676,1400.7 675.1,1392.7C674.2,1384.7 672.7,1377.6 671.1,1371.3C669.6,1365.1 667.8,1360.2 665.8,1355.3C663.8,1350.4 662.2,1346.6 659.1,1341.9C656,1337.3 650.6,1331.9 647.1,1327.2C643.5,1322.6 641.9,1318.1 637.7,1313.9C633.5,1309.7 624.3,1303.9 621.7,1301.9L624,1250.6L625,1250.6C629.2,1250.1 643.3,1248.5 650.4,1247.6C657.5,1246.6 661.7,1246 667.3,1245C673,1244 678.6,1242.9 684.3,1241.6C689.9,1240.4 695.3,1239.2 701.2,1237.4C707.1,1235.6 713.6,1232.5 719.8,1230.6C726,1228.8 734.5,1227.8 738.5,1226.4C742.4,1225 742.7,1222.9 743.5,1222.2L765.6,1222.2C766.1,1222.9 766.4,1225 768.9,1226.4C771.5,1227.8 777.4,1229.2 780.8,1230.6C784.2,1232 786.3,1233.6 789.2,1234.9C792.2,1236.1 796.3,1236.9 798.5,1238.1C800.6,1239.2 802.2,1240.7 802.2,1241.8C802.2,1242.9 800.6,1243.7 798.5,1244.6C796.3,1245.4 791.1,1245.8 789.2,1246.9C787.4,1247.9 786.8,1249.7 787.4,1251C788,1252.3 791.1,1253.3 792.9,1254.7C794.8,1256.1 796.6,1258 798.5,1259.3C800.3,1260.7 802.2,1261.7 804,1263C805.9,1264.4 808,1266.1 809.6,1267.7C811.1,1269.2 812,1271.2 813.3,1272.3C814.5,1273.4 816.8,1273.2 817,1274.1C817.1,1275 813.7,1276.3 814.2,1277.8C814.6,1279.4 818.5,1281.8 819.7,1283.4C821,1284.9 822,1285.7 821.6,1287.1C821.1,1288.4 818,1290.3 817,1291.7C815.9,1293.1 814,1293.8 815.1,1295.4C816.2,1296.9 823.1,1299.2 823.4,1300.9C823.7,1302.6 819.6,1304 817,1305.5C814.3,1307.1 809.7,1308.3 807.7,1310.2C805.7,1312 805.1,1314 804.9,1316.6C804.8,1319.2 806.6,1322.8 806.8,1325.9C806.9,1328.9 806.5,1331.9 805.9,1335C805.2,1338.1 803.2,1338.6 802.9,1344.6C802.5,1350.7 803.2,1362.4 803.9,1371.3C804.7,1380.2 805.9,1389.2 807.4,1398.1C808.9,1407 811,1415.9 812.7,1424.8C814.5,1433.7 816.9,1442.6 818.1,1451.5C819.3,1460.4 819.5,1467.1 820,1478.2C820.4,1489.4 820.9,1505 820.8,1518.3C820.7,1531.7 820.1,1545 819.4,1558.4C818.8,1571.8 818.1,1585.1 816.8,1598.5C815.4,1611.9 813.2,1624.3 811.4,1638.6C809.6,1652.8 807,1676.4 806.1,1684Z" fill="#35B8EA"/><path d="M691.7,1684C691.4,1676.4 690.6,1650.6 689.8,1638.6C689.1,1626.6 688.3,1620.8 687.1,1611.9C686,1602.9 684.5,1594 683.1,1585.1C681.8,1576.2 680.5,1567.3 679.1,1558.4C677.8,1549.5 676.2,1540.6 675.1,1531.7C674,1522.8 672.9,1513.9 672.4,1505C672,1496.1 672.1,1488 672.4,1478.2C672.8,1468.4 673.9,1456 674.6,1446.2C675.3,1436.4 676.4,1428.4 676.5,1419.4C676.5,1410.5 676,1400.7 675.1,1392.7C674.2,1384.7 672.7,1377.6 671.1,1371.3C669.6,1365.1 667.8,1360.2 665.8,1355.3C663.8,1350.4 662.2,1346.6 659.1,1341.9C656,1337.3 650.6,1331.9 647.1,1327.2C643.5,1322.6 641.9,1318.1 637.7,1313.9C633.5,1309.7 624.3,1303.9 621.7,1301.9" fill="none" stroke="#0d0d0d" stroke-width="1.5"/><path d="M625,1250.6C629.2,1250.1 643.3,1248.5 650.4,1247.6C657.5,1246.6 661.7,1246 667.3,1245C673,1244 678.6,1242.9 684.3,1241.6C689.9,1240.4 695.3,1239.2 701.2,1237.4C707.1,1235.6 713.6,1232.5 719.8,1230.6C726,1228.8 734.5,1227.8 738.5,1226.4C742.4,1225 742.7,1222.9 743.5,1222.2" fill="none" stroke="#0d0d0d" stroke-width="1.5"/><path d="M765.6,1222.2C766.1,1222.9 766.4,1225 768.9,1226.4C771.5,1227.8 777.4,1229.2 780.8,1230.6C784.2,1232 786.3,1233.6 789.2,1234.9C792.2,1236.1 796.3,1236.9 798.5,1238.1C800.6,1239.2 802.2,1240.7 802.2,1241.8C802.2,1242.9 800.6,1243.7 798.5,1244.6C796.3,1245.4 791.1,1245.8 789.2,1246.9C787.4,1247.9 786.8,1249.7 787.4,1251C788,1252.3 791.1,1253.3 792.9,1254.7C794.8,1256.1 796.6,1258 798.5,1259.3C800.3,1260.7 802.2,1261.7 804,1263C805.9,1264.4 808,1266.1 809.6,1267.7C811.1,1269.2 812,1271.2 813.3,1272.3C814.5,1273.4 816.8,1273.2 817,1274.1C817.1,1275 813.7,1276.3 814.2,1277.8C814.6,1279.4 818.5,1281.8 819.7,1283.4C821,1284.9 822,1285.7 821.6,1287.1C821.1,1288.4 818,1290.3 817,1291.7C815.9,1293.1 814,1293.8 815.1,1295.4C816.2,1296.9 823.1,1299.2 823.4,1300.9C823.7,1302.6 819.6,1304 817,1305.5C814.3,1307.1 809.7,1308.3 807.7,1310.2C805.7,1312 805.1,1314 804.9,1316.6C804.8,1319.2 806.6,1322.8 806.8,1325.9C806.9,1328.9 806.5,1331.9 805.9,1335C805.2,1338.1 803.2,1338.6 802.9,1344.6C802.5,1350.7 803.2,1362.4 803.9,1371.3C804.7,1380.2 805.9,1389.2 807.4,1398.1C808.9,1407 811,1415.9 812.7,1424.8C814.5,1433.7 816.9,1442.6 818.1,1451.5C819.3,1460.4 819.5,1467.1 820,1478.2C820.4,1489.4 820.9,1505 820.8,1518.3C820.7,1531.7 820.1,1545 819.4,1558.4C818.8,1571.8 818.1,1585.1 816.8,1598.5C815.4,1611.9 813.2,1624.3 811.4,1638.6C809.6,1652.8 807,1676.4 806.1,1684" fill="none" stroke="#0d0d0d" stroke-width="1.5"/><path d="M625,1246.2C627.8,1245.9 636.3,1245.1 641.9,1244.2C647.6,1243.3 652.4,1242.5 658.9,1240.8C665.4,1239.1 673.3,1236.4 680.9,1234C688.5,1231.6 699.8,1228.4 704.6,1226.4C709.4,1224.4 708.8,1222.9 709.7,1222.2L624,1216L624,1246.2Z" fill="#A2CD5A" stroke="none"/><path d="M625,1246.2C627.8,1245.9 636.3,1245.1 641.9,1244.2C647.6,1243.3 652.4,1242.5 658.9,1240.8C665.4,1239.1 673.3,1236.4 680.9,1234C688.5,1231.6 699.8,1228.4 704.6,1226.4C709.4,1224.4 708.8,1222.9 709.7,1222.2" fill="none" stroke="#0d0d0d" stroke-width="1.5" stroke-linejoin="round"/><path d="M625,1242.5C627.8,1241.9 636.3,1240.5 641.9,1239.1C647.6,1237.7 652.4,1236.1 658.9,1234C665.4,1231.9 676.4,1228.4 680.9,1226.4C685.4,1224.4 685.1,1222.9 686,1222.2L624,1216L624,1242.5Z" fill="#EDE81C" stroke="none"/><path d="M625,1242.5C627.8,1241.9 636.3,1240.5 641.9,1239.1C647.6,1237.7 652.4,1236.1 658.9,1234C665.4,1231.9 676.4,1228.4 680.9,1226.4C685.4,1224.4 685.1,1222.9 686,1222.2" fill="none" stroke="#0d0d0d" stroke-width="1.5" stroke-linejoin="round"/><path d="M625,1235.4C627.8,1234.7 637,1232.9 641.9,1231.5C646.9,1230.1 652.1,1228.5 654.6,1226.9C657.2,1225.4 656.8,1223 657.2,1222.2L624,1216L624,1235.4Z" fill="#FBA919" stroke="none"/><path d="M625,1235.4C627.8,1234.7 637,1232.9 641.9,1231.5C646.9,1230.1 652.1,1228.5 654.6,1226.9C657.2,1225.4 656.8,1223 657.2,1222.2" fill="none" stroke="#0d0d0d" stroke-width="1.5" stroke-linejoin="round"/><path d="M630.1,1267.9C629.5,1266.5 635.2,1264.5 638.5,1262.8C641.9,1261.1 647.6,1259.4 650.4,1257.7C653.2,1256 652.7,1253.9 655.5,1252.6C658.3,1251.4 662.5,1251.2 667.3,1250.1C672.1,1249 678.6,1247.3 684.3,1245.9C689.9,1244.5 695.3,1242.9 701.2,1241.6C707.1,1240.4 712.8,1239 719.8,1238.2C726.9,1237.5 735.4,1237.5 743.5,1237.4C751.7,1237.3 763.2,1237.3 768.9,1237.7C774.7,1238.2 776.1,1239.2 778.3,1239.9C780.4,1240.7 782.4,1241.6 781.6,1242.5C780.9,1243.3 777.6,1244.3 774,1245C770.5,1245.7 763.6,1245.7 760.5,1246.7C757.4,1247.7 754.3,1249.7 755.4,1251C756.5,1252.2 763.6,1253.2 767.3,1254.3C770.9,1255.5 774.3,1256 777.4,1257.7C780.5,1259.4 783.3,1262 785.9,1264.5C788.4,1267 791,1270.4 792.7,1273C794.3,1275.5 795.2,1277.5 796,1279.7C796.9,1282 798.3,1284.3 797.7,1286.5C797.2,1288.8 792.9,1291 792.7,1293.3C792.4,1295.5 796.9,1297.8 796,1300.1C795.2,1302.3 790.7,1304.9 787.6,1306.8C784.5,1308.8 779.7,1309.7 777.4,1311.9C775.2,1314.2 774.6,1317 774,1320.4C773.5,1323.7 775.4,1327.6 774,1332.1C772.7,1336.6 768,1342.1 766,1347.3C764,1352.5 762.2,1358.4 762,1363.3C761.7,1368.2 763.1,1371.8 764.6,1376.7C766.2,1381.6 768.9,1387.4 771.3,1392.7C773.8,1398.1 776.2,1402.5 779.3,1408.8C782.5,1415 786.9,1423 790,1430.1C793.1,1437.3 795.8,1444.4 798,1451.5C800.3,1458.6 802.3,1465.3 803.4,1472.9C804.5,1480.5 804.7,1488.9 804.7,1496.9C804.7,1505 804.3,1513 803.4,1521C802.5,1529 800.9,1537.5 799.4,1545C797.8,1552.6 796,1559.3 794,1566.4C792,1573.6 789.8,1580.7 787.4,1587.8C784.9,1594.9 782,1602.5 779.3,1609.2C776.7,1615.9 774,1623 771.3,1627.9C768.7,1632.8 766,1635.9 763.3,1638.6C760.6,1641.3 758,1643.9 755.3,1643.9C752.6,1643.9 749.9,1641 747.3,1638.6C744.6,1636.1 741.9,1633.2 739.3,1629.2C736.6,1625.2 733.9,1619.6 731.2,1614.5C728.6,1609.4 725.9,1604.3 723.2,1598.5C720.5,1592.7 717.9,1586.5 715.2,1579.8C712.5,1573.1 709.6,1565.5 707.2,1558.4C704.7,1551.3 702.3,1544.2 700.5,1537C698.7,1529.9 697.4,1522.8 696.5,1515.6C695.6,1508.5 695.3,1501.4 695.2,1494.3C695.1,1487.1 695.3,1480 696,1472.9C696.6,1465.8 697.5,1458.2 699.2,1451.5C700.8,1444.8 703.4,1439 705.9,1432.8C708.3,1426.6 711.4,1419.9 713.9,1414.1C716.3,1408.3 719,1403.4 720.5,1398.1C722.1,1392.7 723.2,1386.9 723.2,1382C723.2,1377.1 721.9,1373.1 720.5,1368.7C719.2,1364.2 717.4,1359.8 715.2,1355.3C713,1350.9 710.1,1345.8 707.2,1341.9C704.3,1338.1 700.2,1335.7 697.8,1332.1C695.4,1328.5 695,1324 692.7,1320.4C690.5,1316.7 687.4,1313 684.3,1310.2C681.2,1307.4 676.5,1305.7 674.1,1303.4C671.7,1301.2 671.3,1299.2 669.9,1296.7C668.5,1294.1 667.1,1291 665.6,1288.2C664.2,1285.4 663.1,1282 661.4,1279.7C659.7,1277.5 658.7,1276.1 655.5,1274.7C652.2,1273.2 646.2,1272.4 641.9,1271.3C637.7,1270.1 630.6,1269.3 630.1,1267.9Z" fill="#3B5BAB" stroke="#0d0d0d" stroke-width="1.5" stroke-linejoin="round"/><path d="M677.5,1267.9C678.1,1266.6 682.9,1264.5 686,1262.8C689.1,1261.1 690.5,1258.8 696.1,1257.7C701.8,1256.7 711.9,1256.5 719.8,1256.4C727.7,1256.2 738.5,1255.8 743.5,1256.9C748.6,1257.9 748.1,1261 750.3,1262.8C752.6,1264.6 755.7,1266.2 757.1,1267.9C758.5,1269.6 759.9,1271.4 758.8,1273C757.7,1274.5 750,1275.5 750.3,1277.2C750.6,1278.9 758.1,1281.3 760.5,1283.1C762.9,1285 764.7,1286.5 764.7,1288.2C764.7,1289.9 760.5,1291.5 760.5,1293.3C760.5,1295.1 765.6,1297.5 764.7,1299.2C763.9,1300.9 758.9,1302.3 755.4,1303.4C751.9,1304.6 747.8,1305.8 743.5,1306C739.3,1306.2 733.9,1305.4 730,1304.8C726,1304.2 722.8,1303.7 719.8,1302.6C716.9,1301.5 713.8,1300.8 712.2,1298.4C710.7,1296 710.4,1291.3 710.5,1288.2C710.7,1285.1 711.8,1281.6 713.1,1279.7C714.3,1277.9 719.3,1278 718.1,1277.2C717,1276.4 710.5,1275.8 706.3,1275C702.1,1274.2 696.7,1272.9 692.7,1272.1C688.8,1271.4 685.1,1271.1 682.6,1270.4C680,1269.7 676.9,1269.2 677.5,1267.9Z" fill="#3953A4" stroke="#0d0d0d" stroke-width="1.0" stroke-linejoin="round"/><path d="M752.6,1442.2C756.6,1442.2 760.9,1443.3 764.6,1446.2C768.4,1449.1 772.3,1454.2 775.3,1459.5C778.3,1464.9 780.8,1472 782.5,1478.2C784.3,1484.5 785.8,1490.3 786,1496.9C786.3,1503.6 785.5,1511.6 784.2,1518.3C782.8,1525 780.8,1531.8 778,1537C775.2,1542.3 771.1,1547.3 767.3,1549.9C763.5,1552.4 759.3,1552.9 755.3,1552.5C751.3,1552.2 747.1,1550.7 743.3,1547.7C739.5,1544.7 735.5,1539.7 732.6,1534.4C729.7,1529 727.5,1521.9 725.9,1515.6C724.3,1509.4 723.4,1503.6 723.2,1496.9C723,1490.3 723.2,1482.2 724.6,1475.6C725.9,1468.9 728.6,1461.8 731.2,1456.9C733.9,1452 737,1448.6 740.6,1446.2C744.2,1443.7 748.6,1442.2 752.6,1442.2Z" fill="#3953A4" stroke="#0d0d0d" stroke-width="1.5" stroke-linejoin="round"/><rect x="722" y="1242.8" width="30" height="2.8" rx="1.2" fill="#0b0d2a"/><rect x="735" y="1242.6" width="10" height="1.6" fill="#26358f"/><path d="M830.3,1684C830.3,1676.4 830,1655.1 829.8,1638.6C829.6,1622.1 829.3,1602.9 829,1585.1C828.7,1567.3 828.4,1549.5 828.2,1531.7C828,1513.9 827.9,1496.1 827.7,1478.2C827.5,1460.4 827.4,1442.6 827.1,1424.8C826.9,1407 826.2,1384.7 826.3,1371.3C826.4,1358 826.8,1350.7 827.7,1344.6C828.6,1338.6 830.7,1337.8 831.7,1335C832.7,1332.2 833.6,1329.8 833.6,1327.7C833.6,1325.6 832.5,1324 831.7,1322.2C831,1320.3 829.3,1318.3 829,1316.6C828.7,1314.9 828.2,1313.2 829.9,1312C831.6,1310.8 836.4,1310.3 839.1,1309.2C841.9,1308.1 844.5,1306.9 846.5,1305.5C848.5,1304.1 851.4,1302.5 851.1,1300.9C850.8,1299.4 846.7,1297.4 844.7,1296.3C842.7,1295.1 839.1,1295.1 839.1,1294C839.1,1292.9 842.6,1291 844.7,1289.8C846.7,1288.7 851,1288.3 851.6,1287.1C852.2,1285.8 849.7,1284 848.4,1282.4C847.1,1280.9 843.7,1279.3 843.7,1277.8C843.7,1276.4 848.5,1274.7 848.4,1273.7C848.2,1272.6 844.4,1272.5 842.8,1271.4C841.3,1270.2 841,1268 839.1,1266.7C837.3,1265.5 834.2,1264.6 831.7,1264C829.3,1263.3 826,1263.8 824.3,1263C822.6,1262.3 822.5,1260.9 821.6,1259.3C820.6,1257.8 820.6,1254.9 818.8,1253.8C817,1252.7 810.8,1253.5 810.5,1252.9C810.2,1252.3 815.3,1251.2 817,1250.1C818.6,1249 819.6,1247.9 820.6,1246.4C821.6,1244.9 823,1242.4 823,1240.9C823,1239.3 822.1,1238.2 820.6,1237.2C819.2,1236.1 815.7,1235.6 814.2,1234.4C812.6,1233.2 812.6,1231.7 811.4,1230.2C810.2,1228.8 807.7,1227.5 806.8,1225.6C805.9,1223.7 806,1219.8 805.9,1218.7L990.7,1219C989.8,1220.8 986.7,1227 985.3,1229.7C984,1232.4 984,1233.3 982.7,1235.1C981.3,1236.8 980.4,1239.1 977.3,1240.4C974.2,1241.7 968.4,1242.2 964,1243.1C959.5,1244 955.1,1245.1 950.6,1245.7C946.1,1246.4 941.2,1246.4 937.2,1247.1C933.2,1247.7 928.8,1248.4 926.5,1249.7C924.3,1251.1 923.4,1253.5 923.9,1255.1C924.3,1256.7 931,1257.8 929.2,1259.1C927.4,1260.4 919.4,1262 913.2,1263.1C907,1264.2 897.2,1265 891.8,1265.8C886.5,1266.5 879.8,1267.1 881.1,1267.7C882.5,1268.2 893.6,1268.7 899.8,1269.3C906.1,1269.8 912.3,1270.4 918.5,1271.1C924.8,1271.9 931.4,1272.7 937.2,1273.8C943,1274.9 947.9,1276.6 953.3,1277.8C958.6,1279 968.4,1280.1 969.3,1281C970.2,1281.9 958.6,1281.9 958.6,1283.2C958.6,1284.4 965.7,1286.7 969.3,1288.5C972.9,1290.3 976.4,1291.6 980,1293.8C983.6,1296.1 988,1299.2 990.7,1301.9C993.4,1304.5 994,1307.2 996,1309.9C998,1312.5 1002,1314.8 1002.7,1317.9C1003.4,1321 1000,1324.1 1000,1328.6C1000,1333 1001.4,1339.3 1002.7,1344.6C1004,1350 1007.4,1355.3 1008.1,1360.7C1008.7,1366 1008.1,1371.3 1006.7,1376.7C1005.4,1382 1000.7,1387.4 1000,1392.7C999.4,1398.1 1001.6,1403.4 1002.7,1408.8C1003.8,1414.1 1005.2,1419.9 1006.7,1424.8C1008.3,1429.7 1009.6,1434.1 1012.1,1438.2C1014.5,1442.2 1019.4,1444.4 1021.4,1448.8C1023.4,1453.3 1023.6,1457.7 1024.1,1464.9C1024.5,1472 1024.3,1482.7 1024.1,1491.6C1023.9,1500.5 1022.8,1510.8 1022.8,1518.3C1022.8,1525.9 1024.5,1530.3 1024.1,1537C1023.6,1543.7 1021.2,1550.4 1020.1,1558.4C1019,1566.4 1018.5,1576.2 1017.4,1585.1C1016.3,1594 1014.7,1602.9 1013.4,1611.9C1012.1,1620.8 1010.5,1626.6 1009.4,1638.6C1008.3,1650.6 1007.2,1676.4 1006.7,1684Z" fill="#A2CD5A"/><path d="M830.3,1684C830.3,1676.4 830,1655.1 829.8,1638.6C829.6,1622.1 829.3,1602.9 829,1585.1C828.7,1567.3 828.4,1549.5 828.2,1531.7C828,1513.9 827.9,1496.1 827.7,1478.2C827.5,1460.4 827.4,1442.6 827.1,1424.8C826.9,1407 826.2,1384.7 826.3,1371.3C826.4,1358 826.8,1350.7 827.7,1344.6C828.6,1338.6 830.7,1337.8 831.7,1335C832.7,1332.2 833.6,1329.8 833.6,1327.7C833.6,1325.6 832.5,1324 831.7,1322.2C831,1320.3 829.3,1318.3 829,1316.6C828.7,1314.9 828.2,1313.2 829.9,1312C831.6,1310.8 836.4,1310.3 839.1,1309.2C841.9,1308.1 844.5,1306.9 846.5,1305.5C848.5,1304.1 851.4,1302.5 851.1,1300.9C850.8,1299.4 846.7,1297.4 844.7,1296.3C842.7,1295.1 839.1,1295.1 839.1,1294C839.1,1292.9 842.6,1291 844.7,1289.8C846.7,1288.7 851,1288.3 851.6,1287.1C852.2,1285.8 849.7,1284 848.4,1282.4C847.1,1280.9 843.7,1279.3 843.7,1277.8C843.7,1276.4 848.5,1274.7 848.4,1273.7C848.2,1272.6 844.4,1272.5 842.8,1271.4C841.3,1270.2 841,1268 839.1,1266.7C837.3,1265.5 834.2,1264.6 831.7,1264C829.3,1263.3 826,1263.8 824.3,1263C822.6,1262.3 822.5,1260.9 821.6,1259.3C820.6,1257.8 820.6,1254.9 818.8,1253.8C817,1252.7 810.8,1253.5 810.5,1252.9C810.2,1252.3 815.3,1251.2 817,1250.1C818.6,1249 819.6,1247.9 820.6,1246.4C821.6,1244.9 823,1242.4 823,1240.9C823,1239.3 822.1,1238.2 820.6,1237.2C819.2,1236.1 815.7,1235.6 814.2,1234.4C812.6,1233.2 812.6,1231.7 811.4,1230.2C810.2,1228.8 807.7,1227.5 806.8,1225.6C805.9,1223.7 806,1219.8 805.9,1218.7" fill="none" stroke="#0d0d0d" stroke-width="1.5"/><path d="M990.7,1219C989.8,1220.8 986.7,1227 985.3,1229.7C984,1232.4 984,1233.3 982.7,1235.1C981.3,1236.8 980.4,1239.1 977.3,1240.4C974.2,1241.7 968.4,1242.2 964,1243.1C959.5,1244 955.1,1245.1 950.6,1245.7C946.1,1246.4 941.2,1246.4 937.2,1247.1C933.2,1247.7 928.8,1248.4 926.5,1249.7C924.3,1251.1 923.4,1253.5 923.9,1255.1C924.3,1256.7 931,1257.8 929.2,1259.1C927.4,1260.4 919.4,1262 913.2,1263.1C907,1264.2 897.2,1265 891.8,1265.8C886.5,1266.5 879.8,1267.1 881.1,1267.7C882.5,1268.2 893.6,1268.7 899.8,1269.3C906.1,1269.8 912.3,1270.4 918.5,1271.1C924.8,1271.9 931.4,1272.7 937.2,1273.8C943,1274.9 947.9,1276.6 953.3,1277.8C958.6,1279 968.4,1280.1 969.3,1281C970.2,1281.9 958.6,1281.9 958.6,1283.2C958.6,1284.4 965.7,1286.7 969.3,1288.5C972.9,1290.3 976.4,1291.6 980,1293.8C983.6,1296.1 988,1299.2 990.7,1301.9C993.4,1304.5 994,1307.2 996,1309.9C998,1312.5 1002,1314.8 1002.7,1317.9C1003.4,1321 1000,1324.1 1000,1328.6C1000,1333 1001.4,1339.3 1002.7,1344.6C1004,1350 1007.4,1355.3 1008.1,1360.7C1008.7,1366 1008.1,1371.3 1006.7,1376.7C1005.4,1382 1000.7,1387.4 1000,1392.7C999.4,1398.1 1001.6,1403.4 1002.7,1408.8C1003.8,1414.1 1005.2,1419.9 1006.7,1424.8C1008.3,1429.7 1009.6,1434.1 1012.1,1438.2C1014.5,1442.2 1019.4,1444.4 1021.4,1448.8C1023.4,1453.3 1023.6,1457.7 1024.1,1464.9C1024.5,1472 1024.3,1482.7 1024.1,1491.6C1023.9,1500.5 1022.8,1510.8 1022.8,1518.3C1022.8,1525.9 1024.5,1530.3 1024.1,1537C1023.6,1543.7 1021.2,1550.4 1020.1,1558.4C1019,1566.4 1018.5,1576.2 1017.4,1585.1C1016.3,1594 1014.7,1602.9 1013.4,1611.9C1012.1,1620.8 1010.5,1626.6 1009.4,1638.6C1008.3,1650.6 1007.2,1676.4 1006.7,1684" fill="none" stroke="#0d0d0d" stroke-width="1.5"/><path d="M858.4,1684C858,1676.4 856.8,1655.1 855.7,1638.6C854.6,1622.1 853.1,1602.9 851.7,1585.1C850.4,1567.3 849.1,1549.5 847.7,1531.7C846.4,1513.9 844.7,1493.8 843.7,1478.2C842.7,1462.6 841.8,1451.5 841.6,1438.2C841.3,1424.8 841.6,1409.2 842.4,1398.1C843.2,1386.9 845,1380.2 846.4,1371.3C847.7,1362.4 848.2,1351.3 850.4,1344.6C852.6,1337.9 857.7,1335.7 859.7,1331.3C861.7,1326.8 861.5,1321 862.4,1317.9C863.3,1314.8 861.5,1314.2 865.1,1312.5C868.6,1310.9 877.1,1309 883.8,1307.7C890.5,1306.5 898,1305.4 905.2,1305.1C912.3,1304.8 920.3,1304.8 926.5,1305.9C932.8,1306.9 938.1,1308.8 942.6,1311.2C947,1313.7 950.6,1317.2 953.3,1320.6C955.9,1323.9 956.8,1327.2 958.6,1331.3C960.4,1335.3 961.7,1339.7 964,1344.6C966.2,1349.5 969.5,1355.3 972,1360.7C974.4,1366 976.9,1371.3 978.7,1376.7C980.4,1382 981.1,1387.4 982.7,1392.7C984.2,1398.1 985.8,1403.4 988,1408.8C990.2,1414.1 994,1419.4 996,1424.8C998,1430.1 999.1,1434.1 1000,1440.8C1001,1447.5 1001.7,1456.4 1001.9,1464.9C1002.1,1473.3 1001.9,1482.7 1001.4,1491.6C1000.8,1500.5 1000,1509.4 998.7,1518.3C997.4,1527.2 995.1,1536.1 993.4,1545C991.6,1554 989.8,1562.9 988,1571.8C986.2,1580.7 984.5,1589.6 982.7,1598.5C980.9,1607.4 979.1,1616.3 977.3,1625.2C975.5,1634.1 973.3,1642.1 972,1651.9C970.6,1661.7 969.8,1678.7 969.3,1684Z" fill="#EDE81C" stroke="none"/><path d="M858.4,1684C858,1676.4 856.8,1655.1 855.7,1638.6C854.6,1622.1 853.1,1602.9 851.7,1585.1C850.4,1567.3 849.1,1549.5 847.7,1531.7C846.4,1513.9 844.7,1493.8 843.7,1478.2C842.7,1462.6 841.8,1451.5 841.6,1438.2C841.3,1424.8 841.6,1409.2 842.4,1398.1C843.2,1386.9 845,1380.2 846.4,1371.3C847.7,1362.4 848.2,1351.3 850.4,1344.6C852.6,1337.9 857.7,1335.7 859.7,1331.3C861.7,1326.8 861.5,1321 862.4,1317.9C863.3,1314.8 861.5,1314.2 865.1,1312.5C868.6,1310.9 877.1,1309 883.8,1307.7C890.5,1306.5 898,1305.4 905.2,1305.1C912.3,1304.8 920.3,1304.8 926.5,1305.9C932.8,1306.9 938.1,1308.8 942.6,1311.2C947,1313.7 950.6,1317.2 953.3,1320.6C955.9,1323.9 956.8,1327.2 958.6,1331.3C960.4,1335.3 961.7,1339.7 964,1344.6C966.2,1349.5 969.5,1355.3 972,1360.7C974.4,1366 976.9,1371.3 978.7,1376.7C980.4,1382 981.1,1387.4 982.7,1392.7C984.2,1398.1 985.8,1403.4 988,1408.8C990.2,1414.1 994,1419.4 996,1424.8C998,1430.1 999.1,1434.1 1000,1440.8C1001,1447.5 1001.7,1456.4 1001.9,1464.9C1002.1,1473.3 1001.9,1482.7 1001.4,1491.6C1000.8,1500.5 1000,1509.4 998.7,1518.3C997.4,1527.2 995.1,1536.1 993.4,1545C991.6,1554 989.8,1562.9 988,1571.8C986.2,1580.7 984.5,1589.6 982.7,1598.5C980.9,1607.4 979.1,1616.3 977.3,1625.2C975.5,1634.1 973.3,1642.1 972,1651.9C970.6,1661.7 969.8,1678.7 969.3,1684" fill="none" stroke="#0d0d0d" stroke-width="1.5" stroke-linejoin="round"/><path d="M897.2,1339.3C901.6,1339 908.3,1338.9 913.2,1339.8C918.1,1340.7 922.5,1341.6 926.5,1344.6C930.6,1347.6 934.1,1353.1 937.2,1358C940.4,1362.9 942.6,1368.7 945.3,1374C947.9,1379.4 950.2,1384.3 953.3,1390C956.4,1395.8 960.4,1402.5 964,1408.8C967.5,1415 971.5,1421.7 974.7,1427.5C977.8,1433.3 980.8,1437.7 982.7,1443.5C984.5,1449.3 985.4,1455.5 985.9,1462.2C986.3,1468.9 985.9,1476.5 985.3,1483.6C984.8,1490.7 984,1496.9 982.7,1505C981.3,1513 979.3,1522.8 977.3,1531.7C975.3,1540.6 973.1,1549.1 970.6,1558.4C968.2,1567.8 965.4,1578.9 962.6,1587.8C959.8,1596.7 956.9,1604.5 953.8,1611.9C950.7,1619.2 947.3,1626.2 943.9,1631.9C940.5,1637.6 937,1642.5 933.2,1646.1C929.4,1649.6 925,1651.9 921.2,1653.3C917.4,1654.7 913.9,1655.1 910.5,1654.6C907.2,1654.2 904.3,1652.8 901.2,1650.6C898,1648.4 894.7,1645.5 891.8,1641.3C888.9,1637 886.3,1632.1 883.8,1625.2C881.3,1618.3 878.9,1609.2 876.6,1599.8C874.3,1590.5 872,1579.1 869.9,1569.1C867.8,1559.1 865.7,1549.5 863.7,1539.7C861.8,1529.9 859.9,1520.1 858.4,1510.3C856.9,1500.5 855.7,1490.7 854.9,1480.9C854.2,1471.1 853.9,1460.9 853.9,1451.5C853.9,1442.2 854,1432.8 854.9,1424.8C855.9,1416.8 857.6,1410.5 859.7,1403.4C861.9,1396.3 865.1,1388.7 867.8,1382C870.4,1375.4 873.8,1369.1 875.8,1363.3C877.8,1357.5 878,1350.9 879.8,1347.3C881.6,1343.6 883.6,1342.7 886.5,1341.4C889.4,1340.1 892.7,1339.5 897.2,1339.3Z" fill="#FBA919" stroke="#0d0d0d" stroke-width="1.5" stroke-linejoin="round"/><path d="M902.5,1388.7C907.8,1387.5 913.2,1389 918.5,1390.6C923.9,1392.1 929.7,1394.6 934.6,1398.1C939.5,1401.5 943.9,1406.5 947.9,1411.4C951.9,1416.3 955.5,1422.1 958.6,1427.5C961.7,1432.8 964.6,1438.2 966.6,1443.5C968.6,1448.8 970.2,1453.7 970.6,1459.5C971.1,1465.3 970.2,1471.6 969.3,1478.2C968.4,1484.9 967.1,1492 965.3,1499.6C963.5,1507.2 961.1,1515.6 958.6,1523.7C956.2,1531.7 953.7,1541 950.6,1547.7C947.5,1554.4 943.5,1559.3 939.9,1563.8C936.3,1568.2 933.2,1572.1 929.2,1574.4C925.2,1576.8 919.9,1577.9 915.9,1577.6C911.9,1577.4 908.7,1575.9 905.2,1573.1C901.6,1570.3 897.8,1565.8 894.5,1561.1C891.1,1556.4 888,1551.3 885.1,1545C882.2,1538.8 879.6,1531.2 877.1,1523.7C874.7,1516.1 872.2,1507.6 870.4,1499.6C868.6,1491.6 867.1,1483.6 866.4,1475.6C865.8,1467.5 866,1459.1 866.4,1451.5C866.9,1443.9 867.5,1436.8 869.1,1430.1C870.7,1423.5 872.9,1416.8 875.8,1411.4C878.7,1406.1 882,1401.9 886.5,1398.1C890.9,1394.3 897.2,1390 902.5,1388.7Z" fill="#EE4423" stroke="#0d0d0d" stroke-width="1.5" stroke-linejoin="round"/><path d="M907.8,1415.4C911.6,1415 916.8,1415.2 921.2,1416.8C925.7,1418.3 930.8,1421.2 934.6,1424.8C938.4,1428.4 941.3,1433.3 943.9,1438.2C946.5,1443.1 948.9,1448.4 950.1,1454.2C951.3,1460 951.5,1466.7 951.1,1472.9C950.8,1479.1 949.8,1485.8 947.9,1491.6C946.1,1497.4 943,1502.7 939.9,1507.6C936.8,1512.5 932.8,1517.9 929.2,1521C925.7,1524.1 922.1,1526.3 918.5,1526.3C915,1526.3 911.2,1524.1 907.8,1521C904.5,1517.9 901.4,1512.5 898.5,1507.6C895.6,1502.7 892.7,1496.9 890.5,1491.6C888.2,1486.3 886.5,1480.9 885.1,1475.6C883.8,1470.2 882.6,1464.9 882.5,1459.5C882.3,1454.2 883,1448.6 884.3,1443.5C885.7,1438.4 888.1,1432.8 890.5,1428.8C892.8,1424.8 895.6,1421.7 898.5,1419.4C901.4,1417.2 904.1,1415.9 907.8,1415.4Z" fill="#E31E26" stroke="#0d0d0d" stroke-width="1.5" stroke-linejoin="round"/><path d="M835.8,1222.2C836.5,1224.3 838.2,1231.8 840,1234.9C841.8,1238 844,1239.2 846.8,1240.8C849.6,1242.3 852.4,1243.3 856.9,1244.2C861.5,1245 868.2,1245.6 873.9,1245.9C879.5,1246.2 885.2,1246 890.8,1245.9C896.4,1245.7 902.1,1245.3 907.7,1245C913.4,1244.7 919.9,1244.6 924.7,1244.2C929.5,1243.8 932.6,1243.2 936.5,1242.5C940.5,1241.8 945.6,1240.8 948.4,1239.9C951.2,1239.1 953.2,1238.2 953.5,1237.4C953.7,1236.6 949.8,1236 950.1,1234.9C950.4,1233.7 954.7,1232 955.2,1230.6C955.6,1229.2 953.2,1227.8 952.6,1226.4C952.1,1225 951.9,1222.9 951.8,1222.2Z" fill="#EDE81C" stroke="none"/><path d="M835.8,1222.2C836.5,1224.3 838.2,1231.8 840,1234.9C841.8,1238 844,1239.2 846.8,1240.8C849.6,1242.3 852.4,1243.3 856.9,1244.2C861.5,1245 868.2,1245.6 873.9,1245.9C879.5,1246.2 885.2,1246 890.8,1245.9C896.4,1245.7 902.1,1245.3 907.7,1245C913.4,1244.7 919.9,1244.6 924.7,1244.2C929.5,1243.8 932.6,1243.2 936.5,1242.5C940.5,1241.8 945.6,1240.8 948.4,1239.9C951.2,1239.1 953.2,1238.2 953.5,1237.4C953.7,1236.6 949.8,1236 950.1,1234.9C950.4,1233.7 954.7,1232 955.2,1230.6C955.6,1229.2 953.2,1227.8 952.6,1226.4C952.1,1225 951.9,1222.9 951.8,1222.2" fill="none" stroke="#0d0d0d" stroke-width="1.5" stroke-linejoin="round"/><path d="M868.8,1222.2C868.6,1223.3 867.1,1226.8 867.9,1228.9C868.8,1231.1 870.6,1233.2 873.9,1234.9C877.1,1236.6 882.3,1238.2 887.4,1239.1C892.5,1239.9 899.6,1240.1 904.4,1239.9C909.2,1239.8 913.1,1239.1 916.2,1238.2C919.3,1237.4 920.9,1236 923,1234.9C925.1,1233.7 928.9,1232.6 928.9,1231.5C928.9,1230.3 924.5,1229.6 923,1228.1C921.4,1226.5 920.2,1223.1 919.6,1222.2Z" fill="#FBA919" stroke="none"/><path d="M868.8,1222.2C868.6,1223.3 867.1,1226.8 867.9,1228.9C868.8,1231.1 870.6,1233.2 873.9,1234.9C877.1,1236.6 882.3,1238.2 887.4,1239.1C892.5,1239.9 899.6,1240.1 904.4,1239.9C909.2,1239.8 913.1,1239.1 916.2,1238.2C919.3,1237.4 920.9,1236 923,1234.9C925.1,1233.7 928.9,1232.6 928.9,1231.5C928.9,1230.3 924.5,1229.6 923,1228.1C921.4,1226.5 920.2,1223.1 919.6,1222.2" fill="none" stroke="#0d0d0d" stroke-width="1.5" stroke-linejoin="round"/><rect x="847" y="1252.6" width="47" height="2.4" rx="1" fill="#101010"/><rect x="862" y="1251.6" width="17" height="2" fill="#8a7a3a"/><path d="M1014.4,1222.2C1014.4,1223 1012.5,1225.5 1014.4,1227.2C1016.4,1228.9 1023.2,1230.9 1026.3,1232.3C1029.4,1233.7 1032.5,1234.6 1033.1,1235.7C1033.6,1236.8 1028,1238.1 1029.7,1239.1C1031.4,1240.1 1038.4,1241.1 1043.2,1241.6C1048,1242.2 1055.9,1242.3 1058.5,1242.5L1060,1216Z" fill="#A2CD5A" stroke="none"/><path d="M1014.4,1222.2C1014.4,1223 1012.5,1225.5 1014.4,1227.2C1016.4,1228.9 1023.2,1230.9 1026.3,1232.3C1029.4,1233.7 1032.5,1234.6 1033.1,1235.7C1033.6,1236.8 1028,1238.1 1029.7,1239.1C1031.4,1240.1 1038.4,1241.1 1043.2,1241.6C1048,1242.2 1055.9,1242.3 1058.5,1242.5" fill="none" stroke="#0d0d0d" stroke-width="1.5" stroke-linejoin="round"/><path d="M931.4,1266.2L941.6,1264.5L958.5,1262L970.4,1260.3L965.3,1256L958.5,1252.6L950.1,1250.1L958.5,1246.7L972.1,1244.2L992.4,1243L1026.3,1243L1058.5,1243.3L1058.5,1276L1034.8,1273L1009.3,1271.3L983.9,1271.3L958.5,1270.4L941.6,1268.7Z" fill="#35B8EA" stroke="#0d0d0d" stroke-width="1.0" stroke-linejoin="round"/><path d="M978.9,1250.1C978.3,1248.8 983.9,1247.4 989,1246.7C994.1,1246 1002.3,1245.6 1009.3,1245.9C1016.4,1246.2 1025.9,1247.4 1031.4,1248.4C1036.9,1249.4 1041.8,1250.8 1042.4,1251.8C1042.9,1252.8 1040.3,1254 1034.8,1254.7C1029.2,1255.3 1016.4,1255.7 1009.3,1255.7C1002.3,1255.6 997.5,1255.3 992.4,1254.3C987.3,1253.4 979.4,1251.4 978.9,1250.1Z" fill="#3953A4" stroke="#1c2a6e" stroke-width="0.9" stroke-linejoin="round"/><path d="M1060.2,1402.1C1057.9,1395.7 1050.4,1403.8 1046.8,1405.5C1043.2,1407.3 1040.9,1410 1038.8,1412.8C1036.7,1415.5 1034.4,1418.8 1034,1422.1C1033.5,1425.5 1034,1429.8 1036.1,1432.8C1038.3,1435.8 1042.8,1438.5 1046.8,1440.3C1050.8,1442.1 1057.9,1449.9 1060.2,1443.5C1062.4,1437.1 1062.4,1408.4 1060.2,1402.1Z" fill="#35B8EA" stroke="#0d0d0d" stroke-width="1.5" stroke-linejoin="round"/><rect x="629" y="1220" width="426" height="5" fill="#0a0a0a"/></g>
<rect x="130" y="64" width="427" height="453" fill="none" stroke="#000" stroke-width="1.6"/>
<g transform="translate(108.84,555.4) scale(0.9593,1)"><text x="0" y="0" font-size="34.4" font-family='"Liberation Sans", sans-serif' xml:space="preserve">-5</text></g>
<g transform="translate(151.54,555.4) scale(0.9593,1)"><text x="0" y="0" font-size="34.4" font-family='"Liberation Sans", sans-serif' xml:space="preserve">-4</text></g>
<g transform="translate(194.24,555.4) scale(0.9593,1)"><text x="0" y="0" font-size="34.4" font-family='"Liberation Sans", sans-serif' xml:space="preserve">-3</text></g>
<g transform="translate(236.94,555.4) scale(0.9593,1)"><text x="0" y="0" font-size="34.4" font-family='"Liberation Sans", sans-serif' xml:space="preserve">-2</text></g>
<g transform="translate(279.64,555.4) scale(0.9593,1)"><path d="M763 0H583V1147Q518 1085 412.5 1023Q307 961 223 930V1104Q374 1175 487 1276Q600 1377 647 1472H763Z" transform="translate(11.46,0) scale(0.01680,-0.01680)" fill="#000"/><text x="0" y="0" font-size="34.4" font-family='"Liberation Sans", sans-serif' xml:space="preserve">-</text></g>
<g transform="translate(333.33,555.4) scale(0.9593,1)"><text x="0" y="0" font-size="34.4" font-family='"Liberation Sans", sans-serif' xml:space="preserve">0</text></g>
<g transform="translate(376.03,555.4) scale(0.9593,1)"><path d="M763 0H583V1147Q518 1085 412.5 1023Q307 961 223 930V1104Q374 1175 487 1276Q600 1377 647 1472H763Z" transform="translate(0,0) scale(0.01680,-0.01680)" fill="#000"/></g>
<g transform="translate(418.73,555.4) scale(0.9593,1)"><text x="0" y="0" font-size="34.4" font-family='"Liberation Sans", sans-serif' xml:space="preserve">2</text></g>
<g transform="translate(461.43,555.4) scale(0.9593,1)"><text x="0" y="0" font-size="34.4" font-family='"Liberation Sans", sans-serif' xml:space="preserve">3</text></g>
<g transform="translate(504.13,555.4) scale(0.9593,1)"><text x="0" y="0" font-size="34.4" font-family='"Liberation Sans", sans-serif' xml:space="preserve">4</text></g>
<g transform="translate(546.83,555.4) scale(0.9593,1)"><text x="0" y="0" font-size="34.4" font-family='"Liberation Sans", sans-serif' xml:space="preserve">5</text></g>
<g transform="translate(102.15,75.62) scale(0.9593,1)"><text x="0" y="0" font-size="34.4" font-family='"Liberation Sans", sans-serif' xml:space="preserve">4</text></g>
<g transform="translate(102.15,132.24) scale(0.9593,1)"><text x="0" y="0" font-size="34.4" font-family='"Liberation Sans", sans-serif' xml:space="preserve">3</text></g>
<g transform="translate(102.15,188.87) scale(0.9593,1)"><text x="0" y="0" font-size="34.4" font-family='"Liberation Sans", sans-serif' xml:space="preserve">2</text></g>
<g transform="translate(102.15,245.49) scale(0.9593,1)"><path d="M763 0H583V1147Q518 1085 412.5 1023Q307 961 223 930V1104Q374 1175 487 1276Q600 1377 647 1472H763Z" transform="translate(0,0) scale(0.01680,-0.01680)" fill="#000"/></g>
<g transform="translate(102.15,302.12) scale(0.9593,1)"><text x="0" y="0" font-size="34.4" font-family='"Liberation Sans", sans-serif' xml:space="preserve">0</text></g>
<g transform="translate(91.16,358.74) scale(0.9593,1)"><path d="M763 0H583V1147Q518 1085 412.5 1023Q307 961 223 930V1104Q374 1175 487 1276Q600 1377 647 1472H763Z" transform="translate(11.46,0) scale(0.01680,-0.01680)" fill="#000"/><text x="0" y="0" font-size="34.4" font-family='"Liberation Sans", sans-serif' xml:space="preserve">-</text></g>
<g transform="translate(91.16,415.37) scale(0.9593,1)"><text x="0" y="0" font-size="34.4" font-family='"Liberation Sans", sans-serif' xml:space="preserve">-2</text></g>
<g transform="translate(91.16,471.99) scale(0.9593,1)"><text x="0" y="0" font-size="34.4" font-family='"Liberation Sans", sans-serif' xml:space="preserve">-3</text></g>
<g transform="translate(91.16,528.62) scale(0.9593,1)"><text x="0" y="0" font-size="34.4" font-family='"Liberation Sans", sans-serif' xml:space="preserve">-4</text></g>
<path d="M172.7,517v-6.5 M172.7,64v6.5 M215.4,517v-6.5 M215.4,64v6.5 M258.1,517v-6.5 M258.1,64v6.5 M300.8,517v-6.5 M300.8,64v6.5 M343.5,517v-6.5 M343.5,64v6.5 M386.2,517v-6.5 M386.2,64v6.5 M428.9,517v-6.5 M428.9,64v6.5 M471.6,517v-6.5 M471.6,64v6.5 M514.3,517v-6.5 M514.3,64v6.5 M130,120.6h6.5 M557,120.6h-6.5 M130,177.2h6.5 M557,177.2h-6.5 M130,233.9h6.5 M557,233.9h-6.5 M130,290.5h6.5 M557,290.5h-6.5 M130,347.1h6.5 M557,347.1h-6.5 M130,403.8h6.5 M557,403.8h-6.5 M130,460.4h6.5 M557,460.4h-6.5" stroke="#000" stroke-width="1.4" fill="none"/>
<rect x="629" y="64" width="426" height="453" fill="none" stroke="#000" stroke-width="1.6"/>
<g transform="translate(607.84,555.4) scale(0.9593,1)"><text x="0" y="0" font-size="34.4" font-family='"Liberation Sans", sans-serif' xml:space="preserve">-5</text></g>
<g transform="translate(650.44,555.4) scale(0.9593,1)"><text x="0" y="0" font-size="34.4" font-family='"Liberation Sans", sans-serif' xml:space="preserve">-4</text></g>
<g transform="translate(693.04,555.4) scale(0.9593,1)"><text x="0" y="0" font-size="34.4" font-family='"Liberation Sans", sans-serif' xml:space="preserve">-3</text></g>
<g transform="translate(735.64,555.4) scale(0.9593,1)"><text x="0" y="0" font-size="34.4" font-family='"Liberation Sans", sans-serif' xml:space="preserve">-2</text></g>
<g transform="translate(778.24,555.4) scale(0.9593,1)"><path d="M763 0H583V1147Q518 1085 412.5 1023Q307 961 223 930V1104Q374 1175 487 1276Q600 1377 647 1472H763Z" transform="translate(11.46,0) scale(0.01680,-0.01680)" fill="#000"/><text x="0" y="0" font-size="34.4" font-family='"Liberation Sans", sans-serif' xml:space="preserve">-</text></g>
<g transform="translate(831.83,555.4) scale(0.9593,1)"><text x="0" y="0" font-size="34.4" font-family='"Liberation Sans", sans-serif' xml:space="preserve">0</text></g>
<g transform="translate(874.43,555.4) scale(0.9593,1)"><path d="M763 0H583V1147Q518 1085 412.5 1023Q307 961 223 930V1104Q374 1175 487 1276Q600 1377 647 1472H763Z" transform="translate(0,0) scale(0.01680,-0.01680)" fill="#000"/></g>
<g transform="translate(917.03,555.4) scale(0.9593,1)"><text x="0" y="0" font-size="34.4" font-family='"Liberation Sans", sans-serif' xml:space="preserve">2</text></g>
<g transform="translate(959.63,555.4) scale(0.9593,1)"><text x="0" y="0" font-size="34.4" font-family='"Liberation Sans", sans-serif' xml:space="preserve">3</text></g>
<g transform="translate(1002.23,555.4) scale(0.9593,1)"><text x="0" y="0" font-size="34.4" font-family='"Liberation Sans", sans-serif' xml:space="preserve">4</text></g>
<g transform="translate(1044.83,555.4) scale(0.9593,1)"><text x="0" y="0" font-size="34.4" font-family='"Liberation Sans", sans-serif' xml:space="preserve">5</text></g>
<path d="M671.6,517v-6.5 M671.6,64v6.5 M714.2,517v-6.5 M714.2,64v6.5 M756.8,517v-6.5 M756.8,64v6.5 M799.4,517v-6.5 M799.4,64v6.5 M842,517v-6.5 M842,64v6.5 M884.6,517v-6.5 M884.6,64v6.5 M927.2,517v-6.5 M927.2,64v6.5 M969.8,517v-6.5 M969.8,64v6.5 M1012.4,517v-6.5 M1012.4,64v6.5 M629,120.6h6.5 M1055,120.6h-6.5 M629,177.2h6.5 M1055,177.2h-6.5 M629,233.9h6.5 M1055,233.9h-6.5 M629,290.5h6.5 M1055,290.5h-6.5 M629,347.1h6.5 M1055,347.1h-6.5 M629,403.8h6.5 M1055,403.8h-6.5 M629,460.4h6.5 M1055,460.4h-6.5" stroke="#000" stroke-width="1.4" fill="none"/>
<rect x="130" y="642" width="427" height="455" fill="none" stroke="#000" stroke-width="1.6"/>
<g transform="translate(151.54,1135.4) scale(0.9593,1)"><text x="0" y="0" font-size="34.4" font-family='"Liberation Sans", sans-serif' xml:space="preserve">-2</text></g>
<g transform="translate(236.94,1135.4) scale(0.9593,1)"><path d="M763 0H583V1147Q518 1085 412.5 1023Q307 961 223 930V1104Q374 1175 487 1276Q600 1377 647 1472H763Z" transform="translate(11.46,0) scale(0.01680,-0.01680)" fill="#000"/><text x="0" y="0" font-size="34.4" font-family='"Liberation Sans", sans-serif' xml:space="preserve">-</text></g>
<g transform="translate(333.33,1135.4) scale(0.9593,1)"><text x="0" y="0" font-size="34.4" font-family='"Liberation Sans", sans-serif' xml:space="preserve">0</text></g>
<g transform="translate(418.73,1135.4) scale(0.9593,1)"><path d="M763 0H583V1147Q518 1085 412.5 1023Q307 961 223 930V1104Q374 1175 487 1276Q600 1377 647 1472H763Z" transform="translate(0,0) scale(0.01680,-0.01680)" fill="#000"/></g>
<g transform="translate(504.13,1135.4) scale(0.9593,1)"><text x="0" y="0" font-size="34.4" font-family='"Liberation Sans", sans-serif' xml:space="preserve">2</text></g>
<g transform="translate(102.15,729.45) scale(0.9593,1)"><path d="M763 0H583V1147Q518 1085 412.5 1023Q307 961 223 930V1104Q374 1175 487 1276Q600 1377 647 1472H763Z" transform="translate(0,0) scale(0.01680,-0.01680)" fill="#000"/></g>
<g transform="translate(102.15,881.12) scale(0.9593,1)"><text x="0" y="0" font-size="34.4" font-family='"Liberation Sans", sans-serif' xml:space="preserve">0</text></g>
<g transform="translate(91.16,1032.78) scale(0.9593,1)"><path d="M763 0H583V1147Q518 1085 412.5 1023Q307 961 223 930V1104Q374 1175 487 1276Q600 1377 647 1472H763Z" transform="translate(11.46,0) scale(0.01680,-0.01680)" fill="#000"/><text x="0" y="0" font-size="34.4" font-family='"Liberation Sans", sans-serif' xml:space="preserve">-</text></g>
<path d="M172.7,1097v-6.5 M172.7,642v6.5 M258.1,1097v-6.5 M258.1,642v6.5 M343.5,1097v-6.5 M343.5,642v6.5 M428.9,1097v-6.5 M428.9,642v6.5 M514.3,1097v-6.5 M514.3,642v6.5 M130,717.8h6.5 M557,717.8h-6.5 M130,869.5h6.5 M557,869.5h-6.5 M130,1021.2h6.5 M557,1021.2h-6.5" stroke="#000" stroke-width="1.4" fill="none"/>
<rect x="629" y="642" width="426" height="455" fill="none" stroke="#000" stroke-width="1.6"/>
<g transform="translate(650.44,1135.4) scale(0.9593,1)"><text x="0" y="0" font-size="34.4" font-family='"Liberation Sans", sans-serif' xml:space="preserve">-2</text></g>
<g transform="translate(735.64,1135.4) scale(0.9593,1)"><path d="M763 0H583V1147Q518 1085 412.5 1023Q307 961 223 930V1104Q374 1175 487 1276Q600 1377 647 1472H763Z" transform="translate(11.46,0) scale(0.01680,-0.01680)" fill="#000"/><text x="0" y="0" font-size="34.4" font-family='"Liberation Sans", sans-serif' xml:space="preserve">-</text></g>
<g transform="translate(831.83,1135.4) scale(0.9593,1)"><text x="0" y="0" font-size="34.4" font-family='"Liberation Sans", sans-serif' xml:space="preserve">0</text></g>
<g transform="translate(917.03,1135.4) scale(0.9593,1)"><path d="M763 0H583V1147Q518 1085 412.5 1023Q307 961 223 930V1104Q374 1175 487 1276Q600 1377 647 1472H763Z" transform="translate(0,0) scale(0.01680,-0.01680)" fill="#000"/></g>
<g transform="translate(1002.23,1135.4) scale(0.9593,1)"><text x="0" y="0" font-size="34.4" font-family='"Liberation Sans", sans-serif' xml:space="preserve">2</text></g>
<path d="M671.6,1097v-6.5 M671.6,642v6.5 M756.8,1097v-6.5 M756.8,642v6.5 M842,1097v-6.5 M842,642v6.5 M927.2,1097v-6.5 M927.2,642v6.5 M1012.4,1097v-6.5 M1012.4,642v6.5 M629,717.8h6.5 M1055,717.8h-6.5 M629,869.5h6.5 M1055,869.5h-6.5 M629,1021.2h6.5 M1055,1021.2h-6.5" stroke="#000" stroke-width="1.4" fill="none"/>
<rect x="130" y="1221" width="427" height="453" fill="none" stroke="#000" stroke-width="1.6"/>
<g transform="translate(151.54,1712.4) scale(0.9593,1)"><text x="0" y="0" font-size="34.4" font-family='"Liberation Sans", sans-serif' xml:space="preserve">-2</text></g>
<g transform="translate(236.94,1712.4) scale(0.9593,1)"><path d="M763 0H583V1147Q518 1085 412.5 1023Q307 961 223 930V1104Q374 1175 487 1276Q600 1377 647 1472H763Z" transform="translate(11.46,0) scale(0.01680,-0.01680)" fill="#000"/><text x="0" y="0" font-size="34.4" font-family='"Liberation Sans", sans-serif' xml:space="preserve">-</text></g>
<g transform="translate(333.33,1712.4) scale(0.9593,1)"><text x="0" y="0" font-size="34.4" font-family='"Liberation Sans", sans-serif' xml:space="preserve">0</text></g>
<g transform="translate(418.73,1712.4) scale(0.9593,1)"><path d="M763 0H583V1147Q518 1085 412.5 1023Q307 961 223 930V1104Q374 1175 487 1276Q600 1377 647 1472H763Z" transform="translate(0,0) scale(0.01680,-0.01680)" fill="#000"/></g>
<g transform="translate(504.13,1712.4) scale(0.9593,1)"><text x="0" y="0" font-size="34.4" font-family='"Liberation Sans", sans-serif' xml:space="preserve">2</text></g>
<g transform="translate(102.15,1232.62) scale(0.9593,1)"><text x="0" y="0" font-size="34.4" font-family='"Liberation Sans", sans-serif' xml:space="preserve">0</text></g>
<g transform="translate(65.46,1309.53) scale(0.9593,1)"><text x="0" y="0" font-size="34.4" font-family='"Liberation Sans", sans-serif' xml:space="preserve">250</text></g>
<g transform="translate(65.46,1384.75) scale(0.9593,1)"><text x="0" y="0" font-size="34.4" font-family='"Liberation Sans", sans-serif' xml:space="preserve">500</text></g>
<g transform="translate(65.46,1459.97) scale(0.9593,1)"><text x="0" y="0" font-size="34.4" font-family='"Liberation Sans", sans-serif' xml:space="preserve">750</text></g>
<g transform="translate(47.11,1535.18) scale(0.9593,1)"><path d="M763 0H583V1147Q518 1085 412.5 1023Q307 961 223 930V1104Q374 1175 487 1276Q600 1377 647 1472H763Z" transform="translate(0,0) scale(0.01680,-0.01680)" fill="#000"/><text x="0" y="0" font-size="34.4" font-family='"Liberation Sans", sans-serif' xml:space="preserve">  000</text></g>
<g transform="translate(47.11,1610.4) scale(0.9593,1)"><path d="M763 0H583V1147Q518 1085 412.5 1023Q307 961 223 930V1104Q374 1175 487 1276Q600 1377 647 1472H763Z" transform="translate(0,0) scale(0.01680,-0.01680)" fill="#000"/><text x="0" y="0" font-size="34.4" font-family='"Liberation Sans", sans-serif' xml:space="preserve">  250</text></g>
<g transform="translate(47.11,1685.62) scale(0.9593,1)"><path d="M763 0H583V1147Q518 1085 412.5 1023Q307 961 223 930V1104Q374 1175 487 1276Q600 1377 647 1472H763Z" transform="translate(0,0) scale(0.01680,-0.01680)" fill="#000"/><text x="0" y="0" font-size="34.4" font-family='"Liberation Sans", sans-serif' xml:space="preserve">  500</text></g>
<path d="M172.7,1674v-6.5 M258.1,1674v-6.5 M343.5,1674v-6.5 M428.9,1674v-6.5 M514.3,1674v-6.5 M130,1297.9h6.5 M557,1297.9h-6.5 M130,1373.1h6.5 M557,1373.1h-6.5 M130,1448.4h6.5 M557,1448.4h-6.5 M130,1523.6h6.5 M557,1523.6h-6.5 M130,1598.8h6.5 M557,1598.8h-6.5" stroke="#000" stroke-width="1.4" fill="none"/>
<rect x="629" y="1221" width="426" height="453" fill="none" stroke="#000" stroke-width="1.6"/>
<g transform="translate(650.44,1712.4) scale(0.9593,1)"><text x="0" y="0" font-size="34.4" font-family='"Liberation Sans", sans-serif' xml:space="preserve">-2</text></g>
<g transform="translate(735.64,1712.4) scale(0.9593,1)"><path d="M763 0H583V1147Q518 1085 412.5 1023Q307 961 223 930V1104Q374 1175 487 1276Q600 1377 647 1472H763Z" transform="translate(11.46,0) scale(0.01680,-0.01680)" fill="#000"/><text x="0" y="0" font-size="34.4" font-family='"Liberation Sans", sans-serif' xml:space="preserve">-</text></g>
<g transform="translate(831.83,1712.4) scale(0.9593,1)"><text x="0" y="0" font-size="34.4" font-family='"Liberation Sans", sans-serif' xml:space="preserve">0</text></g>
<g transform="translate(917.03,1712.4) scale(0.9593,1)"><path d="M763 0H583V1147Q518 1085 412.5 1023Q307 961 223 930V1104Q374 1175 487 1276Q600 1377 647 1472H763Z" transform="translate(0,0) scale(0.01680,-0.01680)" fill="#000"/></g>
<g transform="translate(1002.23,1712.4) scale(0.9593,1)"><text x="0" y="0" font-size="34.4" font-family='"Liberation Sans", sans-serif' xml:space="preserve">2</text></g>
<path d="M671.6,1674v-6.5 M756.8,1674v-6.5 M842,1674v-6.5 M927.2,1674v-6.5 M1012.4,1674v-6.5 M629,1297.9h6.5 M1055,1297.9h-6.5 M629,1373.1h6.5 M1055,1373.1h-6.5 M629,1448.4h6.5 M1055,1448.4h-6.5 M629,1523.6h6.5 M1055,1523.6h-6.5 M629,1598.8h6.5 M1055,1598.8h-6.5" stroke="#000" stroke-width="1.4" fill="none"/>
<text x="340" y="596" font-size="36" text-anchor="middle" font-family='"Liberation Serif", serif' font-weight="normal" textLength="57" lengthAdjust="spacingAndGlyphs">x (r)</text>
<text x="838.5" y="596" font-size="36" text-anchor="middle" font-family='"Liberation Serif", serif' font-weight="normal" textLength="57" lengthAdjust="spacingAndGlyphs">x (r)</text>
<text x="340" y="1176" font-size="36" text-anchor="middle" font-family='"Liberation Serif", serif' font-weight="normal" textLength="57" lengthAdjust="spacingAndGlyphs">x (r)</text>
<text x="838.5" y="1176" font-size="36" text-anchor="middle" font-family='"Liberation Serif", serif' font-weight="normal" textLength="57" lengthAdjust="spacingAndGlyphs">x (r)</text>
<text x="340" y="1753" font-size="36" text-anchor="middle" font-family='"Liberation Serif", serif' font-weight="normal" textLength="57" lengthAdjust="spacingAndGlyphs">x (r)</text>
<text x="838.5" y="1753" font-size="36" text-anchor="middle" font-family='"Liberation Serif", serif' font-weight="normal" textLength="57" lengthAdjust="spacingAndGlyphs">x (r)</text>
<text x="0" y="0" font-size="36" text-anchor="middle" font-family='"Liberation Serif", serif' font-weight="normal" textLength="57" lengthAdjust="spacingAndGlyphs" transform="translate(70.5,291) rotate(-90)">y (r)</text>
<text x="0" y="0" font-size="36" text-anchor="middle" font-family='"Liberation Serif", serif' font-weight="normal" textLength="57" lengthAdjust="spacingAndGlyphs" transform="translate(70.5,870) rotate(-90)">y (r)</text>
<text x="0" y="0" font-size="36" text-anchor="middle" font-family='"Liberation Serif", serif' font-weight="normal" textLength="105" lengthAdjust="spacingAndGlyphs" transform="translate(28,1448) rotate(-90)">p (dbar)</text>
<text x="0.5" y="24.2" font-size="29" text-anchor="start" font-family='"Liberation Sans", sans-serif' font-weight="bold" >A</text>
<text x="588.7" y="24.2" font-size="29" text-anchor="start" font-family='"Liberation Sans", sans-serif' font-weight="bold" >B</text>
<text x="0.5" y="632.8" font-size="29" text-anchor="start" font-family='"Liberation Sans", sans-serif' font-weight="bold" >C</text>
<text x="587.5" y="632.8" font-size="29" text-anchor="start" font-family='"Liberation Sans", sans-serif' font-weight="bold" >D</text>
<text x="0.5" y="1216.2" font-size="29" text-anchor="start" font-family='"Liberation Sans", sans-serif' font-weight="bold" >E</text>
<text x="591.9" y="1216.2" font-size="29" text-anchor="start" font-family='"Liberation Sans", sans-serif' font-weight="bold" >F</text>
<rect x="1126" y="64" width="19" height="57.1" fill="#ED1C24"/>
<rect x="1126" y="120.6" width="19" height="57.1" fill="#F37021"/>
<rect x="1126" y="177.2" width="19" height="57.1" fill="#F5EC1B"/>
<rect x="1126" y="233.9" width="19" height="57.1" fill="#A4CD52"/>
<rect x="1126" y="290.5" width="19" height="57.1" fill="#6CC9CB"/>
<rect x="1126" y="347.1" width="19" height="57.1" fill="#3F8ECC"/>
<rect x="1126" y="403.8" width="19" height="57.1" fill="#3558A7"/>
<rect x="1126" y="460.4" width="19" height="57.1" fill="#24358C"/>
<path d="M1126,120.6H1145 M1126,177.2H1145 M1126,233.9H1145 M1126,290.5H1145 M1126,347.1H1145 " stroke="#1a1a1a" stroke-width="1.3" fill="none"/>
<path d="M1145,63.5V517.5" stroke="#000" stroke-width="1.8" fill="none"/>
<g transform="translate(1148.3,75.12) scale(0.9593,1)"><text x="0" y="0" font-size="34.4" font-family='"Liberation Sans", sans-serif' xml:space="preserve">80</text></g>
<g transform="translate(1148.3,131.74) scale(0.9593,1)"><text x="0" y="0" font-size="34.4" font-family='"Liberation Sans", sans-serif' xml:space="preserve">60</text></g>
<g transform="translate(1148.3,188.37) scale(0.9593,1)"><text x="0" y="0" font-size="34.4" font-family='"Liberation Sans", sans-serif' xml:space="preserve">40</text></g>
<g transform="translate(1148.3,244.99) scale(0.9593,1)"><text x="0" y="0" font-size="34.4" font-family='"Liberation Sans", sans-serif' xml:space="preserve">20</text></g>
<g transform="translate(1148.3,301.62) scale(0.9593,1)"><text x="0" y="0" font-size="34.4" font-family='"Liberation Sans", sans-serif' xml:space="preserve">0</text></g>
<g transform="translate(1148.3,358.24) scale(0.9593,1)"><text x="0" y="0" font-size="34.4" font-family='"Liberation Sans", sans-serif' xml:space="preserve">-20</text></g>
<g transform="translate(1148.3,414.87) scale(0.9593,1)"><text x="0" y="0" font-size="34.4" font-family='"Liberation Sans", sans-serif' xml:space="preserve">-40</text></g>
<g transform="translate(1148.3,471.49) scale(0.9593,1)"><text x="0" y="0" font-size="34.4" font-family='"Liberation Sans", sans-serif' xml:space="preserve">-60</text></g>
<g transform="translate(1148.3,528.12) scale(0.9593,1)"><text x="0" y="0" font-size="34.4" font-family='"Liberation Sans", sans-serif' xml:space="preserve">-80</text></g>
<text x="1195" y="102.2" font-size="33" text-anchor="start" font-family='"Liberation Sans", sans-serif' font-weight="normal" >cm</text>
<rect x="1126" y="642" width="19" height="46" fill="#E31E26"/>
<rect x="1126" y="687.5" width="19" height="46" fill="#EE4423"/>
<rect x="1126" y="733" width="19" height="46" fill="#FBA919"/>
<rect x="1126" y="778.5" width="19" height="46" fill="#EFEA1C"/>
<rect x="1126" y="824" width="19" height="46" fill="#A2CD5A"/>
<rect x="1126" y="869.5" width="19" height="46" fill="#6EC8C5"/>
<rect x="1126" y="915" width="19" height="46" fill="#35B8EA"/>
<rect x="1126" y="960.5" width="19" height="46" fill="#3B5BAB"/>
<rect x="1126" y="1006" width="19" height="46" fill="#3953A4"/>
<rect x="1126" y="1051.5" width="19" height="46" fill="#25348B"/>
<path d="M1126,687.5H1145 M1126,733H1145 M1126,778.5H1145 M1126,824H1145 M1126,869.5H1145 M1126,915H1145 M1126,960.5H1145 " stroke="#1a1a1a" stroke-width="1.3" fill="none"/>
<path d="M1145,641.5V1097.5" stroke="#000" stroke-width="1.8" fill="none"/>
<g transform="translate(1148.3,653.12) scale(0.9593,1)"><text x="0" y="0" font-size="34.4" font-family='"Liberation Sans", sans-serif' xml:space="preserve">25</text></g>
<g transform="translate(1148.3,698.62) scale(0.9593,1)"><text x="0" y="0" font-size="34.4" font-family='"Liberation Sans", sans-serif' xml:space="preserve">20</text></g>
<g transform="translate(1148.3,744.12) scale(0.9593,1)"><path d="M763 0H583V1147Q518 1085 412.5 1023Q307 961 223 930V1104Q374 1175 487 1276Q600 1377 647 1472H763Z" transform="translate(0,0) scale(0.01680,-0.01680)" fill="#000"/><text x="0" y="0" font-size="34.4" font-family='"Liberation Sans", sans-serif' xml:space="preserve">  5</text></g>
<g transform="translate(1148.3,789.62) scale(0.9593,1)"><path d="M763 0H583V1147Q518 1085 412.5 1023Q307 961 223 930V1104Q374 1175 487 1276Q600 1377 647 1472H763Z" transform="translate(0,0) scale(0.01680,-0.01680)" fill="#000"/><text x="0" y="0" font-size="34.4" font-family='"Liberation Sans", sans-serif' xml:space="preserve">  0</text></g>
<g transform="translate(1148.3,835.12) scale(0.9593,1)"><text x="0" y="0" font-size="34.4" font-family='"Liberation Sans", sans-serif' xml:space="preserve">5</text></g>
<g transform="translate(1148.3,880.62) scale(0.9593,1)"><text x="0" y="0" font-size="34.4" font-family='"Liberation Sans", sans-serif' xml:space="preserve">0</text></g>
<g transform="translate(1148.3,926.12) scale(0.9593,1)"><text x="0" y="0" font-size="34.4" font-family='"Liberation Sans", sans-serif' xml:space="preserve">-5</text></g>
<g transform="translate(1148.3,971.62) scale(0.9593,1)"><path d="M763 0H583V1147Q518 1085 412.5 1023Q307 961 223 930V1104Q374 1175 487 1276Q600 1377 647 1472H763Z" transform="translate(11.46,0) scale(0.01680,-0.01680)" fill="#000"/><text x="0" y="0" font-size="34.4" font-family='"Liberation Sans", sans-serif' xml:space="preserve">-  0</text></g>
<g transform="translate(1148.3,1017.12) scale(0.9593,1)"><path d="M763 0H583V1147Q518 1085 412.5 1023Q307 961 223 930V1104Q374 1175 487 1276Q600 1377 647 1472H763Z" transform="translate(11.46,0) scale(0.01680,-0.01680)" fill="#000"/><text x="0" y="0" font-size="34.4" font-family='"Liberation Sans", sans-serif' xml:space="preserve">-  5</text></g>
<g transform="translate(1148.3,1062.62) scale(0.9593,1)"><text x="0" y="0" font-size="34.4" font-family='"Liberation Sans", sans-serif' xml:space="preserve">-20</text></g>
<g transform="translate(1148.3,1108.12) scale(0.9593,1)"><text x="0" y="0" font-size="34.4" font-family='"Liberation Sans", sans-serif' xml:space="preserve">-25</text></g>
<text x="1194" y="674.1" font-size="33" text-anchor="start" font-family='"Liberation Sans", sans-serif' font-weight="normal" >cm</text>
<rect x="1126" y="1221" width="19" height="45.8" fill="#E31E26"/>
<rect x="1126" y="1266.3" width="19" height="45.8" fill="#EE4423"/>
<rect x="1126" y="1311.6" width="19" height="45.8" fill="#FBA919"/>
<rect x="1126" y="1356.9" width="19" height="45.8" fill="#EFEA1C"/>
<rect x="1126" y="1402.2" width="19" height="45.8" fill="#A2CD5A"/>
<rect x="1126" y="1447.5" width="19" height="45.8" fill="#6EC8C5"/>
<rect x="1126" y="1492.8" width="19" height="45.8" fill="#35B8EA"/>
<rect x="1126" y="1538.1" width="19" height="45.8" fill="#3B5BAB"/>
<rect x="1126" y="1583.4" width="19" height="45.8" fill="#3953A4"/>
<rect x="1126" y="1628.7" width="19" height="45.8" fill="#25348B"/>
<path d="M1126,1266.3H1145 M1126,1311.6H1145 M1126,1356.9H1145 M1126,1402.2H1145 M1126,1447.5H1145 M1126,1492.8H1145 M1126,1538.1H1145 M1126,1583.4H1145 " stroke="#1a1a1a" stroke-width="1.3" fill="none"/>
<path d="M1145,1220.5V1674.5" stroke="#000" stroke-width="1.8" fill="none"/>
<g transform="translate(1148.3,1232.12) scale(0.9593,1)"><path d="M763 0H583V1147Q518 1085 412.5 1023Q307 961 223 930V1104Q374 1175 487 1276Q600 1377 647 1472H763Z" transform="translate(28.69,0) scale(0.01680,-0.01680)" fill="#000"/><text x="0" y="0" font-size="34.4" font-family='"Liberation Sans", sans-serif' xml:space="preserve">0.</text></g>
<g transform="translate(1148.3,1277.42) scale(0.9593,1)"><text x="0" y="0" font-size="34.4" font-family='"Liberation Sans", sans-serif' xml:space="preserve">0.08</text></g>
<g transform="translate(1148.3,1322.72) scale(0.9593,1)"><text x="0" y="0" font-size="34.4" font-family='"Liberation Sans", sans-serif' xml:space="preserve">0.06</text></g>
<g transform="translate(1148.3,1368.02) scale(0.9593,1)"><text x="0" y="0" font-size="34.4" font-family='"Liberation Sans", sans-serif' xml:space="preserve">0.04</text></g>
<g transform="translate(1148.3,1413.32) scale(0.9593,1)"><text x="0" y="0" font-size="34.4" font-family='"Liberation Sans", sans-serif' xml:space="preserve">0.02</text></g>
<g transform="translate(1148.3,1458.62) scale(0.9593,1)"><text x="0" y="0" font-size="34.4" font-family='"Liberation Sans", sans-serif' xml:space="preserve">0</text></g>
<g transform="translate(1148.3,1503.92) scale(0.9593,1)"><text x="0" y="0" font-size="34.4" font-family='"Liberation Sans", sans-serif' xml:space="preserve">-0.02</text></g>
<g transform="translate(1148.3,1549.22) scale(0.9593,1)"><text x="0" y="0" font-size="34.4" font-family='"Liberation Sans", sans-serif' xml:space="preserve">-0.04</text></g>
<g transform="translate(1148.3,1594.52) scale(0.9593,1)"><text x="0" y="0" font-size="34.4" font-family='"Liberation Sans", sans-serif' xml:space="preserve">-0.06</text></g>
<g transform="translate(1148.3,1639.82) scale(0.9593,1)"><text x="0" y="0" font-size="34.4" font-family='"Liberation Sans", sans-serif' xml:space="preserve">-0.08</text></g>
<g transform="translate(1148.3,1685.12) scale(0.9593,1)"><path d="M763 0H583V1147Q518 1085 412.5 1023Q307 961 223 930V1104Q374 1175 487 1276Q600 1377 647 1472H763Z" transform="translate(40.14,0) scale(0.01680,-0.01680)" fill="#000"/><text x="0" y="0" font-size="34.4" font-family='"Liberation Sans", sans-serif' xml:space="preserve">-0.</text></g>
<text x="1205" y="1236.5" font-size="33" text-anchor="start" font-family='"Liberation Sans", sans-serif' font-weight="normal" >kg</text><text x="1246.8" y="1236.5" font-size="33" text-anchor="start" font-family='"Liberation Sans", sans-serif' font-weight="normal" >m</text><text x="1273.5" y="1220" font-size="24" text-anchor="start" font-family='"Liberation Sans", sans-serif' font-weight="normal" >-3</text>
</svg>
</body></html>
